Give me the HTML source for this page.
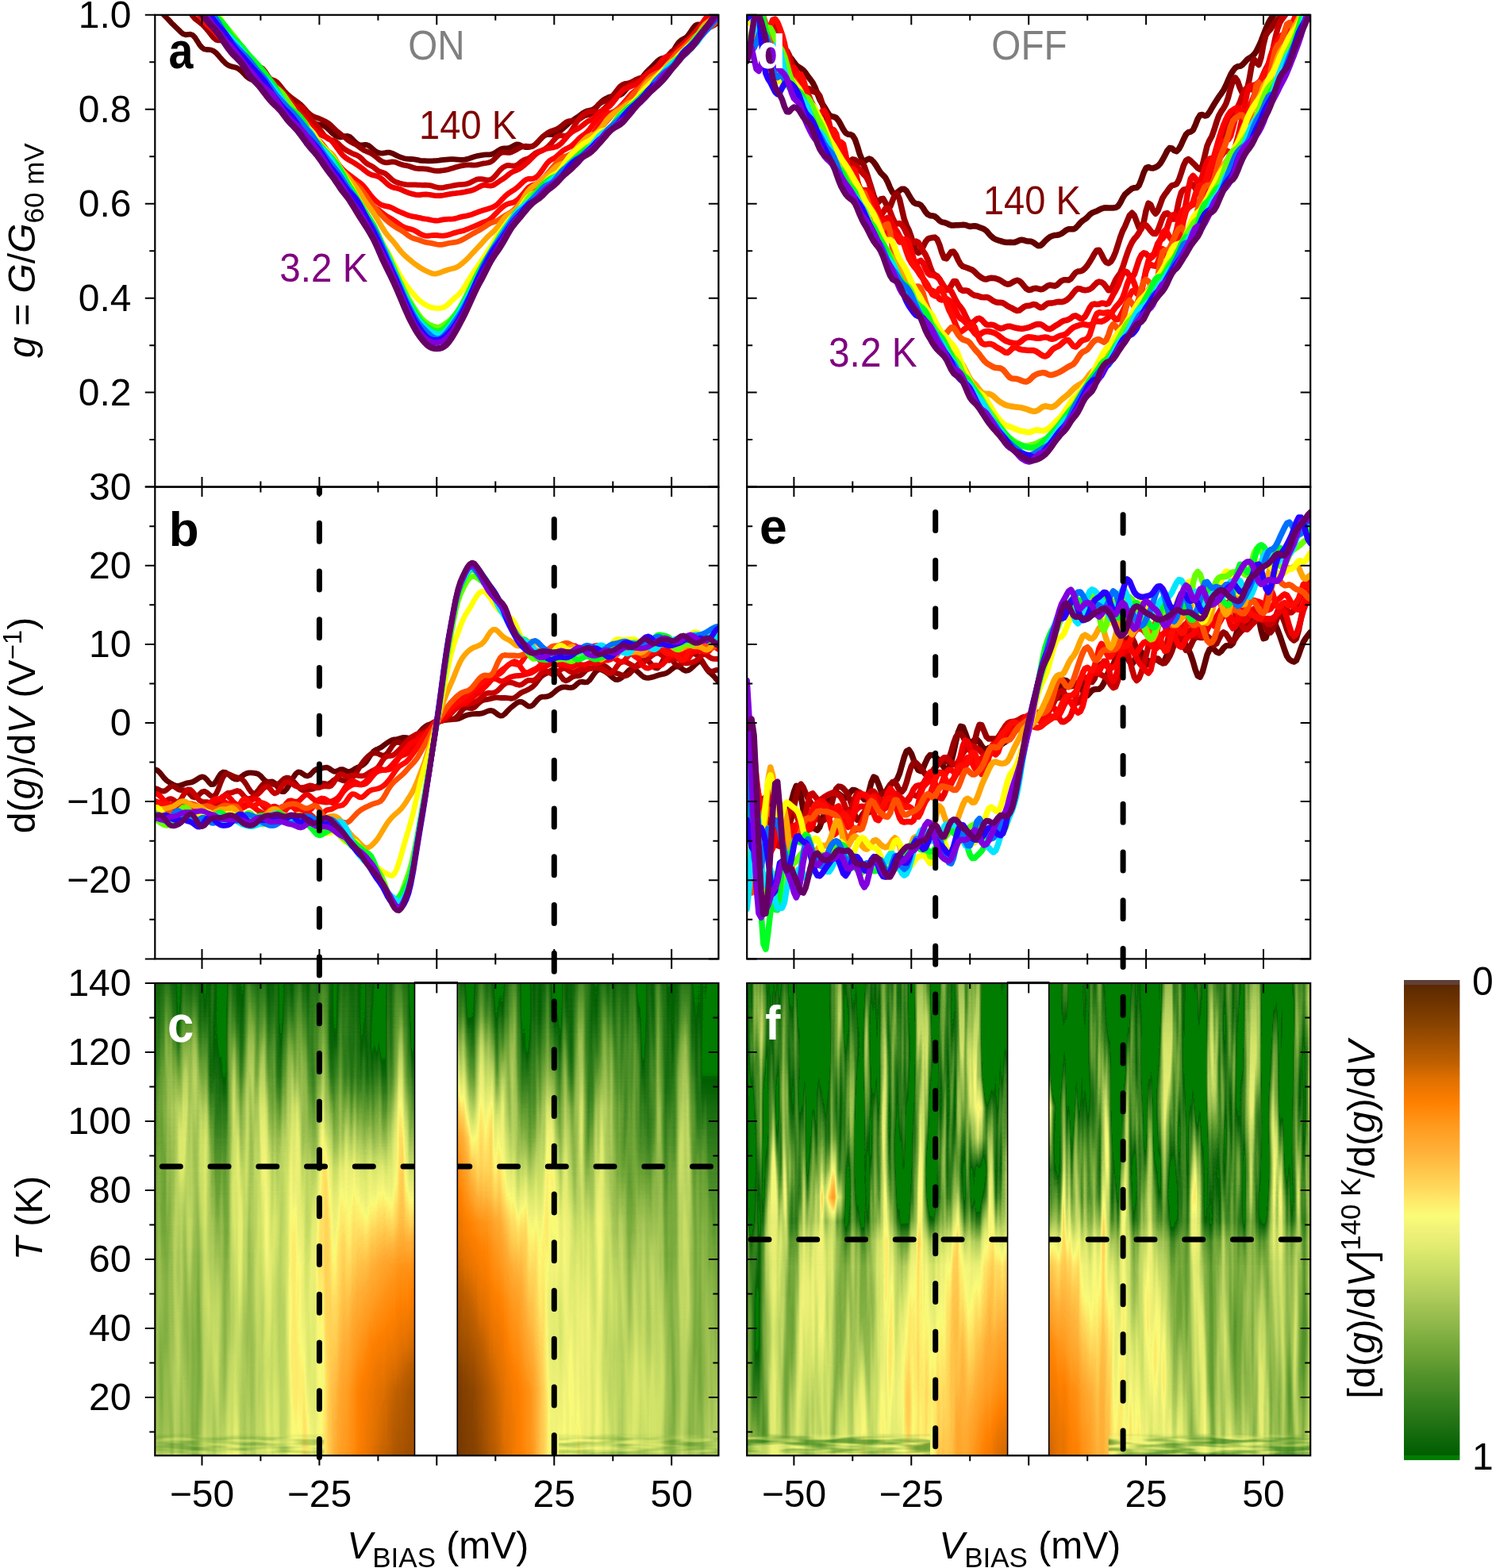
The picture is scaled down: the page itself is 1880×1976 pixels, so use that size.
<!DOCTYPE html><html><head><meta charset="utf-8"><title>Figure</title><style>
html,body{margin:0;padding:0;background:#fff;}
svg{display:block;}
text{font-family:"Liberation Sans", Arial, Helvetica, sans-serif;}
</style></head><body>
<svg xmlns="http://www.w3.org/2000/svg" width="1880" height="1976" viewBox="0 0 1880 1976">
<rect width="1880" height="1976" fill="#fff"/>
<defs><linearGradient id="hm0g0" x1="0" y1="0" x2="0" y2="1"><stop offset=".010" stop-color="#d52915"/><stop offset=".074" stop-color="#cd361b"/><stop offset=".139" stop-color="#c34221"/><stop offset=".203" stop-color="#b94321"/><stop offset=".268" stop-color="#b03f20"/><stop offset=".332" stop-color="#a9391c"/><stop offset=".397" stop-color="#a63018"/><stop offset=".454" stop-color="#a42914"/><stop offset=".504" stop-color="#a42613"/><stop offset=".547" stop-color="#a42412"/><stop offset=".597" stop-color="#a42211"/><stop offset=".669" stop-color="#a42111"/><stop offset=".755" stop-color="#a42010"/><stop offset=".855" stop-color="#a41f10"/><stop offset=".948" stop-color="#a41f10"/><stop offset=".990" stop-color="#a42915"/></linearGradient><linearGradient id="hm0g1" x1="0" y1="0" x2="0" y2="1"><stop offset=".010" stop-color="#d52915"/><stop offset=".074" stop-color="#cd361b"/><stop offset=".139" stop-color="#c34221"/><stop offset=".203" stop-color="#b94321"/><stop offset=".268" stop-color="#af3f20"/><stop offset=".332" stop-color="#a9391c"/><stop offset=".397" stop-color="#a53018"/><stop offset=".454" stop-color="#a42914"/><stop offset=".504" stop-color="#a32613"/><stop offset=".547" stop-color="#a32412"/><stop offset=".597" stop-color="#a32211"/><stop offset=".669" stop-color="#a32111"/><stop offset=".755" stop-color="#a32010"/><stop offset=".855" stop-color="#a31f10"/><stop offset=".948" stop-color="#a31f10"/><stop offset=".990" stop-color="#a32915"/></linearGradient><linearGradient id="hm0g2" x1="0" y1="0" x2="0" y2="1"><stop offset=".010" stop-color="#d52915"/><stop offset=".074" stop-color="#cd361b"/><stop offset=".139" stop-color="#c34221"/><stop offset=".203" stop-color="#b94321"/><stop offset=".268" stop-color="#af3f20"/><stop offset=".332" stop-color="#a8391c"/><stop offset=".397" stop-color="#a43018"/><stop offset=".454" stop-color="#a32914"/><stop offset=".504" stop-color="#a22613"/><stop offset=".547" stop-color="#a22412"/><stop offset=".597" stop-color="#a22211"/><stop offset=".669" stop-color="#a22111"/><stop offset=".755" stop-color="#a22010"/><stop offset=".855" stop-color="#a21f10"/><stop offset=".948" stop-color="#a21f10"/><stop offset=".990" stop-color="#a22915"/></linearGradient><linearGradient id="hm0g3" x1="0" y1="0" x2="0" y2="1"><stop offset=".010" stop-color="#d52915"/><stop offset=".074" stop-color="#cd361b"/><stop offset=".139" stop-color="#c34221"/><stop offset=".203" stop-color="#b94321"/><stop offset=".268" stop-color="#af3f20"/><stop offset=".332" stop-color="#a8391c"/><stop offset=".397" stop-color="#a43018"/><stop offset=".454" stop-color="#a22914"/><stop offset=".504" stop-color="#a22613"/><stop offset=".547" stop-color="#a22412"/><stop offset=".597" stop-color="#a22211"/><stop offset=".669" stop-color="#a22111"/><stop offset=".755" stop-color="#a22010"/><stop offset=".855" stop-color="#a11f10"/><stop offset=".948" stop-color="#a11f10"/><stop offset=".990" stop-color="#a12915"/></linearGradient><linearGradient id="hm0g4" x1="0" y1="0" x2="0" y2="1"><stop offset=".010" stop-color="#d52915"/><stop offset=".074" stop-color="#cd361b"/><stop offset=".139" stop-color="#c34221"/><stop offset=".203" stop-color="#b94321"/><stop offset=".268" stop-color="#af3f20"/><stop offset=".332" stop-color="#a7391c"/><stop offset=".397" stop-color="#a33018"/><stop offset=".454" stop-color="#a22914"/><stop offset=".504" stop-color="#a12613"/><stop offset=".547" stop-color="#a12412"/><stop offset=".597" stop-color="#a12211"/><stop offset=".669" stop-color="#a12111"/><stop offset=".755" stop-color="#a12010"/><stop offset=".855" stop-color="#a01f10"/><stop offset=".948" stop-color="#a01f10"/><stop offset=".990" stop-color="#a02915"/></linearGradient><linearGradient id="hm0g5" x1="0" y1="0" x2="0" y2="1"><stop offset=".010" stop-color="#d52915"/><stop offset=".074" stop-color="#cd361b"/><stop offset=".139" stop-color="#c34221"/><stop offset=".203" stop-color="#b94321"/><stop offset=".268" stop-color="#af3f20"/><stop offset=".332" stop-color="#a7391c"/><stop offset=".397" stop-color="#a23018"/><stop offset=".454" stop-color="#a12914"/><stop offset=".504" stop-color="#a02613"/><stop offset=".547" stop-color="#a02412"/><stop offset=".597" stop-color="#a02211"/><stop offset=".669" stop-color="#a02111"/><stop offset=".755" stop-color="#a02010"/><stop offset=".855" stop-color="#a01f10"/><stop offset=".948" stop-color="#a01f10"/><stop offset=".990" stop-color="#a02915"/></linearGradient><linearGradient id="hm0g6" x1="0" y1="0" x2="0" y2="1"><stop offset=".010" stop-color="#d52915"/><stop offset=".074" stop-color="#cd361b"/><stop offset=".139" stop-color="#c34221"/><stop offset=".203" stop-color="#b94321"/><stop offset=".268" stop-color="#ae3f20"/><stop offset=".332" stop-color="#a6391c"/><stop offset=".397" stop-color="#a23018"/><stop offset=".454" stop-color="#a02914"/><stop offset=".504" stop-color="#a02613"/><stop offset=".547" stop-color="#a02412"/><stop offset=".597" stop-color="#a02211"/><stop offset=".669" stop-color="#a02111"/><stop offset=".755" stop-color="#9f2010"/><stop offset=".855" stop-color="#9f1f10"/><stop offset=".948" stop-color="#9f1f10"/><stop offset=".990" stop-color="#9f2915"/></linearGradient><linearGradient id="hm0g7" x1="0" y1="0" x2="0" y2="1"><stop offset=".010" stop-color="#d52915"/><stop offset=".074" stop-color="#cd361b"/><stop offset=".139" stop-color="#c34221"/><stop offset=".203" stop-color="#b94321"/><stop offset=".268" stop-color="#ae3f20"/><stop offset=".332" stop-color="#a6391c"/><stop offset=".397" stop-color="#a13018"/><stop offset=".454" stop-color="#a02914"/><stop offset=".504" stop-color="#9f2613"/><stop offset=".547" stop-color="#9f2412"/><stop offset=".597" stop-color="#9f2211"/><stop offset=".669" stop-color="#9f2111"/><stop offset=".755" stop-color="#9f2010"/><stop offset=".855" stop-color="#9e1f10"/><stop offset=".948" stop-color="#9e1f10"/><stop offset=".990" stop-color="#9e2915"/></linearGradient><linearGradient id="hm0g8" x1="0" y1="0" x2="0" y2="1"><stop offset=".010" stop-color="#d52915"/><stop offset=".074" stop-color="#cd361b"/><stop offset=".139" stop-color="#c34221"/><stop offset=".203" stop-color="#b94321"/><stop offset=".268" stop-color="#ae3f20"/><stop offset=".332" stop-color="#a5391c"/><stop offset=".397" stop-color="#a03018"/><stop offset=".454" stop-color="#9f2914"/><stop offset=".504" stop-color="#9e2613"/><stop offset=".547" stop-color="#9e2412"/><stop offset=".597" stop-color="#9e2211"/><stop offset=".669" stop-color="#9e2111"/><stop offset=".755" stop-color="#9e2010"/><stop offset=".855" stop-color="#9d1f10"/><stop offset=".948" stop-color="#9d1f10"/><stop offset=".990" stop-color="#9d2915"/></linearGradient><linearGradient id="hm0g9" x1="0" y1="0" x2="0" y2="1"><stop offset=".010" stop-color="#d52915"/><stop offset=".074" stop-color="#cd361b"/><stop offset=".139" stop-color="#c34221"/><stop offset=".203" stop-color="#b94321"/><stop offset=".268" stop-color="#ae3f20"/><stop offset=".332" stop-color="#a5391c"/><stop offset=".397" stop-color="#9f3018"/><stop offset=".454" stop-color="#9e2914"/><stop offset=".504" stop-color="#9e2613"/><stop offset=".547" stop-color="#9e2412"/><stop offset=".597" stop-color="#9e2211"/><stop offset=".669" stop-color="#9e2111"/><stop offset=".755" stop-color="#9d2010"/><stop offset=".855" stop-color="#9c1f10"/><stop offset=".948" stop-color="#9c1f10"/><stop offset=".990" stop-color="#9c2915"/></linearGradient><linearGradient id="hm0g10" x1="0" y1="0" x2="0" y2="1"><stop offset=".010" stop-color="#d52915"/><stop offset=".074" stop-color="#cd361b"/><stop offset=".139" stop-color="#c34221"/><stop offset=".203" stop-color="#b94321"/><stop offset=".268" stop-color="#ad3f20"/><stop offset=".332" stop-color="#a5391c"/><stop offset=".397" stop-color="#9f3018"/><stop offset=".454" stop-color="#9e2914"/><stop offset=".504" stop-color="#9d2613"/><stop offset=".547" stop-color="#9d2412"/><stop offset=".597" stop-color="#9d2211"/><stop offset=".669" stop-color="#9d2111"/><stop offset=".755" stop-color="#9d2010"/><stop offset=".855" stop-color="#9b1f10"/><stop offset=".948" stop-color="#9b1f10"/><stop offset=".990" stop-color="#9b2915"/></linearGradient><linearGradient id="hm0g11" x1="0" y1="0" x2="0" y2="1"><stop offset=".010" stop-color="#d52915"/><stop offset=".074" stop-color="#cd361b"/><stop offset=".139" stop-color="#c34221"/><stop offset=".203" stop-color="#b94321"/><stop offset=".268" stop-color="#ad3f20"/><stop offset=".332" stop-color="#a4391c"/><stop offset=".397" stop-color="#9e3018"/><stop offset=".454" stop-color="#9c2914"/><stop offset=".504" stop-color="#9c2613"/><stop offset=".547" stop-color="#9c2412"/><stop offset=".597" stop-color="#9b2211"/><stop offset=".669" stop-color="#9b2111"/><stop offset=".755" stop-color="#9b2010"/><stop offset=".855" stop-color="#9a1f10"/><stop offset=".948" stop-color="#9a1f10"/><stop offset=".990" stop-color="#9a2915"/></linearGradient><linearGradient id="hm0g12" x1="0" y1="0" x2="0" y2="1"><stop offset=".010" stop-color="#d52915"/><stop offset=".074" stop-color="#cd361b"/><stop offset=".139" stop-color="#c34221"/><stop offset=".203" stop-color="#b94321"/><stop offset=".268" stop-color="#ad3f20"/><stop offset=".332" stop-color="#a3391c"/><stop offset=".397" stop-color="#9d3018"/><stop offset=".454" stop-color="#9b2914"/><stop offset=".504" stop-color="#9a2613"/><stop offset=".547" stop-color="#9a2412"/><stop offset=".597" stop-color="#992211"/><stop offset=".669" stop-color="#992111"/><stop offset=".755" stop-color="#992010"/><stop offset=".855" stop-color="#971f10"/><stop offset=".948" stop-color="#971f10"/><stop offset=".990" stop-color="#972915"/></linearGradient><linearGradient id="hm0g13" x1="0" y1="0" x2="0" y2="1"><stop offset=".010" stop-color="#d52915"/><stop offset=".074" stop-color="#cd361b"/><stop offset=".139" stop-color="#c34221"/><stop offset=".203" stop-color="#b94321"/><stop offset=".268" stop-color="#ad3f20"/><stop offset=".332" stop-color="#a2391c"/><stop offset=".397" stop-color="#9c3018"/><stop offset=".454" stop-color="#992914"/><stop offset=".504" stop-color="#982613"/><stop offset=".547" stop-color="#982412"/><stop offset=".597" stop-color="#972211"/><stop offset=".669" stop-color="#972111"/><stop offset=".755" stop-color="#972010"/><stop offset=".855" stop-color="#951f10"/><stop offset=".948" stop-color="#951f10"/><stop offset=".990" stop-color="#952915"/></linearGradient><linearGradient id="hm0g14" x1="0" y1="0" x2="0" y2="1"><stop offset=".010" stop-color="#d52915"/><stop offset=".074" stop-color="#cd361b"/><stop offset=".139" stop-color="#c34221"/><stop offset=".203" stop-color="#b94321"/><stop offset=".268" stop-color="#ac3f20"/><stop offset=".332" stop-color="#a2391c"/><stop offset=".397" stop-color="#9b3018"/><stop offset=".454" stop-color="#982914"/><stop offset=".504" stop-color="#962613"/><stop offset=".547" stop-color="#962412"/><stop offset=".597" stop-color="#952211"/><stop offset=".669" stop-color="#952111"/><stop offset=".755" stop-color="#942010"/><stop offset=".855" stop-color="#931f10"/><stop offset=".948" stop-color="#931f10"/><stop offset=".990" stop-color="#932915"/></linearGradient><linearGradient id="hm0g15" x1="0" y1="0" x2="0" y2="1"><stop offset=".010" stop-color="#d52915"/><stop offset=".074" stop-color="#cd361b"/><stop offset=".139" stop-color="#c34221"/><stop offset=".203" stop-color="#b94321"/><stop offset=".268" stop-color="#ac3f20"/><stop offset=".332" stop-color="#a1391c"/><stop offset=".397" stop-color="#993018"/><stop offset=".454" stop-color="#972914"/><stop offset=".504" stop-color="#952613"/><stop offset=".547" stop-color="#942412"/><stop offset=".597" stop-color="#932211"/><stop offset=".669" stop-color="#932111"/><stop offset=".755" stop-color="#922010"/><stop offset=".855" stop-color="#911f0f"/><stop offset=".948" stop-color="#911e0f"/><stop offset=".990" stop-color="#912814"/></linearGradient><linearGradient id="hm0g16" x1="0" y1="0" x2="0" y2="1"><stop offset=".010" stop-color="#d52915"/><stop offset=".074" stop-color="#cd361b"/><stop offset=".139" stop-color="#c34221"/><stop offset=".203" stop-color="#b94321"/><stop offset=".268" stop-color="#ac3f20"/><stop offset=".332" stop-color="#a0391c"/><stop offset=".397" stop-color="#983018"/><stop offset=".454" stop-color="#952914"/><stop offset=".504" stop-color="#932613"/><stop offset=".547" stop-color="#922412"/><stop offset=".597" stop-color="#912211"/><stop offset=".669" stop-color="#902110"/><stop offset=".755" stop-color="#901f10"/><stop offset=".855" stop-color="#8f1d0f"/><stop offset=".948" stop-color="#8f1d0f"/><stop offset=".990" stop-color="#8f2713"/></linearGradient><linearGradient id="hm0g17" x1="0" y1="0" x2="0" y2="1"><stop offset=".010" stop-color="#d52915"/><stop offset=".074" stop-color="#cd361b"/><stop offset=".139" stop-color="#c34221"/><stop offset=".203" stop-color="#b94321"/><stop offset=".268" stop-color="#ab3f20"/><stop offset=".332" stop-color="#9f391c"/><stop offset=".397" stop-color="#973018"/><stop offset=".454" stop-color="#942914"/><stop offset=".504" stop-color="#912613"/><stop offset=".547" stop-color="#902311"/><stop offset=".597" stop-color="#8e2010"/><stop offset=".669" stop-color="#8e1f10"/><stop offset=".755" stop-color="#8e1e0f"/><stop offset=".855" stop-color="#8c1c0e"/><stop offset=".948" stop-color="#8c1c0e"/><stop offset=".990" stop-color="#8c2512"/></linearGradient><linearGradient id="hm0g18" x1="0" y1="0" x2="0" y2="1"><stop offset=".010" stop-color="#d52915"/><stop offset=".074" stop-color="#cd361b"/><stop offset=".139" stop-color="#c34221"/><stop offset=".203" stop-color="#b94321"/><stop offset=".268" stop-color="#ab3f20"/><stop offset=".332" stop-color="#9e391c"/><stop offset=".397" stop-color="#963018"/><stop offset=".454" stop-color="#922914"/><stop offset=".504" stop-color="#8f2412"/><stop offset=".547" stop-color="#8d2111"/><stop offset=".597" stop-color="#8c1e0f"/><stop offset=".669" stop-color="#8b1e0f"/><stop offset=".755" stop-color="#8b1c0e"/><stop offset=".855" stop-color="#8a1b0d"/><stop offset=".948" stop-color="#8a1b0d"/><stop offset=".990" stop-color="#8a2312"/></linearGradient><linearGradient id="hm0g19" x1="0" y1="0" x2="0" y2="1"><stop offset=".010" stop-color="#d52915"/><stop offset=".074" stop-color="#cd361b"/><stop offset=".139" stop-color="#c34221"/><stop offset=".203" stop-color="#b94321"/><stop offset=".268" stop-color="#aa3f20"/><stop offset=".332" stop-color="#9d391c"/><stop offset=".397" stop-color="#943018"/><stop offset=".454" stop-color="#902714"/><stop offset=".504" stop-color="#8c2311"/><stop offset=".547" stop-color="#8b2010"/><stop offset=".597" stop-color="#891d0e"/><stop offset=".669" stop-color="#891c0e"/><stop offset=".755" stop-color="#881b0d"/><stop offset=".855" stop-color="#881a0d"/><stop offset=".948" stop-color="#88190d"/><stop offset=".990" stop-color="#882211"/></linearGradient><linearGradient id="hm0g20" x1="0" y1="0" x2="0" y2="1"><stop offset=".010" stop-color="#d52915"/><stop offset=".074" stop-color="#cd361b"/><stop offset=".139" stop-color="#c34221"/><stop offset=".203" stop-color="#b84321"/><stop offset=".268" stop-color="#aa3f20"/><stop offset=".332" stop-color="#9d391c"/><stop offset=".397" stop-color="#933018"/><stop offset=".454" stop-color="#8e2613"/><stop offset=".504" stop-color="#8b2111"/><stop offset=".547" stop-color="#891e0f"/><stop offset=".597" stop-color="#871b0e"/><stop offset=".669" stop-color="#861b0d"/><stop offset=".755" stop-color="#861a0d"/><stop offset=".855" stop-color="#86190c"/><stop offset=".948" stop-color="#86180c"/><stop offset=".990" stop-color="#862010"/></linearGradient><linearGradient id="hm0g21" x1="0" y1="0" x2="0" y2="1"><stop offset=".010" stop-color="#d52915"/><stop offset=".074" stop-color="#cd361b"/><stop offset=".139" stop-color="#c34221"/><stop offset=".203" stop-color="#b84321"/><stop offset=".268" stop-color="#a93f20"/><stop offset=".332" stop-color="#9c391c"/><stop offset=".397" stop-color="#923018"/><stop offset=".454" stop-color="#8d2513"/><stop offset=".504" stop-color="#892010"/><stop offset=".547" stop-color="#871d0f"/><stop offset=".597" stop-color="#851a0d"/><stop offset=".669" stop-color="#851a0d"/><stop offset=".755" stop-color="#85190c"/><stop offset=".855" stop-color="#85180c"/><stop offset=".948" stop-color="#85180c"/><stop offset=".990" stop-color="#851f10"/></linearGradient><linearGradient id="hm0g22" x1="0" y1="0" x2="0" y2="1"><stop offset=".010" stop-color="#d52915"/><stop offset=".074" stop-color="#cd361b"/><stop offset=".139" stop-color="#c34221"/><stop offset=".203" stop-color="#b84321"/><stop offset=".268" stop-color="#a93f20"/><stop offset=".332" stop-color="#9b391c"/><stop offset=".397" stop-color="#902e17"/><stop offset=".454" stop-color="#8c2412"/><stop offset=".504" stop-color="#882010"/><stop offset=".547" stop-color="#861c0e"/><stop offset=".597" stop-color="#84190d"/><stop offset=".669" stop-color="#84190c"/><stop offset=".755" stop-color="#84180c"/><stop offset=".855" stop-color="#84170c"/><stop offset=".948" stop-color="#83170b"/><stop offset=".990" stop-color="#831e0f"/></linearGradient><linearGradient id="hm0g23" x1="0" y1="0" x2="0" y2="1"><stop offset=".010" stop-color="#d52915"/><stop offset=".074" stop-color="#cd361b"/><stop offset=".139" stop-color="#c34221"/><stop offset=".203" stop-color="#b84321"/><stop offset=".268" stop-color="#a93f20"/><stop offset=".332" stop-color="#9b391c"/><stop offset=".397" stop-color="#8f2d17"/><stop offset=".454" stop-color="#8a2312"/><stop offset=".504" stop-color="#871f0f"/><stop offset=".547" stop-color="#851c0e"/><stop offset=".597" stop-color="#82190c"/><stop offset=".669" stop-color="#82180c"/><stop offset=".755" stop-color="#83180c"/><stop offset=".855" stop-color="#83170b"/><stop offset=".948" stop-color="#82160b"/><stop offset=".990" stop-color="#811d0e"/></linearGradient><linearGradient id="hm0g24" x1="0" y1="0" x2="0" y2="1"><stop offset=".010" stop-color="#d52915"/><stop offset=".074" stop-color="#cd361b"/><stop offset=".139" stop-color="#c34221"/><stop offset=".203" stop-color="#b84321"/><stop offset=".268" stop-color="#a83f20"/><stop offset=".332" stop-color="#9a391c"/><stop offset=".397" stop-color="#8e2c16"/><stop offset=".454" stop-color="#892211"/><stop offset=".504" stop-color="#861e0f"/><stop offset=".547" stop-color="#831b0d"/><stop offset=".597" stop-color="#81180c"/><stop offset=".669" stop-color="#81170c"/><stop offset=".755" stop-color="#82170c"/><stop offset=".855" stop-color="#82160b"/><stop offset=".948" stop-color="#80150a"/><stop offset=".990" stop-color="#7f1b0e"/></linearGradient><linearGradient id="hm0g25" x1="0" y1="0" x2="0" y2="1"><stop offset=".010" stop-color="#d52915"/><stop offset=".074" stop-color="#cd361b"/><stop offset=".139" stop-color="#c34221"/><stop offset=".203" stop-color="#b84321"/><stop offset=".268" stop-color="#a83f20"/><stop offset=".332" stop-color="#99391c"/><stop offset=".397" stop-color="#8d2b16"/><stop offset=".454" stop-color="#882111"/><stop offset=".504" stop-color="#841d0e"/><stop offset=".547" stop-color="#821a0d"/><stop offset=".597" stop-color="#7f170b"/><stop offset=".669" stop-color="#80170b"/><stop offset=".755" stop-color="#81170b"/><stop offset=".855" stop-color="#81160b"/><stop offset=".948" stop-color="#7e140a"/><stop offset=".990" stop-color="#7e1a0d"/></linearGradient><linearGradient id="hm0g26" x1="0" y1="0" x2="0" y2="1"><stop offset=".010" stop-color="#d52915"/><stop offset=".074" stop-color="#cd361b"/><stop offset=".139" stop-color="#c34221"/><stop offset=".203" stop-color="#b84321"/><stop offset=".268" stop-color="#a83f20"/><stop offset=".332" stop-color="#98391c"/><stop offset=".397" stop-color="#8c2a15"/><stop offset=".454" stop-color="#872010"/><stop offset=".504" stop-color="#831c0e"/><stop offset=".547" stop-color="#81190c"/><stop offset=".597" stop-color="#7e160b"/><stop offset=".669" stop-color="#7f160b"/><stop offset=".755" stop-color="#80160b"/><stop offset=".855" stop-color="#80150b"/><stop offset=".948" stop-color="#7c1309"/><stop offset=".990" stop-color="#7c180c"/></linearGradient><linearGradient id="hm0g27" x1="0" y1="0" x2="0" y2="1"><stop offset=".010" stop-color="#d52915"/><stop offset=".074" stop-color="#cd361b"/><stop offset=".139" stop-color="#c34221"/><stop offset=".203" stop-color="#b84321"/><stop offset=".268" stop-color="#a73f20"/><stop offset=".332" stop-color="#97391c"/><stop offset=".397" stop-color="#8a2915"/><stop offset=".454" stop-color="#852010"/><stop offset=".504" stop-color="#821b0e"/><stop offset=".547" stop-color="#7f180c"/><stop offset=".597" stop-color="#7c150a"/><stop offset=".669" stop-color="#7d150b"/><stop offset=".755" stop-color="#7f150b"/><stop offset=".855" stop-color="#7e140a"/><stop offset=".948" stop-color="#7a1209"/><stop offset=".990" stop-color="#79170b"/></linearGradient><linearGradient id="hm0g28" x1="0" y1="0" x2="0" y2="1"><stop offset=".010" stop-color="#d52915"/><stop offset=".074" stop-color="#cd361b"/><stop offset=".139" stop-color="#c34221"/><stop offset=".203" stop-color="#b84321"/><stop offset=".268" stop-color="#a73f20"/><stop offset=".332" stop-color="#96391c"/><stop offset=".397" stop-color="#892814"/><stop offset=".454" stop-color="#841f0f"/><stop offset=".504" stop-color="#801a0d"/><stop offset=".547" stop-color="#7e170b"/><stop offset=".597" stop-color="#7b140a"/><stop offset=".669" stop-color="#7b130a"/><stop offset=".755" stop-color="#7b1309"/><stop offset=".855" stop-color="#791108"/><stop offset=".948" stop-color="#750f07"/><stop offset=".990" stop-color="#741309"/></linearGradient><linearGradient id="hm0g29" x1="0" y1="0" x2="0" y2="1"><stop offset=".010" stop-color="#d52915"/><stop offset=".074" stop-color="#cd361b"/><stop offset=".139" stop-color="#c34221"/><stop offset=".203" stop-color="#b84321"/><stop offset=".268" stop-color="#a63f20"/><stop offset=".332" stop-color="#95391c"/><stop offset=".397" stop-color="#882714"/><stop offset=".454" stop-color="#831e0f"/><stop offset=".504" stop-color="#7f190d"/><stop offset=".547" stop-color="#7c160b"/><stop offset=".597" stop-color="#791309"/><stop offset=".669" stop-color="#781209"/><stop offset=".755" stop-color="#761008"/><stop offset=".855" stop-color="#730e07"/><stop offset=".948" stop-color="#6f0c06"/><stop offset=".990" stop-color="#6f0f07"/></linearGradient><linearGradient id="hm0g30" x1="0" y1="0" x2="0" y2="1"><stop offset=".010" stop-color="#d52915"/><stop offset=".074" stop-color="#cd361b"/><stop offset=".139" stop-color="#c34221"/><stop offset=".203" stop-color="#b74321"/><stop offset=".268" stop-color="#a53f20"/><stop offset=".332" stop-color="#94391c"/><stop offset=".397" stop-color="#872613"/><stop offset=".454" stop-color="#821d0e"/><stop offset=".504" stop-color="#7e180c"/><stop offset=".547" stop-color="#7b150b"/><stop offset=".597" stop-color="#781209"/><stop offset=".669" stop-color="#751008"/><stop offset=".755" stop-color="#720e07"/><stop offset=".855" stop-color="#6d0a05"/><stop offset=".948" stop-color="#6a0804"/><stop offset=".990" stop-color="#690b05"/></linearGradient><linearGradient id="hm0g31" x1="0" y1="0" x2="0" y2="1"><stop offset=".010" stop-color="#d52915"/><stop offset=".074" stop-color="#cd361b"/><stop offset=".139" stop-color="#c34221"/><stop offset=".203" stop-color="#b74321"/><stop offset=".268" stop-color="#a53f20"/><stop offset=".332" stop-color="#94391c"/><stop offset=".397" stop-color="#862513"/><stop offset=".454" stop-color="#811c0e"/><stop offset=".504" stop-color="#7d180c"/><stop offset=".547" stop-color="#7a140a"/><stop offset=".597" stop-color="#761108"/><stop offset=".669" stop-color="#720e07"/><stop offset=".755" stop-color="#6e0b06"/><stop offset=".855" stop-color="#670704"/><stop offset=".948" stop-color="#650503"/><stop offset=".990" stop-color="#640703"/></linearGradient><linearGradient id="hm0g32" x1="0" y1="0" x2="0" y2="1"><stop offset=".010" stop-color="#d52915"/><stop offset=".074" stop-color="#cd361b"/><stop offset=".139" stop-color="#c34221"/><stop offset=".203" stop-color="#b74321"/><stop offset=".268" stop-color="#a43f20"/><stop offset=".332" stop-color="#93391c"/><stop offset=".397" stop-color="#852412"/><stop offset=".454" stop-color="#801b0e"/><stop offset=".504" stop-color="#7c170b"/><stop offset=".547" stop-color="#78130a"/><stop offset=".597" stop-color="#741008"/><stop offset=".669" stop-color="#700d06"/><stop offset=".755" stop-color="#6a0904"/><stop offset=".855" stop-color="#630402"/><stop offset=".948" stop-color="#600301"/><stop offset=".990" stop-color="#5f0302"/></linearGradient><linearGradient id="hm0g33" x1="0" y1="0" x2="0" y2="1"><stop offset=".010" stop-color="#d52915"/><stop offset=".074" stop-color="#cd361b"/><stop offset=".139" stop-color="#c34221"/><stop offset=".203" stop-color="#b64321"/><stop offset=".268" stop-color="#a43f20"/><stop offset=".332" stop-color="#92391c"/><stop offset=".397" stop-color="#842412"/><stop offset=".454" stop-color="#7f1b0d"/><stop offset=".504" stop-color="#7b160b"/><stop offset=".547" stop-color="#771209"/><stop offset=".597" stop-color="#730f07"/><stop offset=".669" stop-color="#6d0b05"/><stop offset=".755" stop-color="#660703"/><stop offset=".855" stop-color="#5f0201"/><stop offset=".948" stop-color="#5d0201"/><stop offset=".990" stop-color="#5d0302"/></linearGradient><linearGradient id="hm0g34" x1="0" y1="0" x2="0" y2="1"><stop offset=".010" stop-color="#d52915"/><stop offset=".074" stop-color="#cd361b"/><stop offset=".139" stop-color="#c34221"/><stop offset=".203" stop-color="#b64321"/><stop offset=".268" stop-color="#a33f20"/><stop offset=".332" stop-color="#92391c"/><stop offset=".397" stop-color="#842412"/><stop offset=".454" stop-color="#7f1a0d"/><stop offset=".504" stop-color="#7a150b"/><stop offset=".547" stop-color="#761209"/><stop offset=".597" stop-color="#710e07"/><stop offset=".669" stop-color="#6a0905"/><stop offset=".755" stop-color="#630502"/><stop offset=".855" stop-color="#5c0201"/><stop offset=".948" stop-color="#5a0201"/><stop offset=".990" stop-color="#5a0302"/></linearGradient><linearGradient id="hm0g35" x1="0" y1="0" x2="0" y2="1"><stop offset=".010" stop-color="#d52915"/><stop offset=".074" stop-color="#cd361b"/><stop offset=".139" stop-color="#c24221"/><stop offset=".203" stop-color="#b64321"/><stop offset=".268" stop-color="#a33f20"/><stop offset=".332" stop-color="#92391c"/><stop offset=".397" stop-color="#842312"/><stop offset=".454" stop-color="#7e1a0d"/><stop offset=".504" stop-color="#79150a"/><stop offset=".547" stop-color="#741108"/><stop offset=".597" stop-color="#6f0c06"/><stop offset=".669" stop-color="#670804"/><stop offset=".755" stop-color="#5f0301"/><stop offset=".855" stop-color="#580201"/><stop offset=".948" stop-color="#580201"/><stop offset=".990" stop-color="#570302"/></linearGradient><linearGradient id="hm0g36" x1="0" y1="0" x2="0" y2="1"><stop offset=".010" stop-color="#d52915"/><stop offset=".074" stop-color="#cd361b"/><stop offset=".139" stop-color="#c24221"/><stop offset=".203" stop-color="#b54321"/><stop offset=".268" stop-color="#a33f20"/><stop offset=".332" stop-color="#91381c"/><stop offset=".397" stop-color="#832311"/><stop offset=".454" stop-color="#7d190d"/><stop offset=".504" stop-color="#78140a"/><stop offset=".547" stop-color="#731008"/><stop offset=".597" stop-color="#6d0b06"/><stop offset=".669" stop-color="#650603"/><stop offset=".755" stop-color="#5c0301"/><stop offset=".855" stop-color="#550201"/><stop offset=".948" stop-color="#550201"/><stop offset=".990" stop-color="#550302"/></linearGradient><linearGradient id="hm0g37" x1="0" y1="0" x2="0" y2="1"><stop offset=".010" stop-color="#d52915"/><stop offset=".074" stop-color="#cd361b"/><stop offset=".139" stop-color="#c24221"/><stop offset=".203" stop-color="#b54321"/><stop offset=".268" stop-color="#a23f20"/><stop offset=".332" stop-color="#91381c"/><stop offset=".397" stop-color="#832311"/><stop offset=".454" stop-color="#7d190d"/><stop offset=".504" stop-color="#77140a"/><stop offset=".547" stop-color="#720f07"/><stop offset=".597" stop-color="#6b0a05"/><stop offset=".669" stop-color="#620502"/><stop offset=".755" stop-color="#5a0301"/><stop offset=".855" stop-color="#530201"/><stop offset=".948" stop-color="#520201"/><stop offset=".990" stop-color="#520302"/></linearGradient><linearGradient id="hm0g38" x1="0" y1="0" x2="0" y2="1"><stop offset=".010" stop-color="#d52915"/><stop offset=".074" stop-color="#cd361b"/><stop offset=".139" stop-color="#c24221"/><stop offset=".203" stop-color="#b54321"/><stop offset=".268" stop-color="#a23f20"/><stop offset=".332" stop-color="#91381c"/><stop offset=".397" stop-color="#832211"/><stop offset=".454" stop-color="#7c190c"/><stop offset=".504" stop-color="#76130a"/><stop offset=".547" stop-color="#700e07"/><stop offset=".597" stop-color="#690904"/><stop offset=".669" stop-color="#610302"/><stop offset=".755" stop-color="#580301"/><stop offset=".855" stop-color="#510201"/><stop offset=".948" stop-color="#500201"/><stop offset=".990" stop-color="#500302"/></linearGradient><linearGradient id="hm0g39" x1="0" y1="0" x2="0" y2="1"><stop offset=".010" stop-color="#d52915"/><stop offset=".074" stop-color="#cd361b"/><stop offset=".139" stop-color="#c24221"/><stop offset=".203" stop-color="#b44321"/><stop offset=".268" stop-color="#a13f20"/><stop offset=".332" stop-color="#90371c"/><stop offset=".397" stop-color="#822211"/><stop offset=".454" stop-color="#7c190c"/><stop offset=".504" stop-color="#761309"/><stop offset=".547" stop-color="#6f0d07"/><stop offset=".597" stop-color="#670804"/><stop offset=".669" stop-color="#5f0301"/><stop offset=".755" stop-color="#560301"/><stop offset=".855" stop-color="#500201"/><stop offset=".948" stop-color="#4e0201"/><stop offset=".990" stop-color="#4e0302"/></linearGradient><linearGradient id="hm0g40" x1="0" y1="0" x2="0" y2="1"><stop offset=".010" stop-color="#d52915"/><stop offset=".074" stop-color="#cd361b"/><stop offset=".139" stop-color="#c24221"/><stop offset=".203" stop-color="#b44321"/><stop offset=".268" stop-color="#a13f20"/><stop offset=".332" stop-color="#90371b"/><stop offset=".397" stop-color="#822211"/><stop offset=".454" stop-color="#7c180c"/><stop offset=".504" stop-color="#751209"/><stop offset=".547" stop-color="#6e0c06"/><stop offset=".597" stop-color="#660703"/><stop offset=".669" stop-color="#5d0301"/><stop offset=".755" stop-color="#540301"/><stop offset=".855" stop-color="#4e0201"/><stop offset=".948" stop-color="#4c0201"/><stop offset=".990" stop-color="#4b0302"/></linearGradient><linearGradient id="hm0g41" x1="0" y1="0" x2="0" y2="1"><stop offset=".010" stop-color="#d52915"/><stop offset=".074" stop-color="#cd361b"/><stop offset=".139" stop-color="#c24221"/><stop offset=".203" stop-color="#b44321"/><stop offset=".268" stop-color="#a13f20"/><stop offset=".332" stop-color="#8f361b"/><stop offset=".397" stop-color="#812111"/><stop offset=".454" stop-color="#7b180c"/><stop offset=".504" stop-color="#741209"/><stop offset=".547" stop-color="#6d0c06"/><stop offset=".597" stop-color="#640503"/><stop offset=".669" stop-color="#5b0301"/><stop offset=".755" stop-color="#520301"/><stop offset=".855" stop-color="#4c0201"/><stop offset=".948" stop-color="#4a0201"/><stop offset=".990" stop-color="#490302"/></linearGradient><linearGradient id="hm0g42" x1="0" y1="0" x2="0" y2="1"><stop offset=".010" stop-color="#d52915"/><stop offset=".074" stop-color="#cd361b"/><stop offset=".139" stop-color="#c14221"/><stop offset=".203" stop-color="#b34321"/><stop offset=".268" stop-color="#a03f20"/><stop offset=".332" stop-color="#8f361b"/><stop offset=".397" stop-color="#812111"/><stop offset=".454" stop-color="#7b170c"/><stop offset=".504" stop-color="#731108"/><stop offset=".547" stop-color="#6b0b05"/><stop offset=".597" stop-color="#620402"/><stop offset=".669" stop-color="#5a0301"/><stop offset=".755" stop-color="#510301"/><stop offset=".855" stop-color="#4b0201"/><stop offset=".948" stop-color="#480201"/><stop offset=".990" stop-color="#470302"/></linearGradient><linearGradient id="hm0g43" x1="0" y1="0" x2="0" y2="1"><stop offset=".010" stop-color="#d52915"/><stop offset=".074" stop-color="#cd361b"/><stop offset=".139" stop-color="#c14221"/><stop offset=".203" stop-color="#b24321"/><stop offset=".268" stop-color="#9f3f20"/><stop offset=".332" stop-color="#8f361b"/><stop offset=".397" stop-color="#812111"/><stop offset=".454" stop-color="#7a170b"/><stop offset=".504" stop-color="#721008"/><stop offset=".547" stop-color="#6a0a05"/><stop offset=".597" stop-color="#600301"/><stop offset=".669" stop-color="#580301"/><stop offset=".755" stop-color="#510301"/><stop offset=".855" stop-color="#490201"/><stop offset=".948" stop-color="#460201"/><stop offset=".990" stop-color="#450302"/></linearGradient><linearGradient id="hm0g44" x1="0" y1="0" x2="0" y2="1"><stop offset=".010" stop-color="#d52915"/><stop offset=".074" stop-color="#cd361b"/><stop offset=".139" stop-color="#c14221"/><stop offset=".203" stop-color="#b14321"/><stop offset=".268" stop-color="#9f3f20"/><stop offset=".332" stop-color="#8e351b"/><stop offset=".397" stop-color="#812111"/><stop offset=".454" stop-color="#79160b"/><stop offset=".504" stop-color="#710f08"/><stop offset=".547" stop-color="#680904"/><stop offset=".597" stop-color="#5e0301"/><stop offset=".669" stop-color="#570301"/><stop offset=".755" stop-color="#500301"/><stop offset=".855" stop-color="#480201"/><stop offset=".948" stop-color="#440201"/><stop offset=".990" stop-color="#430302"/></linearGradient><linearGradient id="hm0g45" x1="0" y1="0" x2="0" y2="1"><stop offset=".010" stop-color="#d52915"/><stop offset=".074" stop-color="#cd361b"/><stop offset=".139" stop-color="#c04221"/><stop offset=".203" stop-color="#b04321"/><stop offset=".268" stop-color="#9e3f20"/><stop offset=".332" stop-color="#8e351b"/><stop offset=".397" stop-color="#812111"/><stop offset=".454" stop-color="#79160b"/><stop offset=".504" stop-color="#700e07"/><stop offset=".547" stop-color="#670804"/><stop offset=".597" stop-color="#5c0301"/><stop offset=".669" stop-color="#560301"/><stop offset=".755" stop-color="#4f0301"/><stop offset=".855" stop-color="#460201"/><stop offset=".948" stop-color="#420201"/><stop offset=".990" stop-color="#410302"/></linearGradient><linearGradient id="hm0g46" x1="0" y1="0" x2="0" y2="1"><stop offset=".010" stop-color="#d52915"/><stop offset=".074" stop-color="#cd361b"/><stop offset=".139" stop-color="#c04221"/><stop offset=".203" stop-color="#b04321"/><stop offset=".268" stop-color="#9d3f20"/><stop offset=".332" stop-color="#8d341a"/><stop offset=".397" stop-color="#812110"/><stop offset=".454" stop-color="#78150b"/><stop offset=".504" stop-color="#6f0e07"/><stop offset=".547" stop-color="#660704"/><stop offset=".597" stop-color="#5b0301"/><stop offset=".669" stop-color="#540301"/><stop offset=".755" stop-color="#4d0301"/><stop offset=".855" stop-color="#440201"/><stop offset=".948" stop-color="#400201"/><stop offset=".990" stop-color="#3f0302"/></linearGradient><linearGradient id="hm0g47" x1="0" y1="0" x2="0" y2="1"><stop offset=".010" stop-color="#d52915"/><stop offset=".074" stop-color="#cd361b"/><stop offset=".139" stop-color="#bf4221"/><stop offset=".203" stop-color="#af4321"/><stop offset=".268" stop-color="#9d3f20"/><stop offset=".332" stop-color="#8d341a"/><stop offset=".397" stop-color="#802010"/><stop offset=".454" stop-color="#77150a"/><stop offset=".504" stop-color="#6e0d06"/><stop offset=".547" stop-color="#650603"/><stop offset=".597" stop-color="#5a0301"/><stop offset=".669" stop-color="#530301"/><stop offset=".755" stop-color="#4b0301"/><stop offset=".855" stop-color="#420201"/><stop offset=".948" stop-color="#3f0201"/><stop offset=".990" stop-color="#3e0302"/></linearGradient><linearGradient id="hm0g48" x1="0" y1="0" x2="0" y2="1"><stop offset=".010" stop-color="#d52915"/><stop offset=".074" stop-color="#cd361b"/><stop offset=".139" stop-color="#bf4221"/><stop offset=".203" stop-color="#af4321"/><stop offset=".268" stop-color="#9c3f20"/><stop offset=".332" stop-color="#8c331a"/><stop offset=".397" stop-color="#802010"/><stop offset=".454" stop-color="#76140a"/><stop offset=".504" stop-color="#6d0c06"/><stop offset=".547" stop-color="#640603"/><stop offset=".597" stop-color="#590301"/><stop offset=".669" stop-color="#520301"/><stop offset=".755" stop-color="#4a0301"/><stop offset=".855" stop-color="#400201"/><stop offset=".948" stop-color="#3d0201"/><stop offset=".990" stop-color="#3c0302"/></linearGradient><linearGradient id="hm0g49" x1="0" y1="0" x2="0" y2="1"><stop offset=".010" stop-color="#d52915"/><stop offset=".074" stop-color="#cd361b"/><stop offset=".139" stop-color="#be4221"/><stop offset=".203" stop-color="#ae4321"/><stop offset=".268" stop-color="#9c3f20"/><stop offset=".332" stop-color="#8c3319"/><stop offset=".397" stop-color="#802010"/><stop offset=".454" stop-color="#76140a"/><stop offset=".504" stop-color="#6c0c06"/><stop offset=".547" stop-color="#630503"/><stop offset=".597" stop-color="#580301"/><stop offset=".669" stop-color="#510301"/><stop offset=".755" stop-color="#480301"/><stop offset=".855" stop-color="#3e0201"/><stop offset=".948" stop-color="#3c0201"/><stop offset=".990" stop-color="#3b0302"/></linearGradient><linearGradient id="hm0g50" x1="0" y1="0" x2="0" y2="1"><stop offset=".010" stop-color="#d52915"/><stop offset=".074" stop-color="#cd361b"/><stop offset=".139" stop-color="#be4221"/><stop offset=".203" stop-color="#ad4321"/><stop offset=".268" stop-color="#9b3f20"/><stop offset=".332" stop-color="#8b3219"/><stop offset=".397" stop-color="#802010"/><stop offset=".454" stop-color="#76140a"/><stop offset=".504" stop-color="#6c0c06"/><stop offset=".547" stop-color="#630503"/><stop offset=".597" stop-color="#580301"/><stop offset=".669" stop-color="#500301"/><stop offset=".755" stop-color="#470301"/><stop offset=".855" stop-color="#3d0201"/><stop offset=".948" stop-color="#3b0201"/><stop offset=".990" stop-color="#3b0302"/></linearGradient><linearGradient id="hm0g51" x1="0" y1="0" x2="0" y2="1"><stop offset=".010" stop-color="#d52915"/><stop offset=".074" stop-color="#cd361b"/><stop offset=".139" stop-color="#bd4221"/><stop offset=".203" stop-color="#ad4321"/><stop offset=".268" stop-color="#9a3f20"/><stop offset=".332" stop-color="#8b3219"/><stop offset=".397" stop-color="#802010"/><stop offset=".454" stop-color="#76140a"/><stop offset=".504" stop-color="#6c0c06"/><stop offset=".547" stop-color="#620502"/><stop offset=".597" stop-color="#570301"/><stop offset=".669" stop-color="#4f0301"/><stop offset=".755" stop-color="#460301"/><stop offset=".855" stop-color="#3c0201"/><stop offset=".948" stop-color="#3b0201"/><stop offset=".990" stop-color="#3a0302"/></linearGradient><linearGradient id="hm0g52" x1="0" y1="0" x2="0" y2="1"><stop offset=".010" stop-color="#d52915"/><stop offset=".074" stop-color="#cd361b"/><stop offset=".139" stop-color="#bd4221"/><stop offset=".203" stop-color="#ad4321"/><stop offset=".268" stop-color="#9a3f20"/><stop offset=".332" stop-color="#8b3219"/><stop offset=".397" stop-color="#802010"/><stop offset=".454" stop-color="#76140a"/><stop offset=".504" stop-color="#6c0c06"/><stop offset=".547" stop-color="#620502"/><stop offset=".597" stop-color="#570301"/><stop offset=".669" stop-color="#4f0301"/><stop offset=".755" stop-color="#460301"/><stop offset=".855" stop-color="#3c0201"/><stop offset=".948" stop-color="#3b0201"/><stop offset=".990" stop-color="#3a0302"/></linearGradient><linearGradient id="hm0g53" x1="0" y1="0" x2="0" y2="1"><stop offset=".010" stop-color="#d52915"/><stop offset=".074" stop-color="#cd361b"/><stop offset=".139" stop-color="#bd4221"/><stop offset=".203" stop-color="#ad4321"/><stop offset=".268" stop-color="#9a3f20"/><stop offset=".332" stop-color="#8b3219"/><stop offset=".397" stop-color="#802010"/><stop offset=".454" stop-color="#76140a"/><stop offset=".504" stop-color="#6c0c06"/><stop offset=".547" stop-color="#620502"/><stop offset=".597" stop-color="#570301"/><stop offset=".669" stop-color="#4f0301"/><stop offset=".755" stop-color="#460301"/><stop offset=".855" stop-color="#3c0201"/><stop offset=".948" stop-color="#3b0201"/><stop offset=".990" stop-color="#3a0302"/></linearGradient><linearGradient id="hm0g54" x1="0" y1="0" x2="0" y2="1"><stop offset=".010" stop-color="#d52915"/><stop offset=".074" stop-color="#cd361b"/><stop offset=".139" stop-color="#bd4221"/><stop offset=".203" stop-color="#ad4321"/><stop offset=".268" stop-color="#9a3f20"/><stop offset=".332" stop-color="#8b3219"/><stop offset=".397" stop-color="#802010"/><stop offset=".454" stop-color="#76140a"/><stop offset=".504" stop-color="#6c0c06"/><stop offset=".547" stop-color="#620502"/><stop offset=".597" stop-color="#570301"/><stop offset=".669" stop-color="#4f0301"/><stop offset=".755" stop-color="#460301"/><stop offset=".855" stop-color="#3c0201"/><stop offset=".948" stop-color="#3b0201"/><stop offset=".990" stop-color="#3a0302"/></linearGradient><linearGradient id="hm0g55" x1="0" y1="0" x2="0" y2="1"><stop offset=".010" stop-color="#d52915"/><stop offset=".074" stop-color="#cd361b"/><stop offset=".139" stop-color="#bd4221"/><stop offset=".203" stop-color="#ad4321"/><stop offset=".268" stop-color="#9a3f20"/><stop offset=".332" stop-color="#8b3219"/><stop offset=".397" stop-color="#802010"/><stop offset=".454" stop-color="#76140a"/><stop offset=".504" stop-color="#6c0c06"/><stop offset=".547" stop-color="#620502"/><stop offset=".597" stop-color="#570301"/><stop offset=".669" stop-color="#4f0301"/><stop offset=".755" stop-color="#460301"/><stop offset=".855" stop-color="#3c0201"/><stop offset=".948" stop-color="#3b0201"/><stop offset=".990" stop-color="#3a0302"/></linearGradient><linearGradient id="hm0g56" x1="0" y1="0" x2="0" y2="1"><stop offset=".010" stop-color="#d52915"/><stop offset=".074" stop-color="#cd361b"/><stop offset=".139" stop-color="#bd4221"/><stop offset=".203" stop-color="#ad4321"/><stop offset=".268" stop-color="#9a3f20"/><stop offset=".332" stop-color="#8b3219"/><stop offset=".397" stop-color="#802010"/><stop offset=".454" stop-color="#76140a"/><stop offset=".504" stop-color="#6c0c06"/><stop offset=".547" stop-color="#620502"/><stop offset=".597" stop-color="#570301"/><stop offset=".669" stop-color="#4f0301"/><stop offset=".755" stop-color="#460301"/><stop offset=".855" stop-color="#3c0201"/><stop offset=".948" stop-color="#3b0201"/><stop offset=".990" stop-color="#3a0302"/></linearGradient><linearGradient id="hm0g57" x1="0" y1="0" x2="0" y2="1"><stop offset=".010" stop-color="#d52915"/><stop offset=".074" stop-color="#c1361b"/><stop offset=".139" stop-color="#9e4221"/><stop offset=".203" stop-color="#86341a"/><stop offset=".268" stop-color="#721b0e"/><stop offset=".332" stop-color="#5e0502"/><stop offset=".397" stop-color="#550402"/><stop offset=".454" stop-color="#510302"/><stop offset=".504" stop-color="#4d0302"/><stop offset=".547" stop-color="#4a0301"/><stop offset=".597" stop-color="#450301"/><stop offset=".669" stop-color="#3e0301"/><stop offset=".755" stop-color="#370301"/><stop offset=".855" stop-color="#2f0201"/><stop offset=".948" stop-color="#2e0201"/><stop offset=".990" stop-color="#2e0302"/></linearGradient><linearGradient id="hm0g58" x1="0" y1="0" x2="0" y2="1"><stop offset=".010" stop-color="#d52915"/><stop offset=".074" stop-color="#c1361b"/><stop offset=".139" stop-color="#9e4221"/><stop offset=".203" stop-color="#86341a"/><stop offset=".268" stop-color="#721b0e"/><stop offset=".332" stop-color="#5e0502"/><stop offset=".397" stop-color="#550402"/><stop offset=".454" stop-color="#510302"/><stop offset=".504" stop-color="#4d0302"/><stop offset=".547" stop-color="#4a0301"/><stop offset=".597" stop-color="#450301"/><stop offset=".669" stop-color="#3e0301"/><stop offset=".755" stop-color="#370301"/><stop offset=".855" stop-color="#2f0201"/><stop offset=".948" stop-color="#2e0201"/><stop offset=".990" stop-color="#2e0302"/></linearGradient><linearGradient id="hm0g59" x1="0" y1="0" x2="0" y2="1"><stop offset=".010" stop-color="#d52915"/><stop offset=".074" stop-color="#c1361b"/><stop offset=".139" stop-color="#9e4221"/><stop offset=".203" stop-color="#86341a"/><stop offset=".268" stop-color="#721b0e"/><stop offset=".332" stop-color="#5e0502"/><stop offset=".397" stop-color="#550402"/><stop offset=".454" stop-color="#510302"/><stop offset=".504" stop-color="#4d0302"/><stop offset=".547" stop-color="#4a0301"/><stop offset=".597" stop-color="#450301"/><stop offset=".669" stop-color="#3e0301"/><stop offset=".755" stop-color="#370301"/><stop offset=".855" stop-color="#2f0201"/><stop offset=".948" stop-color="#2e0201"/><stop offset=".990" stop-color="#2e0302"/></linearGradient><linearGradient id="hm0g60" x1="0" y1="0" x2="0" y2="1"><stop offset=".010" stop-color="#d52915"/><stop offset=".074" stop-color="#c1361b"/><stop offset=".139" stop-color="#9e4221"/><stop offset=".203" stop-color="#86341a"/><stop offset=".268" stop-color="#721b0e"/><stop offset=".332" stop-color="#5e0502"/><stop offset=".397" stop-color="#550402"/><stop offset=".454" stop-color="#510302"/><stop offset=".504" stop-color="#4d0302"/><stop offset=".547" stop-color="#4a0301"/><stop offset=".597" stop-color="#450301"/><stop offset=".669" stop-color="#3e0301"/><stop offset=".755" stop-color="#370301"/><stop offset=".855" stop-color="#2f0201"/><stop offset=".948" stop-color="#2e0201"/><stop offset=".990" stop-color="#2e0302"/></linearGradient><linearGradient id="hm0g61" x1="0" y1="0" x2="0" y2="1"><stop offset=".010" stop-color="#d52915"/><stop offset=".074" stop-color="#c1361b"/><stop offset=".139" stop-color="#9e4221"/><stop offset=".203" stop-color="#86341a"/><stop offset=".268" stop-color="#721b0e"/><stop offset=".332" stop-color="#5e0502"/><stop offset=".397" stop-color="#550402"/><stop offset=".454" stop-color="#510302"/><stop offset=".504" stop-color="#4d0302"/><stop offset=".547" stop-color="#4a0301"/><stop offset=".597" stop-color="#450301"/><stop offset=".669" stop-color="#3e0301"/><stop offset=".755" stop-color="#370301"/><stop offset=".855" stop-color="#2f0201"/><stop offset=".948" stop-color="#2e0201"/><stop offset=".990" stop-color="#2e0302"/></linearGradient><linearGradient id="hm0g62" x1="0" y1="0" x2="0" y2="1"><stop offset=".010" stop-color="#d52915"/><stop offset=".074" stop-color="#c2361b"/><stop offset=".139" stop-color="#a04221"/><stop offset=".203" stop-color="#89381c"/><stop offset=".268" stop-color="#761f10"/><stop offset=".332" stop-color="#620704"/><stop offset=".397" stop-color="#580402"/><stop offset=".454" stop-color="#530302"/><stop offset=".504" stop-color="#4f0302"/><stop offset=".547" stop-color="#4b0301"/><stop offset=".597" stop-color="#460301"/><stop offset=".669" stop-color="#3f0301"/><stop offset=".755" stop-color="#380301"/><stop offset=".855" stop-color="#300201"/><stop offset=".948" stop-color="#2f0201"/><stop offset=".990" stop-color="#2f0302"/></linearGradient><linearGradient id="hm0g63" x1="0" y1="0" x2="0" y2="1"><stop offset=".010" stop-color="#d52915"/><stop offset=".074" stop-color="#c4361b"/><stop offset=".139" stop-color="#a44221"/><stop offset=".203" stop-color="#8e3e1f"/><stop offset=".268" stop-color="#7b2512"/><stop offset=".332" stop-color="#680e07"/><stop offset=".397" stop-color="#5d0402"/><stop offset=".454" stop-color="#570302"/><stop offset=".504" stop-color="#510302"/><stop offset=".547" stop-color="#4c0301"/><stop offset=".597" stop-color="#480301"/><stop offset=".669" stop-color="#410301"/><stop offset=".755" stop-color="#3a0301"/><stop offset=".855" stop-color="#320201"/><stop offset=".948" stop-color="#310201"/><stop offset=".990" stop-color="#300302"/></linearGradient><linearGradient id="hm0g64" x1="0" y1="0" x2="0" y2="1"><stop offset=".010" stop-color="#d52915"/><stop offset=".074" stop-color="#c5361b"/><stop offset=".139" stop-color="#a84221"/><stop offset=".203" stop-color="#924321"/><stop offset=".268" stop-color="#802a15"/><stop offset=".332" stop-color="#6e130a"/><stop offset=".397" stop-color="#620603"/><stop offset=".454" stop-color="#5a0302"/><stop offset=".504" stop-color="#530302"/><stop offset=".547" stop-color="#4e0301"/><stop offset=".597" stop-color="#4a0301"/><stop offset=".669" stop-color="#430301"/><stop offset=".755" stop-color="#3c0301"/><stop offset=".855" stop-color="#340201"/><stop offset=".948" stop-color="#320201"/><stop offset=".990" stop-color="#320302"/></linearGradient><linearGradient id="hm0g65" x1="0" y1="0" x2="0" y2="1"><stop offset=".010" stop-color="#d52915"/><stop offset=".074" stop-color="#c6361b"/><stop offset=".139" stop-color="#ab4221"/><stop offset=".203" stop-color="#954321"/><stop offset=".268" stop-color="#832f17"/><stop offset=".332" stop-color="#73190c"/><stop offset=".397" stop-color="#670a05"/><stop offset=".454" stop-color="#5e0302"/><stop offset=".504" stop-color="#550302"/><stop offset=".547" stop-color="#500301"/><stop offset=".597" stop-color="#4c0301"/><stop offset=".669" stop-color="#450301"/><stop offset=".755" stop-color="#3e0301"/><stop offset=".855" stop-color="#360201"/><stop offset=".948" stop-color="#340201"/><stop offset=".990" stop-color="#340302"/></linearGradient><linearGradient id="hm0g66" x1="0" y1="0" x2="0" y2="1"><stop offset=".010" stop-color="#d52915"/><stop offset=".074" stop-color="#c7361b"/><stop offset=".139" stop-color="#ad4221"/><stop offset=".203" stop-color="#984321"/><stop offset=".268" stop-color="#873319"/><stop offset=".332" stop-color="#781e0f"/><stop offset=".397" stop-color="#6c0f07"/><stop offset=".454" stop-color="#620502"/><stop offset=".504" stop-color="#570302"/><stop offset=".547" stop-color="#510301"/><stop offset=".597" stop-color="#4d0301"/><stop offset=".669" stop-color="#470301"/><stop offset=".755" stop-color="#400301"/><stop offset=".855" stop-color="#380201"/><stop offset=".948" stop-color="#360201"/><stop offset=".990" stop-color="#360302"/></linearGradient><linearGradient id="hm0g67" x1="0" y1="0" x2="0" y2="1"><stop offset=".010" stop-color="#d52915"/><stop offset=".074" stop-color="#c8361b"/><stop offset=".139" stop-color="#b04221"/><stop offset=".203" stop-color="#9b4321"/><stop offset=".268" stop-color="#8b371c"/><stop offset=".332" stop-color="#7d2312"/><stop offset=".397" stop-color="#711309"/><stop offset=".454" stop-color="#650704"/><stop offset=".504" stop-color="#590302"/><stop offset=".547" stop-color="#530301"/><stop offset=".597" stop-color="#4f0301"/><stop offset=".669" stop-color="#490301"/><stop offset=".755" stop-color="#420301"/><stop offset=".855" stop-color="#3a0201"/><stop offset=".948" stop-color="#390201"/><stop offset=".990" stop-color="#380302"/></linearGradient><linearGradient id="hm0g68" x1="0" y1="0" x2="0" y2="1"><stop offset=".010" stop-color="#d52915"/><stop offset=".074" stop-color="#c8361b"/><stop offset=".139" stop-color="#b24221"/><stop offset=".203" stop-color="#9e4321"/><stop offset=".268" stop-color="#8d3a1d"/><stop offset=".332" stop-color="#802713"/><stop offset=".397" stop-color="#74160b"/><stop offset=".454" stop-color="#680a05"/><stop offset=".504" stop-color="#5b0302"/><stop offset=".547" stop-color="#550301"/><stop offset=".597" stop-color="#510301"/><stop offset=".669" stop-color="#4b0301"/><stop offset=".755" stop-color="#440301"/><stop offset=".855" stop-color="#3d0201"/><stop offset=".948" stop-color="#3b0201"/><stop offset=".990" stop-color="#3a0302"/></linearGradient><linearGradient id="hm0g69" x1="0" y1="0" x2="0" y2="1"><stop offset=".010" stop-color="#d52915"/><stop offset=".074" stop-color="#c9361b"/><stop offset=".139" stop-color="#b44221"/><stop offset=".203" stop-color="#a04321"/><stop offset=".268" stop-color="#903d1f"/><stop offset=".332" stop-color="#832915"/><stop offset=".397" stop-color="#77180c"/><stop offset=".454" stop-color="#6b0c06"/><stop offset=".504" stop-color="#5d0302"/><stop offset=".547" stop-color="#570301"/><stop offset=".597" stop-color="#530301"/><stop offset=".669" stop-color="#4d0301"/><stop offset=".755" stop-color="#470301"/><stop offset=".855" stop-color="#400201"/><stop offset=".948" stop-color="#3e0201"/><stop offset=".990" stop-color="#3d0302"/></linearGradient><linearGradient id="hm0g70" x1="0" y1="0" x2="0" y2="1"><stop offset=".010" stop-color="#d52915"/><stop offset=".074" stop-color="#c9361b"/><stop offset=".139" stop-color="#b64221"/><stop offset=".203" stop-color="#a34321"/><stop offset=".268" stop-color="#933f20"/><stop offset=".332" stop-color="#852c16"/><stop offset=".397" stop-color="#7a1b0d"/><stop offset=".454" stop-color="#6e0e07"/><stop offset=".504" stop-color="#5f0302"/><stop offset=".547" stop-color="#590301"/><stop offset=".597" stop-color="#550301"/><stop offset=".669" stop-color="#4f0301"/><stop offset=".755" stop-color="#490301"/><stop offset=".855" stop-color="#430201"/><stop offset=".948" stop-color="#410201"/><stop offset=".990" stop-color="#400302"/></linearGradient><linearGradient id="hm0g71" x1="0" y1="0" x2="0" y2="1"><stop offset=".010" stop-color="#d52915"/><stop offset=".074" stop-color="#ca361b"/><stop offset=".139" stop-color="#b74221"/><stop offset=".203" stop-color="#a54321"/><stop offset=".268" stop-color="#953f20"/><stop offset=".332" stop-color="#882e17"/><stop offset=".397" stop-color="#7c1d0e"/><stop offset=".454" stop-color="#711008"/><stop offset=".504" stop-color="#620502"/><stop offset=".547" stop-color="#5b0301"/><stop offset=".597" stop-color="#570301"/><stop offset=".669" stop-color="#510301"/><stop offset=".755" stop-color="#4b0301"/><stop offset=".855" stop-color="#450201"/><stop offset=".948" stop-color="#430201"/><stop offset=".990" stop-color="#420302"/></linearGradient><linearGradient id="hm0g72" x1="0" y1="0" x2="0" y2="1"><stop offset=".010" stop-color="#d52915"/><stop offset=".074" stop-color="#ca361b"/><stop offset=".139" stop-color="#b84221"/><stop offset=".203" stop-color="#a64321"/><stop offset=".268" stop-color="#963f20"/><stop offset=".332" stop-color="#893018"/><stop offset=".397" stop-color="#7e1f0f"/><stop offset=".454" stop-color="#731209"/><stop offset=".504" stop-color="#660804"/><stop offset=".547" stop-color="#5f0301"/><stop offset=".597" stop-color="#5a0301"/><stop offset=".669" stop-color="#530301"/><stop offset=".755" stop-color="#4d0301"/><stop offset=".855" stop-color="#480201"/><stop offset=".948" stop-color="#460201"/><stop offset=".990" stop-color="#450302"/></linearGradient><linearGradient id="hm0g73" x1="0" y1="0" x2="0" y2="1"><stop offset=".010" stop-color="#d52915"/><stop offset=".074" stop-color="#ca361b"/><stop offset=".139" stop-color="#b94221"/><stop offset=".203" stop-color="#a84321"/><stop offset=".268" stop-color="#983f20"/><stop offset=".332" stop-color="#8b3219"/><stop offset=".397" stop-color="#802010"/><stop offset=".454" stop-color="#76140a"/><stop offset=".504" stop-color="#6a0a05"/><stop offset=".547" stop-color="#630503"/><stop offset=".597" stop-color="#5d0301"/><stop offset=".669" stop-color="#550301"/><stop offset=".755" stop-color="#4f0301"/><stop offset=".855" stop-color="#4a0201"/><stop offset=".948" stop-color="#480201"/><stop offset=".990" stop-color="#480302"/></linearGradient><linearGradient id="hm0g74" x1="0" y1="0" x2="0" y2="1"><stop offset=".010" stop-color="#d52915"/><stop offset=".074" stop-color="#cb361b"/><stop offset=".139" stop-color="#ba4221"/><stop offset=".203" stop-color="#a94321"/><stop offset=".268" stop-color="#9a3f20"/><stop offset=".332" stop-color="#8c331a"/><stop offset=".397" stop-color="#822211"/><stop offset=".454" stop-color="#79160b"/><stop offset=".504" stop-color="#6e0d07"/><stop offset=".547" stop-color="#670804"/><stop offset=".597" stop-color="#600302"/><stop offset=".669" stop-color="#570301"/><stop offset=".755" stop-color="#510301"/><stop offset=".855" stop-color="#4c0201"/><stop offset=".948" stop-color="#4b0201"/><stop offset=".990" stop-color="#4a0302"/></linearGradient><linearGradient id="hm0g75" x1="0" y1="0" x2="0" y2="1"><stop offset=".010" stop-color="#d52915"/><stop offset=".074" stop-color="#cb361b"/><stop offset=".139" stop-color="#bb4221"/><stop offset=".203" stop-color="#aa4321"/><stop offset=".268" stop-color="#9b3f20"/><stop offset=".332" stop-color="#8e351a"/><stop offset=".397" stop-color="#842412"/><stop offset=".454" stop-color="#7b180c"/><stop offset=".504" stop-color="#721008"/><stop offset=".547" stop-color="#6b0a05"/><stop offset=".597" stop-color="#630503"/><stop offset=".669" stop-color="#590301"/><stop offset=".755" stop-color="#530301"/><stop offset=".855" stop-color="#4e0201"/><stop offset=".948" stop-color="#4d0201"/><stop offset=".990" stop-color="#4d0302"/></linearGradient><linearGradient id="hm0g76" x1="0" y1="0" x2="0" y2="1"><stop offset=".010" stop-color="#d52915"/><stop offset=".074" stop-color="#cb361b"/><stop offset=".139" stop-color="#bc4221"/><stop offset=".203" stop-color="#ac4321"/><stop offset=".268" stop-color="#9d3f20"/><stop offset=".332" stop-color="#8f371b"/><stop offset=".397" stop-color="#862513"/><stop offset=".454" stop-color="#7e1a0d"/><stop offset=".504" stop-color="#741209"/><stop offset=".547" stop-color="#6e0c06"/><stop offset=".597" stop-color="#660704"/><stop offset=".669" stop-color="#5c0301"/><stop offset=".755" stop-color="#560301"/><stop offset=".855" stop-color="#500201"/><stop offset=".948" stop-color="#500201"/><stop offset=".990" stop-color="#500302"/></linearGradient><linearGradient id="hm0g77" x1="0" y1="0" x2="0" y2="1"><stop offset=".010" stop-color="#d52915"/><stop offset=".074" stop-color="#cc361b"/><stop offset=".139" stop-color="#bd4221"/><stop offset=".203" stop-color="#ad4321"/><stop offset=".268" stop-color="#9e3f20"/><stop offset=".332" stop-color="#92391c"/><stop offset=".397" stop-color="#882713"/><stop offset=".454" stop-color="#7f1b0d"/><stop offset=".504" stop-color="#76130a"/><stop offset=".547" stop-color="#700e07"/><stop offset=".597" stop-color="#690905"/><stop offset=".669" stop-color="#600302"/><stop offset=".755" stop-color="#590301"/><stop offset=".855" stop-color="#530201"/><stop offset=".948" stop-color="#520201"/><stop offset=".990" stop-color="#520302"/></linearGradient><linearGradient id="hm0g78" x1="0" y1="0" x2="0" y2="1"><stop offset=".010" stop-color="#d52915"/><stop offset=".074" stop-color="#cc361b"/><stop offset=".139" stop-color="#bd4221"/><stop offset=".203" stop-color="#ae4321"/><stop offset=".268" stop-color="#9f3f20"/><stop offset=".332" stop-color="#94391c"/><stop offset=".397" stop-color="#8a2914"/><stop offset=".454" stop-color="#811c0e"/><stop offset=".504" stop-color="#78140a"/><stop offset=".547" stop-color="#720f08"/><stop offset=".597" stop-color="#6d0b06"/><stop offset=".669" stop-color="#650603"/><stop offset=".755" stop-color="#5d0301"/><stop offset=".855" stop-color="#550201"/><stop offset=".948" stop-color="#550201"/><stop offset=".990" stop-color="#550302"/></linearGradient><linearGradient id="hm0g79" x1="0" y1="0" x2="0" y2="1"><stop offset=".010" stop-color="#d52915"/><stop offset=".074" stop-color="#cc361b"/><stop offset=".139" stop-color="#be4221"/><stop offset=".203" stop-color="#af4321"/><stop offset=".268" stop-color="#a13f20"/><stop offset=".332" stop-color="#96391c"/><stop offset=".397" stop-color="#8c2a15"/><stop offset=".454" stop-color="#821d0f"/><stop offset=".504" stop-color="#7a160b"/><stop offset=".547" stop-color="#751109"/><stop offset=".597" stop-color="#700d07"/><stop offset=".669" stop-color="#690804"/><stop offset=".755" stop-color="#610302"/><stop offset=".855" stop-color="#580201"/><stop offset=".948" stop-color="#580201"/><stop offset=".990" stop-color="#580302"/></linearGradient><linearGradient id="hm0g80" x1="0" y1="0" x2="0" y2="1"><stop offset=".010" stop-color="#d52915"/><stop offset=".074" stop-color="#cd361b"/><stop offset=".139" stop-color="#bf4221"/><stop offset=".203" stop-color="#b04321"/><stop offset=".268" stop-color="#a23f20"/><stop offset=".332" stop-color="#98391c"/><stop offset=".397" stop-color="#8e2c16"/><stop offset=".454" stop-color="#841f0f"/><stop offset=".504" stop-color="#7c170b"/><stop offset=".547" stop-color="#771309"/><stop offset=".597" stop-color="#730f08"/><stop offset=".669" stop-color="#6d0b06"/><stop offset=".755" stop-color="#640603"/><stop offset=".855" stop-color="#5a0201"/><stop offset=".948" stop-color="#5a0201"/><stop offset=".990" stop-color="#5a0302"/></linearGradient><linearGradient id="hm0g81" x1="0" y1="0" x2="0" y2="1"><stop offset=".010" stop-color="#d52915"/><stop offset=".074" stop-color="#cd361b"/><stop offset=".139" stop-color="#bf4221"/><stop offset=".203" stop-color="#b14321"/><stop offset=".268" stop-color="#a33f20"/><stop offset=".332" stop-color="#99391c"/><stop offset=".397" stop-color="#8f2d17"/><stop offset=".454" stop-color="#862010"/><stop offset=".504" stop-color="#7e180c"/><stop offset=".547" stop-color="#79140a"/><stop offset=".597" stop-color="#761108"/><stop offset=".669" stop-color="#710e07"/><stop offset=".755" stop-color="#690804"/><stop offset=".855" stop-color="#600301"/><stop offset=".948" stop-color="#600301"/><stop offset=".990" stop-color="#600402"/></linearGradient><linearGradient id="hm0g82" x1="0" y1="0" x2="0" y2="1"><stop offset=".010" stop-color="#d52915"/><stop offset=".074" stop-color="#cd361b"/><stop offset=".139" stop-color="#bf4221"/><stop offset=".203" stop-color="#b14321"/><stop offset=".268" stop-color="#a43f20"/><stop offset=".332" stop-color="#9b391c"/><stop offset=".397" stop-color="#912f17"/><stop offset=".454" stop-color="#872110"/><stop offset=".504" stop-color="#7f190d"/><stop offset=".547" stop-color="#7b150b"/><stop offset=".597" stop-color="#791309"/><stop offset=".669" stop-color="#751008"/><stop offset=".755" stop-color="#6f0c06"/><stop offset=".855" stop-color="#670703"/><stop offset=".948" stop-color="#670703"/><stop offset=".990" stop-color="#670904"/></linearGradient><linearGradient id="hm0g83" x1="0" y1="0" x2="0" y2="1"><stop offset=".010" stop-color="#d52915"/><stop offset=".074" stop-color="#cd361b"/><stop offset=".139" stop-color="#c04221"/><stop offset=".203" stop-color="#b24321"/><stop offset=".268" stop-color="#a53f20"/><stop offset=".332" stop-color="#9c391c"/><stop offset=".397" stop-color="#923018"/><stop offset=".454" stop-color="#892211"/><stop offset=".504" stop-color="#811a0d"/><stop offset=".547" stop-color="#7d170b"/><stop offset=".597" stop-color="#7c140a"/><stop offset=".669" stop-color="#791309"/><stop offset=".755" stop-color="#740f07"/><stop offset=".855" stop-color="#6e0b05"/><stop offset=".948" stop-color="#6d0a05"/><stop offset=".990" stop-color="#6d0d07"/></linearGradient><linearGradient id="hm0g84" x1="0" y1="0" x2="0" y2="1"><stop offset=".010" stop-color="#d52915"/><stop offset=".074" stop-color="#cd361b"/><stop offset=".139" stop-color="#c04221"/><stop offset=".203" stop-color="#b34321"/><stop offset=".268" stop-color="#a63f20"/><stop offset=".332" stop-color="#9d391c"/><stop offset=".397" stop-color="#943018"/><stop offset=".454" stop-color="#8a2312"/><stop offset=".504" stop-color="#821b0e"/><stop offset=".547" stop-color="#7f180c"/><stop offset=".597" stop-color="#7f160b"/><stop offset=".669" stop-color="#7d150a"/><stop offset=".755" stop-color="#7a1209"/><stop offset=".855" stop-color="#750f07"/><stop offset=".948" stop-color="#740e07"/><stop offset=".990" stop-color="#741209"/></linearGradient><linearGradient id="hm0g85" x1="0" y1="0" x2="0" y2="1"><stop offset=".010" stop-color="#d52915"/><stop offset=".074" stop-color="#cd361b"/><stop offset=".139" stop-color="#c04221"/><stop offset=".203" stop-color="#b34321"/><stop offset=".268" stop-color="#a73f20"/><stop offset=".332" stop-color="#9f391c"/><stop offset=".397" stop-color="#953018"/><stop offset=".454" stop-color="#8c2412"/><stop offset=".504" stop-color="#841c0e"/><stop offset=".547" stop-color="#81190d"/><stop offset=".597" stop-color="#81180c"/><stop offset=".669" stop-color="#81170c"/><stop offset=".755" stop-color="#7f150b"/><stop offset=".855" stop-color="#7c1309"/><stop offset=".948" stop-color="#7b1209"/><stop offset=".990" stop-color="#7a170c"/></linearGradient><linearGradient id="hm0g86" x1="0" y1="0" x2="0" y2="1"><stop offset=".010" stop-color="#d52915"/><stop offset=".074" stop-color="#cd361b"/><stop offset=".139" stop-color="#c14221"/><stop offset=".203" stop-color="#b44321"/><stop offset=".268" stop-color="#a83f20"/><stop offset=".332" stop-color="#9f391c"/><stop offset=".397" stop-color="#963018"/><stop offset=".454" stop-color="#8d2513"/><stop offset=".504" stop-color="#851d0f"/><stop offset=".547" stop-color="#831a0d"/><stop offset=".597" stop-color="#83190c"/><stop offset=".669" stop-color="#83180c"/><stop offset=".755" stop-color="#80160b"/><stop offset=".855" stop-color="#7d140a"/><stop offset=".948" stop-color="#7c1309"/><stop offset=".990" stop-color="#7c190c"/></linearGradient><linearGradient id="hm0g87" x1="0" y1="0" x2="0" y2="1"><stop offset=".010" stop-color="#d52915"/><stop offset=".074" stop-color="#cd361b"/><stop offset=".139" stop-color="#c14221"/><stop offset=".203" stop-color="#b44321"/><stop offset=".268" stop-color="#a83f20"/><stop offset=".332" stop-color="#a0391c"/><stop offset=".397" stop-color="#973018"/><stop offset=".454" stop-color="#8e2613"/><stop offset=".504" stop-color="#861e0f"/><stop offset=".547" stop-color="#841b0d"/><stop offset=".597" stop-color="#841a0d"/><stop offset=".669" stop-color="#84190c"/><stop offset=".755" stop-color="#82170b"/><stop offset=".855" stop-color="#7f140a"/><stop offset=".948" stop-color="#7e140a"/><stop offset=".990" stop-color="#7e1a0d"/></linearGradient><linearGradient id="hm0g88" x1="0" y1="0" x2="0" y2="1"><stop offset=".010" stop-color="#d52915"/><stop offset=".074" stop-color="#cd361b"/><stop offset=".139" stop-color="#c14221"/><stop offset=".203" stop-color="#b54321"/><stop offset=".268" stop-color="#a93f20"/><stop offset=".332" stop-color="#a1391c"/><stop offset=".397" stop-color="#983018"/><stop offset=".454" stop-color="#8f2713"/><stop offset=".504" stop-color="#871f0f"/><stop offset=".547" stop-color="#851c0e"/><stop offset=".597" stop-color="#851a0d"/><stop offset=".669" stop-color="#851a0d"/><stop offset=".755" stop-color="#83180c"/><stop offset=".855" stop-color="#80150b"/><stop offset=".948" stop-color="#80150a"/><stop offset=".990" stop-color="#801b0e"/></linearGradient><linearGradient id="hm0g89" x1="0" y1="0" x2="0" y2="1"><stop offset=".010" stop-color="#d52915"/><stop offset=".074" stop-color="#cd361b"/><stop offset=".139" stop-color="#c14221"/><stop offset=".203" stop-color="#b54321"/><stop offset=".268" stop-color="#aa3f20"/><stop offset=".332" stop-color="#a1391c"/><stop offset=".397" stop-color="#993018"/><stop offset=".454" stop-color="#912814"/><stop offset=".504" stop-color="#892010"/><stop offset=".547" stop-color="#861d0e"/><stop offset=".597" stop-color="#861b0e"/><stop offset=".669" stop-color="#861a0d"/><stop offset=".755" stop-color="#84190c"/><stop offset=".855" stop-color="#82160b"/><stop offset=".948" stop-color="#82160b"/><stop offset=".990" stop-color="#811d0e"/></linearGradient><linearGradient id="hm0g90" x1="0" y1="0" x2="0" y2="1"><stop offset=".010" stop-color="#d52915"/><stop offset=".074" stop-color="#cd361b"/><stop offset=".139" stop-color="#c24221"/><stop offset=".203" stop-color="#b64321"/><stop offset=".268" stop-color="#aa3f20"/><stop offset=".332" stop-color="#a2391c"/><stop offset=".397" stop-color="#9a3018"/><stop offset=".454" stop-color="#922914"/><stop offset=".504" stop-color="#8a2110"/><stop offset=".547" stop-color="#871d0f"/><stop offset=".597" stop-color="#871c0e"/><stop offset=".669" stop-color="#871b0e"/><stop offset=".755" stop-color="#86190d"/><stop offset=".855" stop-color="#84170c"/><stop offset=".948" stop-color="#83170b"/><stop offset=".990" stop-color="#831e0f"/></linearGradient><linearGradient id="hm0g91" x1="0" y1="0" x2="0" y2="1"><stop offset=".010" stop-color="#d52915"/><stop offset=".074" stop-color="#cd361b"/><stop offset=".139" stop-color="#c24221"/><stop offset=".203" stop-color="#b64321"/><stop offset=".268" stop-color="#ab3f20"/><stop offset=".332" stop-color="#a2391c"/><stop offset=".397" stop-color="#9b3018"/><stop offset=".454" stop-color="#932914"/><stop offset=".504" stop-color="#8b2211"/><stop offset=".547" stop-color="#891e0f"/><stop offset=".597" stop-color="#891d0e"/><stop offset=".669" stop-color="#891c0e"/><stop offset=".755" stop-color="#871a0d"/><stop offset=".855" stop-color="#85180c"/><stop offset=".948" stop-color="#85180c"/><stop offset=".990" stop-color="#852010"/></linearGradient><linearGradient id="hm0g92" x1="0" y1="0" x2="0" y2="1"><stop offset=".010" stop-color="#d52915"/><stop offset=".074" stop-color="#cd361b"/><stop offset=".139" stop-color="#c24221"/><stop offset=".203" stop-color="#b74321"/><stop offset=".268" stop-color="#ab3f20"/><stop offset=".332" stop-color="#a3391c"/><stop offset=".397" stop-color="#9c3018"/><stop offset=".454" stop-color="#942914"/><stop offset=".504" stop-color="#8c2311"/><stop offset=".547" stop-color="#8a1f10"/><stop offset=".597" stop-color="#8a1e0f"/><stop offset=".669" stop-color="#8a1d0e"/><stop offset=".755" stop-color="#891b0d"/><stop offset=".855" stop-color="#87190c"/><stop offset=".948" stop-color="#86190c"/><stop offset=".990" stop-color="#862010"/></linearGradient><linearGradient id="hm0g93" x1="0" y1="0" x2="0" y2="1"><stop offset=".010" stop-color="#d52915"/><stop offset=".074" stop-color="#cd361b"/><stop offset=".139" stop-color="#c24221"/><stop offset=".203" stop-color="#b74321"/><stop offset=".268" stop-color="#ac3f20"/><stop offset=".332" stop-color="#a4391c"/><stop offset=".397" stop-color="#9c3018"/><stop offset=".454" stop-color="#952914"/><stop offset=".504" stop-color="#8e2412"/><stop offset=".547" stop-color="#8c2010"/><stop offset=".597" stop-color="#8c1e0f"/><stop offset=".669" stop-color="#8b1d0f"/><stop offset=".755" stop-color="#8a1c0e"/><stop offset=".855" stop-color="#881a0d"/><stop offset=".948" stop-color="#88190d"/><stop offset=".990" stop-color="#882111"/></linearGradient><linearGradient id="hm0g94" x1="0" y1="0" x2="0" y2="1"><stop offset=".010" stop-color="#d52915"/><stop offset=".074" stop-color="#cd361b"/><stop offset=".139" stop-color="#c34221"/><stop offset=".203" stop-color="#b74321"/><stop offset=".268" stop-color="#ac3f20"/><stop offset=".332" stop-color="#a4391c"/><stop offset=".397" stop-color="#9d3018"/><stop offset=".454" stop-color="#962914"/><stop offset=".504" stop-color="#8f2512"/><stop offset=".547" stop-color="#8d2111"/><stop offset=".597" stop-color="#8d1f10"/><stop offset=".669" stop-color="#8d1e0f"/><stop offset=".755" stop-color="#8b1d0e"/><stop offset=".855" stop-color="#8a1b0d"/><stop offset=".948" stop-color="#891a0d"/><stop offset=".990" stop-color="#892211"/></linearGradient><linearGradient id="hm0g95" x1="0" y1="0" x2="0" y2="1"><stop offset=".010" stop-color="#d52915"/><stop offset=".074" stop-color="#cd361b"/><stop offset=".139" stop-color="#c34221"/><stop offset=".203" stop-color="#b84321"/><stop offset=".268" stop-color="#ad3f20"/><stop offset=".332" stop-color="#a5391c"/><stop offset=".397" stop-color="#9e3018"/><stop offset=".454" stop-color="#982914"/><stop offset=".504" stop-color="#912613"/><stop offset=".547" stop-color="#8f2311"/><stop offset=".597" stop-color="#8f2010"/><stop offset=".669" stop-color="#8e1f10"/><stop offset=".755" stop-color="#8d1e0f"/><stop offset=".855" stop-color="#8c1c0e"/><stop offset=".948" stop-color="#8b1b0e"/><stop offset=".990" stop-color="#8b2412"/></linearGradient><linearGradient id="hm0g96" x1="0" y1="0" x2="0" y2="1"><stop offset=".010" stop-color="#d52915"/><stop offset=".074" stop-color="#cd361b"/><stop offset=".139" stop-color="#c34221"/><stop offset=".203" stop-color="#b84321"/><stop offset=".268" stop-color="#ae3f20"/><stop offset=".332" stop-color="#a6391c"/><stop offset=".397" stop-color="#a03018"/><stop offset=".454" stop-color="#992914"/><stop offset=".504" stop-color="#942613"/><stop offset=".547" stop-color="#922412"/><stop offset=".597" stop-color="#912211"/><stop offset=".669" stop-color="#902110"/><stop offset=".755" stop-color="#901f10"/><stop offset=".855" stop-color="#8e1d0f"/><stop offset=".948" stop-color="#8d1d0e"/><stop offset=".990" stop-color="#8d2513"/></linearGradient><linearGradient id="hm0g97" x1="0" y1="0" x2="0" y2="1"><stop offset=".010" stop-color="#d52915"/><stop offset=".074" stop-color="#cd361b"/><stop offset=".139" stop-color="#c34221"/><stop offset=".203" stop-color="#b84321"/><stop offset=".268" stop-color="#ae3f20"/><stop offset=".332" stop-color="#a7391c"/><stop offset=".397" stop-color="#a03018"/><stop offset=".454" stop-color="#9b2914"/><stop offset=".504" stop-color="#962613"/><stop offset=".547" stop-color="#942412"/><stop offset=".597" stop-color="#932211"/><stop offset=".669" stop-color="#922111"/><stop offset=".755" stop-color="#922010"/><stop offset=".855" stop-color="#911f0f"/><stop offset=".948" stop-color="#901e0f"/><stop offset=".990" stop-color="#8f2714"/></linearGradient><linearGradient id="hm0g98" x1="0" y1="0" x2="0" y2="1"><stop offset=".010" stop-color="#d52915"/><stop offset=".074" stop-color="#cd361b"/><stop offset=".139" stop-color="#c34221"/><stop offset=".203" stop-color="#b94321"/><stop offset=".268" stop-color="#af3f20"/><stop offset=".332" stop-color="#a7391c"/><stop offset=".397" stop-color="#a13018"/><stop offset=".454" stop-color="#9c2914"/><stop offset=".504" stop-color="#972613"/><stop offset=".547" stop-color="#962412"/><stop offset=".597" stop-color="#952211"/><stop offset=".669" stop-color="#942111"/><stop offset=".755" stop-color="#942010"/><stop offset=".855" stop-color="#931f10"/><stop offset=".948" stop-color="#921f10"/><stop offset=".990" stop-color="#922915"/></linearGradient><linearGradient id="hm0g99" x1="0" y1="0" x2="0" y2="1"><stop offset=".010" stop-color="#d52915"/><stop offset=".074" stop-color="#cd361b"/><stop offset=".139" stop-color="#c34221"/><stop offset=".203" stop-color="#b94321"/><stop offset=".268" stop-color="#af3f20"/><stop offset=".332" stop-color="#a8391c"/><stop offset=".397" stop-color="#a23018"/><stop offset=".454" stop-color="#9d2914"/><stop offset=".504" stop-color="#992613"/><stop offset=".547" stop-color="#982412"/><stop offset=".597" stop-color="#972211"/><stop offset=".669" stop-color="#962111"/><stop offset=".755" stop-color="#962010"/><stop offset=".855" stop-color="#951f10"/><stop offset=".948" stop-color="#951f10"/><stop offset=".990" stop-color="#942915"/></linearGradient><linearGradient id="hm0g100" x1="0" y1="0" x2="0" y2="1"><stop offset=".010" stop-color="#d52915"/><stop offset=".074" stop-color="#cd361b"/><stop offset=".139" stop-color="#c34221"/><stop offset=".203" stop-color="#b94321"/><stop offset=".268" stop-color="#b03f20"/><stop offset=".332" stop-color="#a8391c"/><stop offset=".397" stop-color="#a33018"/><stop offset=".454" stop-color="#9e2914"/><stop offset=".504" stop-color="#9b2613"/><stop offset=".547" stop-color="#9a2412"/><stop offset=".597" stop-color="#992211"/><stop offset=".669" stop-color="#982111"/><stop offset=".755" stop-color="#982010"/><stop offset=".855" stop-color="#971f10"/><stop offset=".948" stop-color="#971f10"/><stop offset=".990" stop-color="#972915"/></linearGradient><linearGradient id="hm0g101" x1="0" y1="0" x2="0" y2="1"><stop offset=".010" stop-color="#d52915"/><stop offset=".074" stop-color="#cd361b"/><stop offset=".139" stop-color="#c34221"/><stop offset=".203" stop-color="#b94321"/><stop offset=".268" stop-color="#b03f20"/><stop offset=".332" stop-color="#a9391c"/><stop offset=".397" stop-color="#a43018"/><stop offset=".454" stop-color="#a02914"/><stop offset=".504" stop-color="#9d2613"/><stop offset=".547" stop-color="#9c2412"/><stop offset=".597" stop-color="#9b2211"/><stop offset=".669" stop-color="#9a2111"/><stop offset=".755" stop-color="#9a2010"/><stop offset=".855" stop-color="#9a1f10"/><stop offset=".948" stop-color="#991f10"/><stop offset=".990" stop-color="#992915"/></linearGradient><linearGradient id="hm0g102" x1="0" y1="0" x2="0" y2="1"><stop offset=".010" stop-color="#d52915"/><stop offset=".074" stop-color="#cd361b"/><stop offset=".139" stop-color="#c34221"/><stop offset=".203" stop-color="#b94321"/><stop offset=".268" stop-color="#b13f20"/><stop offset=".332" stop-color="#a9391c"/><stop offset=".397" stop-color="#a53018"/><stop offset=".454" stop-color="#a12914"/><stop offset=".504" stop-color="#9e2613"/><stop offset=".547" stop-color="#9d2412"/><stop offset=".597" stop-color="#9d2211"/><stop offset=".669" stop-color="#9c2111"/><stop offset=".755" stop-color="#9c2010"/><stop offset=".855" stop-color="#9c1f10"/><stop offset=".948" stop-color="#9c1f10"/><stop offset=".990" stop-color="#9c2915"/></linearGradient><linearGradient id="hm0g103" x1="0" y1="0" x2="0" y2="1"><stop offset=".010" stop-color="#d52915"/><stop offset=".074" stop-color="#cd361b"/><stop offset=".139" stop-color="#c34221"/><stop offset=".203" stop-color="#b94321"/><stop offset=".268" stop-color="#b13f20"/><stop offset=".332" stop-color="#aa391c"/><stop offset=".397" stop-color="#a53018"/><stop offset=".454" stop-color="#a22914"/><stop offset=".504" stop-color="#a02613"/><stop offset=".547" stop-color="#9f2412"/><stop offset=".597" stop-color="#9e2211"/><stop offset=".669" stop-color="#9e2111"/><stop offset=".755" stop-color="#9e2010"/><stop offset=".855" stop-color="#9e1f10"/><stop offset=".948" stop-color="#9e1f10"/><stop offset=".990" stop-color="#9e2915"/></linearGradient><linearGradient id="hm0g104" x1="0" y1="0" x2="0" y2="1"><stop offset=".010" stop-color="#d52915"/><stop offset=".074" stop-color="#cd361b"/><stop offset=".139" stop-color="#c34221"/><stop offset=".203" stop-color="#b94321"/><stop offset=".268" stop-color="#b13f20"/><stop offset=".332" stop-color="#aa391c"/><stop offset=".397" stop-color="#a63018"/><stop offset=".454" stop-color="#a32914"/><stop offset=".504" stop-color="#a12613"/><stop offset=".547" stop-color="#a02412"/><stop offset=".597" stop-color="#a02211"/><stop offset=".669" stop-color="#9f2111"/><stop offset=".755" stop-color="#9f2010"/><stop offset=".855" stop-color="#9f1f10"/><stop offset=".948" stop-color="#9f1f10"/><stop offset=".990" stop-color="#9f2915"/></linearGradient><linearGradient id="hm0g105" x1="0" y1="0" x2="0" y2="1"><stop offset=".010" stop-color="#d52915"/><stop offset=".074" stop-color="#cd361b"/><stop offset=".139" stop-color="#c34221"/><stop offset=".203" stop-color="#b94321"/><stop offset=".268" stop-color="#b13f20"/><stop offset=".332" stop-color="#ab391c"/><stop offset=".397" stop-color="#a63018"/><stop offset=".454" stop-color="#a32914"/><stop offset=".504" stop-color="#a22613"/><stop offset=".547" stop-color="#a12412"/><stop offset=".597" stop-color="#a12211"/><stop offset=".669" stop-color="#a02111"/><stop offset=".755" stop-color="#a02010"/><stop offset=".855" stop-color="#a11f10"/><stop offset=".948" stop-color="#a11f10"/><stop offset=".990" stop-color="#a12915"/></linearGradient><linearGradient id="hm0g106" x1="0" y1="0" x2="0" y2="1"><stop offset=".010" stop-color="#d52915"/><stop offset=".074" stop-color="#cd361b"/><stop offset=".139" stop-color="#c34221"/><stop offset=".203" stop-color="#b94321"/><stop offset=".268" stop-color="#b13f20"/><stop offset=".332" stop-color="#ab391c"/><stop offset=".397" stop-color="#a73018"/><stop offset=".454" stop-color="#a42914"/><stop offset=".504" stop-color="#a32613"/><stop offset=".547" stop-color="#a22412"/><stop offset=".597" stop-color="#a22211"/><stop offset=".669" stop-color="#a22111"/><stop offset=".755" stop-color="#a22010"/><stop offset=".855" stop-color="#a21f10"/><stop offset=".948" stop-color="#a21f10"/><stop offset=".990" stop-color="#a22915"/></linearGradient><linearGradient id="hm0g107" x1="0" y1="0" x2="0" y2="1"><stop offset=".010" stop-color="#d52915"/><stop offset=".074" stop-color="#cd361b"/><stop offset=".139" stop-color="#c34221"/><stop offset=".203" stop-color="#b94321"/><stop offset=".268" stop-color="#b23f20"/><stop offset=".332" stop-color="#ab391c"/><stop offset=".397" stop-color="#a73018"/><stop offset=".454" stop-color="#a52914"/><stop offset=".504" stop-color="#a42613"/><stop offset=".547" stop-color="#a32412"/><stop offset=".597" stop-color="#a32211"/><stop offset=".669" stop-color="#a32111"/><stop offset=".755" stop-color="#a32010"/><stop offset=".855" stop-color="#a41f10"/><stop offset=".948" stop-color="#a41f10"/><stop offset=".990" stop-color="#a42915"/></linearGradient><linearGradient id="hm0g108" x1="0" y1="0" x2="0" y2="1"><stop offset=".010" stop-color="#d52915"/><stop offset=".074" stop-color="#cd361b"/><stop offset=".139" stop-color="#c34221"/><stop offset=".203" stop-color="#b94321"/><stop offset=".268" stop-color="#b23f20"/><stop offset=".332" stop-color="#ac391c"/><stop offset=".397" stop-color="#a83018"/><stop offset=".454" stop-color="#a62914"/><stop offset=".504" stop-color="#a52613"/><stop offset=".547" stop-color="#a42412"/><stop offset=".597" stop-color="#a42211"/><stop offset=".669" stop-color="#a42111"/><stop offset=".755" stop-color="#a52010"/><stop offset=".855" stop-color="#a51f10"/><stop offset=".948" stop-color="#a51f10"/><stop offset=".990" stop-color="#a52915"/></linearGradient><linearGradient id="hm0g109" x1="0" y1="0" x2="0" y2="1"><stop offset=".010" stop-color="#d52915"/><stop offset=".074" stop-color="#cd361b"/><stop offset=".139" stop-color="#c34221"/><stop offset=".203" stop-color="#b94321"/><stop offset=".268" stop-color="#b23f20"/><stop offset=".332" stop-color="#ac391c"/><stop offset=".397" stop-color="#a83018"/><stop offset=".454" stop-color="#a62914"/><stop offset=".504" stop-color="#a62613"/><stop offset=".547" stop-color="#a52412"/><stop offset=".597" stop-color="#a62211"/><stop offset=".669" stop-color="#a62111"/><stop offset=".755" stop-color="#a62010"/><stop offset=".855" stop-color="#a71f10"/><stop offset=".948" stop-color="#a71f10"/><stop offset=".990" stop-color="#a72915"/></linearGradient><linearGradient id="hm0g110" x1="0" y1="0" x2="0" y2="1"><stop offset=".010" stop-color="#d52915"/><stop offset=".074" stop-color="#cd361b"/><stop offset=".139" stop-color="#c34221"/><stop offset=".203" stop-color="#b94321"/><stop offset=".268" stop-color="#b23f20"/><stop offset=".332" stop-color="#ac391c"/><stop offset=".397" stop-color="#a93018"/><stop offset=".454" stop-color="#a72914"/><stop offset=".504" stop-color="#a72613"/><stop offset=".547" stop-color="#a72412"/><stop offset=".597" stop-color="#a72211"/><stop offset=".669" stop-color="#a72111"/><stop offset=".755" stop-color="#a82010"/><stop offset=".855" stop-color="#a91f10"/><stop offset=".948" stop-color="#a91f10"/><stop offset=".990" stop-color="#a92915"/></linearGradient><linearGradient id="hm0g111" x1="0" y1="0" x2="0" y2="1"><stop offset=".010" stop-color="#d52915"/><stop offset=".074" stop-color="#cd361b"/><stop offset=".139" stop-color="#c34221"/><stop offset=".203" stop-color="#b94321"/><stop offset=".268" stop-color="#b23f20"/><stop offset=".332" stop-color="#ad391c"/><stop offset=".397" stop-color="#a93018"/><stop offset=".454" stop-color="#a82914"/><stop offset=".504" stop-color="#a82613"/><stop offset=".547" stop-color="#a82412"/><stop offset=".597" stop-color="#a82211"/><stop offset=".669" stop-color="#a92111"/><stop offset=".755" stop-color="#a92010"/><stop offset=".855" stop-color="#aa1f10"/><stop offset=".948" stop-color="#aa1f10"/><stop offset=".990" stop-color="#aa2915"/></linearGradient><linearGradient id="hm0g112" x1="0" y1="0" x2="0" y2="1"><stop offset=".010" stop-color="#d52915"/><stop offset=".074" stop-color="#cd361b"/><stop offset=".139" stop-color="#c34221"/><stop offset=".203" stop-color="#b94321"/><stop offset=".268" stop-color="#b33f20"/><stop offset=".332" stop-color="#ad391c"/><stop offset=".397" stop-color="#aa3018"/><stop offset=".454" stop-color="#a92914"/><stop offset=".504" stop-color="#a92613"/><stop offset=".547" stop-color="#a92412"/><stop offset=".597" stop-color="#a92211"/><stop offset=".669" stop-color="#aa2111"/><stop offset=".755" stop-color="#ab2010"/><stop offset=".855" stop-color="#ac1f10"/><stop offset=".948" stop-color="#ac1f10"/><stop offset=".990" stop-color="#ac2915"/></linearGradient><linearGradient id="hm0g113" x1="0" y1="0" x2="0" y2="1"><stop offset=".010" stop-color="#d52915"/><stop offset=".074" stop-color="#cd361b"/><stop offset=".139" stop-color="#c34221"/><stop offset=".203" stop-color="#b94321"/><stop offset=".268" stop-color="#b33f20"/><stop offset=".332" stop-color="#ad391c"/><stop offset=".397" stop-color="#aa3018"/><stop offset=".454" stop-color="#a92914"/><stop offset=".504" stop-color="#a92613"/><stop offset=".547" stop-color="#aa2412"/><stop offset=".597" stop-color="#aa2211"/><stop offset=".669" stop-color="#ab2111"/><stop offset=".755" stop-color="#ac2010"/><stop offset=".855" stop-color="#ad1f10"/><stop offset=".948" stop-color="#ad1f10"/><stop offset=".990" stop-color="#ad2915"/></linearGradient><linearGradient id="hm0g114" x1="0" y1="0" x2="0" y2="1"><stop offset=".010" stop-color="#d52915"/><stop offset=".074" stop-color="#cd361b"/><stop offset=".139" stop-color="#c34221"/><stop offset=".203" stop-color="#b94321"/><stop offset=".268" stop-color="#b33f20"/><stop offset=".332" stop-color="#ad391c"/><stop offset=".397" stop-color="#aa3018"/><stop offset=".454" stop-color="#a92914"/><stop offset=".504" stop-color="#a92613"/><stop offset=".547" stop-color="#aa2412"/><stop offset=".597" stop-color="#aa2211"/><stop offset=".669" stop-color="#ab2111"/><stop offset=".755" stop-color="#ac2010"/><stop offset=".855" stop-color="#ad1f10"/><stop offset=".948" stop-color="#ad1f10"/><stop offset=".990" stop-color="#ad2915"/></linearGradient></defs>
<filter id="hm0f" filterUnits="userSpaceOnUse" x="185.3" y="1233" width="730.1" height="607.3" color-interpolation-filters="sRGB"><feGaussianBlur in="SourceGraphic" stdDeviation="3 0" result="b"/><feTurbulence type="fractalNoise" baseFrequency="0.055 0.0025" numOctaves="3" seed="3" result="t"/><feComponentTransfer in="t" result="tc"><feFuncR type="linear" slope="2" intercept="-0.5"/></feComponentTransfer><feColorMatrix in="tc" type="matrix" values="0 0 0 0 1 1 0 0 0 0 0 0 0 0 1 0 0 0 0 1" result="t2"/><feComposite in="b" in2="t2" operator="arithmetic" k1="1" k2="0" k3="0" k4="0" result="p"/><feColorMatrix in="p" type="matrix" values="1 1 -1 0 0 1 1 -1 0 0 1 1 -1 0 0 0 0 0 0 1" result="s"/><feComponentTransfer in="s"><feFuncR type="table" tableValues="0.373 0.373 0.373 0.373 0.373 0.373 0.373 0.373 0.373 0.373 0.373 0.373 0.373 0.373 0.373 0.373 0.373 0.373 0.373 0.373 0.373 0.374 0.396 0.417 0.439 0.46 0.482 0.503 0.525 0.547 0.574 0.601 0.628 0.654 0.681 0.708 0.734 0.764 0.802 0.839 0.876 0.901 0.925 0.949 0.973 0.997 1 1 1 1 1 1 1 1 1 1 1 1 1 1 1 1 1 1 1 1 0.998 0.992 0.987 0.981 0.968 0.955 0.941 0.927 0.911 0.894 0.876 0.856 0.836 0.816 0.797 0.779 0.76 0.742 0.723 0.704 0.685 0.664 0.643 0.623 0.602 0.583 0.563 0.542 0.518 0.495 0.472 0.453 0.434 0.416 0.394 0.37 0.345 0.321 0.305 0.288 0.27 0.245 0.222 0.204 0.187 0.169 0.15 0.132 0.113 0.094 0.073 0.052 0.033 0.017 0 0 0 0 0 0 0 0 0 0 0 0 0 0 0 0 0 0 0 0 0"/><feFuncG type="table" tableValues="0.251 0.251 0.251 0.251 0.251 0.251 0.251 0.251 0.251 0.251 0.251 0.251 0.251 0.251 0.251 0.251 0.251 0.251 0.251 0.251 0.251 0.169 0.182 0.194 0.207 0.219 0.232 0.245 0.257 0.27 0.284 0.298 0.311 0.325 0.339 0.353 0.367 0.382 0.401 0.419 0.438 0.451 0.463 0.476 0.488 0.5 0.52 0.541 0.562 0.583 0.604 0.622 0.637 0.653 0.668 0.684 0.703 0.724 0.745 0.766 0.787 0.807 0.827 0.847 0.866 0.892 0.917 0.94 0.963 0.987 0.976 0.963 0.949 0.939 0.934 0.928 0.92 0.909 0.898 0.887 0.875 0.863 0.852 0.839 0.827 0.814 0.801 0.787 0.773 0.759 0.746 0.734 0.722 0.709 0.695 0.681 0.667 0.656 0.644 0.632 0.619 0.603 0.588 0.572 0.561 0.55 0.539 0.526 0.514 0.5 0.487 0.474 0.462 0.45 0.438 0.426 0.413 0.4 0.389 0.379 0.369 0.49 0.49 0.49 0.49 0.49 0.49 0.49 0.49 0.49 0.49 0.49 0.49 0.49 0.49 0.49 0.49 0.49 0.49 0.49 0.49"/><feFuncB type="table" tableValues="0.22 0.22 0.22 0.22 0.22 0.22 0.22 0.22 0.22 0.22 0.22 0.22 0.22 0.22 0.22 0.22 0.22 0.22 0.22 0.22 0.22 0 0 0 0 0 0 0 0 0 0 0 0 0 0 0 0 0 0 0 0 0 0 0 0 0 0.021 0.045 0.069 0.093 0.117 0.138 0.156 0.175 0.193 0.212 0.23 0.248 0.266 0.284 0.302 0.32 0.339 0.358 0.376 0.395 0.413 0.432 0.451 0.469 0.471 0.471 0.471 0.466 0.455 0.444 0.435 0.426 0.417 0.408 0.401 0.394 0.387 0.38 0.373 0.366 0.358 0.346 0.335 0.323 0.312 0.301 0.29 0.278 0.264 0.25 0.236 0.226 0.217 0.208 0.198 0.186 0.175 0.165 0.159 0.154 0.147 0.134 0.123 0.114 0.105 0.096 0.087 0.078 0.068 0.059 0.048 0.038 0.027 0.013 0 0 0 0 0 0 0 0 0 0 0 0 0 0 0 0 0 0 0 0 0"/></feComponentTransfer></filter>
<clipPath id="hm0c"><rect x="195.3" y="1239" width="710.1" height="595.3"/></clipPath>
<g clip-path="url(#hm0c)"><g filter="url(#hm0f)"><rect x="187.3" y="1233" width="9.6" height="607.3" fill="url(#hm0g0)"/><rect x="196.3" y="1233" width="9.6" height="607.3" fill="url(#hm0g1)"/><rect x="205.3" y="1233" width="9.6" height="607.3" fill="url(#hm0g2)"/><rect x="214.3" y="1233" width="9.6" height="607.3" fill="url(#hm0g3)"/><rect x="223.3" y="1233" width="9.6" height="607.3" fill="url(#hm0g4)"/><rect x="232.3" y="1233" width="9.6" height="607.3" fill="url(#hm0g5)"/><rect x="241.3" y="1233" width="9.6" height="607.3" fill="url(#hm0g6)"/><rect x="250.3" y="1233" width="9.6" height="607.3" fill="url(#hm0g7)"/><rect x="259.3" y="1233" width="9.6" height="607.3" fill="url(#hm0g8)"/><rect x="268.3" y="1233" width="9.6" height="607.3" fill="url(#hm0g9)"/><rect x="277.3" y="1233" width="9.6" height="607.3" fill="url(#hm0g10)"/><rect x="286.3" y="1233" width="9.6" height="607.3" fill="url(#hm0g11)"/><rect x="295.3" y="1233" width="9.6" height="607.3" fill="url(#hm0g12)"/><rect x="304.3" y="1233" width="9.6" height="607.3" fill="url(#hm0g13)"/><rect x="313.3" y="1233" width="9.6" height="607.3" fill="url(#hm0g14)"/><rect x="322.3" y="1233" width="9.6" height="607.3" fill="url(#hm0g15)"/><rect x="331.3" y="1233" width="9.6" height="607.3" fill="url(#hm0g16)"/><rect x="340.3" y="1233" width="9.6" height="607.3" fill="url(#hm0g17)"/><rect x="349.3" y="1233" width="9.6" height="607.3" fill="url(#hm0g18)"/><rect x="358.3" y="1233" width="9.6" height="607.3" fill="url(#hm0g19)"/><rect x="367.3" y="1233" width="5.6" height="607.3" fill="url(#hm0g20)"/><rect x="372.3" y="1233" width="5.6" height="607.3" fill="url(#hm0g21)"/><rect x="377.3" y="1233" width="5.6" height="607.3" fill="url(#hm0g22)"/><rect x="382.3" y="1233" width="5.6" height="607.3" fill="url(#hm0g23)"/><rect x="387.3" y="1233" width="5.6" height="607.3" fill="url(#hm0g24)"/><rect x="392.3" y="1233" width="5.6" height="607.3" fill="url(#hm0g25)"/><rect x="397.3" y="1233" width="5.6" height="607.3" fill="url(#hm0g26)"/><rect x="402.3" y="1233" width="5.6" height="607.3" fill="url(#hm0g27)"/><rect x="407.3" y="1233" width="5.6" height="607.3" fill="url(#hm0g28)"/><rect x="412.3" y="1233" width="5.6" height="607.3" fill="url(#hm0g29)"/><rect x="417.3" y="1233" width="5.6" height="607.3" fill="url(#hm0g30)"/><rect x="422.3" y="1233" width="5.6" height="607.3" fill="url(#hm0g31)"/><rect x="427.3" y="1233" width="5.6" height="607.3" fill="url(#hm0g32)"/><rect x="432.3" y="1233" width="5.6" height="607.3" fill="url(#hm0g33)"/><rect x="437.3" y="1233" width="5.6" height="607.3" fill="url(#hm0g34)"/><rect x="442.3" y="1233" width="5.6" height="607.3" fill="url(#hm0g35)"/><rect x="447.3" y="1233" width="5.6" height="607.3" fill="url(#hm0g36)"/><rect x="452.3" y="1233" width="5.6" height="607.3" fill="url(#hm0g37)"/><rect x="457.3" y="1233" width="5.6" height="607.3" fill="url(#hm0g38)"/><rect x="462.3" y="1233" width="5.6" height="607.3" fill="url(#hm0g39)"/><rect x="467.3" y="1233" width="5.6" height="607.3" fill="url(#hm0g40)"/><rect x="472.3" y="1233" width="5.6" height="607.3" fill="url(#hm0g41)"/><rect x="477.3" y="1233" width="5.6" height="607.3" fill="url(#hm0g42)"/><rect x="482.3" y="1233" width="5.6" height="607.3" fill="url(#hm0g43)"/><rect x="487.3" y="1233" width="5.6" height="607.3" fill="url(#hm0g44)"/><rect x="492.3" y="1233" width="5.6" height="607.3" fill="url(#hm0g45)"/><rect x="497.3" y="1233" width="5.6" height="607.3" fill="url(#hm0g46)"/><rect x="502.3" y="1233" width="5.6" height="607.3" fill="url(#hm0g47)"/><rect x="507.3" y="1233" width="5.6" height="607.3" fill="url(#hm0g48)"/><rect x="512.3" y="1233" width="5.6" height="607.3" fill="url(#hm0g49)"/><rect x="517.3" y="1233" width="5.6" height="607.3" fill="url(#hm0g50)"/><rect x="522.3" y="1233" width="5.6" height="607.3" fill="url(#hm0g51)"/><rect x="527.3" y="1233" width="5.6" height="607.3" fill="url(#hm0g52)"/><rect x="532.3" y="1233" width="5.6" height="607.3" fill="url(#hm0g53)"/><rect x="537.3" y="1233" width="5.6" height="607.3" fill="url(#hm0g54)"/><rect x="542.3" y="1233" width="5.6" height="607.3" fill="url(#hm0g55)"/><rect x="547.3" y="1233" width="5.6" height="607.3" fill="url(#hm0g56)"/><rect x="552.3" y="1233" width="5.6" height="607.3" fill="url(#hm0g57)"/><rect x="557.3" y="1233" width="5.6" height="607.3" fill="url(#hm0g58)"/><rect x="562.3" y="1233" width="5.6" height="607.3" fill="url(#hm0g59)"/><rect x="567.3" y="1233" width="5.6" height="607.3" fill="url(#hm0g60)"/><rect x="572.3" y="1233" width="5.6" height="607.3" fill="url(#hm0g61)"/><rect x="577.3" y="1233" width="5.6" height="607.3" fill="url(#hm0g62)"/><rect x="582.3" y="1233" width="5.6" height="607.3" fill="url(#hm0g63)"/><rect x="587.3" y="1233" width="5.6" height="607.3" fill="url(#hm0g64)"/><rect x="592.3" y="1233" width="5.6" height="607.3" fill="url(#hm0g65)"/><rect x="597.3" y="1233" width="5.6" height="607.3" fill="url(#hm0g66)"/><rect x="602.3" y="1233" width="5.6" height="607.3" fill="url(#hm0g67)"/><rect x="607.3" y="1233" width="5.6" height="607.3" fill="url(#hm0g68)"/><rect x="612.3" y="1233" width="5.6" height="607.3" fill="url(#hm0g69)"/><rect x="617.3" y="1233" width="5.6" height="607.3" fill="url(#hm0g70)"/><rect x="622.3" y="1233" width="5.6" height="607.3" fill="url(#hm0g71)"/><rect x="627.3" y="1233" width="5.6" height="607.3" fill="url(#hm0g72)"/><rect x="632.3" y="1233" width="5.6" height="607.3" fill="url(#hm0g73)"/><rect x="637.3" y="1233" width="5.6" height="607.3" fill="url(#hm0g74)"/><rect x="642.3" y="1233" width="5.6" height="607.3" fill="url(#hm0g75)"/><rect x="647.3" y="1233" width="5.6" height="607.3" fill="url(#hm0g76)"/><rect x="652.3" y="1233" width="5.6" height="607.3" fill="url(#hm0g77)"/><rect x="657.3" y="1233" width="5.6" height="607.3" fill="url(#hm0g78)"/><rect x="662.3" y="1233" width="5.6" height="607.3" fill="url(#hm0g79)"/><rect x="667.3" y="1233" width="5.6" height="607.3" fill="url(#hm0g80)"/><rect x="672.3" y="1233" width="5.6" height="607.3" fill="url(#hm0g81)"/><rect x="677.3" y="1233" width="5.6" height="607.3" fill="url(#hm0g82)"/><rect x="682.3" y="1233" width="5.6" height="607.3" fill="url(#hm0g83)"/><rect x="687.3" y="1233" width="5.6" height="607.3" fill="url(#hm0g84)"/><rect x="692.3" y="1233" width="5.6" height="607.3" fill="url(#hm0g85)"/><rect x="697.3" y="1233" width="5.6" height="607.3" fill="url(#hm0g86)"/><rect x="702.3" y="1233" width="5.6" height="607.3" fill="url(#hm0g87)"/><rect x="707.3" y="1233" width="5.6" height="607.3" fill="url(#hm0g88)"/><rect x="712.3" y="1233" width="5.6" height="607.3" fill="url(#hm0g89)"/><rect x="717.3" y="1233" width="5.6" height="607.3" fill="url(#hm0g90)"/><rect x="722.3" y="1233" width="5.6" height="607.3" fill="url(#hm0g91)"/><rect x="727.3" y="1233" width="5.6" height="607.3" fill="url(#hm0g92)"/><rect x="732.3" y="1233" width="5.6" height="607.3" fill="url(#hm0g93)"/><rect x="737.3" y="1233" width="5.6" height="607.3" fill="url(#hm0g94)"/><rect x="742.3" y="1233" width="9.6" height="607.3" fill="url(#hm0g95)"/><rect x="751.3" y="1233" width="9.6" height="607.3" fill="url(#hm0g96)"/><rect x="760.3" y="1233" width="9.6" height="607.3" fill="url(#hm0g97)"/><rect x="769.3" y="1233" width="9.6" height="607.3" fill="url(#hm0g98)"/><rect x="778.3" y="1233" width="9.6" height="607.3" fill="url(#hm0g99)"/><rect x="787.3" y="1233" width="9.6" height="607.3" fill="url(#hm0g100)"/><rect x="796.3" y="1233" width="9.6" height="607.3" fill="url(#hm0g101)"/><rect x="805.3" y="1233" width="9.6" height="607.3" fill="url(#hm0g102)"/><rect x="814.3" y="1233" width="9.6" height="607.3" fill="url(#hm0g103)"/><rect x="823.3" y="1233" width="9.6" height="607.3" fill="url(#hm0g104)"/><rect x="832.3" y="1233" width="9.6" height="607.3" fill="url(#hm0g105)"/><rect x="841.3" y="1233" width="9.6" height="607.3" fill="url(#hm0g106)"/><rect x="850.3" y="1233" width="9.6" height="607.3" fill="url(#hm0g107)"/><rect x="859.3" y="1233" width="9.6" height="607.3" fill="url(#hm0g108)"/><rect x="868.3" y="1233" width="9.6" height="607.3" fill="url(#hm0g109)"/><rect x="877.3" y="1233" width="9.6" height="607.3" fill="url(#hm0g110)"/><rect x="886.3" y="1233" width="9.6" height="607.3" fill="url(#hm0g111)"/><rect x="895.3" y="1233" width="9.6" height="607.3" fill="url(#hm0g112)"/><rect x="904.3" y="1233" width="9.6" height="607.3" fill="url(#hm0g113)"/><rect x="913.3" y="1233" width="9.6" height="607.3" fill="url(#hm0g114)"/></g></g>
<defs><linearGradient id="hm1g0" x1="0" y1="0" x2="0" y2="1"><stop offset=".010" stop-color="#d76734"/><stop offset=".074" stop-color="#d57a3d"/><stop offset=".139" stop-color="#d48744"/><stop offset=".203" stop-color="#d18a45"/><stop offset=".268" stop-color="#ce8a45"/><stop offset=".332" stop-color="#ca8a45"/><stop offset=".397" stop-color="#c78a45"/><stop offset=".454" stop-color="#c48141"/><stop offset=".504" stop-color="#bd6231"/><stop offset=".547" stop-color="#ae4121"/><stop offset=".597" stop-color="#aa3018"/><stop offset=".669" stop-color="#ab3018"/><stop offset=".755" stop-color="#ab3018"/><stop offset=".855" stop-color="#a83018"/><stop offset=".948" stop-color="#a43018"/><stop offset=".990" stop-color="#a2371b"/></linearGradient><linearGradient id="hm1g1" x1="0" y1="0" x2="0" y2="1"><stop offset=".010" stop-color="#d76734"/><stop offset=".074" stop-color="#d57a3d"/><stop offset=".139" stop-color="#d48744"/><stop offset=".203" stop-color="#d18a45"/><stop offset=".268" stop-color="#cf8a45"/><stop offset=".332" stop-color="#ce8a45"/><stop offset=".397" stop-color="#ce8a45"/><stop offset=".454" stop-color="#d08141"/><stop offset=".504" stop-color="#cf6231"/><stop offset=".547" stop-color="#c64121"/><stop offset=".597" stop-color="#c93018"/><stop offset=".669" stop-color="#d23018"/><stop offset=".755" stop-color="#d53018"/><stop offset=".855" stop-color="#cb3018"/><stop offset=".948" stop-color="#b93018"/><stop offset=".990" stop-color="#b2371b"/></linearGradient><linearGradient id="hm1g2" x1="0" y1="0" x2="0" y2="1"><stop offset=".010" stop-color="#d76734"/><stop offset=".074" stop-color="#d57a3d"/><stop offset=".139" stop-color="#d48744"/><stop offset=".203" stop-color="#d18a45"/><stop offset=".268" stop-color="#cf8a45"/><stop offset=".332" stop-color="#cd8a45"/><stop offset=".397" stop-color="#cc8a45"/><stop offset=".454" stop-color="#ce8141"/><stop offset=".504" stop-color="#ca6231"/><stop offset=".547" stop-color="#c04121"/><stop offset=".597" stop-color="#c13018"/><stop offset=".669" stop-color="#c83018"/><stop offset=".755" stop-color="#ca3018"/><stop offset=".855" stop-color="#c23018"/><stop offset=".948" stop-color="#b33018"/><stop offset=".990" stop-color="#ad371b"/></linearGradient><linearGradient id="hm1g3" x1="0" y1="0" x2="0" y2="1"><stop offset=".010" stop-color="#d76734"/><stop offset=".074" stop-color="#d57a3d"/><stop offset=".139" stop-color="#d48744"/><stop offset=".203" stop-color="#d18a45"/><stop offset=".268" stop-color="#ce8a45"/><stop offset=".332" stop-color="#ca8a45"/><stop offset=".397" stop-color="#c68a45"/><stop offset=".454" stop-color="#c38141"/><stop offset=".504" stop-color="#ba6231"/><stop offset=".547" stop-color="#aa4121"/><stop offset=".597" stop-color="#a43018"/><stop offset=".669" stop-color="#a43018"/><stop offset=".755" stop-color="#a33018"/><stop offset=".855" stop-color="#a13018"/><stop offset=".948" stop-color="#9f3018"/><stop offset=".990" stop-color="#9e371b"/></linearGradient><linearGradient id="hm1g4" x1="0" y1="0" x2="0" y2="1"><stop offset=".010" stop-color="#d76734"/><stop offset=".074" stop-color="#d57a3d"/><stop offset=".139" stop-color="#d48744"/><stop offset=".203" stop-color="#d18a45"/><stop offset=".268" stop-color="#cd8a45"/><stop offset=".332" stop-color="#c98a45"/><stop offset=".397" stop-color="#c58a45"/><stop offset=".454" stop-color="#c18141"/><stop offset=".504" stop-color="#b76231"/><stop offset=".547" stop-color="#a54121"/><stop offset=".597" stop-color="#9f3018"/><stop offset=".669" stop-color="#9d3018"/><stop offset=".755" stop-color="#9b3018"/><stop offset=".855" stop-color="#9b3018"/><stop offset=".948" stop-color="#9b3018"/><stop offset=".990" stop-color="#9b371b"/></linearGradient><linearGradient id="hm1g5" x1="0" y1="0" x2="0" y2="1"><stop offset=".010" stop-color="#d76734"/><stop offset=".074" stop-color="#d57a3d"/><stop offset=".139" stop-color="#d48744"/><stop offset=".203" stop-color="#d18a45"/><stop offset=".268" stop-color="#cd8a45"/><stop offset=".332" stop-color="#c98a45"/><stop offset=".397" stop-color="#c58a45"/><stop offset=".454" stop-color="#c18141"/><stop offset=".504" stop-color="#b66231"/><stop offset=".547" stop-color="#a54121"/><stop offset=".597" stop-color="#9e3018"/><stop offset=".669" stop-color="#9c3018"/><stop offset=".755" stop-color="#9b3018"/><stop offset=".855" stop-color="#9a3018"/><stop offset=".948" stop-color="#9a3018"/><stop offset=".990" stop-color="#9a371b"/></linearGradient><linearGradient id="hm1g6" x1="0" y1="0" x2="0" y2="1"><stop offset=".010" stop-color="#d76734"/><stop offset=".074" stop-color="#d57a3d"/><stop offset=".139" stop-color="#d48744"/><stop offset=".203" stop-color="#d18a45"/><stop offset=".268" stop-color="#cd8a45"/><stop offset=".332" stop-color="#c98a45"/><stop offset=".397" stop-color="#c58a45"/><stop offset=".454" stop-color="#c18141"/><stop offset=".504" stop-color="#b66231"/><stop offset=".547" stop-color="#a44121"/><stop offset=".597" stop-color="#9e3018"/><stop offset=".669" stop-color="#9c3018"/><stop offset=".755" stop-color="#9a3018"/><stop offset=".855" stop-color="#9a3018"/><stop offset=".948" stop-color="#9a3018"/><stop offset=".990" stop-color="#9a371b"/></linearGradient><linearGradient id="hm1g7" x1="0" y1="0" x2="0" y2="1"><stop offset=".010" stop-color="#d76734"/><stop offset=".074" stop-color="#d57a3d"/><stop offset=".139" stop-color="#d48744"/><stop offset=".203" stop-color="#d18a45"/><stop offset=".268" stop-color="#cd8a45"/><stop offset=".332" stop-color="#c98a45"/><stop offset=".397" stop-color="#c58a45"/><stop offset=".454" stop-color="#c18141"/><stop offset=".504" stop-color="#b66231"/><stop offset=".547" stop-color="#a44121"/><stop offset=".597" stop-color="#9e3018"/><stop offset=".669" stop-color="#9c3018"/><stop offset=".755" stop-color="#9a3018"/><stop offset=".855" stop-color="#993018"/><stop offset=".948" stop-color="#993018"/><stop offset=".990" stop-color="#99371b"/></linearGradient><linearGradient id="hm1g8" x1="0" y1="0" x2="0" y2="1"><stop offset=".010" stop-color="#d76734"/><stop offset=".074" stop-color="#d57a3d"/><stop offset=".139" stop-color="#d48744"/><stop offset=".203" stop-color="#d18a45"/><stop offset=".268" stop-color="#cd8a45"/><stop offset=".332" stop-color="#c98a45"/><stop offset=".397" stop-color="#c58a45"/><stop offset=".454" stop-color="#c18141"/><stop offset=".504" stop-color="#b66231"/><stop offset=".547" stop-color="#a44121"/><stop offset=".597" stop-color="#9d3018"/><stop offset=".669" stop-color="#9b3018"/><stop offset=".755" stop-color="#9a3018"/><stop offset=".855" stop-color="#993018"/><stop offset=".948" stop-color="#993018"/><stop offset=".990" stop-color="#99371b"/></linearGradient><linearGradient id="hm1g9" x1="0" y1="0" x2="0" y2="1"><stop offset=".010" stop-color="#d76734"/><stop offset=".074" stop-color="#d57a3d"/><stop offset=".139" stop-color="#d48744"/><stop offset=".203" stop-color="#d18a45"/><stop offset=".268" stop-color="#cd8a45"/><stop offset=".332" stop-color="#c98a45"/><stop offset=".397" stop-color="#c58a45"/><stop offset=".454" stop-color="#c08141"/><stop offset=".504" stop-color="#b66231"/><stop offset=".547" stop-color="#a34121"/><stop offset=".597" stop-color="#9d3018"/><stop offset=".669" stop-color="#9b3018"/><stop offset=".755" stop-color="#993018"/><stop offset=".855" stop-color="#983018"/><stop offset=".948" stop-color="#983018"/><stop offset=".990" stop-color="#98371b"/></linearGradient><linearGradient id="hm1g10" x1="0" y1="0" x2="0" y2="1"><stop offset=".010" stop-color="#d76734"/><stop offset=".074" stop-color="#d57a3d"/><stop offset=".139" stop-color="#d48744"/><stop offset=".203" stop-color="#d18a45"/><stop offset=".268" stop-color="#cd8a45"/><stop offset=".332" stop-color="#c98a45"/><stop offset=".397" stop-color="#c48a45"/><stop offset=".454" stop-color="#bc8141"/><stop offset=".504" stop-color="#b66231"/><stop offset=".547" stop-color="#a34121"/><stop offset=".597" stop-color="#9c3018"/><stop offset=".669" stop-color="#9b3018"/><stop offset=".755" stop-color="#993018"/><stop offset=".855" stop-color="#983018"/><stop offset=".948" stop-color="#973018"/><stop offset=".990" stop-color="#97371b"/></linearGradient><linearGradient id="hm1g11" x1="0" y1="0" x2="0" y2="1"><stop offset=".010" stop-color="#d76734"/><stop offset=".074" stop-color="#d57a3d"/><stop offset=".139" stop-color="#d48744"/><stop offset=".203" stop-color="#d18a45"/><stop offset=".268" stop-color="#cd8a45"/><stop offset=".332" stop-color="#c98a45"/><stop offset=".397" stop-color="#bd8a45"/><stop offset=".454" stop-color="#a48141"/><stop offset=".504" stop-color="#b56231"/><stop offset=".547" stop-color="#a24121"/><stop offset=".597" stop-color="#9c3018"/><stop offset=".669" stop-color="#9a3018"/><stop offset=".755" stop-color="#983018"/><stop offset=".855" stop-color="#973018"/><stop offset=".948" stop-color="#963018"/><stop offset=".990" stop-color="#96371b"/></linearGradient><linearGradient id="hm1g12" x1="0" y1="0" x2="0" y2="1"><stop offset=".010" stop-color="#d76734"/><stop offset=".074" stop-color="#d57a3d"/><stop offset=".139" stop-color="#d48744"/><stop offset=".203" stop-color="#d18a45"/><stop offset=".268" stop-color="#cd8a45"/><stop offset=".332" stop-color="#c98a45"/><stop offset=".397" stop-color="#b28a45"/><stop offset=".454" stop-color="#7b4c26"/><stop offset=".504" stop-color="#b36231"/><stop offset=".547" stop-color="#a24121"/><stop offset=".597" stop-color="#9b3018"/><stop offset=".669" stop-color="#993018"/><stop offset=".755" stop-color="#973018"/><stop offset=".855" stop-color="#953018"/><stop offset=".948" stop-color="#953018"/><stop offset=".990" stop-color="#94371b"/></linearGradient><linearGradient id="hm1g13" x1="0" y1="0" x2="0" y2="1"><stop offset=".010" stop-color="#d76734"/><stop offset=".074" stop-color="#d57a3d"/><stop offset=".139" stop-color="#d48744"/><stop offset=".203" stop-color="#d18a45"/><stop offset=".268" stop-color="#cd8a45"/><stop offset=".332" stop-color="#c98a45"/><stop offset=".397" stop-color="#b28a45"/><stop offset=".454" stop-color="#7c4e27"/><stop offset=".504" stop-color="#b36231"/><stop offset=".547" stop-color="#a14121"/><stop offset=".597" stop-color="#9a3018"/><stop offset=".669" stop-color="#983018"/><stop offset=".755" stop-color="#963018"/><stop offset=".855" stop-color="#933018"/><stop offset=".948" stop-color="#933018"/><stop offset=".990" stop-color="#92371b"/></linearGradient><linearGradient id="hm1g14" x1="0" y1="0" x2="0" y2="1"><stop offset=".010" stop-color="#d76734"/><stop offset=".074" stop-color="#d57a3d"/><stop offset=".139" stop-color="#d48744"/><stop offset=".203" stop-color="#d18a45"/><stop offset=".268" stop-color="#cd8a45"/><stop offset=".332" stop-color="#c98a45"/><stop offset=".397" stop-color="#be8a45"/><stop offset=".454" stop-color="#a58141"/><stop offset=".504" stop-color="#b56231"/><stop offset=".547" stop-color="#a14121"/><stop offset=".597" stop-color="#993018"/><stop offset=".669" stop-color="#973018"/><stop offset=".755" stop-color="#943018"/><stop offset=".855" stop-color="#923018"/><stop offset=".948" stop-color="#913018"/><stop offset=".990" stop-color="#91361b"/></linearGradient><linearGradient id="hm1g15" x1="0" y1="0" x2="0" y2="1"><stop offset=".010" stop-color="#d76734"/><stop offset=".074" stop-color="#d57a3d"/><stop offset=".139" stop-color="#d48744"/><stop offset=".203" stop-color="#d18a45"/><stop offset=".268" stop-color="#cd8a45"/><stop offset=".332" stop-color="#c98a45"/><stop offset=".397" stop-color="#c48a45"/><stop offset=".454" stop-color="#bc8141"/><stop offset=".504" stop-color="#b66231"/><stop offset=".547" stop-color="#a04121"/><stop offset=".597" stop-color="#983018"/><stop offset=".669" stop-color="#963018"/><stop offset=".755" stop-color="#933018"/><stop offset=".855" stop-color="#902f17"/><stop offset=".948" stop-color="#902e17"/><stop offset=".990" stop-color="#8f341a"/></linearGradient><linearGradient id="hm1g16" x1="0" y1="0" x2="0" y2="1"><stop offset=".010" stop-color="#d76734"/><stop offset=".074" stop-color="#d57a3d"/><stop offset=".139" stop-color="#d48744"/><stop offset=".203" stop-color="#d18a45"/><stop offset=".268" stop-color="#cd8a45"/><stop offset=".332" stop-color="#c98a45"/><stop offset=".397" stop-color="#c58a45"/><stop offset=".454" stop-color="#c08141"/><stop offset=".504" stop-color="#b66231"/><stop offset=".547" stop-color="#9f4121"/><stop offset=".597" stop-color="#983018"/><stop offset=".669" stop-color="#953018"/><stop offset=".755" stop-color="#923018"/><stop offset=".855" stop-color="#8f2e17"/><stop offset=".948" stop-color="#8e2d16"/><stop offset=".990" stop-color="#8d3219"/></linearGradient><linearGradient id="hm1g17" x1="0" y1="0" x2="0" y2="1"><stop offset=".010" stop-color="#d76734"/><stop offset=".074" stop-color="#d57a3d"/><stop offset=".139" stop-color="#d48744"/><stop offset=".203" stop-color="#d18a45"/><stop offset=".268" stop-color="#cd8a45"/><stop offset=".332" stop-color="#c98a45"/><stop offset=".397" stop-color="#c58a45"/><stop offset=".454" stop-color="#c18141"/><stop offset=".504" stop-color="#b66231"/><stop offset=".547" stop-color="#9f4121"/><stop offset=".597" stop-color="#973018"/><stop offset=".669" stop-color="#943018"/><stop offset=".755" stop-color="#912f18"/><stop offset=".855" stop-color="#8d2c16"/><stop offset=".948" stop-color="#8c2b16"/><stop offset=".990" stop-color="#8b3018"/></linearGradient><linearGradient id="hm1g18" x1="0" y1="0" x2="0" y2="1"><stop offset=".010" stop-color="#d76734"/><stop offset=".074" stop-color="#d57a3d"/><stop offset=".139" stop-color="#d48744"/><stop offset=".203" stop-color="#d18a45"/><stop offset=".268" stop-color="#cd8a45"/><stop offset=".332" stop-color="#c98a45"/><stop offset=".397" stop-color="#c58a45"/><stop offset=".454" stop-color="#c08141"/><stop offset=".504" stop-color="#b56231"/><stop offset=".547" stop-color="#9d4121"/><stop offset=".597" stop-color="#953018"/><stop offset=".669" stop-color="#923018"/><stop offset=".755" stop-color="#8f2e17"/><stop offset=".855" stop-color="#8a2a15"/><stop offset=".948" stop-color="#8a2915"/><stop offset=".990" stop-color="#882d17"/></linearGradient><linearGradient id="hm1g19" x1="0" y1="0" x2="0" y2="1"><stop offset=".010" stop-color="#d76734"/><stop offset=".074" stop-color="#d57a3d"/><stop offset=".139" stop-color="#d48744"/><stop offset=".203" stop-color="#d18a45"/><stop offset=".268" stop-color="#cd8a45"/><stop offset=".332" stop-color="#c98a45"/><stop offset=".397" stop-color="#c58a45"/><stop offset=".454" stop-color="#c08141"/><stop offset=".504" stop-color="#b36231"/><stop offset=".547" stop-color="#9c4121"/><stop offset=".597" stop-color="#933018"/><stop offset=".669" stop-color="#902f17"/><stop offset=".755" stop-color="#8c2b16"/><stop offset=".855" stop-color="#882714"/><stop offset=".948" stop-color="#872713"/><stop offset=".990" stop-color="#852a15"/></linearGradient><linearGradient id="hm1g20" x1="0" y1="0" x2="0" y2="1"><stop offset=".010" stop-color="#d76734"/><stop offset=".074" stop-color="#d57a3d"/><stop offset=".139" stop-color="#d48744"/><stop offset=".203" stop-color="#d18a45"/><stop offset=".268" stop-color="#cd8a45"/><stop offset=".332" stop-color="#c98a45"/><stop offset=".397" stop-color="#c58a45"/><stop offset=".454" stop-color="#c08141"/><stop offset=".504" stop-color="#b26231"/><stop offset=".547" stop-color="#9a4121"/><stop offset=".597" stop-color="#923018"/><stop offset=".669" stop-color="#8f2e17"/><stop offset=".755" stop-color="#8b2a15"/><stop offset=".855" stop-color="#862613"/><stop offset=".948" stop-color="#852512"/><stop offset=".990" stop-color="#832814"/></linearGradient><linearGradient id="hm1g21" x1="0" y1="0" x2="0" y2="1"><stop offset=".010" stop-color="#d76734"/><stop offset=".074" stop-color="#d57a3d"/><stop offset=".139" stop-color="#d48744"/><stop offset=".203" stop-color="#d18a45"/><stop offset=".268" stop-color="#cd8a45"/><stop offset=".332" stop-color="#c98a45"/><stop offset=".397" stop-color="#c58a45"/><stop offset=".454" stop-color="#c08141"/><stop offset=".504" stop-color="#b26231"/><stop offset=".547" stop-color="#994121"/><stop offset=".597" stop-color="#913018"/><stop offset=".669" stop-color="#8e2d16"/><stop offset=".755" stop-color="#892914"/><stop offset=".855" stop-color="#842412"/><stop offset=".948" stop-color="#832312"/><stop offset=".990" stop-color="#822713"/></linearGradient><linearGradient id="hm1g22" x1="0" y1="0" x2="0" y2="1"><stop offset=".010" stop-color="#d76734"/><stop offset=".074" stop-color="#d57a3d"/><stop offset=".139" stop-color="#d48744"/><stop offset=".203" stop-color="#d18a45"/><stop offset=".268" stop-color="#cd8a45"/><stop offset=".332" stop-color="#c98a45"/><stop offset=".397" stop-color="#c58a45"/><stop offset=".454" stop-color="#c08141"/><stop offset=".504" stop-color="#b16231"/><stop offset=".547" stop-color="#994121"/><stop offset=".597" stop-color="#902f17"/><stop offset=".669" stop-color="#8c2c16"/><stop offset=".755" stop-color="#882814"/><stop offset=".855" stop-color="#832312"/><stop offset=".948" stop-color="#822211"/><stop offset=".990" stop-color="#802513"/></linearGradient><linearGradient id="hm1g23" x1="0" y1="0" x2="0" y2="1"><stop offset=".010" stop-color="#d76734"/><stop offset=".074" stop-color="#d57a3d"/><stop offset=".139" stop-color="#d48744"/><stop offset=".203" stop-color="#d18a45"/><stop offset=".268" stop-color="#cd8a45"/><stop offset=".332" stop-color="#c98a45"/><stop offset=".397" stop-color="#c58a45"/><stop offset=".454" stop-color="#bf8141"/><stop offset=".504" stop-color="#b06231"/><stop offset=".547" stop-color="#984121"/><stop offset=".597" stop-color="#8f2e17"/><stop offset=".669" stop-color="#8b2a15"/><stop offset=".755" stop-color="#872713"/><stop offset=".855" stop-color="#822211"/><stop offset=".948" stop-color="#812111"/><stop offset=".990" stop-color="#7f2412"/></linearGradient><linearGradient id="hm1g24" x1="0" y1="0" x2="0" y2="1"><stop offset=".010" stop-color="#d76734"/><stop offset=".074" stop-color="#d57a3d"/><stop offset=".139" stop-color="#d48744"/><stop offset=".203" stop-color="#d18a45"/><stop offset=".268" stop-color="#cd8a45"/><stop offset=".332" stop-color="#c98a45"/><stop offset=".397" stop-color="#c58a45"/><stop offset=".454" stop-color="#bf8141"/><stop offset=".504" stop-color="#b06231"/><stop offset=".547" stop-color="#974121"/><stop offset=".597" stop-color="#8e2d16"/><stop offset=".669" stop-color="#8a2915"/><stop offset=".755" stop-color="#862513"/><stop offset=".855" stop-color="#802110"/><stop offset=".948" stop-color="#7f2010"/><stop offset=".990" stop-color="#7e2312"/></linearGradient><linearGradient id="hm1g25" x1="0" y1="0" x2="0" y2="1"><stop offset=".010" stop-color="#d76734"/><stop offset=".074" stop-color="#d57a3d"/><stop offset=".139" stop-color="#d48744"/><stop offset=".203" stop-color="#d18a45"/><stop offset=".268" stop-color="#cd8a45"/><stop offset=".332" stop-color="#c98a45"/><stop offset=".397" stop-color="#c58a45"/><stop offset=".454" stop-color="#bf8141"/><stop offset=".504" stop-color="#af6231"/><stop offset=".547" stop-color="#964121"/><stop offset=".597" stop-color="#8c2b16"/><stop offset=".669" stop-color="#892814"/><stop offset=".755" stop-color="#842412"/><stop offset=".855" stop-color="#7f2010"/><stop offset=".948" stop-color="#7e1f10"/><stop offset=".990" stop-color="#7d2211"/></linearGradient><linearGradient id="hm1g26" x1="0" y1="0" x2="0" y2="1"><stop offset=".010" stop-color="#d76734"/><stop offset=".074" stop-color="#d57a3d"/><stop offset=".139" stop-color="#d48744"/><stop offset=".203" stop-color="#d18a45"/><stop offset=".268" stop-color="#cd8a45"/><stop offset=".332" stop-color="#c98a45"/><stop offset=".397" stop-color="#c58a45"/><stop offset=".454" stop-color="#bf8141"/><stop offset=".504" stop-color="#ae6231"/><stop offset=".547" stop-color="#954121"/><stop offset=".597" stop-color="#8b2a15"/><stop offset=".669" stop-color="#872714"/><stop offset=".755" stop-color="#832312"/><stop offset=".855" stop-color="#7e1f0f"/><stop offset=".948" stop-color="#7d1e0f"/><stop offset=".990" stop-color="#7b2110"/></linearGradient><linearGradient id="hm1g27" x1="0" y1="0" x2="0" y2="1"><stop offset=".010" stop-color="#d76734"/><stop offset=".074" stop-color="#d57a3d"/><stop offset=".139" stop-color="#d48744"/><stop offset=".203" stop-color="#d18a45"/><stop offset=".268" stop-color="#cd8a45"/><stop offset=".332" stop-color="#c98a45"/><stop offset=".397" stop-color="#c58a45"/><stop offset=".454" stop-color="#bf8141"/><stop offset=".504" stop-color="#ae6231"/><stop offset=".547" stop-color="#944121"/><stop offset=".597" stop-color="#8a2915"/><stop offset=".669" stop-color="#862613"/><stop offset=".755" stop-color="#822211"/><stop offset=".855" stop-color="#7d1e0f"/><stop offset=".948" stop-color="#7c1d0e"/><stop offset=".990" stop-color="#7a1f10"/></linearGradient><linearGradient id="hm1g28" x1="0" y1="0" x2="0" y2="1"><stop offset=".010" stop-color="#d76734"/><stop offset=".074" stop-color="#d57a3d"/><stop offset=".139" stop-color="#d48744"/><stop offset=".203" stop-color="#d18a45"/><stop offset=".268" stop-color="#cd8a45"/><stop offset=".332" stop-color="#c98a45"/><stop offset=".397" stop-color="#c58a45"/><stop offset=".454" stop-color="#bf8141"/><stop offset=".504" stop-color="#ad6231"/><stop offset=".547" stop-color="#934121"/><stop offset=".597" stop-color="#892814"/><stop offset=".669" stop-color="#852513"/><stop offset=".755" stop-color="#812111"/><stop offset=".855" stop-color="#7b1c0e"/><stop offset=".948" stop-color="#7a1c0e"/><stop offset=".990" stop-color="#791e0f"/></linearGradient><linearGradient id="hm1g29" x1="0" y1="0" x2="0" y2="1"><stop offset=".010" stop-color="#d76734"/><stop offset=".074" stop-color="#d57a3d"/><stop offset=".139" stop-color="#d48744"/><stop offset=".203" stop-color="#d18a45"/><stop offset=".268" stop-color="#cd8a45"/><stop offset=".332" stop-color="#c98a45"/><stop offset=".397" stop-color="#c58a45"/><stop offset=".454" stop-color="#be8141"/><stop offset=".504" stop-color="#ac6231"/><stop offset=".547" stop-color="#924121"/><stop offset=".597" stop-color="#882714"/><stop offset=".669" stop-color="#842412"/><stop offset=".755" stop-color="#7f2010"/><stop offset=".855" stop-color="#7a1b0e"/><stop offset=".948" stop-color="#791a0d"/><stop offset=".990" stop-color="#771c0e"/></linearGradient><linearGradient id="hm1g30" x1="0" y1="0" x2="0" y2="1"><stop offset=".010" stop-color="#d76734"/><stop offset=".074" stop-color="#d57a3d"/><stop offset=".139" stop-color="#d48744"/><stop offset=".203" stop-color="#d18a45"/><stop offset=".268" stop-color="#cd8a45"/><stop offset=".332" stop-color="#c98a45"/><stop offset=".397" stop-color="#c58a45"/><stop offset=".454" stop-color="#be8141"/><stop offset=".504" stop-color="#ab6231"/><stop offset=".547" stop-color="#914120"/><stop offset=".597" stop-color="#862613"/><stop offset=".669" stop-color="#832312"/><stop offset=".755" stop-color="#7e1f0f"/><stop offset=".855" stop-color="#781a0d"/><stop offset=".948" stop-color="#77190c"/><stop offset=".990" stop-color="#761b0d"/></linearGradient><linearGradient id="hm1g31" x1="0" y1="0" x2="0" y2="1"><stop offset=".010" stop-color="#d76734"/><stop offset=".074" stop-color="#d57a3d"/><stop offset=".139" stop-color="#d48744"/><stop offset=".203" stop-color="#d18a45"/><stop offset=".268" stop-color="#cd8a45"/><stop offset=".332" stop-color="#c98a45"/><stop offset=".397" stop-color="#c58a45"/><stop offset=".454" stop-color="#be8141"/><stop offset=".504" stop-color="#ab6231"/><stop offset=".547" stop-color="#904020"/><stop offset=".597" stop-color="#852513"/><stop offset=".669" stop-color="#822211"/><stop offset=".755" stop-color="#7d1e0f"/><stop offset=".855" stop-color="#77180c"/><stop offset=".948" stop-color="#76170c"/><stop offset=".990" stop-color="#74190d"/></linearGradient><linearGradient id="hm1g32" x1="0" y1="0" x2="0" y2="1"><stop offset=".010" stop-color="#d76734"/><stop offset=".074" stop-color="#d57a3d"/><stop offset=".139" stop-color="#d48744"/><stop offset=".203" stop-color="#d18a45"/><stop offset=".268" stop-color="#cd8a45"/><stop offset=".332" stop-color="#c98a45"/><stop offset=".397" stop-color="#c58a45"/><stop offset=".454" stop-color="#be8141"/><stop offset=".504" stop-color="#aa6231"/><stop offset=".547" stop-color="#8f3f1f"/><stop offset=".597" stop-color="#842412"/><stop offset=".669" stop-color="#802110"/><stop offset=".755" stop-color="#7c1d0e"/><stop offset=".855" stop-color="#75170c"/><stop offset=".948" stop-color="#74160b"/><stop offset=".990" stop-color="#72170c"/></linearGradient><linearGradient id="hm1g33" x1="0" y1="0" x2="0" y2="1"><stop offset=".010" stop-color="#d76734"/><stop offset=".074" stop-color="#d57a3d"/><stop offset=".139" stop-color="#d48744"/><stop offset=".203" stop-color="#d18a45"/><stop offset=".268" stop-color="#cd8a45"/><stop offset=".332" stop-color="#c98a45"/><stop offset=".397" stop-color="#c58a45"/><stop offset=".454" stop-color="#bd8141"/><stop offset=".504" stop-color="#a86231"/><stop offset=".547" stop-color="#8f3e1f"/><stop offset=".597" stop-color="#832312"/><stop offset=".669" stop-color="#7f2010"/><stop offset=".755" stop-color="#7a1b0e"/><stop offset=".855" stop-color="#74160b"/><stop offset=".948" stop-color="#72140a"/><stop offset=".990" stop-color="#70150b"/></linearGradient><linearGradient id="hm1g34" x1="0" y1="0" x2="0" y2="1"><stop offset=".010" stop-color="#d76734"/><stop offset=".074" stop-color="#d57a3d"/><stop offset=".139" stop-color="#d48744"/><stop offset=".203" stop-color="#d18a45"/><stop offset=".268" stop-color="#cd8a45"/><stop offset=".332" stop-color="#c98a45"/><stop offset=".397" stop-color="#c58a45"/><stop offset=".454" stop-color="#bc8141"/><stop offset=".504" stop-color="#a76231"/><stop offset=".547" stop-color="#8e3d1e"/><stop offset=".597" stop-color="#822311"/><stop offset=".669" stop-color="#7e1f0f"/><stop offset=".755" stop-color="#791a0d"/><stop offset=".855" stop-color="#72140a"/><stop offset=".948" stop-color="#6f1209"/><stop offset=".990" stop-color="#6e1309"/></linearGradient><linearGradient id="hm1g35" x1="0" y1="0" x2="0" y2="1"><stop offset=".010" stop-color="#d76734"/><stop offset=".074" stop-color="#d57a3d"/><stop offset=".139" stop-color="#d48744"/><stop offset=".203" stop-color="#d18a45"/><stop offset=".268" stop-color="#cd8a45"/><stop offset=".332" stop-color="#c98a45"/><stop offset=".397" stop-color="#c58a45"/><stop offset=".454" stop-color="#bc8141"/><stop offset=".504" stop-color="#a66231"/><stop offset=".547" stop-color="#8d3c1e"/><stop offset=".597" stop-color="#822211"/><stop offset=".669" stop-color="#7d1e0f"/><stop offset=".755" stop-color="#77190c"/><stop offset=".855" stop-color="#71130a"/><stop offset=".948" stop-color="#6d1008"/><stop offset=".990" stop-color="#6b1108"/></linearGradient><linearGradient id="hm1g36" x1="0" y1="0" x2="0" y2="1"><stop offset=".010" stop-color="#d76734"/><stop offset=".074" stop-color="#d57a3d"/><stop offset=".139" stop-color="#d48744"/><stop offset=".203" stop-color="#d18a45"/><stop offset=".268" stop-color="#cd8a45"/><stop offset=".332" stop-color="#c98a45"/><stop offset=".397" stop-color="#c48a45"/><stop offset=".454" stop-color="#bb8141"/><stop offset=".504" stop-color="#a46231"/><stop offset=".547" stop-color="#8c3b1e"/><stop offset=".597" stop-color="#812111"/><stop offset=".669" stop-color="#7b1d0e"/><stop offset=".755" stop-color="#75170c"/><stop offset=".855" stop-color="#6f1209"/><stop offset=".948" stop-color="#6b0e07"/><stop offset=".990" stop-color="#690e07"/></linearGradient><linearGradient id="hm1g37" x1="0" y1="0" x2="0" y2="1"><stop offset=".010" stop-color="#d76734"/><stop offset=".074" stop-color="#d57a3d"/><stop offset=".139" stop-color="#d48744"/><stop offset=".203" stop-color="#d18a45"/><stop offset=".268" stop-color="#cd8a45"/><stop offset=".332" stop-color="#c98a45"/><stop offset=".397" stop-color="#c48a45"/><stop offset=".454" stop-color="#ba8141"/><stop offset=".504" stop-color="#a36231"/><stop offset=".547" stop-color="#8b3a1d"/><stop offset=".597" stop-color="#802010"/><stop offset=".669" stop-color="#7a1b0e"/><stop offset=".755" stop-color="#74160b"/><stop offset=".855" stop-color="#6d1008"/><stop offset=".948" stop-color="#680c06"/><stop offset=".990" stop-color="#670c06"/></linearGradient><linearGradient id="hm1g38" x1="0" y1="0" x2="0" y2="1"><stop offset=".010" stop-color="#d76734"/><stop offset=".074" stop-color="#d57a3d"/><stop offset=".139" stop-color="#d48744"/><stop offset=".203" stop-color="#d18a45"/><stop offset=".268" stop-color="#cd8a45"/><stop offset=".332" stop-color="#c98a45"/><stop offset=".397" stop-color="#c48a45"/><stop offset=".454" stop-color="#ba8141"/><stop offset=".504" stop-color="#a16231"/><stop offset=".547" stop-color="#8a391c"/><stop offset=".597" stop-color="#7f1f10"/><stop offset=".669" stop-color="#791a0d"/><stop offset=".755" stop-color="#72140a"/><stop offset=".855" stop-color="#6c0f07"/><stop offset=".948" stop-color="#660a05"/><stop offset=".990" stop-color="#650a05"/></linearGradient><linearGradient id="hm1g39" x1="0" y1="0" x2="0" y2="1"><stop offset=".010" stop-color="#d76734"/><stop offset=".074" stop-color="#d57a3d"/><stop offset=".139" stop-color="#d48744"/><stop offset=".203" stop-color="#d18a45"/><stop offset=".268" stop-color="#cd8a45"/><stop offset=".332" stop-color="#c98a45"/><stop offset=".397" stop-color="#c48a45"/><stop offset=".454" stop-color="#b98141"/><stop offset=".504" stop-color="#a06231"/><stop offset=".547" stop-color="#89371c"/><stop offset=".597" stop-color="#7d1e0f"/><stop offset=".669" stop-color="#77190d"/><stop offset=".755" stop-color="#71130a"/><stop offset=".855" stop-color="#6a0d06"/><stop offset=".948" stop-color="#640804"/><stop offset=".990" stop-color="#620704"/></linearGradient><linearGradient id="hm1g40" x1="0" y1="0" x2="0" y2="1"><stop offset=".010" stop-color="#d76734"/><stop offset=".074" stop-color="#d57a3d"/><stop offset=".139" stop-color="#d48744"/><stop offset=".203" stop-color="#d08a45"/><stop offset=".268" stop-color="#cc8a45"/><stop offset=".332" stop-color="#c88a45"/><stop offset=".397" stop-color="#c48a45"/><stop offset=".454" stop-color="#b88141"/><stop offset=".504" stop-color="#9e6231"/><stop offset=".547" stop-color="#88361b"/><stop offset=".597" stop-color="#7c1d0f"/><stop offset=".669" stop-color="#76180c"/><stop offset=".755" stop-color="#6f1209"/><stop offset=".855" stop-color="#680b06"/><stop offset=".948" stop-color="#610603"/><stop offset=".990" stop-color="#600502"/></linearGradient><linearGradient id="hm1g41" x1="0" y1="0" x2="0" y2="1"><stop offset=".010" stop-color="#d76734"/><stop offset=".074" stop-color="#d57a3d"/><stop offset=".139" stop-color="#d48744"/><stop offset=".203" stop-color="#cf8a45"/><stop offset=".268" stop-color="#c48a45"/><stop offset=".332" stop-color="#c28a45"/><stop offset=".397" stop-color="#c28a45"/><stop offset=".454" stop-color="#b88141"/><stop offset=".504" stop-color="#9d6231"/><stop offset=".547" stop-color="#87341a"/><stop offset=".597" stop-color="#7b1c0e"/><stop offset=".669" stop-color="#75170b"/><stop offset=".755" stop-color="#6d1008"/><stop offset=".855" stop-color="#660a05"/><stop offset=".948" stop-color="#5f0402"/><stop offset=".990" stop-color="#5e0402"/></linearGradient><linearGradient id="hm1g42" x1="0" y1="0" x2="0" y2="1"><stop offset=".010" stop-color="#d76734"/><stop offset=".074" stop-color="#d57a3d"/><stop offset=".139" stop-color="#d38744"/><stop offset=".203" stop-color="#c98a45"/><stop offset=".268" stop-color="#ae8a45"/><stop offset=".332" stop-color="#af8a45"/><stop offset=".397" stop-color="#bf8a45"/><stop offset=".454" stop-color="#b78141"/><stop offset=".504" stop-color="#9b6231"/><stop offset=".547" stop-color="#86331a"/><stop offset=".597" stop-color="#7a1b0e"/><stop offset=".669" stop-color="#73150b"/><stop offset=".755" stop-color="#6c0f07"/><stop offset=".855" stop-color="#640804"/><stop offset=".948" stop-color="#5d0402"/><stop offset=".990" stop-color="#5b0402"/></linearGradient><linearGradient id="hm1g43" x1="0" y1="0" x2="0" y2="1"><stop offset=".010" stop-color="#d76734"/><stop offset=".074" stop-color="#d57a3d"/><stop offset=".139" stop-color="#d38744"/><stop offset=".203" stop-color="#c18a45"/><stop offset=".268" stop-color="#89753b"/><stop offset=".332" stop-color="#918744"/><stop offset=".397" stop-color="#ba8a45"/><stop offset=".454" stop-color="#b58141"/><stop offset=".504" stop-color="#9a6231"/><stop offset=".547" stop-color="#853219"/><stop offset=".597" stop-color="#791a0d"/><stop offset=".669" stop-color="#71140a"/><stop offset=".755" stop-color="#690d06"/><stop offset=".855" stop-color="#620603"/><stop offset=".948" stop-color="#5a0402"/><stop offset=".990" stop-color="#590402"/></linearGradient><linearGradient id="hm1g44" x1="0" y1="0" x2="0" y2="1"><stop offset=".010" stop-color="#d76734"/><stop offset=".074" stop-color="#d57a3d"/><stop offset=".139" stop-color="#d38744"/><stop offset=".203" stop-color="#bc8a45"/><stop offset=".268" stop-color="#754221"/><stop offset=".332" stop-color="#805c2e"/><stop offset=".397" stop-color="#b78a45"/><stop offset=".454" stop-color="#b48141"/><stop offset=".504" stop-color="#986231"/><stop offset=".547" stop-color="#843118"/><stop offset=".597" stop-color="#78190d"/><stop offset=".669" stop-color="#701209"/><stop offset=".755" stop-color="#670b05"/><stop offset=".855" stop-color="#600402"/><stop offset=".948" stop-color="#580402"/><stop offset=".990" stop-color="#560402"/></linearGradient><linearGradient id="hm1g45" x1="0" y1="0" x2="0" y2="1"><stop offset=".010" stop-color="#d76734"/><stop offset=".074" stop-color="#d57a3d"/><stop offset=".139" stop-color="#d38744"/><stop offset=".203" stop-color="#c18a45"/><stop offset=".268" stop-color="#877038"/><stop offset=".332" stop-color="#8f8342"/><stop offset=".397" stop-color="#b98a45"/><stop offset=".454" stop-color="#b38141"/><stop offset=".504" stop-color="#976231"/><stop offset=".547" stop-color="#832f18"/><stop offset=".597" stop-color="#76180c"/><stop offset=".669" stop-color="#6e1108"/><stop offset=".755" stop-color="#650905"/><stop offset=".855" stop-color="#5e0402"/><stop offset=".948" stop-color="#550402"/><stop offset=".990" stop-color="#530402"/></linearGradient><linearGradient id="hm1g46" x1="0" y1="0" x2="0" y2="1"><stop offset=".010" stop-color="#d76734"/><stop offset=".074" stop-color="#d57a3d"/><stop offset=".139" stop-color="#d38744"/><stop offset=".203" stop-color="#c98a45"/><stop offset=".268" stop-color="#ac8a45"/><stop offset=".332" stop-color="#ad8a45"/><stop offset=".397" stop-color="#bd8a45"/><stop offset=".454" stop-color="#b28141"/><stop offset=".504" stop-color="#966231"/><stop offset=".547" stop-color="#822e17"/><stop offset=".597" stop-color="#75170b"/><stop offset=".669" stop-color="#6d0f08"/><stop offset=".755" stop-color="#640804"/><stop offset=".855" stop-color="#5c0402"/><stop offset=".948" stop-color="#520402"/><stop offset=".990" stop-color="#500402"/></linearGradient><linearGradient id="hm1g47" x1="0" y1="0" x2="0" y2="1"><stop offset=".010" stop-color="#d76734"/><stop offset=".074" stop-color="#d57a3d"/><stop offset=".139" stop-color="#d48744"/><stop offset=".203" stop-color="#ce8a45"/><stop offset=".268" stop-color="#c48a45"/><stop offset=".332" stop-color="#c18a45"/><stop offset=".397" stop-color="#c08a45"/><stop offset=".454" stop-color="#b08141"/><stop offset=".504" stop-color="#956231"/><stop offset=".547" stop-color="#802d16"/><stop offset=".597" stop-color="#73150b"/><stop offset=".669" stop-color="#6b0e07"/><stop offset=".755" stop-color="#620603"/><stop offset=".855" stop-color="#5a0402"/><stop offset=".948" stop-color="#500402"/><stop offset=".990" stop-color="#4d0402"/></linearGradient><linearGradient id="hm1g48" x1="0" y1="0" x2="0" y2="1"><stop offset=".010" stop-color="#d76734"/><stop offset=".074" stop-color="#d57a3d"/><stop offset=".139" stop-color="#d48744"/><stop offset=".203" stop-color="#d08a45"/><stop offset=".268" stop-color="#cc8a45"/><stop offset=".332" stop-color="#c88a45"/><stop offset=".397" stop-color="#c08a45"/><stop offset=".454" stop-color="#af8141"/><stop offset=".504" stop-color="#946231"/><stop offset=".547" stop-color="#7f2b16"/><stop offset=".597" stop-color="#72140a"/><stop offset=".669" stop-color="#6a0d06"/><stop offset=".755" stop-color="#600502"/><stop offset=".855" stop-color="#580402"/><stop offset=".948" stop-color="#4d0402"/><stop offset=".990" stop-color="#4a0402"/></linearGradient><linearGradient id="hm1g49" x1="0" y1="0" x2="0" y2="1"><stop offset=".010" stop-color="#d76734"/><stop offset=".074" stop-color="#d57a3d"/><stop offset=".139" stop-color="#d48744"/><stop offset=".203" stop-color="#d18a45"/><stop offset=".268" stop-color="#cd8a45"/><stop offset=".332" stop-color="#c98a45"/><stop offset=".397" stop-color="#c08a45"/><stop offset=".454" stop-color="#ae8141"/><stop offset=".504" stop-color="#936231"/><stop offset=".547" stop-color="#7e2a15"/><stop offset=".597" stop-color="#71130a"/><stop offset=".669" stop-color="#680c06"/><stop offset=".755" stop-color="#5f0402"/><stop offset=".855" stop-color="#560402"/><stop offset=".948" stop-color="#4b0402"/><stop offset=".990" stop-color="#480402"/></linearGradient><linearGradient id="hm1g50" x1="0" y1="0" x2="0" y2="1"><stop offset=".010" stop-color="#d76734"/><stop offset=".074" stop-color="#d57a3d"/><stop offset=".139" stop-color="#d48744"/><stop offset=".203" stop-color="#d18a45"/><stop offset=".268" stop-color="#cd8a45"/><stop offset=".332" stop-color="#c98a45"/><stop offset=".397" stop-color="#bf8a45"/><stop offset=".454" stop-color="#ac8141"/><stop offset=".504" stop-color="#926231"/><stop offset=".547" stop-color="#7e2915"/><stop offset=".597" stop-color="#701209"/><stop offset=".669" stop-color="#670a05"/><stop offset=".755" stop-color="#5d0402"/><stop offset=".855" stop-color="#540402"/><stop offset=".948" stop-color="#480402"/><stop offset=".990" stop-color="#450402"/></linearGradient><linearGradient id="hm1g51" x1="0" y1="0" x2="0" y2="1"><stop offset=".010" stop-color="#d76734"/><stop offset=".074" stop-color="#d57a3d"/><stop offset=".139" stop-color="#d48744"/><stop offset=".203" stop-color="#d18a45"/><stop offset=".268" stop-color="#cd8a45"/><stop offset=".332" stop-color="#c98a45"/><stop offset=".397" stop-color="#bf8a45"/><stop offset=".454" stop-color="#ab8141"/><stop offset=".504" stop-color="#926231"/><stop offset=".547" stop-color="#7d2914"/><stop offset=".597" stop-color="#6f1209"/><stop offset=".669" stop-color="#660a05"/><stop offset=".755" stop-color="#5c0402"/><stop offset=".855" stop-color="#530402"/><stop offset=".948" stop-color="#470402"/><stop offset=".990" stop-color="#430402"/></linearGradient><linearGradient id="hm1g52" x1="0" y1="0" x2="0" y2="1"><stop offset=".010" stop-color="#d76734"/><stop offset=".074" stop-color="#d57a3d"/><stop offset=".139" stop-color="#d48744"/><stop offset=".203" stop-color="#d18a45"/><stop offset=".268" stop-color="#cd8a45"/><stop offset=".332" stop-color="#c98a45"/><stop offset=".397" stop-color="#bf8a45"/><stop offset=".454" stop-color="#ab8141"/><stop offset=".504" stop-color="#926231"/><stop offset=".547" stop-color="#7d2914"/><stop offset=".597" stop-color="#6f1209"/><stop offset=".669" stop-color="#660a05"/><stop offset=".755" stop-color="#5c0402"/><stop offset=".855" stop-color="#530402"/><stop offset=".948" stop-color="#470402"/><stop offset=".990" stop-color="#430402"/></linearGradient><linearGradient id="hm1g53" x1="0" y1="0" x2="0" y2="1"><stop offset=".010" stop-color="#d76734"/><stop offset=".074" stop-color="#d57a3d"/><stop offset=".139" stop-color="#d48744"/><stop offset=".203" stop-color="#d18a45"/><stop offset=".268" stop-color="#cd8a45"/><stop offset=".332" stop-color="#c98a45"/><stop offset=".397" stop-color="#bf8a45"/><stop offset=".454" stop-color="#ab8141"/><stop offset=".504" stop-color="#926231"/><stop offset=".547" stop-color="#7d2914"/><stop offset=".597" stop-color="#6f1209"/><stop offset=".669" stop-color="#660a05"/><stop offset=".755" stop-color="#5c0402"/><stop offset=".855" stop-color="#530402"/><stop offset=".948" stop-color="#470402"/><stop offset=".990" stop-color="#430402"/></linearGradient><linearGradient id="hm1g54" x1="0" y1="0" x2="0" y2="1"><stop offset=".010" stop-color="#d76734"/><stop offset=".074" stop-color="#d57a3d"/><stop offset=".139" stop-color="#d48744"/><stop offset=".203" stop-color="#d18a45"/><stop offset=".268" stop-color="#cd8a45"/><stop offset=".332" stop-color="#c98a45"/><stop offset=".397" stop-color="#bf8a45"/><stop offset=".454" stop-color="#ab8141"/><stop offset=".504" stop-color="#926231"/><stop offset=".547" stop-color="#7d2914"/><stop offset=".597" stop-color="#6f1209"/><stop offset=".669" stop-color="#660a05"/><stop offset=".755" stop-color="#5c0402"/><stop offset=".855" stop-color="#530402"/><stop offset=".948" stop-color="#470402"/><stop offset=".990" stop-color="#430402"/></linearGradient><linearGradient id="hm1g55" x1="0" y1="0" x2="0" y2="1"><stop offset=".010" stop-color="#d76734"/><stop offset=".074" stop-color="#d57a3d"/><stop offset=".139" stop-color="#d48744"/><stop offset=".203" stop-color="#d18a45"/><stop offset=".268" stop-color="#cd8a45"/><stop offset=".332" stop-color="#c98a45"/><stop offset=".397" stop-color="#bf8a45"/><stop offset=".454" stop-color="#ab8141"/><stop offset=".504" stop-color="#926231"/><stop offset=".547" stop-color="#7d2914"/><stop offset=".597" stop-color="#6f1209"/><stop offset=".669" stop-color="#660a05"/><stop offset=".755" stop-color="#5c0402"/><stop offset=".855" stop-color="#530402"/><stop offset=".948" stop-color="#470402"/><stop offset=".990" stop-color="#430402"/></linearGradient><linearGradient id="hm1g56" x1="0" y1="0" x2="0" y2="1"><stop offset=".010" stop-color="#d76734"/><stop offset=".074" stop-color="#d57a3d"/><stop offset=".139" stop-color="#d48744"/><stop offset=".203" stop-color="#d18a45"/><stop offset=".268" stop-color="#cd8a45"/><stop offset=".332" stop-color="#c98a45"/><stop offset=".397" stop-color="#bf8a45"/><stop offset=".454" stop-color="#ab8141"/><stop offset=".504" stop-color="#926231"/><stop offset=".547" stop-color="#7d2914"/><stop offset=".597" stop-color="#6f1209"/><stop offset=".669" stop-color="#660a05"/><stop offset=".755" stop-color="#5c0402"/><stop offset=".855" stop-color="#530402"/><stop offset=".948" stop-color="#470402"/><stop offset=".990" stop-color="#430402"/></linearGradient><linearGradient id="hm1g57" x1="0" y1="0" x2="0" y2="1"><stop offset=".010" stop-color="#d76734"/><stop offset=".074" stop-color="#d57a3d"/><stop offset=".139" stop-color="#d28744"/><stop offset=".203" stop-color="#cf8a45"/><stop offset=".268" stop-color="#cb8a45"/><stop offset=".332" stop-color="#c58a45"/><stop offset=".397" stop-color="#b78a45"/><stop offset=".454" stop-color="#a28141"/><stop offset=".504" stop-color="#8e5b2e"/><stop offset=".547" stop-color="#792412"/><stop offset=".597" stop-color="#6b0e07"/><stop offset=".669" stop-color="#5f0402"/><stop offset=".755" stop-color="#530402"/><stop offset=".855" stop-color="#4c0402"/><stop offset=".948" stop-color="#450402"/><stop offset=".990" stop-color="#430402"/></linearGradient><linearGradient id="hm1g58" x1="0" y1="0" x2="0" y2="1"><stop offset=".010" stop-color="#d76734"/><stop offset=".074" stop-color="#d57a3d"/><stop offset=".139" stop-color="#d28744"/><stop offset=".203" stop-color="#cf8a45"/><stop offset=".268" stop-color="#ca8a45"/><stop offset=".332" stop-color="#c58a45"/><stop offset=".397" stop-color="#b78a45"/><stop offset=".454" stop-color="#a28141"/><stop offset=".504" stop-color="#8e5b2e"/><stop offset=".547" stop-color="#792412"/><stop offset=".597" stop-color="#6b0e07"/><stop offset=".669" stop-color="#5f0402"/><stop offset=".755" stop-color="#530402"/><stop offset=".855" stop-color="#4c0402"/><stop offset=".948" stop-color="#450402"/><stop offset=".990" stop-color="#430402"/></linearGradient><linearGradient id="hm1g59" x1="0" y1="0" x2="0" y2="1"><stop offset=".010" stop-color="#d76734"/><stop offset=".074" stop-color="#d57a3d"/><stop offset=".139" stop-color="#d28744"/><stop offset=".203" stop-color="#cf8a45"/><stop offset=".268" stop-color="#c88a45"/><stop offset=".332" stop-color="#c38a45"/><stop offset=".397" stop-color="#b78a45"/><stop offset=".454" stop-color="#a28141"/><stop offset=".504" stop-color="#8e5b2e"/><stop offset=".547" stop-color="#792412"/><stop offset=".597" stop-color="#6b0e07"/><stop offset=".669" stop-color="#5f0402"/><stop offset=".755" stop-color="#530402"/><stop offset=".855" stop-color="#4c0402"/><stop offset=".948" stop-color="#450402"/><stop offset=".990" stop-color="#430402"/></linearGradient><linearGradient id="hm1g60" x1="0" y1="0" x2="0" y2="1"><stop offset=".010" stop-color="#d76734"/><stop offset=".074" stop-color="#d57a3d"/><stop offset=".139" stop-color="#d28744"/><stop offset=".203" stop-color="#ce8a45"/><stop offset=".268" stop-color="#b68a45"/><stop offset=".332" stop-color="#b98a45"/><stop offset=".397" stop-color="#b78a45"/><stop offset=".454" stop-color="#a28141"/><stop offset=".504" stop-color="#8e5b2e"/><stop offset=".547" stop-color="#792412"/><stop offset=".597" stop-color="#6b0e07"/><stop offset=".669" stop-color="#5f0402"/><stop offset=".755" stop-color="#530402"/><stop offset=".855" stop-color="#4c0402"/><stop offset=".948" stop-color="#450402"/><stop offset=".990" stop-color="#430402"/></linearGradient><linearGradient id="hm1g61" x1="0" y1="0" x2="0" y2="1"><stop offset=".010" stop-color="#d76734"/><stop offset=".074" stop-color="#d57a3d"/><stop offset=".139" stop-color="#d28744"/><stop offset=".203" stop-color="#cb8a45"/><stop offset=".268" stop-color="#8b783c"/><stop offset=".332" stop-color="#9f8a45"/><stop offset=".397" stop-color="#b68a45"/><stop offset=".454" stop-color="#a28141"/><stop offset=".504" stop-color="#8e5b2e"/><stop offset=".547" stop-color="#792412"/><stop offset=".597" stop-color="#6b0e07"/><stop offset=".669" stop-color="#5f0402"/><stop offset=".755" stop-color="#530402"/><stop offset=".855" stop-color="#4c0402"/><stop offset=".948" stop-color="#450402"/><stop offset=".990" stop-color="#430402"/></linearGradient><linearGradient id="hm1g62" x1="0" y1="0" x2="0" y2="1"><stop offset=".010" stop-color="#d76734"/><stop offset=".074" stop-color="#d57a3d"/><stop offset=".139" stop-color="#d28744"/><stop offset=".203" stop-color="#c98a45"/><stop offset=".268" stop-color="#794b25"/><stop offset=".332" stop-color="#958a45"/><stop offset=".397" stop-color="#b78a45"/><stop offset=".454" stop-color="#a48141"/><stop offset=".504" stop-color="#8f5d2f"/><stop offset=".547" stop-color="#7b2613"/><stop offset=".597" stop-color="#6c0f08"/><stop offset=".669" stop-color="#610502"/><stop offset=".755" stop-color="#550402"/><stop offset=".855" stop-color="#4d0402"/><stop offset=".948" stop-color="#470402"/><stop offset=".990" stop-color="#450402"/></linearGradient><linearGradient id="hm1g63" x1="0" y1="0" x2="0" y2="1"><stop offset=".010" stop-color="#d76734"/><stop offset=".074" stop-color="#d57a3d"/><stop offset=".139" stop-color="#d28744"/><stop offset=".203" stop-color="#cc8a45"/><stop offset=".268" stop-color="#9f8a45"/><stop offset=".332" stop-color="#ab8a45"/><stop offset=".397" stop-color="#b88a45"/><stop offset=".454" stop-color="#a68141"/><stop offset=".504" stop-color="#916030"/><stop offset=".547" stop-color="#7c2814"/><stop offset=".597" stop-color="#6e1108"/><stop offset=".669" stop-color="#630703"/><stop offset=".755" stop-color="#570402"/><stop offset=".855" stop-color="#4f0402"/><stop offset=".948" stop-color="#490402"/><stop offset=".990" stop-color="#480402"/></linearGradient><linearGradient id="hm1g64" x1="0" y1="0" x2="0" y2="1"><stop offset=".010" stop-color="#d76734"/><stop offset=".074" stop-color="#d57a3d"/><stop offset=".139" stop-color="#d28744"/><stop offset=".203" stop-color="#ce8a45"/><stop offset=".268" stop-color="#c18a45"/><stop offset=".332" stop-color="#bf8a45"/><stop offset=".397" stop-color="#b98a45"/><stop offset=".454" stop-color="#a88141"/><stop offset=".504" stop-color="#926231"/><stop offset=".547" stop-color="#7e2a15"/><stop offset=".597" stop-color="#6f1209"/><stop offset=".669" stop-color="#650904"/><stop offset=".755" stop-color="#5a0402"/><stop offset=".855" stop-color="#500402"/><stop offset=".948" stop-color="#4b0402"/><stop offset=".990" stop-color="#4a0402"/></linearGradient><linearGradient id="hm1g65" x1="0" y1="0" x2="0" y2="1"><stop offset=".010" stop-color="#d76734"/><stop offset=".074" stop-color="#d57a3d"/><stop offset=".139" stop-color="#d28744"/><stop offset=".203" stop-color="#cf8a45"/><stop offset=".268" stop-color="#ca8a45"/><stop offset=".332" stop-color="#c48a45"/><stop offset=".397" stop-color="#ba8a45"/><stop offset=".454" stop-color="#aa8141"/><stop offset=".504" stop-color="#946231"/><stop offset=".547" stop-color="#7f2b16"/><stop offset=".597" stop-color="#71140a"/><stop offset=".669" stop-color="#670b05"/><stop offset=".755" stop-color="#5d0402"/><stop offset=".855" stop-color="#520402"/><stop offset=".948" stop-color="#4d0402"/><stop offset=".990" stop-color="#4c0402"/></linearGradient><linearGradient id="hm1g66" x1="0" y1="0" x2="0" y2="1"><stop offset=".010" stop-color="#d76734"/><stop offset=".074" stop-color="#d57a3d"/><stop offset=".139" stop-color="#d28744"/><stop offset=".203" stop-color="#cf8a45"/><stop offset=".268" stop-color="#cb8a45"/><stop offset=".332" stop-color="#c58a45"/><stop offset=".397" stop-color="#bb8a45"/><stop offset=".454" stop-color="#ac8141"/><stop offset=".504" stop-color="#956231"/><stop offset=".547" stop-color="#812d17"/><stop offset=".597" stop-color="#73150b"/><stop offset=".669" stop-color="#6a0d07"/><stop offset=".755" stop-color="#5f0402"/><stop offset=".855" stop-color="#540402"/><stop offset=".948" stop-color="#4f0402"/><stop offset=".990" stop-color="#4e0402"/></linearGradient><linearGradient id="hm1g67" x1="0" y1="0" x2="0" y2="1"><stop offset=".010" stop-color="#d76734"/><stop offset=".074" stop-color="#d57a3d"/><stop offset=".139" stop-color="#d28744"/><stop offset=".203" stop-color="#cf8a45"/><stop offset=".268" stop-color="#cb8a45"/><stop offset=".332" stop-color="#c58a45"/><stop offset=".397" stop-color="#bc8a45"/><stop offset=".454" stop-color="#ae8141"/><stop offset=".504" stop-color="#976231"/><stop offset=".547" stop-color="#822f18"/><stop offset=".597" stop-color="#75170b"/><stop offset=".669" stop-color="#6c0f08"/><stop offset=".755" stop-color="#620603"/><stop offset=".855" stop-color="#550402"/><stop offset=".948" stop-color="#510402"/><stop offset=".990" stop-color="#500402"/></linearGradient><linearGradient id="hm1g68" x1="0" y1="0" x2="0" y2="1"><stop offset=".010" stop-color="#d76734"/><stop offset=".074" stop-color="#d57a3d"/><stop offset=".139" stop-color="#d28744"/><stop offset=".203" stop-color="#cf8a45"/><stop offset=".268" stop-color="#cb8a45"/><stop offset=".332" stop-color="#c58a45"/><stop offset=".397" stop-color="#bc8a45"/><stop offset=".454" stop-color="#af8141"/><stop offset=".504" stop-color="#996231"/><stop offset=".547" stop-color="#843119"/><stop offset=".597" stop-color="#77190c"/><stop offset=".669" stop-color="#6f1209"/><stop offset=".755" stop-color="#650904"/><stop offset=".855" stop-color="#580402"/><stop offset=".948" stop-color="#540402"/><stop offset=".990" stop-color="#520402"/></linearGradient><linearGradient id="hm1g69" x1="0" y1="0" x2="0" y2="1"><stop offset=".010" stop-color="#d76734"/><stop offset=".074" stop-color="#d57a3d"/><stop offset=".139" stop-color="#d28744"/><stop offset=".203" stop-color="#cf8a45"/><stop offset=".268" stop-color="#cb8a45"/><stop offset=".332" stop-color="#c58a45"/><stop offset=".397" stop-color="#bd8a45"/><stop offset=".454" stop-color="#b08141"/><stop offset=".504" stop-color="#9a6231"/><stop offset=".547" stop-color="#86331a"/><stop offset=".597" stop-color="#7a1b0e"/><stop offset=".669" stop-color="#72140a"/><stop offset=".755" stop-color="#680c06"/><stop offset=".855" stop-color="#5b0402"/><stop offset=".948" stop-color="#570402"/><stop offset=".990" stop-color="#550402"/></linearGradient><linearGradient id="hm1g70" x1="0" y1="0" x2="0" y2="1"><stop offset=".010" stop-color="#d76734"/><stop offset=".074" stop-color="#d57a3d"/><stop offset=".139" stop-color="#d28744"/><stop offset=".203" stop-color="#cf8a45"/><stop offset=".268" stop-color="#cb8a45"/><stop offset=".332" stop-color="#c58a45"/><stop offset=".397" stop-color="#bd8a45"/><stop offset=".454" stop-color="#b18141"/><stop offset=".504" stop-color="#9c6231"/><stop offset=".547" stop-color="#87351b"/><stop offset=".597" stop-color="#7c1d0f"/><stop offset=".669" stop-color="#75170b"/><stop offset=".755" stop-color="#6b0e07"/><stop offset=".855" stop-color="#5f0402"/><stop offset=".948" stop-color="#590402"/><stop offset=".990" stop-color="#580402"/></linearGradient><linearGradient id="hm1g71" x1="0" y1="0" x2="0" y2="1"><stop offset=".010" stop-color="#d76734"/><stop offset=".074" stop-color="#d57a3d"/><stop offset=".139" stop-color="#d28744"/><stop offset=".203" stop-color="#cf8a45"/><stop offset=".268" stop-color="#cb8a45"/><stop offset=".332" stop-color="#c58a45"/><stop offset=".397" stop-color="#bd8a45"/><stop offset=".454" stop-color="#b28141"/><stop offset=".504" stop-color="#9d6231"/><stop offset=".547" stop-color="#89371c"/><stop offset=".597" stop-color="#7f1f10"/><stop offset=".669" stop-color="#77190d"/><stop offset=".755" stop-color="#6e1108"/><stop offset=".855" stop-color="#620603"/><stop offset=".948" stop-color="#5c0402"/><stop offset=".990" stop-color="#5a0402"/></linearGradient><linearGradient id="hm1g72" x1="0" y1="0" x2="0" y2="1"><stop offset=".010" stop-color="#d76734"/><stop offset=".074" stop-color="#d57a3d"/><stop offset=".139" stop-color="#d28744"/><stop offset=".203" stop-color="#cf8a45"/><stop offset=".268" stop-color="#cb8a45"/><stop offset=".332" stop-color="#c58a45"/><stop offset=".397" stop-color="#be8a45"/><stop offset=".454" stop-color="#b38141"/><stop offset=".504" stop-color="#9f6231"/><stop offset=".547" stop-color="#8b391d"/><stop offset=".597" stop-color="#812111"/><stop offset=".669" stop-color="#791b0d"/><stop offset=".755" stop-color="#701309"/><stop offset=".855" stop-color="#650904"/><stop offset=".948" stop-color="#5f0402"/><stop offset=".990" stop-color="#5e0402"/></linearGradient><linearGradient id="hm1g73" x1="0" y1="0" x2="0" y2="1"><stop offset=".010" stop-color="#d76734"/><stop offset=".074" stop-color="#d57a3d"/><stop offset=".139" stop-color="#d28744"/><stop offset=".203" stop-color="#cf8a45"/><stop offset=".268" stop-color="#cb8a45"/><stop offset=".332" stop-color="#c58a45"/><stop offset=".397" stop-color="#be8a45"/><stop offset=".454" stop-color="#b48141"/><stop offset=".504" stop-color="#a06231"/><stop offset=".547" stop-color="#8c3b1e"/><stop offset=".597" stop-color="#832311"/><stop offset=".669" stop-color="#7b1c0e"/><stop offset=".755" stop-color="#73150a"/><stop offset=".855" stop-color="#680c06"/><stop offset=".948" stop-color="#630703"/><stop offset=".990" stop-color="#610603"/></linearGradient><linearGradient id="hm1g74" x1="0" y1="0" x2="0" y2="1"><stop offset=".010" stop-color="#d76734"/><stop offset=".074" stop-color="#d57a3d"/><stop offset=".139" stop-color="#d28744"/><stop offset=".203" stop-color="#cf8a45"/><stop offset=".268" stop-color="#cb8a45"/><stop offset=".332" stop-color="#c58a45"/><stop offset=".397" stop-color="#be8a45"/><stop offset=".454" stop-color="#b48141"/><stop offset=".504" stop-color="#a26231"/><stop offset=".547" stop-color="#8e3d1e"/><stop offset=".597" stop-color="#842512"/><stop offset=".669" stop-color="#7d1e0f"/><stop offset=".755" stop-color="#75170b"/><stop offset=".855" stop-color="#6c0f07"/><stop offset=".948" stop-color="#660a05"/><stop offset=".990" stop-color="#650a05"/></linearGradient><linearGradient id="hm1g75" x1="0" y1="0" x2="0" y2="1"><stop offset=".010" stop-color="#d76734"/><stop offset=".074" stop-color="#d57a3d"/><stop offset=".139" stop-color="#d28744"/><stop offset=".203" stop-color="#cf8a45"/><stop offset=".268" stop-color="#cb8a45"/><stop offset=".332" stop-color="#c58a45"/><stop offset=".397" stop-color="#be8a45"/><stop offset=".454" stop-color="#b58141"/><stop offset=".504" stop-color="#a36231"/><stop offset=".547" stop-color="#903f1f"/><stop offset=".597" stop-color="#862613"/><stop offset=".669" stop-color="#7f2010"/><stop offset=".755" stop-color="#77190c"/><stop offset=".855" stop-color="#6f1209"/><stop offset=".948" stop-color="#6a0d07"/><stop offset=".990" stop-color="#680d07"/></linearGradient><linearGradient id="hm1g76" x1="0" y1="0" x2="0" y2="1"><stop offset=".010" stop-color="#d76734"/><stop offset=".074" stop-color="#d57a3d"/><stop offset=".139" stop-color="#d28744"/><stop offset=".203" stop-color="#cf8a45"/><stop offset=".268" stop-color="#cb8a45"/><stop offset=".332" stop-color="#c58a45"/><stop offset=".397" stop-color="#be8a45"/><stop offset=".454" stop-color="#b58141"/><stop offset=".504" stop-color="#a56231"/><stop offset=".547" stop-color="#914120"/><stop offset=".597" stop-color="#882814"/><stop offset=".669" stop-color="#812211"/><stop offset=".755" stop-color="#791b0d"/><stop offset=".855" stop-color="#72140a"/><stop offset=".948" stop-color="#6d1008"/><stop offset=".990" stop-color="#6c1108"/></linearGradient><linearGradient id="hm1g77" x1="0" y1="0" x2="0" y2="1"><stop offset=".010" stop-color="#d76734"/><stop offset=".074" stop-color="#d57a3d"/><stop offset=".139" stop-color="#d28744"/><stop offset=".203" stop-color="#cf8a45"/><stop offset=".268" stop-color="#cb8a45"/><stop offset=".332" stop-color="#c58a45"/><stop offset=".397" stop-color="#be8a45"/><stop offset=".454" stop-color="#b68141"/><stop offset=".504" stop-color="#a66231"/><stop offset=".547" stop-color="#934121"/><stop offset=".597" stop-color="#8a2a15"/><stop offset=".669" stop-color="#832312"/><stop offset=".755" stop-color="#7b1c0e"/><stop offset=".855" stop-color="#75170b"/><stop offset=".948" stop-color="#701309"/><stop offset=".990" stop-color="#6f140a"/></linearGradient><linearGradient id="hm1g78" x1="0" y1="0" x2="0" y2="1"><stop offset=".010" stop-color="#d76734"/><stop offset=".074" stop-color="#d57a3d"/><stop offset=".139" stop-color="#d28744"/><stop offset=".203" stop-color="#cf8a45"/><stop offset=".268" stop-color="#cb8a45"/><stop offset=".332" stop-color="#c58a45"/><stop offset=".397" stop-color="#be8a45"/><stop offset=".454" stop-color="#b68141"/><stop offset=".504" stop-color="#a86231"/><stop offset=".547" stop-color="#944121"/><stop offset=".597" stop-color="#8c2b16"/><stop offset=".669" stop-color="#852512"/><stop offset=".755" stop-color="#7d1e0f"/><stop offset=".855" stop-color="#78190d"/><stop offset=".948" stop-color="#73150b"/><stop offset=".990" stop-color="#73180c"/></linearGradient><linearGradient id="hm1g79" x1="0" y1="0" x2="0" y2="1"><stop offset=".010" stop-color="#d76734"/><stop offset=".074" stop-color="#d57a3d"/><stop offset=".139" stop-color="#d28744"/><stop offset=".203" stop-color="#cf8a45"/><stop offset=".268" stop-color="#cb8a45"/><stop offset=".332" stop-color="#c58a45"/><stop offset=".397" stop-color="#be8a45"/><stop offset=".454" stop-color="#b78141"/><stop offset=".504" stop-color="#a96231"/><stop offset=".547" stop-color="#964121"/><stop offset=".597" stop-color="#8e2d17"/><stop offset=".669" stop-color="#872713"/><stop offset=".755" stop-color="#802010"/><stop offset=".855" stop-color="#7b1c0e"/><stop offset=".948" stop-color="#77180c"/><stop offset=".990" stop-color="#761b0e"/></linearGradient><linearGradient id="hm1g80" x1="0" y1="0" x2="0" y2="1"><stop offset=".010" stop-color="#d76734"/><stop offset=".074" stop-color="#d57a3d"/><stop offset=".139" stop-color="#d28744"/><stop offset=".203" stop-color="#cf8a45"/><stop offset=".268" stop-color="#cb8a45"/><stop offset=".332" stop-color="#c58a45"/><stop offset=".397" stop-color="#be8a45"/><stop offset=".454" stop-color="#b78141"/><stop offset=".504" stop-color="#ab6231"/><stop offset=".547" stop-color="#984121"/><stop offset=".597" stop-color="#902f17"/><stop offset=".669" stop-color="#892814"/><stop offset=".755" stop-color="#822211"/><stop offset=".855" stop-color="#7e1f0f"/><stop offset=".948" stop-color="#7a1b0e"/><stop offset=".990" stop-color="#7a1f0f"/></linearGradient><linearGradient id="hm1g81" x1="0" y1="0" x2="0" y2="1"><stop offset=".010" stop-color="#d76734"/><stop offset=".074" stop-color="#d57a3d"/><stop offset=".139" stop-color="#d28744"/><stop offset=".203" stop-color="#cf8a45"/><stop offset=".268" stop-color="#cb8a45"/><stop offset=".332" stop-color="#c58a45"/><stop offset=".397" stop-color="#be8a45"/><stop offset=".454" stop-color="#b78141"/><stop offset=".504" stop-color="#ac6231"/><stop offset=".547" stop-color="#994121"/><stop offset=".597" stop-color="#913018"/><stop offset=".669" stop-color="#8a2a15"/><stop offset=".755" stop-color="#842412"/><stop offset=".855" stop-color="#802010"/><stop offset=".948" stop-color="#7b1d0e"/><stop offset=".990" stop-color="#7b2010"/></linearGradient><linearGradient id="hm1g82" x1="0" y1="0" x2="0" y2="1"><stop offset=".010" stop-color="#d76734"/><stop offset=".074" stop-color="#d57a3d"/><stop offset=".139" stop-color="#d28744"/><stop offset=".203" stop-color="#cf8a45"/><stop offset=".268" stop-color="#cb8a45"/><stop offset=".332" stop-color="#c58a45"/><stop offset=".397" stop-color="#be8a45"/><stop offset=".454" stop-color="#b78141"/><stop offset=".504" stop-color="#ad6231"/><stop offset=".547" stop-color="#9a4121"/><stop offset=".597" stop-color="#933018"/><stop offset=".669" stop-color="#8c2b16"/><stop offset=".755" stop-color="#862513"/><stop offset=".855" stop-color="#812211"/><stop offset=".948" stop-color="#7d1e0f"/><stop offset=".990" stop-color="#7d2211"/></linearGradient><linearGradient id="hm1g83" x1="0" y1="0" x2="0" y2="1"><stop offset=".010" stop-color="#d76734"/><stop offset=".074" stop-color="#d57a3d"/><stop offset=".139" stop-color="#d28744"/><stop offset=".203" stop-color="#cf8a45"/><stop offset=".268" stop-color="#cb8a45"/><stop offset=".332" stop-color="#c58a45"/><stop offset=".397" stop-color="#be8a45"/><stop offset=".454" stop-color="#b88141"/><stop offset=".504" stop-color="#ae6231"/><stop offset=".547" stop-color="#9b4121"/><stop offset=".597" stop-color="#943018"/><stop offset=".669" stop-color="#8e2d16"/><stop offset=".755" stop-color="#872714"/><stop offset=".855" stop-color="#832312"/><stop offset=".948" stop-color="#7e1f10"/><stop offset=".990" stop-color="#7e2412"/></linearGradient><linearGradient id="hm1g84" x1="0" y1="0" x2="0" y2="1"><stop offset=".010" stop-color="#d76734"/><stop offset=".074" stop-color="#d57a3d"/><stop offset=".139" stop-color="#d28744"/><stop offset=".203" stop-color="#cf8a45"/><stop offset=".268" stop-color="#cb8a45"/><stop offset=".332" stop-color="#c58a45"/><stop offset=".397" stop-color="#be8a45"/><stop offset=".454" stop-color="#b88141"/><stop offset=".504" stop-color="#ae6231"/><stop offset=".547" stop-color="#9c4121"/><stop offset=".597" stop-color="#953018"/><stop offset=".669" stop-color="#8f2e17"/><stop offset=".755" stop-color="#892914"/><stop offset=".855" stop-color="#842412"/><stop offset=".948" stop-color="#802110"/><stop offset=".990" stop-color="#802513"/></linearGradient><linearGradient id="hm1g85" x1="0" y1="0" x2="0" y2="1"><stop offset=".010" stop-color="#d76734"/><stop offset=".074" stop-color="#d57a3d"/><stop offset=".139" stop-color="#d28744"/><stop offset=".203" stop-color="#cf8a45"/><stop offset=".268" stop-color="#cb8a45"/><stop offset=".332" stop-color="#c58a45"/><stop offset=".397" stop-color="#be8a45"/><stop offset=".454" stop-color="#b88141"/><stop offset=".504" stop-color="#af6231"/><stop offset=".547" stop-color="#9d4121"/><stop offset=".597" stop-color="#963018"/><stop offset=".669" stop-color="#912f18"/><stop offset=".755" stop-color="#8b2a15"/><stop offset=".855" stop-color="#862613"/><stop offset=".948" stop-color="#822211"/><stop offset=".990" stop-color="#822713"/></linearGradient><linearGradient id="hm1g86" x1="0" y1="0" x2="0" y2="1"><stop offset=".010" stop-color="#d76734"/><stop offset=".074" stop-color="#d57a3d"/><stop offset=".139" stop-color="#d28744"/><stop offset=".203" stop-color="#cf8a45"/><stop offset=".268" stop-color="#cb8a45"/><stop offset=".332" stop-color="#c58a45"/><stop offset=".397" stop-color="#be8a45"/><stop offset=".454" stop-color="#b88141"/><stop offset=".504" stop-color="#b06231"/><stop offset=".547" stop-color="#9e4121"/><stop offset=".597" stop-color="#973018"/><stop offset=".669" stop-color="#923018"/><stop offset=".755" stop-color="#8d2c16"/><stop offset=".855" stop-color="#882814"/><stop offset=".948" stop-color="#832312"/><stop offset=".990" stop-color="#832814"/></linearGradient><linearGradient id="hm1g87" x1="0" y1="0" x2="0" y2="1"><stop offset=".010" stop-color="#d76734"/><stop offset=".074" stop-color="#d57a3d"/><stop offset=".139" stop-color="#d28744"/><stop offset=".203" stop-color="#cf8a45"/><stop offset=".268" stop-color="#cb8a45"/><stop offset=".332" stop-color="#c58a45"/><stop offset=".397" stop-color="#be8a45"/><stop offset=".454" stop-color="#b88141"/><stop offset=".504" stop-color="#b06231"/><stop offset=".547" stop-color="#9f4121"/><stop offset=".597" stop-color="#983018"/><stop offset=".669" stop-color="#933018"/><stop offset=".755" stop-color="#8e2d17"/><stop offset=".855" stop-color="#8a2a15"/><stop offset=".948" stop-color="#852512"/><stop offset=".990" stop-color="#852a15"/></linearGradient><linearGradient id="hm1g88" x1="0" y1="0" x2="0" y2="1"><stop offset=".010" stop-color="#d76734"/><stop offset=".074" stop-color="#d57a3d"/><stop offset=".139" stop-color="#d28744"/><stop offset=".203" stop-color="#cf8a45"/><stop offset=".268" stop-color="#cb8a45"/><stop offset=".332" stop-color="#c58a45"/><stop offset=".397" stop-color="#be8a45"/><stop offset=".454" stop-color="#b88141"/><stop offset=".504" stop-color="#b16231"/><stop offset=".547" stop-color="#9f4121"/><stop offset=".597" stop-color="#993018"/><stop offset=".669" stop-color="#953018"/><stop offset=".755" stop-color="#902f17"/><stop offset=".855" stop-color="#8c2b16"/><stop offset=".948" stop-color="#862613"/><stop offset=".990" stop-color="#862b16"/></linearGradient><linearGradient id="hm1g89" x1="0" y1="0" x2="0" y2="1"><stop offset=".010" stop-color="#d76734"/><stop offset=".074" stop-color="#d57a3d"/><stop offset=".139" stop-color="#d28744"/><stop offset=".203" stop-color="#cf8a45"/><stop offset=".268" stop-color="#cb8a45"/><stop offset=".332" stop-color="#c58a45"/><stop offset=".397" stop-color="#be8a45"/><stop offset=".454" stop-color="#b98141"/><stop offset=".504" stop-color="#b26231"/><stop offset=".547" stop-color="#a04121"/><stop offset=".597" stop-color="#9a3018"/><stop offset=".669" stop-color="#963018"/><stop offset=".755" stop-color="#923018"/><stop offset=".855" stop-color="#8e2d17"/><stop offset=".948" stop-color="#882714"/><stop offset=".990" stop-color="#882d16"/></linearGradient><linearGradient id="hm1g90" x1="0" y1="0" x2="0" y2="1"><stop offset=".010" stop-color="#d76734"/><stop offset=".074" stop-color="#d57a3d"/><stop offset=".139" stop-color="#d28744"/><stop offset=".203" stop-color="#cf8a45"/><stop offset=".268" stop-color="#cb8a45"/><stop offset=".332" stop-color="#c58a45"/><stop offset=".397" stop-color="#be8a45"/><stop offset=".454" stop-color="#b98141"/><stop offset=".504" stop-color="#b26231"/><stop offset=".547" stop-color="#a14121"/><stop offset=".597" stop-color="#9b3018"/><stop offset=".669" stop-color="#973018"/><stop offset=".755" stop-color="#933018"/><stop offset=".855" stop-color="#902f18"/><stop offset=".948" stop-color="#892914"/><stop offset=".990" stop-color="#892e17"/></linearGradient><linearGradient id="hm1g91" x1="0" y1="0" x2="0" y2="1"><stop offset=".010" stop-color="#d76734"/><stop offset=".074" stop-color="#d57a3d"/><stop offset=".139" stop-color="#d28744"/><stop offset=".203" stop-color="#cf8a45"/><stop offset=".268" stop-color="#cb8a45"/><stop offset=".332" stop-color="#c58a45"/><stop offset=".397" stop-color="#be8a45"/><stop offset=".454" stop-color="#b98141"/><stop offset=".504" stop-color="#b36231"/><stop offset=".547" stop-color="#a14121"/><stop offset=".597" stop-color="#9c3018"/><stop offset=".669" stop-color="#983018"/><stop offset=".755" stop-color="#953018"/><stop offset=".855" stop-color="#923018"/><stop offset=".948" stop-color="#8b2a15"/><stop offset=".990" stop-color="#8b3018"/></linearGradient><linearGradient id="hm1g92" x1="0" y1="0" x2="0" y2="1"><stop offset=".010" stop-color="#d76734"/><stop offset=".074" stop-color="#d57a3d"/><stop offset=".139" stop-color="#d28744"/><stop offset=".203" stop-color="#cf8a45"/><stop offset=".268" stop-color="#cb8a45"/><stop offset=".332" stop-color="#c58a45"/><stop offset=".397" stop-color="#be8a45"/><stop offset=".454" stop-color="#b98141"/><stop offset=".504" stop-color="#b36231"/><stop offset=".547" stop-color="#a24121"/><stop offset=".597" stop-color="#9d3018"/><stop offset=".669" stop-color="#993018"/><stop offset=".755" stop-color="#963018"/><stop offset=".855" stop-color="#943018"/><stop offset=".948" stop-color="#8c2b16"/><stop offset=".990" stop-color="#8c3119"/></linearGradient><linearGradient id="hm1g93" x1="0" y1="0" x2="0" y2="1"><stop offset=".010" stop-color="#d76734"/><stop offset=".074" stop-color="#d57a3d"/><stop offset=".139" stop-color="#d28744"/><stop offset=".203" stop-color="#cf8a45"/><stop offset=".268" stop-color="#cb8a45"/><stop offset=".332" stop-color="#c58a45"/><stop offset=".397" stop-color="#be8a45"/><stop offset=".454" stop-color="#b98141"/><stop offset=".504" stop-color="#b46231"/><stop offset=".547" stop-color="#a24121"/><stop offset=".597" stop-color="#9d3018"/><stop offset=".669" stop-color="#9a3018"/><stop offset=".755" stop-color="#983018"/><stop offset=".855" stop-color="#953018"/><stop offset=".948" stop-color="#8d2c16"/><stop offset=".990" stop-color="#8d3219"/></linearGradient><linearGradient id="hm1g94" x1="0" y1="0" x2="0" y2="1"><stop offset=".010" stop-color="#d76734"/><stop offset=".074" stop-color="#d57a3d"/><stop offset=".139" stop-color="#d28744"/><stop offset=".203" stop-color="#cf8a45"/><stop offset=".268" stop-color="#cb8a45"/><stop offset=".332" stop-color="#c58a45"/><stop offset=".397" stop-color="#be8a45"/><stop offset=".454" stop-color="#b98141"/><stop offset=".504" stop-color="#b56231"/><stop offset=".547" stop-color="#a24121"/><stop offset=".597" stop-color="#9e3018"/><stop offset=".669" stop-color="#9b3018"/><stop offset=".755" stop-color="#993018"/><stop offset=".855" stop-color="#973018"/><stop offset=".948" stop-color="#8e2d17"/><stop offset=".990" stop-color="#8e341a"/></linearGradient><linearGradient id="hm1g95" x1="0" y1="0" x2="0" y2="1"><stop offset=".010" stop-color="#d76734"/><stop offset=".074" stop-color="#d57a3d"/><stop offset=".139" stop-color="#d28744"/><stop offset=".203" stop-color="#cf8a45"/><stop offset=".268" stop-color="#cb8a45"/><stop offset=".332" stop-color="#c58a45"/><stop offset=".397" stop-color="#be8a45"/><stop offset=".454" stop-color="#ba8141"/><stop offset=".504" stop-color="#b56231"/><stop offset=".547" stop-color="#a34121"/><stop offset=".597" stop-color="#9f3018"/><stop offset=".669" stop-color="#9d3018"/><stop offset=".755" stop-color="#9b3018"/><stop offset=".855" stop-color="#993018"/><stop offset=".948" stop-color="#902f17"/><stop offset=".990" stop-color="#90351b"/></linearGradient><linearGradient id="hm1g96" x1="0" y1="0" x2="0" y2="1"><stop offset=".010" stop-color="#d76734"/><stop offset=".074" stop-color="#d57a3d"/><stop offset=".139" stop-color="#d28744"/><stop offset=".203" stop-color="#cf8a45"/><stop offset=".268" stop-color="#cb8a45"/><stop offset=".332" stop-color="#c58a45"/><stop offset=".397" stop-color="#be8a45"/><stop offset=".454" stop-color="#ba8141"/><stop offset=".504" stop-color="#b66231"/><stop offset=".547" stop-color="#a34121"/><stop offset=".597" stop-color="#a03018"/><stop offset=".669" stop-color="#9e3018"/><stop offset=".755" stop-color="#9d3018"/><stop offset=".855" stop-color="#9b3018"/><stop offset=".948" stop-color="#923018"/><stop offset=".990" stop-color="#92371b"/></linearGradient><linearGradient id="hm1g97" x1="0" y1="0" x2="0" y2="1"><stop offset=".010" stop-color="#d76734"/><stop offset=".074" stop-color="#d57a3d"/><stop offset=".139" stop-color="#d28744"/><stop offset=".203" stop-color="#cf8a45"/><stop offset=".268" stop-color="#cb8a45"/><stop offset=".332" stop-color="#c58a45"/><stop offset=".397" stop-color="#be8a45"/><stop offset=".454" stop-color="#ba8141"/><stop offset=".504" stop-color="#b66231"/><stop offset=".547" stop-color="#a44121"/><stop offset=".597" stop-color="#a13018"/><stop offset=".669" stop-color="#9f3018"/><stop offset=".755" stop-color="#9d3018"/><stop offset=".855" stop-color="#9c3018"/><stop offset=".948" stop-color="#933018"/><stop offset=".990" stop-color="#93371b"/></linearGradient><linearGradient id="hm1g98" x1="0" y1="0" x2="0" y2="1"><stop offset=".010" stop-color="#d76734"/><stop offset=".074" stop-color="#d57a3d"/><stop offset=".139" stop-color="#d28744"/><stop offset=".203" stop-color="#cf8a45"/><stop offset=".268" stop-color="#cb8a45"/><stop offset=".332" stop-color="#c58a45"/><stop offset=".397" stop-color="#be8a45"/><stop offset=".454" stop-color="#ba8141"/><stop offset=".504" stop-color="#b66231"/><stop offset=".547" stop-color="#a54121"/><stop offset=".597" stop-color="#a13018"/><stop offset=".669" stop-color="#a03018"/><stop offset=".755" stop-color="#9e3018"/><stop offset=".855" stop-color="#9d3018"/><stop offset=".948" stop-color="#953018"/><stop offset=".990" stop-color="#95371b"/></linearGradient><linearGradient id="hm1g99" x1="0" y1="0" x2="0" y2="1"><stop offset=".010" stop-color="#d76734"/><stop offset=".074" stop-color="#d57a3d"/><stop offset=".139" stop-color="#d28744"/><stop offset=".203" stop-color="#cf8a45"/><stop offset=".268" stop-color="#cb8a45"/><stop offset=".332" stop-color="#c58a45"/><stop offset=".397" stop-color="#be8a45"/><stop offset=".454" stop-color="#ba8141"/><stop offset=".504" stop-color="#b66231"/><stop offset=".547" stop-color="#a54121"/><stop offset=".597" stop-color="#a23018"/><stop offset=".669" stop-color="#a03018"/><stop offset=".755" stop-color="#9f3018"/><stop offset=".855" stop-color="#9e3018"/><stop offset=".948" stop-color="#963018"/><stop offset=".990" stop-color="#96371b"/></linearGradient><linearGradient id="hm1g100" x1="0" y1="0" x2="0" y2="1"><stop offset=".010" stop-color="#d76734"/><stop offset=".074" stop-color="#d57a3d"/><stop offset=".139" stop-color="#d28744"/><stop offset=".203" stop-color="#cf8a45"/><stop offset=".268" stop-color="#cb8a45"/><stop offset=".332" stop-color="#c58a45"/><stop offset=".397" stop-color="#be8a45"/><stop offset=".454" stop-color="#ba8141"/><stop offset=".504" stop-color="#b76231"/><stop offset=".547" stop-color="#a64121"/><stop offset=".597" stop-color="#a23018"/><stop offset=".669" stop-color="#a13018"/><stop offset=".755" stop-color="#a03018"/><stop offset=".855" stop-color="#9f3018"/><stop offset=".948" stop-color="#983018"/><stop offset=".990" stop-color="#98371b"/></linearGradient><linearGradient id="hm1g101" x1="0" y1="0" x2="0" y2="1"><stop offset=".010" stop-color="#d76734"/><stop offset=".074" stop-color="#d57a3d"/><stop offset=".139" stop-color="#d28744"/><stop offset=".203" stop-color="#cf8a45"/><stop offset=".268" stop-color="#cb8a45"/><stop offset=".332" stop-color="#c58a45"/><stop offset=".397" stop-color="#be8a45"/><stop offset=".454" stop-color="#ba8141"/><stop offset=".504" stop-color="#b76231"/><stop offset=".547" stop-color="#a64121"/><stop offset=".597" stop-color="#a33018"/><stop offset=".669" stop-color="#a23018"/><stop offset=".755" stop-color="#a13018"/><stop offset=".855" stop-color="#9f3018"/><stop offset=".948" stop-color="#993018"/><stop offset=".990" stop-color="#99371b"/></linearGradient><linearGradient id="hm1g102" x1="0" y1="0" x2="0" y2="1"><stop offset=".010" stop-color="#d76734"/><stop offset=".074" stop-color="#d57a3d"/><stop offset=".139" stop-color="#d28744"/><stop offset=".203" stop-color="#cf8a45"/><stop offset=".268" stop-color="#cb8a45"/><stop offset=".332" stop-color="#c58a45"/><stop offset=".397" stop-color="#be8a45"/><stop offset=".454" stop-color="#ba8141"/><stop offset=".504" stop-color="#b76231"/><stop offset=".547" stop-color="#a74121"/><stop offset=".597" stop-color="#a43018"/><stop offset=".669" stop-color="#a33018"/><stop offset=".755" stop-color="#a23018"/><stop offset=".855" stop-color="#a03018"/><stop offset=".948" stop-color="#9a3018"/><stop offset=".990" stop-color="#9a371b"/></linearGradient><linearGradient id="hm1g103" x1="0" y1="0" x2="0" y2="1"><stop offset=".010" stop-color="#d76734"/><stop offset=".074" stop-color="#d57a3d"/><stop offset=".139" stop-color="#d28744"/><stop offset=".203" stop-color="#cf8a45"/><stop offset=".268" stop-color="#cb8a45"/><stop offset=".332" stop-color="#c58a45"/><stop offset=".397" stop-color="#be8a45"/><stop offset=".454" stop-color="#ba8141"/><stop offset=".504" stop-color="#b76231"/><stop offset=".547" stop-color="#a74121"/><stop offset=".597" stop-color="#a43018"/><stop offset=".669" stop-color="#a33018"/><stop offset=".755" stop-color="#a23018"/><stop offset=".855" stop-color="#a13018"/><stop offset=".948" stop-color="#9b3018"/><stop offset=".990" stop-color="#9b371b"/></linearGradient><linearGradient id="hm1g104" x1="0" y1="0" x2="0" y2="1"><stop offset=".010" stop-color="#d76734"/><stop offset=".074" stop-color="#d57a3d"/><stop offset=".139" stop-color="#d28744"/><stop offset=".203" stop-color="#cf8a45"/><stop offset=".268" stop-color="#cb8a45"/><stop offset=".332" stop-color="#c58a45"/><stop offset=".397" stop-color="#be8a45"/><stop offset=".454" stop-color="#ba8141"/><stop offset=".504" stop-color="#b76231"/><stop offset=".547" stop-color="#a74121"/><stop offset=".597" stop-color="#a43018"/><stop offset=".669" stop-color="#a33018"/><stop offset=".755" stop-color="#a23018"/><stop offset=".855" stop-color="#a13018"/><stop offset=".948" stop-color="#9c3018"/><stop offset=".990" stop-color="#9c371b"/></linearGradient><linearGradient id="hm1g105" x1="0" y1="0" x2="0" y2="1"><stop offset=".010" stop-color="#d76734"/><stop offset=".074" stop-color="#d57a3d"/><stop offset=".139" stop-color="#d28744"/><stop offset=".203" stop-color="#cf8a45"/><stop offset=".268" stop-color="#cb8a45"/><stop offset=".332" stop-color="#c58a45"/><stop offset=".397" stop-color="#be8a45"/><stop offset=".454" stop-color="#ba8141"/><stop offset=".504" stop-color="#b76231"/><stop offset=".547" stop-color="#a74121"/><stop offset=".597" stop-color="#a43018"/><stop offset=".669" stop-color="#a33018"/><stop offset=".755" stop-color="#a23018"/><stop offset=".855" stop-color="#a13018"/><stop offset=".948" stop-color="#9d3018"/><stop offset=".990" stop-color="#9d371b"/></linearGradient><linearGradient id="hm1g106" x1="0" y1="0" x2="0" y2="1"><stop offset=".010" stop-color="#d76734"/><stop offset=".074" stop-color="#d57a3d"/><stop offset=".139" stop-color="#d28744"/><stop offset=".203" stop-color="#cf8a45"/><stop offset=".268" stop-color="#cb8a45"/><stop offset=".332" stop-color="#c58a45"/><stop offset=".397" stop-color="#be8a45"/><stop offset=".454" stop-color="#ba8141"/><stop offset=".504" stop-color="#b76231"/><stop offset=".547" stop-color="#a74121"/><stop offset=".597" stop-color="#a43018"/><stop offset=".669" stop-color="#a33018"/><stop offset=".755" stop-color="#a33018"/><stop offset=".855" stop-color="#a23018"/><stop offset=".948" stop-color="#9e3018"/><stop offset=".990" stop-color="#9e371b"/></linearGradient><linearGradient id="hm1g107" x1="0" y1="0" x2="0" y2="1"><stop offset=".010" stop-color="#d76734"/><stop offset=".074" stop-color="#d57a3d"/><stop offset=".139" stop-color="#d28744"/><stop offset=".203" stop-color="#cf8a45"/><stop offset=".268" stop-color="#cb8a45"/><stop offset=".332" stop-color="#c58a45"/><stop offset=".397" stop-color="#be8a45"/><stop offset=".454" stop-color="#ba8141"/><stop offset=".504" stop-color="#b76231"/><stop offset=".547" stop-color="#a74121"/><stop offset=".597" stop-color="#a43018"/><stop offset=".669" stop-color="#a33018"/><stop offset=".755" stop-color="#a33018"/><stop offset=".855" stop-color="#a23018"/><stop offset=".948" stop-color="#9f3018"/><stop offset=".990" stop-color="#9f371b"/></linearGradient><linearGradient id="hm1g108" x1="0" y1="0" x2="0" y2="1"><stop offset=".010" stop-color="#d76734"/><stop offset=".074" stop-color="#d57a3d"/><stop offset=".139" stop-color="#d28744"/><stop offset=".203" stop-color="#cf8a45"/><stop offset=".268" stop-color="#cb8a45"/><stop offset=".332" stop-color="#c58a45"/><stop offset=".397" stop-color="#be8a45"/><stop offset=".454" stop-color="#ba8141"/><stop offset=".504" stop-color="#b76231"/><stop offset=".547" stop-color="#a74121"/><stop offset=".597" stop-color="#a43018"/><stop offset=".669" stop-color="#a33018"/><stop offset=".755" stop-color="#a33018"/><stop offset=".855" stop-color="#a23018"/><stop offset=".948" stop-color="#a03018"/><stop offset=".990" stop-color="#a0371b"/></linearGradient><linearGradient id="hm1g109" x1="0" y1="0" x2="0" y2="1"><stop offset=".010" stop-color="#d76734"/><stop offset=".074" stop-color="#d57a3d"/><stop offset=".139" stop-color="#d28744"/><stop offset=".203" stop-color="#cf8a45"/><stop offset=".268" stop-color="#cb8a45"/><stop offset=".332" stop-color="#c58a45"/><stop offset=".397" stop-color="#be8a45"/><stop offset=".454" stop-color="#ba8141"/><stop offset=".504" stop-color="#b76231"/><stop offset=".547" stop-color="#a74121"/><stop offset=".597" stop-color="#a43018"/><stop offset=".669" stop-color="#a43018"/><stop offset=".755" stop-color="#a33018"/><stop offset=".855" stop-color="#a33018"/><stop offset=".948" stop-color="#a13018"/><stop offset=".990" stop-color="#a1371b"/></linearGradient><linearGradient id="hm1g110" x1="0" y1="0" x2="0" y2="1"><stop offset=".010" stop-color="#d76734"/><stop offset=".074" stop-color="#d57a3d"/><stop offset=".139" stop-color="#d28744"/><stop offset=".203" stop-color="#cf8a45"/><stop offset=".268" stop-color="#cb8a45"/><stop offset=".332" stop-color="#c58a45"/><stop offset=".397" stop-color="#be8a45"/><stop offset=".454" stop-color="#ba8141"/><stop offset=".504" stop-color="#b76231"/><stop offset=".547" stop-color="#a74121"/><stop offset=".597" stop-color="#a43018"/><stop offset=".669" stop-color="#a43018"/><stop offset=".755" stop-color="#a33018"/><stop offset=".855" stop-color="#a33018"/><stop offset=".948" stop-color="#a13018"/><stop offset=".990" stop-color="#a1371b"/></linearGradient><linearGradient id="hm1g111" x1="0" y1="0" x2="0" y2="1"><stop offset=".010" stop-color="#d76734"/><stop offset=".074" stop-color="#d57a3d"/><stop offset=".139" stop-color="#d28744"/><stop offset=".203" stop-color="#cf8a45"/><stop offset=".268" stop-color="#cb8a45"/><stop offset=".332" stop-color="#c58a45"/><stop offset=".397" stop-color="#be8a45"/><stop offset=".454" stop-color="#ba8141"/><stop offset=".504" stop-color="#b76231"/><stop offset=".547" stop-color="#a74121"/><stop offset=".597" stop-color="#a43018"/><stop offset=".669" stop-color="#a43018"/><stop offset=".755" stop-color="#a43018"/><stop offset=".855" stop-color="#a33018"/><stop offset=".948" stop-color="#a23018"/><stop offset=".990" stop-color="#a2371b"/></linearGradient><linearGradient id="hm1g112" x1="0" y1="0" x2="0" y2="1"><stop offset=".010" stop-color="#d76734"/><stop offset=".074" stop-color="#d57a3d"/><stop offset=".139" stop-color="#d28744"/><stop offset=".203" stop-color="#cf8a45"/><stop offset=".268" stop-color="#cb8a45"/><stop offset=".332" stop-color="#c58a45"/><stop offset=".397" stop-color="#be8a45"/><stop offset=".454" stop-color="#ba8141"/><stop offset=".504" stop-color="#b76231"/><stop offset=".547" stop-color="#a74121"/><stop offset=".597" stop-color="#a43018"/><stop offset=".669" stop-color="#a43018"/><stop offset=".755" stop-color="#a43018"/><stop offset=".855" stop-color="#a43018"/><stop offset=".948" stop-color="#a33018"/><stop offset=".990" stop-color="#a3371b"/></linearGradient><linearGradient id="hm1g113" x1="0" y1="0" x2="0" y2="1"><stop offset=".010" stop-color="#d76734"/><stop offset=".074" stop-color="#d57a3d"/><stop offset=".139" stop-color="#d28744"/><stop offset=".203" stop-color="#cf8a45"/><stop offset=".268" stop-color="#cb8a45"/><stop offset=".332" stop-color="#c58a45"/><stop offset=".397" stop-color="#be8a45"/><stop offset=".454" stop-color="#ba8141"/><stop offset=".504" stop-color="#b76231"/><stop offset=".547" stop-color="#a74121"/><stop offset=".597" stop-color="#a43018"/><stop offset=".669" stop-color="#a43018"/><stop offset=".755" stop-color="#a43018"/><stop offset=".855" stop-color="#a43018"/><stop offset=".948" stop-color="#a43018"/><stop offset=".990" stop-color="#a4371b"/></linearGradient></defs>
<filter id="hm1f" filterUnits="userSpaceOnUse" x="931.2" y="1233" width="730" height="607.3" color-interpolation-filters="sRGB"><feGaussianBlur in="SourceGraphic" stdDeviation="3 0" result="b"/><feTurbulence type="fractalNoise" baseFrequency="0.065 0.0028" numOctaves="3" seed="5" result="t"/><feComponentTransfer in="t" result="tc"><feFuncR type="linear" slope="2" intercept="-0.5"/></feComponentTransfer><feColorMatrix in="tc" type="matrix" values="0 0 0 0 1 1 0 0 0 0 0 0 0 0 1 0 0 0 0 1" result="t2"/><feComposite in="b" in2="t2" operator="arithmetic" k1="1" k2="0" k3="0" k4="0" result="p"/><feColorMatrix in="p" type="matrix" values="1 1 -1 0 0 1 1 -1 0 0 1 1 -1 0 0 0 0 0 0 1" result="s"/><feComponentTransfer in="s"><feFuncR type="table" tableValues="0.373 0.373 0.373 0.373 0.373 0.373 0.373 0.373 0.373 0.373 0.373 0.373 0.373 0.373 0.373 0.373 0.373 0.373 0.373 0.373 0.373 0.374 0.396 0.417 0.439 0.46 0.482 0.503 0.525 0.547 0.574 0.601 0.628 0.654 0.681 0.708 0.734 0.764 0.802 0.839 0.876 0.901 0.925 0.949 0.973 0.997 1 1 1 1 1 1 1 1 1 1 1 1 1 1 1 1 1 1 1 1 0.998 0.992 0.987 0.981 0.968 0.955 0.941 0.927 0.911 0.894 0.876 0.856 0.836 0.816 0.797 0.779 0.76 0.742 0.723 0.704 0.685 0.664 0.643 0.623 0.602 0.583 0.563 0.542 0.518 0.495 0.472 0.453 0.434 0.416 0.394 0.37 0.345 0.321 0.305 0.288 0.27 0.245 0.222 0.204 0.187 0.169 0.15 0.132 0.113 0.094 0.073 0.052 0.033 0.017 0 0 0 0 0 0 0 0 0 0 0 0 0 0 0 0 0 0 0 0 0"/><feFuncG type="table" tableValues="0.251 0.251 0.251 0.251 0.251 0.251 0.251 0.251 0.251 0.251 0.251 0.251 0.251 0.251 0.251 0.251 0.251 0.251 0.251 0.251 0.251 0.169 0.182 0.194 0.207 0.219 0.232 0.245 0.257 0.27 0.284 0.298 0.311 0.325 0.339 0.353 0.367 0.382 0.401 0.419 0.438 0.451 0.463 0.476 0.488 0.5 0.52 0.541 0.562 0.583 0.604 0.622 0.637 0.653 0.668 0.684 0.703 0.724 0.745 0.766 0.787 0.807 0.827 0.847 0.866 0.892 0.917 0.94 0.963 0.987 0.976 0.963 0.949 0.939 0.934 0.928 0.92 0.909 0.898 0.887 0.875 0.863 0.852 0.839 0.827 0.814 0.801 0.787 0.773 0.759 0.746 0.734 0.722 0.709 0.695 0.681 0.667 0.656 0.644 0.632 0.619 0.603 0.588 0.572 0.561 0.55 0.539 0.526 0.514 0.5 0.487 0.474 0.462 0.45 0.438 0.426 0.413 0.4 0.389 0.379 0.369 0.49 0.49 0.49 0.49 0.49 0.49 0.49 0.49 0.49 0.49 0.49 0.49 0.49 0.49 0.49 0.49 0.49 0.49 0.49 0.49"/><feFuncB type="table" tableValues="0.22 0.22 0.22 0.22 0.22 0.22 0.22 0.22 0.22 0.22 0.22 0.22 0.22 0.22 0.22 0.22 0.22 0.22 0.22 0.22 0.22 0 0 0 0 0 0 0 0 0 0 0 0 0 0 0 0 0 0 0 0 0 0 0 0 0 0.021 0.045 0.069 0.093 0.117 0.138 0.156 0.175 0.193 0.212 0.23 0.248 0.266 0.284 0.302 0.32 0.339 0.358 0.376 0.395 0.413 0.432 0.451 0.469 0.471 0.471 0.471 0.466 0.455 0.444 0.435 0.426 0.417 0.408 0.401 0.394 0.387 0.38 0.373 0.366 0.358 0.346 0.335 0.323 0.312 0.301 0.29 0.278 0.264 0.25 0.236 0.226 0.217 0.208 0.198 0.186 0.175 0.165 0.159 0.154 0.147 0.134 0.123 0.114 0.105 0.096 0.087 0.078 0.068 0.059 0.048 0.038 0.027 0.013 0 0 0 0 0 0 0 0 0 0 0 0 0 0 0 0 0 0 0 0 0"/></feComponentTransfer></filter>
<clipPath id="hm1c"><rect x="941.2" y="1239" width="710" height="595.3"/></clipPath>
<g clip-path="url(#hm1c)"><g filter="url(#hm1f)"><rect x="933.2" y="1233" width="9.6" height="607.3" fill="url(#hm1g0)"/><rect x="942.2" y="1233" width="9.6" height="607.3" fill="url(#hm1g1)"/><rect x="951.2" y="1233" width="9.6" height="607.3" fill="url(#hm1g2)"/><rect x="960.2" y="1233" width="9.6" height="607.3" fill="url(#hm1g3)"/><rect x="969.2" y="1233" width="9.6" height="607.3" fill="url(#hm1g4)"/><rect x="978.2" y="1233" width="9.6" height="607.3" fill="url(#hm1g5)"/><rect x="987.2" y="1233" width="9.6" height="607.3" fill="url(#hm1g6)"/><rect x="996.2" y="1233" width="9.6" height="607.3" fill="url(#hm1g7)"/><rect x="1005.2" y="1233" width="9.6" height="607.3" fill="url(#hm1g8)"/><rect x="1014.2" y="1233" width="9.6" height="607.3" fill="url(#hm1g9)"/><rect x="1023.2" y="1233" width="9.6" height="607.3" fill="url(#hm1g10)"/><rect x="1032.2" y="1233" width="9.6" height="607.3" fill="url(#hm1g11)"/><rect x="1041.2" y="1233" width="9.6" height="607.3" fill="url(#hm1g12)"/><rect x="1050.2" y="1233" width="9.6" height="607.3" fill="url(#hm1g13)"/><rect x="1059.2" y="1233" width="9.6" height="607.3" fill="url(#hm1g14)"/><rect x="1068.2" y="1233" width="9.6" height="607.3" fill="url(#hm1g15)"/><rect x="1077.2" y="1233" width="9.6" height="607.3" fill="url(#hm1g16)"/><rect x="1086.2" y="1233" width="9.6" height="607.3" fill="url(#hm1g17)"/><rect x="1095.2" y="1233" width="9.6" height="607.3" fill="url(#hm1g18)"/><rect x="1104.2" y="1233" width="9.6" height="607.3" fill="url(#hm1g19)"/><rect x="1113.2" y="1233" width="5.6" height="607.3" fill="url(#hm1g20)"/><rect x="1118.2" y="1233" width="5.6" height="607.3" fill="url(#hm1g21)"/><rect x="1123.2" y="1233" width="5.6" height="607.3" fill="url(#hm1g22)"/><rect x="1128.2" y="1233" width="5.6" height="607.3" fill="url(#hm1g23)"/><rect x="1133.2" y="1233" width="5.6" height="607.3" fill="url(#hm1g24)"/><rect x="1138.2" y="1233" width="5.6" height="607.3" fill="url(#hm1g25)"/><rect x="1143.2" y="1233" width="5.6" height="607.3" fill="url(#hm1g26)"/><rect x="1148.2" y="1233" width="5.6" height="607.3" fill="url(#hm1g27)"/><rect x="1153.2" y="1233" width="5.6" height="607.3" fill="url(#hm1g28)"/><rect x="1158.2" y="1233" width="5.6" height="607.3" fill="url(#hm1g29)"/><rect x="1163.2" y="1233" width="5.6" height="607.3" fill="url(#hm1g30)"/><rect x="1168.2" y="1233" width="5.6" height="607.3" fill="url(#hm1g31)"/><rect x="1173.2" y="1233" width="5.6" height="607.3" fill="url(#hm1g32)"/><rect x="1178.2" y="1233" width="5.6" height="607.3" fill="url(#hm1g33)"/><rect x="1183.2" y="1233" width="5.6" height="607.3" fill="url(#hm1g34)"/><rect x="1188.2" y="1233" width="5.6" height="607.3" fill="url(#hm1g35)"/><rect x="1193.2" y="1233" width="5.6" height="607.3" fill="url(#hm1g36)"/><rect x="1198.2" y="1233" width="5.6" height="607.3" fill="url(#hm1g37)"/><rect x="1203.2" y="1233" width="5.6" height="607.3" fill="url(#hm1g38)"/><rect x="1208.2" y="1233" width="5.6" height="607.3" fill="url(#hm1g39)"/><rect x="1213.2" y="1233" width="5.6" height="607.3" fill="url(#hm1g40)"/><rect x="1218.2" y="1233" width="5.6" height="607.3" fill="url(#hm1g41)"/><rect x="1223.2" y="1233" width="5.6" height="607.3" fill="url(#hm1g42)"/><rect x="1228.2" y="1233" width="5.6" height="607.3" fill="url(#hm1g43)"/><rect x="1233.2" y="1233" width="5.6" height="607.3" fill="url(#hm1g44)"/><rect x="1238.2" y="1233" width="5.6" height="607.3" fill="url(#hm1g45)"/><rect x="1243.2" y="1233" width="5.6" height="607.3" fill="url(#hm1g46)"/><rect x="1248.2" y="1233" width="5.6" height="607.3" fill="url(#hm1g47)"/><rect x="1253.2" y="1233" width="5.6" height="607.3" fill="url(#hm1g48)"/><rect x="1258.2" y="1233" width="5.6" height="607.3" fill="url(#hm1g49)"/><rect x="1263.2" y="1233" width="5.6" height="607.3" fill="url(#hm1g50)"/><rect x="1268.2" y="1233" width="5.6" height="607.3" fill="url(#hm1g51)"/><rect x="1273.2" y="1233" width="5.6" height="607.3" fill="url(#hm1g52)"/><rect x="1278.2" y="1233" width="5.6" height="607.3" fill="url(#hm1g53)"/><rect x="1283.2" y="1233" width="5.6" height="607.3" fill="url(#hm1g54)"/><rect x="1288.2" y="1233" width="5.6" height="607.3" fill="url(#hm1g55)"/><rect x="1293.2" y="1233" width="5.6" height="607.3" fill="url(#hm1g56)"/><rect x="1298.2" y="1233" width="5.6" height="607.3" fill="url(#hm1g57)"/><rect x="1303.2" y="1233" width="5.6" height="607.3" fill="url(#hm1g58)"/><rect x="1308.2" y="1233" width="5.6" height="607.3" fill="url(#hm1g59)"/><rect x="1313.2" y="1233" width="5.6" height="607.3" fill="url(#hm1g60)"/><rect x="1318.2" y="1233" width="5.6" height="607.3" fill="url(#hm1g61)"/><rect x="1323.2" y="1233" width="5.6" height="607.3" fill="url(#hm1g62)"/><rect x="1328.2" y="1233" width="5.6" height="607.3" fill="url(#hm1g63)"/><rect x="1333.2" y="1233" width="5.6" height="607.3" fill="url(#hm1g64)"/><rect x="1338.2" y="1233" width="5.6" height="607.3" fill="url(#hm1g65)"/><rect x="1343.2" y="1233" width="5.6" height="607.3" fill="url(#hm1g66)"/><rect x="1348.2" y="1233" width="5.6" height="607.3" fill="url(#hm1g67)"/><rect x="1353.2" y="1233" width="5.6" height="607.3" fill="url(#hm1g68)"/><rect x="1358.2" y="1233" width="5.6" height="607.3" fill="url(#hm1g69)"/><rect x="1363.2" y="1233" width="5.6" height="607.3" fill="url(#hm1g70)"/><rect x="1368.2" y="1233" width="5.6" height="607.3" fill="url(#hm1g71)"/><rect x="1373.2" y="1233" width="5.6" height="607.3" fill="url(#hm1g72)"/><rect x="1378.2" y="1233" width="5.6" height="607.3" fill="url(#hm1g73)"/><rect x="1383.2" y="1233" width="5.6" height="607.3" fill="url(#hm1g74)"/><rect x="1388.2" y="1233" width="5.6" height="607.3" fill="url(#hm1g75)"/><rect x="1393.2" y="1233" width="5.6" height="607.3" fill="url(#hm1g76)"/><rect x="1398.2" y="1233" width="5.6" height="607.3" fill="url(#hm1g77)"/><rect x="1403.2" y="1233" width="5.6" height="607.3" fill="url(#hm1g78)"/><rect x="1408.2" y="1233" width="5.6" height="607.3" fill="url(#hm1g79)"/><rect x="1413.2" y="1233" width="5.6" height="607.3" fill="url(#hm1g80)"/><rect x="1418.2" y="1233" width="5.6" height="607.3" fill="url(#hm1g81)"/><rect x="1423.2" y="1233" width="5.6" height="607.3" fill="url(#hm1g82)"/><rect x="1428.2" y="1233" width="5.6" height="607.3" fill="url(#hm1g83)"/><rect x="1433.2" y="1233" width="5.6" height="607.3" fill="url(#hm1g84)"/><rect x="1438.2" y="1233" width="5.6" height="607.3" fill="url(#hm1g85)"/><rect x="1443.2" y="1233" width="5.6" height="607.3" fill="url(#hm1g86)"/><rect x="1448.2" y="1233" width="5.6" height="607.3" fill="url(#hm1g87)"/><rect x="1453.2" y="1233" width="5.6" height="607.3" fill="url(#hm1g88)"/><rect x="1458.2" y="1233" width="5.6" height="607.3" fill="url(#hm1g89)"/><rect x="1463.2" y="1233" width="5.6" height="607.3" fill="url(#hm1g90)"/><rect x="1468.2" y="1233" width="5.6" height="607.3" fill="url(#hm1g91)"/><rect x="1473.2" y="1233" width="5.6" height="607.3" fill="url(#hm1g92)"/><rect x="1478.2" y="1233" width="5.6" height="607.3" fill="url(#hm1g93)"/><rect x="1483.2" y="1233" width="5.6" height="607.3" fill="url(#hm1g94)"/><rect x="1488.2" y="1233" width="9.6" height="607.3" fill="url(#hm1g95)"/><rect x="1497.2" y="1233" width="9.6" height="607.3" fill="url(#hm1g96)"/><rect x="1506.2" y="1233" width="9.6" height="607.3" fill="url(#hm1g97)"/><rect x="1515.2" y="1233" width="9.6" height="607.3" fill="url(#hm1g98)"/><rect x="1524.2" y="1233" width="9.6" height="607.3" fill="url(#hm1g99)"/><rect x="1533.2" y="1233" width="9.6" height="607.3" fill="url(#hm1g100)"/><rect x="1542.2" y="1233" width="9.6" height="607.3" fill="url(#hm1g101)"/><rect x="1551.2" y="1233" width="9.6" height="607.3" fill="url(#hm1g102)"/><rect x="1560.2" y="1233" width="9.6" height="607.3" fill="url(#hm1g103)"/><rect x="1569.2" y="1233" width="9.6" height="607.3" fill="url(#hm1g104)"/><rect x="1578.2" y="1233" width="9.6" height="607.3" fill="url(#hm1g105)"/><rect x="1587.2" y="1233" width="9.6" height="607.3" fill="url(#hm1g106)"/><rect x="1596.2" y="1233" width="9.6" height="607.3" fill="url(#hm1g107)"/><rect x="1605.2" y="1233" width="9.6" height="607.3" fill="url(#hm1g108)"/><rect x="1614.2" y="1233" width="9.6" height="607.3" fill="url(#hm1g109)"/><rect x="1623.2" y="1233" width="9.6" height="607.3" fill="url(#hm1g110)"/><rect x="1632.2" y="1233" width="9.6" height="607.3" fill="url(#hm1g111)"/><rect x="1641.2" y="1233" width="9.6" height="607.3" fill="url(#hm1g112)"/><rect x="1650.2" y="1233" width="9.6" height="607.3" fill="url(#hm1g113)"/></g></g>
<linearGradient id="bbm" x1="0" y1="0" x2="0" y2="1"><stop offset="0" stop-color="#fff" stop-opacity="0"/><stop offset=".3" stop-color="#fff" stop-opacity="1"/><stop offset="1" stop-color="#fff" stop-opacity="1"/></linearGradient>
<filter id="bbf0" filterUnits="userSpaceOnUse" x="189.4" y="1806" width="721.9" height="28.3" color-interpolation-filters="sRGB"><feTurbulence type="fractalNoise" baseFrequency="0.02 0.14" numOctaves="2" seed="11"/><feComponentTransfer><feFuncR type="linear" slope="3.2" intercept="-1.1"/></feComponentTransfer><feColorMatrix type="matrix" values="0.714 0 0 0 0.227 0.439 0 0 0 0.518 0.345 0 0 0 0.125 0 0 0 0 0.35"/><feComposite in2="SourceAlpha" operator="in"/></filter>
<mask id="bbk0" maskUnits="userSpaceOnUse" x="0" y="1806" width="1880" height="28.3"><rect x="0" y="1806" width="1880" height="28.3" fill="url(#bbm)"/></mask>
<g mask="url(#bbk0)">
<rect x="195.3" y="1806" width="213" height="28.3" filter="url(#bbf0)"/>
<rect x="704.2" y="1806" width="201.2" height="28.3" filter="url(#bbf0)"/>
</g>
<filter id="bbf1" filterUnits="userSpaceOnUse" x="935.3" y="1806" width="721.8" height="28.3" color-interpolation-filters="sRGB"><feTurbulence type="fractalNoise" baseFrequency="0.02 0.14" numOctaves="2" seed="13"/><feComponentTransfer><feFuncR type="linear" slope="3.2" intercept="-1.1"/></feComponentTransfer><feColorMatrix type="matrix" values="0.714 0 0 0 0.227 0.439 0 0 0 0.518 0.345 0 0 0 0.125 0 0 0 0 0.7"/><feComposite in2="SourceAlpha" operator="in"/></filter>
<mask id="bbk1" maskUnits="userSpaceOnUse" x="0" y="1806" width="1880" height="28.3"><rect x="0" y="1806" width="1880" height="28.3" fill="url(#bbm)"/></mask>
<g mask="url(#bbk1)">
<rect x="941.2" y="1806" width="230.8" height="28.3" filter="url(#bbf1)"/>
<rect x="1396.8" y="1806" width="254.4" height="28.3" filter="url(#bbf1)"/>
</g>
<clipPath id="cpA"><rect x="195.3" y="18.8" width="710.1" height="594.8"/></clipPath>
<clipPath id="cpB"><rect x="195.3" y="613.6" width="710.1" height="594.8"/></clipPath>
<clipPath id="cpD"><rect x="941.2" y="18.8" width="710" height="594.8"/></clipPath>
<clipPath id="cpE"><rect x="941.2" y="613.6" width="710" height="594.8"/></clipPath>
<g clip-path="url(#cpA)" fill="none" stroke-linejoin="round" stroke-linecap="round">
<path d="M195.3 9l3 2.4 2.9 2.6 3 2.6 2.9 2.8 3 3.1 3 3.2 2.9 3.2 3 2.9 2.9 2.8 3 2.8 2.9 3 3 2.4 3 1 2.9-.3 3-.4 2.9 1 3 3.1 3 4.6 2.9 4.7 3 3.5 2.9 2 3 .5 3 .1 2.9 .4 3 1.3 2.9 2.4 3 3.1 2.9 3.5 3 3.4 3 3 2.9 2.2 3 1.4 2.9 .8 3 .7 3 1 2.9 1.8 3 2.5 2.9 3.1 3 3.1 2.9 2.4 3 1.5 3 .6 2.9 .3 3 .8 2.9 2.2 3 3.4 3 3.8 2.9 3.1 3 1.5 2.9 .4 3 .3 3 1.2 2.9 2.1 3 2.4 2.9 2.3 3 2.2 2.9 2.2 3 2.5 3 2.6 2.9 2.6 3 2.4 2.9 2.3 3 2.2 3 2.3 2.9 2.2 3 2.4 2.9 2.5 3 2.2 3 1.4 2.9 .6 3 .3 2.9 1.1 3 2 2.9 2.8 3 3 3 2.7 2.9 2.1 3 1.3 2.9 .5 3-.5 3-.9 2.9-.2 3 1.1 2.9 2.6 3 3.2 3 2.7 2.9 1.6 3 .3 2.9-.4 3-.1 2.9 1.1 3 2.3 3 2.7 2.9 2.3 3 1.5 2.9 .8 3 .1 3-.5 2.9-.6 3 .1 2.9 1 3 1.4 3 1.5 2.9 1.4 3 1.1 2.9 .9 3 .7 2.9 .2 3 .1 3 .1 2.9 .5 3 .6 2.9 .6 3 .3 3 .1 2.9 .1 3 0 2.9 0 3-.2 2.9-.2 3-.3 3-.4 2.9-.3 3-.3 2.9-.3 3-.1 3-.1 2.9 .2 3 .3 2.9 .3 3 0 3-.3 2.9-.7 3-.9 2.9-1 3-1 2.9-.8 3-.6 3-.5 2.9-.4 3-.3 2.9-.1 3-.2 3-.8 2.9-1.6 3-2.1 2.9-1.8 3-1.1 3-.3 2.9 0 3-.6 2.9-1.4 3-1.7 2.9-1.2 3 .2 3 1.3 2.9 1.4 3 .8 2.9-.1 3-.6 3-1.1 2.9-1.8 3-2.8 2.9-3.5 3-3.2 3-2.1 2.9-1 3 0 2.9 .1 3-.3 2.9-1.2 3-2 3-2.3 2.9-2.5 3-2.6 2.9-2.7 3-2.5 3-2.1 2.9-2 3-2 2.9-2.2 3-2.2 3-1.8 2.9-1.3 3-.7 2.9-.6 3-1.4 2.9-2.5 3-3.3 3-3.1 2.9-2.3 3-1.7 2.9-1.5 3-1.1 3-.7 2.9-.1 3-.1 2.9-.8 3-1.9 2.9-3 3-3.5 3-3.1 2.9-2 3-.9 2.9-.7 3-1.9 3-3.3 2.9-4 3-3.8 2.9-3.1 3-2.9 3-2.9 2.9-3.1 3-3 2.9-2.3 3-1.2 2.9-.2 3-.2 3-1.5 2.9-3.6 3-5 2.9-5.2 3-4.2 3-2.7 2.9-1.7 3-1.5 2.9-2.8 3-4.3 3-4.7 2.9-3.5 3-1.5 2.9 0 3 .5 2.9 0 3-.9 3-1.9 2.9-2.5 3-2.7 2.9-2.3 3-1.9" stroke="#640000" stroke-width="6.8"/>
<path d="M195.3 -21.1l3 3.1 2.9 3.4 3 3 2.9 2 3 1.1 3 .6 2.9 1.2 3 2.1 2.9 2.5 3 2.6 2.9 2.3 3 2.4 3 2.8 2.9 3.5 3 4.3 2.9 4.2 3 3.5 3 2.4 2.9 2.2 3 2.4 2.9 3 3 3.3 3 3.6 2.9 3.8 3 3.5 2.9 2.4 3 .8 2.9-.1 3 .1 3 1 2.9 1.8 3 1.9 2.9 2.1 3 2.2 3 2.8 2.9 3.8 3 4.9 2.9 5.3 3 4.8 2.9 3.3 3 2.1 3 1.7 2.9 2.1 3 2.3 2.9 2.2 3 1.7 3 1.2 2.9 1 3 .8 2.9 .7 3 1.1 3 2.1 2.9 3.2 3 3.8 2.9 3.8 3 3.1 2.9 2.7 3 2.4 3 2.3 2.9 2.1 3 2.1 2.9 2.4 3 3 3 3.4 2.9 3.3 3 2.7 2.9 2 3 1.3 3 1.1 2.9 1 3 1.3 2.9 1.4 3 1.6 2.9 1.9 3 2.5 3 2.9 2.9 2.9 3 2.5 2.9 2.4 3 2.4 3 2.4 2.9 2.4 3 2.1 2.9 1.7 3 1.4 3 1.7 2.9 2.2 3 2.3 2.9 1.9 3 1.3 2.9 1.1 3 1.3 3 2 2.9 2.4 3 2.5 2.9 2.2 3 1.7 3 .9 2.9 .1 3-.5 2.9-.5 3 .2 3 1 2.9 1.2 3 1.1 2.9 .7 3 .5 2.9 .7 3 .9 3 1.1 2.9 .8 3 .4 2.9 .2 3 0 3 .1 2.9 .4 3 .6 2.9 .7 3 .6 2.9 .2 3 0 3-.3 2.9-.4 3-.5 2.9-.6 3-.9 3-.9 2.9-.9 3-.8 2.9-.8 3-.6 3-.5 2.9-.3 3 0 2.9 .2 3 .1 2.9-.2 3-.7 3-.7 2.9-.6 3-.4 2.9-.5 3-1 3-2 2.9-3 3-3.2 2.9-2.6 3-1.2 3 0 2.9 .4 3 0 2.9-.9 3-1.5 2.9-1.6 3-1.6 3-1.5 2.9-1 3-.2 2.9 .4 3 .3 3-.7 2.9-2.1 3-3 2.9-3.2 3-3 3-2.6 2.9-2.2 3-1.8 2.9-1.2 3-1 2.9-1 3-1.7 3-2.2 2.9-2.6 3-2.3 2.9-1.3 3-.5 3 .1 2.9-.1 3-.9 2.9-1.8 3-2.2 3-1.7 2.9-.7 3-.5 2.9-1.7 3-3.4 2.9-4.3 3-3.6 3-2.3 2.9-1.2 3-1 2.9-1.5 3-2.2 3-3.1 2.9-3.7 3-3.9 2.9-3.5 3-2.4 2.9-1.2 3-.5 3-.6 2.9-1.2 3-1.6 2.9-1.6 3-1.2 3-.8 2.9-1.1 3-1.9 2.9-2.8 3-3 3-2.4 2.9-1.2 3-.6 2.9-1.1 3-2.6 2.9-4.2 3-4.7 3-4.2 2.9-3.2 3-2.2 2.9-2 3-1.9 3-1.9 2.9-2.2 3-2.5 2.9-2.6 3-2.7 3-2.8 2.9-3 3-3.2 2.9-2.6 3-1.3 2.9-.1 3 .2 3 0 2.9-.8 3-1.6 2.9-2 3-2.2" stroke="#960000" stroke-width="6.8"/>
<path d="M195.3 -35.3l3 3 2.9 2.8 3 2.5 2.9 2.2 3 2.6 3 3.4 2.9 3.7 3 3.2 2.9 2.1 3 1.3 2.9 1.2 3 1.8 3 2.6 2.9 2.7 3 2.7 2.9 2.9 3 3.3 3 3.9 2.9 3.9 3 3.6 2.9 3.2 3 2.7 3 2.5 2.9 2.4 3 2.7 2.9 2.9 3 3.3 2.9 3.5 3 3.3 3 3 2.9 2.6 3 2.6 2.9 2.9 3 3.2 3 3.1 2.9 2.6 3 2.4 2.9 2.8 3 3.5 2.9 3.7 3 3.1 3 1.8 2.9 .4 3-.1 2.9 .6 3 2.1 3 3.6 2.9 4.5 3 4.5 2.9 3.8 3 2.8 3 2.2 2.9 2.5 3 3.4 2.9 4.3 3 4.6 2.9 4.2 3 3.4 3 2.1 2.9 .9 3 .2 2.9 .6 3 2.1 3 3.7 2.9 4.5 3 4.3 2.9 3.4 3 3 3 3.1 2.9 3.7 3 4 2.9 4 3 3.1 2.9 1.9 3 .9 3 .8 2.9 1.5 3 2.3 2.9 2.9 3 2.7 3 2.1 2.9 1.7 3 1.6 2.9 1.5 3 1.2 3 1.2 2.9 1.7 3 2.5 2.9 3.1 3 2.7 2.9 1.8 3 1.4 3 1.8 2.9 2.3 3 2.3 2.9 1.3 3 .9 3 1.2 2.9 2.3 3 2.8 2.9 2.7 3 2 3 1.3 2.9 1 3 .7 2.9 .7 3 .5 2.9 .2 3 0 3 0 2.9 0 3 .2 2.9 .1 3 .1 3-.1 2.9 .1 3 .3 2.9 .7 3 .9 2.9 .8 3 .6 3 .1 2.9-.4 3-.7 2.9-.6 3-.5 3-.6 2.9-.5 3-.5 2.9-.3 3-.2 3-.3 2.9-.6 3-1 2.9-1.5 3-1.5 2.9-1.3 3-.5 3 0 2.9 .5 3 .6 2.9 .2 3-.7 3-1.9 2.9-3.1 3-3.7 2.9-3.4 3-2.8 3-1.8 2.9-1.1 3 0 2.9 .5 3 .2 2.9-.9 3-2.1 3-2.5 2.9-1.9 3-1.1 2.9-1.1 3-1.8 3-2.5 2.9-2.3 3-1.5 2.9-1 3-1 3-1.6 2.9-2.2 3-2.8 2.9-3.2 3-3.6 2.9-3.2 3-1.9 3-.3 2.9 .5 3 0 2.9-1.6 3-3.4 3-4.6 2.9-5 3-4.6 2.9-3.7 3-2.8 3-2.2 2.9-1.6 3-1.2 2.9-.4 3 .4 2.9 .8 3 .1 3-1.2 2.9-2.5 3-2.9 2.9-2.6 3-2.3 3-2.5 2.9-2.9 3-3.3 2.9-3.2 3-3 2.9-2.7 3-2.4 3-2.1 2.9-2 3-1.7 2.9-1 3-.6 3-.5 2.9-1 3-1.7 2.9-2.4 3-3.2 3-3.7 2.9-3.6 3-3 2.9-2.2 3-1.6 2.9-1.5 3-2.1 3-2.8 2.9-3.6 3-3.6 2.9-3.1 3-2.3 3-1.8 2.9-1.6 3-1.7 2.9-2 3-2.5 3-3.3 2.9-3.8 3-3.9 2.9-3.4 3-2.5 2.9-1.4 3-.7 3-.7 2.9-1.2 3-2 2.9-2.3 3-2.3" stroke="#c80000" stroke-width="6.8"/>
<path d="M195.3 -37.9l3 1.9 2.9 1.3 3 1.8 2.9 2.8 3 3.5 3 3.6 2.9 2.9 3 1.9 2.9 1.4 3 1.4 2.9 2 3 2.5 3 2.7 2.9 2.8 3 2.8 2.9 3.1 3 3.4 3 3.9 2.9 4.3 3 4.6 2.9 4.7 3 4.3 3 3.8 2.9 2.9 3 2.1 2.9 2 3 2.3 2.9 2.6 3 2.8 3 2.8 2.9 2.8 3 2.9 2.9 3.1 3 3.5 3 4 2.9 4.3 3 3.9 2.9 3.3 3 2.5 2.9 2 3 1.5 3 1.2 2.9 1.1 3 1.4 2.9 2.2 3 3.2 3 3.6 2.9 3.4 3 3.1 2.9 3.1 3 3.6 3 3.9 2.9 3.6 3 2.8 2.9 2.3 3 2.5 2.9 3.2 3 3.9 3 4.1 2.9 3.8 3 3.4 2.9 3.2 3 3.3 3 3.5 2.9 3.6 3 3.7 2.9 3.5 3 3.1 3 2.8 2.9 2.1 3 1.6 2.9 1.1 3 1.1 2.9 1.7 3 2.5 3 3.3 2.9 3.9 3 4.1 2.9 3.9 3 3.5 3 2.7 2.9 2.1 3 1.7 2.9 1.7 3 1.8 3 1.9 2.9 1.9 3 2.2 2.9 2.3 3 2.4 2.9 2.1 3 1.5 3 .9 2.9 .6 3 .9 2.9 1.7 3 2.4 3 2.8 2.9 2.7 3 2.3 2.9 1.5 3 .8 3 .6 2.9 .8 3 1.2 2.9 1.4 3 1.3 2.9 1.1 3 .9 3 .8 2.9 .6 3 .3 2.9-.1 3-.3 3-.2 2.9 0 3 .4 2.9 .5 3 .5 2.9 .3 3 0 3-.2 2.9-.5 3-.6 2.9-.6 3-.5 3-.4 2.9-.3 3-.4 2.9-.4 3-.5 3-.5 2.9-.6 3-.6 2.9-.7 3-1.1 2.9-1.5 3-1.7 3-1.5 2.9-.8 3 0 2.9 .5 3 .3 3-.6 2.9-1.7 3-2.1 2.9-2 3-1.9 3-2 2.9-2.4 3-2.4 2.9-2 3-1.4 2.9-1.1 3-1.4 3-1.9 2.9-2.3 3-2.6 2.9-2.6 3-3 3-3.1 2.9-2.8 3-2.3 2.9-1.7 3-1.4 3-1.3 2.9-.9 3-.6 2.9-.4 3-.6 2.9-.9 3-1.7 3-2.4 2.9-3.1 3-3.5 2.9-3.4 3-2.8 3-2.2 2.9-1.7 3-1.5 2.9-1.8 3-2.3 3-2.5 2.9-2.2 3-1.6 2.9-1.5 3-2 2.9-2.8 3-2.9 3-2.3 2.9-1.7 3-1.5 2.9-2 3-2.7 3-3.4 2.9-3.8 3-4.2 2.9-3.9 3-3.1 2.9-2.1 3-1.3 3-1.2 2.9-1.1 3-1.1 2.9-1.4 3-2.1 3-2.9 2.9-3.3 3-3 2.9-2.5 3-2 3-1.8 2.9-2.2 3-2.9 2.9-3.6 3-3.8 2.9-3.2 3-1.8 3-.7 2.9-.5 3-1.5 2.9-2.8 3-3.6 3-3.6 2.9-3 3-2.7 2.9-2.6 3-2.8 3-3 2.9-3.3 3-3.5 2.9-3.7 3-4.1 2.9-4.3 3-4.4 3-3.8 2.9-2.5 3-1.3 2.9-.7 3-1.3" stroke="#f00000" stroke-width="6.8"/>
<path d="M195.3 -48.3l3 3.8 2.9 4.4 3 4.6 2.9 4.6 3 4.1 3 3.6 2.9 3.2 3 3.4 2.9 3.6 3 3.5 2.9 2.5 3 1.5 3 1.1 2.9 1.6 3 2.5 2.9 2.9 3 3 3 2.9 2.9 3.3 3 4.1 2.9 5 3 4.9 3 3.8 2.9 2.4 3 1.8 2.9 2.3 3 3 2.9 3.7 3 4.1 3 4.4 2.9 4.4 3 4.4 2.9 3.9 3 3.5 3 3.3 2.9 3.5 3 4.1 2.9 4.4 3 4.4 2.9 3.8 3 3.2 3 2.4 2.9 1.4 3 1.4 2.9 2.3 3 3.6 3 4.5 2.9 4.5 3 4 2.9 3.5 3 2.6 3 1.9 2.9 1.6 3 2.1 2.9 2.9 3 3.6 2.9 4.1 3 4.4 3 5.3 2.9 5.7 3 5.5 2.9 3.9 3 2.1 3 .9 2.9 .7 3 1.3 2.9 2.3 3 2.9 3 3.3 2.9 3.2 3 3.3 2.9 3.6 3 3.9 2.9 3.5 3 2.5 3 1.9 2.9 2.4 3 3.3 2.9 3.8 3 3.4 3 2.7 2.9 2.2 3 2.3 2.9 2.3 3 2.3 3 2.2 2.9 2 3 2.4 2.9 3 3 3.6 2.9 4 3 4 3 3.5 2.9 3 3 2.4 2.9 1.9 3 1.3 3 .8 2.9 .5 3 .8 2.9 1.2 3 1.6 3 1.6 2.9 1.3 3 1.2 2.9 1.3 3 1.3 2.9 1.1 3 .8 3 .6 2.9 .5 3 .7 2.9 .6 3 .6 3 .5 2.9 .4 3 .7 2.9 .6 3 .5 2.9 .1 3-.3 3-.7 2.9-.5 3-.3 2.9-.1 3 0 3-.3 2.9-.6 3-.8 2.9-.9 3-.7 3-.5 2.9-.6 3-.7 2.9-.9 3-1.2 2.9-1.1 3-1.1 3-1 2.9-1 3-.9 2.9-.9 3-.9 3-1.2 2.9-1.6 3-2.4 2.9-3 3-3.3 3-3 2.9-2.7 3-2.1 2.9-1.9 3-1.8 2.9-2.2 3-2.6 3-2.9 2.9-2.8 3-2.2 2.9-1 3-.1 3-.2 2.9-1.1 3-2.4 2.9-3.5 3-4 3-4.4 2.9-4.1 3-2.9 2.9-1.8 3-1.5 2.9-2.1 3-2.8 3-2.8 2.9-2.3 3-1.7 2.9-1.4 3-1.7 3-2.3 2.9-2.8 3-3.2 2.9-2.8 3-2.4 3-2 2.9-2.5 3-3.4 2.9-4 3-4.1 2.9-3.6 3-3.2 3-2.7 2.9-2 3-.9 2.9-.2 3-.2 3-.8 2.9-1.7 3-2.3 2.9-2.8 3-2.9 2.9-3.3 3-3.5 3-3.7 2.9-3.2 3-2.6 2.9-1.9 3-2 3-2.3 2.9-2.6 3-2.5 2.9-2.6 3-2.9 3-2.9 2.9-2.7 3-2.3 2.9-1.9 3-1.8 2.9-2.1 3-2.4 3-2.5 2.9-2.3 3-2.3 2.9-2.7 3-3.3 3-3.6 2.9-3.1 3-2.4 2.9-2 3-2.3 3-3.2 2.9-3.7 3-3.5 2.9-3.2 3-3 2.9-3.3 3-3.7 3-3.3 2.9-2.4 3-1.3 2.9-1 3-1.8" stroke="#ff0000" stroke-width="6.8"/>
<path d="M195.3 -48.4l3 3.7 2.9 4 3 4.4 2.9 4.4 3 4 3 3.6 2.9 3.3 3 3.2 2.9 3.5 3 3.8 2.9 3.8 3 3.3 3 2.9 2.9 2.8 3 3 2.9 3.3 3 3.3 3 3.6 2.9 3.9 3 4.2 2.9 4 3 3.4 3 2.7 2.9 2.4 3 2.9 2.9 3.3 3 3.4 2.9 2.9 3 2.5 3 2.2 2.9 2.6 3 3.1 2.9 3.9 3 4.3 3 4.3 2.9 3.5 3 2.3 2.9 1.5 3 1.5 2.9 2.2 3 3.6 3 4.9 2.9 5.7 3 5.7 2.9 5 3 4.1 3 3.1 2.9 2.5 3 1.9 2.9 1.6 3 1.5 3 2.1 2.9 3.3 3 4.7 2.9 5.7 3 5.8 2.9 4.9 3 3.6 3 2.5 2.9 2.5 3 3 2.9 3.6 3 3.7 3 3.3 2.9 2.9 3 2.8 2.9 3.1 3 3.7 3 3.9 2.9 3.8 3 3.7 2.9 3.5 3 3.5 2.9 3.5 3 3.6 3 3.6 2.9 3.7 3 3.4 2.9 3 3 2.5 3 2.4 2.9 2.5 3 2.7 2.9 2.9 3 2.7 3 2.7 2.9 2.7 3 3.1 2.9 3.7 3 3.9 2.9 3.3 3 2.3 3 1.4 2.9 1.1 3 1.6 2.9 2.3 3 2.5 3 2.3 2.9 1.9 3 1.7 2.9 1.8 3 1.9 3 2.1 2.9 2.1 3 2 2.9 1.7 3 1.1 2.9 .7 3 .8 3 .9 2.9 1.5 3 1.7 2.9 1.8 3 1.4 3 .9 2.9 .2 3-.3 2.9-.4 3-.2 2.9 .1 3 .3 3 .3 2.9 0 3-.4 2.9-.8 3-1 3-1 2.9-.8 3-.8 2.9-.7 3-.7 3-1 2.9-1.1 3-1.3 2.9-1.2 3-1.2 2.9-1.2 3-1.4 3-1.4 2.9-1.1 3-1 2.9-1.4 3-2.1 3-2.8 2.9-3 3-3.1 2.9-2.9 3-2.8 3-2.2 2.9-1.5 3-.9 2.9-.6 3-1.1 2.9-1.9 3-2.6 3-3.2 2.9-3.5 3-3.6 2.9-3.2 3-2.2 3-1.1 2.9-.9 3-1.4 2.9-2.3 3-2.6 3-2.3 2.9-1.9 3-1.7 2.9-1.7 3-2.1 2.9-2.6 3-3.4 3-4 2.9-4 3-3 2.9-2 3-1.4 3-1.8 2.9-2.9 3-3.7 2.9-3.9 3-3.2 3-2.4 2.9-2 3-2.1 2.9-2.9 3-4 2.9-4.5 3-4.6 3-4.4 2.9-4 3-3.3 2.9-2.3 3-1.4 3-1 2.9-1.2 3-1.9 2.9-2.7 3-3.4 2.9-3.5 3-2.9 3-1.8 2.9-1.1 3-1 2.9-1.6 3-2.4 3-2.8 2.9-2.8 3-2.7 2.9-2.9 3-3.2 3-3.1 2.9-2.5 3-2.1 2.9-2.3 3-3.1 2.9-4 3-4.6 3-4.9 2.9-4.3 3-3.4 2.9-2.4 3-2.3 3-2.7 2.9-3.2 3-3 2.9-2.3 3-1.8 3-1.7 2.9-2 3-2.7 2.9-3.2 3-3.7 2.9-4.2 3-4.4 3-4.2 2.9-3.6 3-3.1 2.9-2.8 3-2.7" stroke="#ff0a00" stroke-width="6.8"/>
<path d="M195.3 -54.1l3 3 2.9 2.6 3 2 2.9 1.9 3 2.7 3 3.9 2.9 4.9 3 5.1 2.9 4.8 3 4.4 2.9 4 3 3.9 3 3.5 2.9 2.9 3 2.4 2.9 2 3 2.2 3 2.8 2.9 3.1 3 3 2.9 2.7 3 2.5 3 2.7 2.9 3.2 3 3.9 2.9 4.2 3 4.3 2.9 3.8 3 3.5 3 3.1 2.9 3 3 3.2 2.9 3.4 3 3.7 3 3.6 2.9 3.3 3 3.4 2.9 4.2 3 5.1 2.9 5.4 3 4.9 3 3.3 2.9 1.9 3 1.2 2.9 1.8 3 2.9 3 3.8 2.9 4 3 3.8 2.9 3.4 3 2.9 3 2.8 2.9 3 3 3.2 2.9 3.4 3 3.6 2.9 3.9 3 4.2 3 4.2 2.9 3.6 3 3 2.9 2.8 3 3 3 3.4 2.9 3.6 3 3.3 2.9 2.8 3 2.4 3 2.2 2.9 2.3 3 2.8 2.9 3.4 3 4.2 2.9 4.5 3 4.4 3 4.3 2.9 4.6 3 4.9 2.9 5.1 3 4.5 3 3.3 2.9 2.2 3 1.6 2.9 1.5 3 1.8 3 2.3 2.9 2.7 3 3.2 2.9 3.9 3 4.2 2.9 4.4 3 4.1 3 3.8 2.9 3.6 3 3.3 2.9 3.3 3 3.2 3 3 2.9 2.7 3 2.4 2.9 2.2 3 2.1 3 1.9 2.9 1.7 3 1.7 2.9 1.9 3 2.3 2.9 2.3 3 1.9 3 1.3 2.9 .9 3 .8 2.9 1 3 1.2 3 .9 2.9 .6 3 .5 2.9 .5 3 .6 2.9 .7 3 .4 3 0 2.9-.5 3-.7 2.9-.7 3-.5 3-.4 2.9-.4 3-.7 2.9-1.1 3-1.5 3-1.6 2.9-1.7 3-1.8 2.9-1.7 3-1.6 2.9-1.7 3-1.6 3-1.7 2.9-1.9 3-2 2.9-1.9 3-1.6 3-1.1 2.9-1 3-1.3 2.9-1.8 3-2.1 3-2 2.9-1.6 3-1.6 2.9-1.9 3-2.5 2.9-3.4 3-3.5 3-3.2 2.9-2.3 3-1.8 2.9-2.1 3-3 3-4 2.9-4.5 3-4 2.9-3.4 3-2.9 3-3.2 2.9-3.4 3-3.6 2.9-3.7 3-3.6 2.9-3.5 3-3.3 3-2.6 2.9-1.6 3-.9 2.9-.9 3-1.5 3-2.5 2.9-3.3 3-3.7 2.9-3.2 3-2.5 3-1.8 2.9-1.5 3-1.5 2.9-1.9 3-2.3 2.9-2.9 3-3.1 3-3.3 2.9-3.3 3-3.4 2.9-3.5 3-3.6 3-3.5 2.9-3.1 3-2.5 2.9-2 3-2 2.9-2.4 3-3 3-3.5 2.9-3.7 3-3.6 2.9-2.9 3-2.6 3-2.8 2.9-3.2 3-3.6 2.9-3.4 3-2.6 3-1.9 2.9-1.5 3-1.2 2.9-1 3-1.2 2.9-2.2 3-3.4 3-4.3 2.9-4.4 3-4.2 2.9-3.6 3-3 3-2.4 2.9-2.3 3-2.7 2.9-3.2 3-3.3 3-3 2.9-2.3 3-1.9 2.9-1.9 3-2 2.9-1.8 3-1.3 3-1.3 2.9-2 3-2.8 2.9-3.2 3-3.1" stroke="#ff5000" stroke-width="6.8"/>
<path d="M195.3 -62.7l3 3.8 2.9 4.4 3 4.7 2.9 4.6 3 4.4 3 4.4 2.9 4.1 3 3.9 2.9 3.5 3 3 2.9 2.8 3 2.8 3 2.9 2.9 2.8 3 2.4 2.9 1.7 3 1.6 3 2.5 2.9 3.8 3 4.7 2.9 4.8 3 4.4 3 4.3 2.9 4.3 3 4.5 2.9 4.3 3 3.9 2.9 2.9 3 2.2 3 2 2.9 2.4 3 3 2.9 3.2 3 2.9 3 3.1 2.9 3.3 3 3.8 2.9 3.8 3 3.7 2.9 3.6 3 3.5 3 3.5 2.9 3.4 3 3 2.9 2.9 3 2.8 3 2.9 2.9 2.7 3 2.4 2.9 2.4 3 2.9 3 3.9 2.9 4.7 3 5.3 2.9 4.9 3 4 2.9 2.7 3 2.1 3 2.3 2.9 2.7 3 3.1 2.9 3.2 3 3.1 3 3.5 2.9 4.3 3 5.3 2.9 5.9 3 6 3 5.3 2.9 4 3 2.6 2.9 1.5 3 .9 2.9 1 3 1.8 3 3.3 2.9 4.6 3 5.5 2.9 5.2 3 4.2 3 3.3 2.9 3.1 3 3.6 2.9 4 3 3.9 3 3.9 2.9 4.2 3 4.8 2.9 4.8 3 4.4 2.9 4.1 3 4.1 3 4.3 2.9 4.6 3 4.8 2.9 5 3 5 3 4.7 2.9 3.9 3 3.4 2.9 3.2 3 3.5 3 3.9 2.9 4 3 3.5 2.9 3.1 3 2.7 2.9 2.6 3 2.5 3 2.4 2.9 2.2 3 2.1 2.9 2 3 1.8 3 1.6 2.9 1.4 3 1.3 2.9 1.1 3 .5 2.9-.3 3-.8 3-1.1 2.9-1.1 3-1.1 2.9-1 3-.7 3-.7 2.9-.9 3-1.4 2.9-2.1 3-2.4 3-2.6 2.9-2.8 3-3.1 2.9-3.2 3-3.2 2.9-3.1 3-3.1 3-3.3 2.9-3.4 3-3.3 2.9-2.9 3-2.7 3-2.7 2.9-2.9 3-3.4 2.9-3.9 3-4.2 3-3.7 2.9-2.7 3-1.9 2.9-1.7 3-2 2.9-2.8 3-3.8 3-4.6 2.9-5.2 3-4.9 2.9-4.1 3-3.2 3-2.3 2.9-1.8 3-1.8 2.9-2.3 3-2.6 3-2.7 2.9-2.6 3-2.8 2.9-3 3-3 2.9-2.6 3-1.7 3-1.2 2.9-1.2 3-1.8 2.9-2.7 3-3.6 3-4.1 2.9-4.3 3-3.9 2.9-3.5 3-3.2 3-2.9 2.9-2.6 3-1.8 2.9-1.1 3-.7 2.9-1.4 3-2.7 3-3.8 2.9-4.4 3-4.3 2.9-3.6 3-2.9 3-2.4 2.9-2.1 3-1.8 2.9-1.7 3-2 2.9-2.4 3-2.4 3-1.7 2.9-1.1 3-1.5 2.9-2.9 3-4.3 3-5.1 2.9-4.9 3-4.1 2.9-3.1 3-2.2 3-2 2.9-2 3-2.2 2.9-2.4 3-2.9 2.9-3.4 3-3.5 3-2.9 2.9-2.1 3-1.5 2.9-1.3 3-1.6 3-2.1 2.9-2.5 3-3 2.9-3.3 3-3.6 3-3.7 2.9-4.3 3-5.1 2.9-5.4 3-4.9 2.9-3.7 3-2.6 3-2 2.9-1.9 3-2 2.9-2.3 3-2.6" stroke="#ffa500" stroke-width="6.8"/>
<path d="M195.3 -72.9l3 3.6 2.9 3.3 3 2.8 2.9 2.6 3 2.7 3 3.2 2.9 3.6 3 3.7 2.9 3.7 3 3.5 2.9 3.4 3 3.5 3 3.9 2.9 4.5 3 4.8 2.9 4.4 3 3.9 3 3.7 2.9 3.5 3 3 2.9 2.4 3 2.4 3 2.9 2.9 3.6 3 3.7 2.9 3.4 3 3.3 2.9 3.8 3 5 3 5.9 2.9 6.1 3 5 2.9 3.4 3 2.6 3 2.7 2.9 3.4 3 3.7 2.9 3.7 3 3.4 2.9 3.1 3 3 3 2.7 2.9 2.7 3 3.1 2.9 3.8 3 4.4 3 4.7 2.9 4.6 3 4 2.9 3.4 3 3 3 2.7 2.9 2.5 3 2.5 2.9 3 3 3.4 2.9 3.7 3 4 3 4.3 2.9 5 3 5.2 2.9 4.8 3 3.8 3 2.7 2.9 1.9 3 2.2 2.9 3 3 4.1 3 4.7 2.9 4.4 3 3.8 2.9 3.1 3 3 2.9 3.4 3 3.7 3 3.9 2.9 4 3 4.1 2.9 4.6 3 4.9 3 4.9 2.9 4.8 3 4.6 2.9 4.9 3 5.5 3 5.5 2.9 5.2 3 5 2.9 5 3 5.5 2.9 5.7 3 5.7 3 5.3 2.9 5.2 3 5.2 2.9 5.3 3 5.4 3 5.3 2.9 5.3 3 5.4 2.9 5.7 3 5.8 3 5.7 2.9 5.6 3 5.2 2.9 4.7 3 4.2 2.9 3.9 3 3.7 3 3.5 2.9 3.4 3 3.1 2.9 2.7 3 2.2 3 2 2.9 1.6 3 1.4 2.9 .9 3 .5 2.9 .1 3 0 3-.2 2.9-.8 3-1.7 2.9-2.6 3-3 3-2.9 2.9-2.6 3-2.5 2.9-3 3-3.8 3-4.5 2.9-4.9 3-4.9 2.9-4.7 3-4.5 2.9-4.3 3-4.3 3-4.4 2.9-4.4 3-4.4 2.9-4.6 3-4.8 3-5 2.9-4.8 3-4.5 2.9-4.1 3-4 3-4.1 2.9-4.1 3-3.7 2.9-3 3-2.5 2.9-2.9 3-3.7 3-4.4 2.9-4.6 3-4.1 2.9-3.3 3-2.3 3-1.5 2.9-1.2 3-1.7 2.9-2.6 3-3.6 3-4.2 2.9-3.9 3-3.1 2.9-2.2 3-1.6 2.9-1.7 3-2.6 3-3.6 2.9-4.3 3-4.5 2.9-4.2 3-3.6 3-3.1 2.9-2.7 3-2.6 2.9-2.6 3-2.4 3-1.9 2.9-1.5 3-1.5 2.9-2.1 3-2.7 2.9-2.9 3-2.5 3-1.7 2.9-.9 3-.7 2.9-1.3 3-2.5 3-3.7 2.9-4.2 3-4 2.9-3.3 3-2.9 2.9-2.8 3-2.8 3-2.8 2.9-2.8 3-2.9 2.9-3.1 3-3.5 3-3.6 2.9-3.5 3-3.3 2.9-3 3-2.8 3-2.8 2.9-3 3-3.3 2.9-3.2 3-2.7 2.9-2.3 3-2.3 3-2.7 2.9-3.1 3-3.3 2.9-3.2 3-3.1 3-3.1 2.9-3 3-2.9 2.9-2.9 3-3 3-3 2.9-2.9 3-2.6 2.9-2.5 3-2.4 2.9-2.8 3-3.3 3-3.9 2.9-4.3 3-4.4 2.9-4.1 3-3.6" stroke="#ffff00" stroke-width="6.8"/>
<path d="M195.3 -71.7l3 2.7 2.9 2.2 3 2.3 2.9 2.6 3 3 3 3 2.9 3.3 3 3.4 2.9 3.3 3 3.2 2.9 3.3 3 4.1 3 4.9 2.9 5.7 3 6 2.9 5.9 3 5.6 3 4.6 2.9 3.5 3 2.4 2.9 2 3 1.9 3 2.3 2.9 2.8 3 3.3 2.9 3.6 3 3.6 2.9 3.3 3 3.2 3 3.2 2.9 3.4 3 3.6 2.9 3.7 3 3.6 3 3.9 2.9 4.4 3 5 2.9 5 3 4.1 2.9 2.7 3 2 3 2.2 2.9 3 3 3.9 2.9 4.3 3 4.5 3 4.7 2.9 4.4 3 3.9 2.9 2.8 3 2 3 1.7 2.9 2.2 3 2.9 2.9 3.7 3 4.4 2.9 4.6 3 4.7 3 4.5 2.9 4.6 3 4.6 2.9 4.6 3 4.3 3 4 2.9 3.7 3 3.7 2.9 3.7 3 3.2 3 3.1 2.9 3.3 3 4 2.9 4.7 3 4.7 2.9 4 3 3.2 3 3.1 2.9 3.4 3 4 2.9 4.5 3 4.9 3 4.7 2.9 4.1 3 3.8 2.9 4.1 3 4.9 3 5.8 2.9 6 3 5.5 2.9 4.7 3 4.2 2.9 4.3 3 4.8 3 5.4 2.9 6 3 6.3 2.9 6.3 3 5.7 3 5.2 2.9 5.2 3 6 2.9 6.8 3 7.1 3 7.1 2.9 6.6 3 6.3 2.9 6.2 3 5.9 2.9 5.5 3 5.2 3 4.9 2.9 4.6 3 4.3 2.9 4 3 3.5 3 2.7 2.9 2.1 3 1.7 2.9 1.3 3 1.2 2.9 .7 3-.2 3-1.1 2.9-1.8 3-2.1 2.9-2.3 3-2.5 3-3.1 2.9-3.6 3-4.3 2.9-4.8 3-5.4 3-5.7 2.9-6 3-5.9 2.9-5.8 3-5.5 2.9-5.5 3-5.3 3-5.1 2.9-5 3-4.9 2.9-5.2 3-5.3 3-5.3 2.9-5.1 3-4.7 2.9-4.3 3-4 3-4 2.9-3.8 3-3.8 2.9-3.9 3-3.9 2.9-3.6 3-3.5 3-3.7 2.9-4.3 3-4.6 2.9-4.3 3-3.1 3-1.8 2.9-1.3 3-1.8 2.9-2.5 3-2.8 3-2.4 2.9-1.8 3-1.2 2.9-1.6 3-2.5 2.9-3.5 3-4 3-3.6 2.9-2.7 3-2 2.9-1.7 3-2.2 3-2.9 2.9-3.3 3-3.6 2.9-3.4 3-3.1 3-2.6 2.9-2.1 3-1.5 2.9-1.3 3-1.3 2.9-1.6 3-1.9 3-2.3 2.9-2.8 3-3.5 2.9-4 3-3.9 3-3.6 2.9-3.1 3-3 2.9-3 3-3.3 2.9-3.5 3-3.3 3-3 2.9-2.6 3-2.5 2.9-2.6 3-2.9 3-3.3 2.9-3.5 3-3.1 2.9-2.4 3-2 3-2.4 2.9-3.2 3-3.6 2.9-3.4 3-3 2.9-3.3 3-4 3-4.2 2.9-3.9 3-3.2 2.9-2.5 3-2 3-1.9 2.9-2.5 3-3.5 2.9-4.3 3-4.5 3-4.2 2.9-3.8 3-3.6 2.9-3.4 3-3.1 2.9-2.7 3-2.1 3-1.7 2.9-1.7 3-2.2 2.9-2.9 3-3.2" stroke="#66ff00" stroke-width="6.8"/>
<path d="M195.3 -74.7l3 3.7 2.9 3.9 3 4 2.9 4.1 3 3.9 3 3.8 2.9 3.8 3 3.6 2.9 3.2 3 2.8 2.9 2.7 3 2.7 3 3 2.9 3.2 3 3.2 2.9 3.2 3 3.3 3 3.7 2.9 4.3 3 4.9 2.9 5.1 3 4.9 3 4.4 2.9 3.9 3 3.3 2.9 2.7 3 2.4 2.9 2.6 3 3.3 3 4.2 2.9 4.8 3 4.7 2.9 3.9 3 3.1 3 2.5 2.9 2.7 3 3.2 2.9 3.6 3 3.7 2.9 3.6 3 3.3 3 3.1 2.9 3.2 3 3.2 2.9 3.4 3 3.5 3 3.8 2.9 4 3 3.9 2.9 3.8 3 4.2 3 4.9 2.9 5.4 3 5.5 2.9 4.9 3 3.9 2.9 2.9 3 2.1 3 1.7 2.9 1.8 3 2.4 2.9 3.2 3 4.1 3 5.2 2.9 5.8 3 5.7 2.9 4.7 3 3.7 3 2.9 2.9 2.8 3 3 2.9 3.2 3 3.1 2.9 3.1 3 3.2 3 3.5 2.9 3.7 3 4.1 2.9 4.6 3 5.2 3 5.6 2.9 5.6 3 5.4 2.9 5 3 4.7 3 4.6 2.9 4.5 3 4.7 2.9 5 3 4.9 2.9 4.7 3 4.7 3 4.8 2.9 5.6 3 6.5 2.9 7 3 7.2 3 6.9 2.9 6.3 3 5.9 2.9 6.1 3 6.5 3 6.9 2.9 6.9 3 6.7 2.9 6.4 3 6 2.9 5.6 3 5 3 4.9 2.9 4.8 3 4.7 2.9 4.2 3 3.5 3 2.8 2.9 2.4 3 2 2.9 1.7 3 1.3 2.9 .6 3-.2 3-1 2.9-1.9 3-2.8 2.9-3.4 3-3.9 3-3.8 2.9-3.8 3-4 2.9-4.6 3-5.1 3-5.3 2.9-5.6 3-5.8 2.9-6.3 3-6.5 2.9-6.4 3-5.8 3-5.3 2.9-4.9 3-4.7 2.9-4.6 3-4.6 3-4.7 2.9-5 3-5.4 2.9-5.3 3-4.9 3-4.3 2.9-3.9 3-4.1 2.9-4.5 3-4.5 2.9-4 3-3 3-1.9 2.9-1.5 3-1.8 2.9-2.5 3-3.5 3-4.1 2.9-4.3 3-4.1 2.9-3.6 3-3 3-2.7 2.9-2.5 3-2.2 2.9-1.8 3-1.3 2.9-1.2 3-1.6 3-2.5 2.9-3.4 3-3.6 2.9-3.3 3-2.8 3-2.7 2.9-2.7 3-2.7 2.9-2.4 3-2.2 3-2.1 2.9-2.1 3-2.3 2.9-2.7 3-2.8 2.9-2.8 3-2.6 3-2.1 2.9-2 3-2 2.9-2.6 3-3.6 3-4.6 2.9-4.6 3-3.9 2.9-3.3 3-2.9 2.9-3 3-2.8 3-2.4 2.9-2 3-2.2 2.9-2.6 3-3 3-2.8 2.9-2.5 3-2.2 2.9-2.3 3-2.9 3-3.6 2.9-4.1 3-4.2 2.9-3.8 3-3.3 2.9-2.9 3-2.7 3-2.8 2.9-2.9 3-2.8 2.9-2.4 3-2.2 3-2 2.9-2.1 3-2.1 2.9-2.4 3-2.9 3-3.5 2.9-4 3-4.6 2.9-5 3-4.8 2.9-4.2 3-3.2 3-2.7 2.9-2.5 3-2.7 2.9-3 3-3.2" stroke="#00ff22" stroke-width="6.8"/>
<path d="M195.3 -72.5l3 3.9 2.9 4.3 3 4.2 2.9 3.8 3 3.2 3 2.6 2.9 2.6 3 3.2 2.9 4.1 3 4.8 2.9 5.2 3 4.8 3 4.1 2.9 3.1 3 2.8 2.9 3.1 3 3.9 3 4.2 2.9 4.1 3 3.7 2.9 3.6 3 3.6 3 3.5 2.9 3.5 3 3.9 2.9 4.3 3 4.7 2.9 4.4 3 3.7 3 2.9 2.9 2.6 3 2.8 2.9 3.2 3 3.3 3 3.3 2.9 3.5 3 3.6 2.9 3.9 3 4.3 2.9 4.8 3 5 3 4.7 2.9 3.9 3 2.7 2.9 1.9 3 1.6 3 2.3 2.9 3.1 3 3.6 2.9 3.8 3 3.6 3 3.6 2.9 3.7 3 4 2.9 4.5 3 4.9 2.9 5 3 4.8 3 4.3 2.9 3.8 3 3.3 2.9 2.7 3 2 3 1.6 2.9 1.7 3 2.6 2.9 4 3 5.1 3 5.2 2.9 4.4 3 3.2 2.9 2.5 3 2.8 2.9 3.6 3 4.4 3 4.8 2.9 4.9 3 4.6 2.9 4.7 3 5 3 5.1 2.9 5.1 3 4.6 2.9 4.2 3 4.2 3 4.4 2.9 4.8 3 5.1 2.9 5.3 3 5.3 2.9 5 3 4.8 3 4.8 2.9 5.2 3 5.4 2.9 5.6 3 5.7 3 6.2 2.9 6.5 3 6.9 2.9 6.9 3 6.9 3 6.9 2.9 6.7 3 6.7 2.9 6.5 3 6.3 2.9 6.1 3 6.1 3 5.5 2.9 4.8 3 4.1 2.9 3.5 3 3.2 3 3 2.9 2.7 3 2.3 2.9 1.8 3 1.2 2.9 .7 3 .2 3-.4 2.9-1.5 3-2.6 2.9-3.4 3-3.8 3-4.1 2.9-4.3 3-4.8 2.9-5.1 3-5.4 3-5.3 2.9-5.4 3-5.6 2.9-5.7 3-5.9 2.9-5.9 3-5.9 3-5.8 2.9-5.8 3-5.7 2.9-5.7 3-5.5 3-5.3 2.9-4.8 3-4.6 2.9-4.5 3-4.8 3-4.8 2.9-4.6 3-4.3 2.9-4.1 3-3.9 2.9-3.7 3-3.4 3-3.1 2.9-2.6 3-2.2 2.9-2.1 3-2.6 3-2.9 2.9-3 3-2.5 2.9-2.5 3-2.7 3-3.2 2.9-3.2 3-3 2.9-2.4 3-2.2 2.9-2.1 3-2.3 3-2.7 2.9-3.1 3-3.4 2.9-3 3-2.3 3-1.4 2.9-1 3-1.2 2.9-1.9 3-2.8 3-3.5 2.9-3.6 3-3.7 2.9-3.5 3-3.7 2.9-3.7 3-3.5 3-2.9 2.9-2.3 3-2 2.9-2.2 3-2.4 3-2.7 2.9-2.7 3-2.9 2.9-3.1 3-3 2.9-2.8 3-2.3 3-2.2 2.9-2.7 3-3.1 2.9-3.3 3-3.1 3-2.6 2.9-2.5 3-2.6 2.9-2.7 3-2.8 3-3.2 2.9-3.7 3-4.2 2.9-4.5 3-4.5 2.9-4 3-3.3 3-2.9 2.9-2.5 3-2.2 2.9-1.8 3-1.5 3-1.4 2.9-2.1 3-2.8 2.9-3.4 3-3.1 3-2.8 2.9-2.7 3-3.2 2.9-3.9 3-4.6 2.9-4.7 3-4.4 3-3.8 2.9-3.3 3-3.1 2.9-3.2 3-3.2" stroke="#00e5ff" stroke-width="6.8"/>
<path d="M195.3 -70.1l3 4.4 2.9 5 3 4.7 2.9 4 3 3 3 2.3 2.9 2.1 3 2.1 2.9 2.8 3 3.6 2.9 4.3 3 4.6 3 4.3 2.9 3.9 3 3.3 2.9 3 3 2.8 3 3 2.9 3.6 3 4.3 2.9 4.4 3 4 3 3.3 2.9 2.9 3 3.4 2.9 4.1 3 4.8 2.9 5 3 4.9 3 4.4 2.9 4 3 3.7 2.9 3.5 3 3.2 3 3.1 2.9 3 3 3 2.9 2.9 3 2.9 2.9 3.2 3 3.7 3 3.9 2.9 3.8 3 3.5 2.9 3.3 3 3.3 3 3.7 2.9 4.2 3 4.4 2.9 4.4 3 4 3 3.7 2.9 3.4 3 3.3 2.9 3.3 3 3.3 2.9 3.1 3 2.9 3 2.9 2.9 3.2 3 3.4 2.9 3.6 3 3.6 3 3.7 2.9 3.5 3 3.4 2.9 3.6 3 4.1 3 4.6 2.9 5.1 3 5.1 2.9 4.5 3 4 2.9 3.8 3 3.7 3 3.8 2.9 3.9 3 4 2.9 4.2 3 4.7 3 5 2.9 4.6 3 4.2 2.9 3.7 3 3.6 3 3.9 2.9 4.9 3 5.6 2.9 5.7 3 5.3 2.9 4.6 3 4.6 3 4.9 2.9 5.5 3 5.9 2.9 6.4 3 6.6 3 6.9 2.9 6.8 3 6.7 2.9 6.6 3 6.6 3 6.6 2.9 6.8 3 6.8 2.9 6.8 3 6.6 2.9 6.2 3 5.8 3 5.6 2.9 5.1 3 4.6 2.9 3.7 3 3.2 3 3 2.9 2.9 3 2.9 2.9 2.5 3 1.8 2.9 .9 3-.1 3-1.3 2.9-2.5 3-3.3 2.9-3.8 3-4 3-4 2.9-4.2 3-4.3 2.9-4.6 3-5.1 3-5.4 2.9-5.8 3-5.8 2.9-6.1 3-6.4 2.9-6.9 3-7 3-6.7 2.9-6.1 3-5.6 2.9-5.2 3-4.9 3-4.8 2.9-4.5 3-4.4 2.9-4.3 3-4.3 3-4.6 2.9-4.5 3-4.4 2.9-4.2 3-3.9 2.9-3.5 3-3 3-2.5 2.9-2.3 3-2.8 2.9-3.4 3-3.4 3-3 2.9-3 3-3.1 2.9-3.4 3-3.2 3-2.5 2.9-1.6 3-1.2 2.9-1.7 3-2.6 2.9-3.6 3-4 3-3.6 2.9-2.8 3-2.4 2.9-2.4 3-2.8 3-2.7 2.9-2.2 3-1.8 2.9-1.8 3-2.3 3-2.7 2.9-2.7 3-2.3 2.9-2 3-1.9 2.9-2.3 3-3.1 3-3.8 2.9-4.1 3-4.1 2.9-3.5 3-3 3-2.6 2.9-2.5 3-2.7 2.9-2.6 3-2.6 2.9-2.8 3-2.9 3-3 2.9-2.9 3-2.7 2.9-2.5 3-2.3 3-2.2 2.9-2.2 3-2.9 2.9-4 3-5 3-4.9 2.9-4.2 3-3.2 2.9-2.9 3-2.7 2.9-2.5 3-2.2 3-2 2.9-2.4 3-3.1 2.9-3.9 3-4.2 3-4.1 2.9-3.7 3-3 2.9-2.3 3-1.9 3-2.1 2.9-2.5 3-2.8 2.9-2.9 3-3 2.9-3.2 3-3.3 3-3.3 2.9-3.4 3-3.4 2.9-3.5 3-3.4" stroke="#0070ff" stroke-width="6.8"/>
<path d="M195.3 -62.5l3 3.5 2.9 3.2 3 3.1 2.9 2.9 3 3.1 3 3.3 2.9 3.7 3 3.9 2.9 3.8 3 3.7 2.9 3.6 3 3.6 3 3.4 2.9 3.4 3 3.7 2.9 3.9 3 4 3 3.9 2.9 3.5 3 3.3 2.9 3 3 3.1 3 3.2 2.9 3.6 3 3.8 2.9 3.9 3 3.7 2.9 3.2 3 3.3 3 3.6 2.9 4.2 3 4.5 2.9 4.6 3 4.1 3 3.6 2.9 3.3 3 3.1 2.9 3.3 3 3.4 2.9 3.4 3 3.5 3 3.3 2.9 3.3 3 3.2 2.9 3.2 3 3.5 3 4 2.9 4.6 3 4.7 2.9 4.5 3 4.1 3 3.9 2.9 3.9 3 3.7 2.9 3.3 3 2.9 2.9 2.9 3 3.1 3 3.7 2.9 4 3 4.3 2.9 4.3 3 3.9 3 3.5 2.9 3.1 3 3 2.9 3.2 3 3.4 3 3.5 2.9 3.8 3 4 2.9 4.5 3 4.6 2.9 4.7 3 4.2 3 3.6 2.9 3.5 3 3.7 2.9 4.3 3 4.7 3 4.4 2.9 3.9 3 3.2 2.9 2.9 3 3.4 3 3.8 2.9 4.6 3 5.2 2.9 5.8 3 5.8 2.9 5.8 3 5.5 3 5.6 2.9 5.8 3 6.2 2.9 6.3 3 6.3 3 6.5 2.9 6.5 3 6.4 2.9 6.5 3 6.5 3 6.6 2.9 6.8 3 7 2.9 6.8 3 6.7 2.9 6.3 3 6.1 3 5.7 2.9 5.3 3 4.9 2.9 4.5 3 4.2 3 3.5 2.9 2.7 3 1.9 2.9 1.1 3 .5 2.9 0 3-.5 3-1.1 2.9-1.9 3-2.6 2.9-3 3-3.4 3-3.7 2.9-4.2 3-4.7 2.9-5.1 3-5.4 3-5.9 2.9-6.3 3-6.8 2.9-7 3-6.9 2.9-6.4 3-5.9 3-5.6 2.9-5.4 3-5.5 2.9-5.6 3-5.4 3-4.9 2.9-4.3 3-3.9 2.9-4 3-4.1 3-4.5 2.9-4.5 3-4.4 2.9-4.2 3-3.6 2.9-3.2 3-3.2 3-3.5 2.9-3.9 3-3.6 2.9-3 3-2 3-1.7 2.9-2 3-2.6 2.9-3 3-3.1 3-2.9 2.9-2.7 3-2.5 2.9-2.2 3-1.9 2.9-2.1 3-2.6 3-3.3 2.9-3.9 3-4.1 2.9-3.8 3-3.5 3-2.9 2.9-2.3 3-1.8 2.9-1.6 3-2.1 3-2.5 2.9-2.9 3-3 2.9-3.1 3-3.2 2.9-3.2 3-2.9 3-2.3 2.9-1.9 3-2.1 2.9-2.5 3-2.8 3-2.7 2.9-2.8 3-3.1 2.9-3.6 3-3.9 2.9-3.9 3-3.6 3-3.1 2.9-2.8 3-2.7 2.9-2.6 3-2.8 3-2.9 2.9-3.2 3-3.5 2.9-3.6 3-3.2 3-2.4 2.9-1.7 3-1.2 2.9-1.3 3-1.9 2.9-2.8 3-3.6 3-3.9 2.9-4 3-4.2 2.9-4.4 3-4.6 3-4.3 2.9-3.8 3-3.1 2.9-2.8 3-2.8 3-3.2 2.9-3.6 3-3.7 2.9-3.6 3-3.4 2.9-3.1 3-3 3-3.2 2.9-3.2 3-3.4 2.9-3.4 3-3.4" stroke="#2800ff" stroke-width="6.8"/>
<path d="M195.3 -56.7l3 3.7 2.9 3.7 3 3.5 2.9 3 3 2.6 3 2.4 2.9 2.5 3 3.1 2.9 3.8 3 4.2 2.9 4.2 3 3.9 3 3.7 2.9 3.7 3 4 2.9 3.8 3 3.4 3 3 2.9 2.9 3 3.2 2.9 3.9 3 4.3 3 4.4 2.9 4.2 3 3.7 2.9 3.4 3 3.5 2.9 3.8 3 4 3 3.8 2.9 3.4 3 3.3 2.9 3.3 3 3.6 3 3.9 2.9 3.8 3 3.9 2.9 3.9 3 3.8 2.9 3.6 3 3.3 3 3.5 2.9 3.9 3 4 2.9 3.6 3 3 3 2.4 2.9 2.3 3 2.6 2.9 3.2 3 3.9 3 4.6 2.9 4.6 3 4.5 2.9 4.1 3 3.8 2.9 3.6 3 3.2 3 2.8 2.9 2.4 3 2.5 2.9 2.8 3 3.3 3 3.7 2.9 3.9 3 4 2.9 3.8 3 3.9 3 4 2.9 4.2 3 4.4 2.9 4.7 3 4.8 2.9 4.7 3 4.6 3 4.2 2.9 4 3 3.7 2.9 3.8 3 4.2 3 4.9 2.9 5.1 3 4.9 2.9 4.3 3 4 3 3.9 2.9 4.2 3 4.6 2.9 4.8 3 5.1 2.9 5.4 3 5.6 3 5.7 2.9 5.5 3 5.6 2.9 5.7 3 5.8 3 5.9 2.9 6 3 6.2 2.9 6.6 3 7 3 7 2.9 6.9 3 6.8 2.9 6.8 3 6.8 2.9 6.7 3 6.5 3 6 2.9 5.2 3 4.5 2.9 3.8 3 3.3 3 2.9 2.9 2.4 3 1.9 2.9 1.3 3 .7 2.9 0 3-.5 3-1 2.9-1.6 3-2.2 2.9-2.8 3-3.5 3-4.1 2.9-4.5 3-4.7 2.9-4.8 3-5 3-5.5 2.9-5.9 3-6.3 2.9-6.6 3-6.6 2.9-6.4 3-6.2 3-5.8 2.9-5.5 3-5.2 2.9-5 3-4.9 3-4.9 2.9-5 3-5 2.9-4.9 3-4.9 3-5 2.9-5.1 3-5 2.9-4.4 3-3.9 2.9-3.2 3-2.7 3-2.5 2.9-2.7 3-3.2 2.9-3.4 3-3.3 3-3.1 2.9-3 3-3 2.9-3.4 3-3.4 3-3.1 2.9-2.6 3-2.2 2.9-2.2 3-2.4 2.9-2.4 3-2.5 3-2.5 2.9-2.4 3-2.3 2.9-2.2 3-2.3 3-2.3 2.9-2.5 3-2.8 2.9-3.2 3-3.6 3-3.6 2.9-3 3-2.5 2.9-2.2 3-2.5 2.9-3.3 3-3.7 3-3.9 2.9-3.6 3-2.9 2.9-2 3-1.7 3-2 2.9-2.6 3-3 2.9-2.8 3-2.3 2.9-1.8 3-2 3-2.5 2.9-3.3 3-3.7 2.9-3.6 3-3.1 3-2.8 2.9-2.8 3-3 2.9-3.4 3-3.6 3-3.8 2.9-4 3-4.1 2.9-4 3-3.7 2.9-3 3-2.6 3-2.2 2.9-2.2 3-2.5 2.9-3.1 3-3.5 3-3.4 2.9-3 3-2.6 2.9-2.7 3-3 3-3.3 2.9-3.7 3-3.8 2.9-4.1 3-4.2 2.9-4.1 3-3.8 3-3.6 2.9-3.3 3-3.2 2.9-3.2 3-3.3" stroke="#8000dd" stroke-width="6.8"/>
<path d="M195.3 -50.9l3 3.2 2.9 3 3 3 2.9 3.1 3 2.9 3 2.8 2.9 2.7 3 2.9 2.9 3.5 3 4.3 2.9 4.9 3 4.9 3 4.4 2.9 3.7 3 3.3 2.9 3 3 3 3 3.2 2.9 3.6 3 3.6 2.9 3.6 3 3.6 3 3.5 2.9 3.3 3 3.2 2.9 3.4 3 3.8 2.9 4.4 3 4.6 3 4.5 2.9 4.2 3 3.9 2.9 3.5 3 3.1 3 2.9 2.9 3 3 3.7 2.9 4.3 3 4.8 2.9 4.6 3 4 3 3.2 2.9 2.9 3 3.1 2.9 3.6 3 3.9 3 4 2.9 3.8 3 3.6 2.9 3.2 3 2.9 3 2.7 2.9 3.1 3 3.5 2.9 3.9 3 4 2.9 3.6 3 3.2 3 3 2.9 3.1 3 3.4 2.9 3.8 3 4.1 3 4.2 2.9 4 3 3.6 2.9 3.4 3 3.3 3 3.6 2.9 3.9 3 4.2 2.9 4.4 3 4.2 2.9 3.9 3 3.9 3 3.9 2.9 4.3 3 4.5 2.9 4.4 3 4 3 3.8 2.9 3.7 3 4.2 2.9 4.6 3 4.9 3 5 2.9 4.8 3 4.6 2.9 4.5 3 4.6 2.9 4.7 3 5 3 5.4 2.9 6 3 6.6 2.9 6.8 3 6.8 3 6.3 2.9 5.9 3 5.9 2.9 6.1 3 6.3 3 6.7 2.9 6.9 3 7.1 2.9 7.1 3 6.8 2.9 6.5 3 6 3 5.6 2.9 5.3 3 4.7 2.9 4.3 3 3.8 3 3.4 2.9 2.9 3 2.1 2.9 1.3 3 .7 2.9 .2 3-.1 3-.7 2.9-1.4 3-2.4 2.9-3.3 3-4.1 3-4.6 2.9-5.1 3-5.3 2.9-5.6 3-5.6 3-5.8 2.9-6.3 3-6.5 2.9-6.6 3-6.5 2.9-6.1 3-5.7 3-5.5 2.9-5.6 3-5.9 2.9-5.8 3-5.6 3-4.9 2.9-4.4 3-4.1 2.9-4.4 3-4.8 3-5.2 2.9-5.3 3-5.1 2.9-4.5 3-3.9 2.9-3.5 3-3.5 3-3.6 2.9-3.7 3-3.6 2.9-3.4 3-3.2 3-2.8 2.9-2.2 3-2 2.9-2.1 3-2.7 3-3.2 2.9-2.9 3-2.4 2.9-2.1 3-2.4 2.9-2.8 3-3.2 3-3.2 2.9-2.9 3-2.6 2.9-2.5 3-2.6 3-3 2.9-3.3 3-3.4 2.9-3 3-2.5 3-1.9 2.9-1.6 3-1.9 2.9-2.3 3-2.8 2.9-3.2 3-3.5 3-3.3 2.9-3.3 3-3.4 2.9-3.5 3-3.1 3-2.4 2.9-1.8 3-1.5 2.9-1.8 3-2.4 2.9-3.2 3-3.6 3-3.7 2.9-3.7 3-3.7 2.9-3.5 3-3.2 3-3 2.9-2.8 3-2.8 2.9-3 3-2.9 3-2.7 2.9-2.6 3-2.6 2.9-2.8 3-3.1 2.9-3.4 3-3.7 3-3.8 2.9-3.6 3-3.4 2.9-3.4 3-3.6 3-3.8 2.9-3.6 3-3.2 2.9-2.6 3-2.5 3-2.9 2.9-3.7 3-4.3 2.9-4.7 3-4.4 2.9-3.9 3-3.7 3-3.7 2.9-4.2 3-4.3 2.9-4.2 3-3.8" stroke="#660066" stroke-width="8.0"/>
</g>
<g clip-path="url(#cpB)" fill="none" stroke-linejoin="round" stroke-linecap="round">
<path d="M195.3 969.7l3 1 2.9 2.7 3 3.7 2.9 3.7 3 2.9 3 2.1 2.9 1.8 3 1.6 2.9 1 3 .1 2.9-.6 3-1.2 3-1.2 2.9-.7 3-.4 2.9-.8 3-1.5 3-2 2.9-1.9 3-1.1 2.9 .6 3 2.7 3 3.8 2.9 2.7 3-.4 2.9-3.7 3-5.2 2.9-4.4 3-2 3 .4 2.9 1.9 3 2.4 2.9 2.5 3 1.7 3 .3 2.9-1.5 3-2.5 2.9-2.2 3-1.4 2.9-.7 3-.1 3 .3 2.9 .5 3 1 2.9 2.2 3 3.3 3 3 2.9 1.3 3-.3 2.9-.2 3 1.9 3 4 2.9 4.3 3 2.6 2.9-.2 3-2.9 2.9-4.7 3-5.4 3-5.3 2.9-4.2 3-2.1 2.9 .4 3 2 3 2.1 2.9 .6 3-1.4 2.9-2.9 3-3 3-1.7 2.9-.5 3-.3 2.9-.7 3-.4 2.9 .9 3 2.1 3 1.9 2.9 .3 3-1.3 2.9-1.3 3-.1 3 1.4 2.9 1.4 3 0 2.9-1.4 3-1.9 3-1.6 2.9-1.2 3-1.3 2.9-2 3-3.2 2.9-4.4 3-4.7 3-3.6 2.9-2.1 3-1.2 2.9-1.5 3-2 3-2.2 2.9-2.2 3-1.9 2.9-1.4 3-.7 3-.4 2.9-.7 3-.9 2.9-.6 3 .3 2.9 .8 3 .5 3-.6 2.9-2 3-3 2.9-3.6 3-3.3 3-2.6 2.9-1.8 3-1.2 2.9-1.2 3-1.1 2.9-.8 3-.6 3-.5 2.9-.8 3-.9 2.9-.6 3-.1 3 .1 2.9 .1 3-.4 2.9-1.1 3-1.4 3-1.5 2.9-1 3-.7 2.9-.4 3-.3 2.9-.1 3 0 3-.3 2.9-.9 3-1.3 2.9-1.2 3-.4 3 .7 2.9 2 3 2.4 2.9 1.6 3-.2 3-2.3 2.9-3.2 3-3.1 2.9-2.5 3-2.4 2.9-2.3 3-1.6 3-.1 2.9 1.4 3 2.3 2.9 1.9 3 .2 3-1.8 2.9-3.4 3-3.5 2.9-2.4 3-1 3-.1 2.9-.2 3-1 2.9-1.8 3-2.5 2.9-2.6 3-2.1 3-1.4 2.9-.6 3 0 2.9 .5 3 .4 3-.6 2.9-2 3-2.8 2.9-2 3-.2 3 .8 2.9-.2 3-2.3 2.9-4 3-4.3 2.9-3.5 3-1.7 3 0 2.9 1.3 3 1.7 2.9 2.1 3 2.6 3 2.7 2.9 2 3 .3 2.9-1.1 3-2.1 2.9-2.9 3-3.3 3-2.9 2.9-1.5 3 .4 2.9 1.9 3 2.7 3 2.8 2.9 2.4 3 1.2 2.9 .1 3-.5 3-.6 2.9-.9 3-1 2.9-1 3-.6 2.9-.6 3-1.1 3-2 2.9-2.5 3-2.3 2.9-1.3 3 .2 3 1.7 2.9 2.3 3 1.3 2.9-.4 3-1.8 3-2.7 2.9-2.9 3-2.7 2.9-1.6 3 1.4 2.9 4.2 3 4.6 3 3.5 2.9 2.4 3 2.8 2.9 3.6 3 3.4" stroke="#640000" stroke-width="6.8"/>
<path d="M195.3 993.4l3 .9 2.9 1.5 3 1.2 2.9 0 3-1.7 3-2.7 2.9-1.9 3 .3 2.9 2 3 2 2.9 .8 3-.1 3 .4 2.9 2.1 3 3.2 2.9 2.8 3 .8 3-1.5 2.9-2.8 3-2.6 2.9-.9 3 1.3 3 2.6 2.9 2.3 3 .2 2.9-3 3-6.4 2.9-8 3-7 3-3.6 2.9-.5 3 1.3 2.9 1.4 3 1.1 3 .9 2.9 .7 3 1.4 2.9 2.9 3 4.3 2.9 5 3 4.1 3 2 2.9-1 3-3.3 2.9-4.2 3-3.4 3-1.8 2.9-.4 3 .7 2.9 1.2 3 .9 3-.2 2.9-1.8 3-2.9 2.9-2.6 3-1.3 2.9 .3 3 1.8 3 2.6 2.9 3.1 3 3.5 2.9 2.9 3 1.7 3 0 2.9-.7 3-.4 2.9-.4 3-1.2 3-2.5 2.9-2.5 3-1.2 2.9 .3 3 .7 2.9-.3 3-1.8 3-2.6 2.9-1.8 3-.3 2.9 1.1 3 1.3 3 .4 2.9-.8 3-1.7 2.9-2.1 3-3 3-4.2 2.9-5 3-4.7 2.9-3.9 3-3.4 2.9-2.9 3-2.2 3-1.2 2.9-.1 3 .9 2.9 1.4 3 1 3-.5 2.9-2.6 3-4.3 2.9-4.6 3-3.6 3-1.4 2.9 .5 3 .9 2.9-.4 3-2 2.9-2.6 3-2.3 3-1.5 2.9-1.3 3-1.5 2.9-2.1 3-2.5 3-2.5 2.9-2.2 3-1.9 2.9-2.1 3-2 2.9-1.5 3-.7 3-.1 2.9 .1 3-.1 2.9-.2 3-.3 3-.6 2.9-1.5 3-2.7 2.9-3.9 3-3.8 3-2.4 2.9-.3 3 .7 2.9 .3 3-1.3 2.9-2.7 3-3 3-2.3 2.9-1.3 3-.5 2.9-.5 3-.7 3-.8 2.9-.5 3 0 2.9 .4 3 0 3-.1 2.9 .2 3 .4 2.9 .3 3-.8 2.9-2 3-2.5 3-2.1 2.9-1.4 3-1.2 2.9-1.4 3-1.8 3-2.1 2.9-3 3-4 2.9-3.9 3-2.9 3-1.7 2.9-1.4 3-1.9 2.9-1.8 3-.5 2.9 1.4 3 3.3 3 4.3 2.9 3.6 3 1.4 2.9-1 3-2.3 3-1.9 2.9-.8 3-.1 2.9-.5 3-1.9 3-3.1 2.9-2.8 3-1.3 2.9 0 3 0 2.9-1 3-1.8 3-1.2 2.9 .2 3 1.6 2.9 2.4 3 2.6 3 2 2.9 1.1 3 .7 2.9 1 3 1.2 2.9 .8 3-.6 3-2 2.9-3.1 3-3.5 2.9-3.3 3-2.8 3-2.2 2.9-1.7 3-.6 2.9 .9 3 2.7 3 3.5 2.9 2.6 3 .3 2.9-2.7 3-5.2 2.9-5.5 3-3 3 .9 2.9 3.8 3 4.4 2.9 3.2 3 1.1 3-1.2 2.9-3 3-3.9 2.9-3.5 3-2.5 3-1.2 2.9 .4 3 1.9 2.9 2.9 3 4 2.9 4.7 3 4.5 3 3.1 2.9 1.1 3-.8 2.9-1.1 3 0" stroke="#960000" stroke-width="6.8"/>
<path d="M195.3 1011.4l3-.2 2.9-.1 3-.2 2.9-.6 3-1.6 3-1.7 2.9-.3 3 1.6 2.9 2.1 3 .3 2.9-3 3-5.3 3-5 2.9-2.5 3 .3 2.9 2.5 3 3.7 3 4 2.9 3.2 3 1.7 2.9 .4 3 0 3 .6 2.9 1.5 3 2.1 2.9 1.6 3-.8 2.9-4 3-5.8 3-4.6 2.9-1.9 3-.2 2.9-.5 3-1.3 3-1 2.9 .9 3 2.8 2.9 3.6 3 2.6 2.9 .6 3-1.1 3-1.8 2.9-1.7 3-1.9 2.9-2.8 3-3.5 3-2.7 2.9-.2 3 2.7 2.9 3.8 3 2.2 3-1.2 2.9-3.8 3-4.4 2.9-3.3 3-1.6 2.9 0 3 1.4 3 2 2.9 1.7 3 1.2 2.9 .6 3 .1 3-.7 2.9-1.2 3-.8 2.9 .5 3 1.5 3 1 2.9-.3 3-1.2 2.9-.8 3 .2 2.9 .4 3-1 3-3.4 2.9-5 3-4.4 2.9-1.9 3 .6 3 1.7 2.9 .9 3-.4 2.9-1 3-.5 3 .3 2.9 .5 3 .3 2.9-.4 3-1.4 2.9-1.9 3-1.9 3-1.5 2.9-1.4 3-2.5 2.9-4.2 3-4.8 3-3.6 2.9-1.4 3-.2 2.9-.5 3-1.7 3-2.6 2.9-2.9 3-3.2 2.9-3.3 3-3.2 2.9-2.7 3-2.5 3-2.3 2.9-1.9 3-1.4 2.9-.6 3-.4 3-.7 2.9-1.4 3-2.1 2.9-2.7 3-2.8 2.9-2.4 3-1.8 3-1.1 2.9-1.2 3-1.9 2.9-2.7 3-3.2 3-3.2 2.9-2.8 3-2.4 2.9-1.9 3-1 3-.4 2.9-.2 3-.6 2.9-.9 3-1.1 2.9-1.3 3-2 3-2.8 2.9-2.9 3-2 2.9-.8 3 .1 3-.1 2.9-.9 3-2.1 2.9-2.9 3-3.1 3-2.5 2.9-1.5 3-.4 2.9 .5 3 1 2.9 1.2 3 .8 3-.4 2.9-1.8 3-2.3 2.9-1.4 3 0 3 .2 2.9-1.3 3-3 2.9-3.5 3-2.7 3-1.2 2.9 .3 3 1.5 2.9 1.7 3 .6 2.9-1.3 3-2.7 3-2.7 2.9-1.4 3 .8 2.9 2.1 3 1.9 3 .6 2.9-.9 3-1.4 2.9-1 3-.3 3 0 2.9-.1 3-.7 2.9-.9 3-.6 2.9 .2 3 .6 3 .6 2.9 1 3 2 2.9 2.2 3 .6 3-1.9 2.9-3.9 3-4.3 2.9-3.2 3-1.4 2.9 0 3 .9 3 1.6 2.9 1.8 3 1.4 2.9 .4 3-.9 3-1.9 2.9-2.3 3-2.3 2.9-2.3 3-2.6 3-2.4 2.9-1.7 3-.6 2.9 .8 3 2 2.9 2.8 3 2.6 3 1.1 2.9-.8 3-1.7 2.9-.5 3 1.3 3 2.4 2.9 2 3 .8 2.9-.1 3-.5 3-.7 2.9-1.1 3-2 2.9-3.1 3-2.9 2.9-1 3 1.2 3 2.2 2.9 1.9 3 .6 2.9 0 3 .2" stroke="#c80000" stroke-width="6.8"/>
<path d="M195.3 1015.7l3-1.2 2.9-1.7 3-.5 2.9 1.6 3 3.1 3 3.1 2.9 1.7 3 .3 2.9-.8 3-1.4 2.9-1.6 3-2 3-1.8 2.9-1.2 3-.3 2.9 .5 3 1.1 3 1.7 2.9 2 3 1.4 2.9-.5 3-2.2 3-2.6 2.9-2 3-1.3 2.9-1.2 3-1.7 2.9-2.4 3-2.5 3-1.2 2.9 1 3 2.8 2.9 3.4 3 3 3 2.1 2.9 1.2 3 .3 2.9-.8 3-1.8 2.9-2.5 3-2.3 3-1.6 2.9-.2 3 1.6 2.9 3.3 3 4 3 3.1 2.9 1 3-1.3 2.9-1.8 3-.5 3 1.3 2.9 1.8 3-.2 2.9-2.8 3-4.1 2.9-2.8 3-.5 3 .9 2.9 .7 3-.6 2.9-2.3 3-3.2 3-2.4 2.9-.5 3 1.8 2.9 2.7 3 2.3 3 1.3 2.9 .6 3 .3 2.9 .4 3 .2 2.9-.2 3-.8 3-1.2 2.9-1.5 3-2.4 2.9-3.5 3-4.5 3-4.7 2.9-4.2 3-2.9 2.9-1.1 3 .8 3 1.8 2.9 1.5 3-.1 2.9-1.5 3-2.6 2.9-3.4 3-4 3-4 2.9-3.1 3-1.2 2.9 .6 3 1.2 3 .5 2.9-1.1 3-2.5 2.9-3.1 3-3.4 3-3.2 2.9-2.8 3-2 2.9-1.2 3-1.1 2.9-2.1 3-3.6 3-4.9 2.9-5 3-4.2 2.9-2.8 3-1.8 3-1.6 2.9-2 3-2.5 2.9-2.9 3-3 2.9-2.5 3-2.2 3-2 2.9-1.9 3-2.1 2.9-2.5 3-2.8 3-3 2.9-2.7 3-2.1 2.9-1.3 3-1 3-.9 2.9-1.6 3-2.5 2.9-3 3-2.7 2.9-2 3-1.8 3-2.4 2.9-3.5 3-4 2.9-3.7 3-2.8 3-1.5 2.9 .1 3 1.3 2.9 1.6 3 .3 3-1.1 2.9-1.9 3-1.7 2.9-1.1 3-.7 2.9-.3 3-.2 3-.4 2.9-.7 3-.7 2.9-.6 3-.9 3-1.5 2.9-1.9 3-1.7 2.9-1.2 3-.6 3-.9 2.9-1.5 3-1.7 2.9-.9 3 .2 2.9 .9 3 .4 3-.1 2.9-.1 3 .5 2.9 1.3 3 1.1 3-.2 2.9-1.4 3-1.3 2.9-.2 3 .5 3 .1 2.9-1.1 3-1.4 2.9-.4 3 .5 2.9 .4 3-.5 3-1.3 2.9-1.6 3-1.4 2.9-1 3-.7 3-.2 2.9 1.1 3 1.9 2.9 1.7 3 .2 2.9-2 3-3.7 3-3.9 2.9-2.3 3 .6 2.9 3.3 3 4.7 3 4.6 2.9 3.8 3 2.4 2.9 .5 3-1.2 3-1.7 2.9-.8 3 .2 2.9 .1 3-1.2 2.9-2.9 3-3.5 3-2.9 2.9-1.4 3-.3 2.9 .1 3 0 3 .9 2.9 2 3 1.7 2.9-.8 3-4.4 3-6.5 2.9-5.9 3-3.5 2.9-1.7 3-.7 2.9-.4 3-.2 3 .7 2.9 2 3 3.1 2.9 3.4 3 2" stroke="#f00000" stroke-width="6.8"/>
<path d="M195.3 1000l3 .7 2.9 1.9 3 3.2 2.9 3.7 3 2.8 3 1.2 2.9 .4 3 .8 2.9 2.3 3 3.3 2.9 3.2 3 2.4 3 1.2 2.9 .3 3-.3 2.9-.1 3 .5 3 .6 2.9-.4 3-2.2 2.9-3.6 3-4.1 3-4.1 2.9-3.6 3-2.4 2.9-1.1 3 .1 2.9 1 3 1.6 3 1.9 2.9 1.5 3 1 2.9 .7 3 1.2 3 1.6 2.9 1.3 3 .1 2.9-1.2 3-1.8 2.9-.9 3 .5 3 1.9 2.9 2.4 3 2.1 2.9 1.7 3 1.6 3 1.3 2.9 .7 3-.2 2.9-1.1 3-1.8 3-2.4 2.9-2.5 3-2 2.9-.8 3 .2 2.9 .3 3-.2 3-.6 2.9 0 3 .6 2.9 1 3 1.1 3 1.3 2.9 1.1 3-.2 2.9-2.4 3-4 3-4.2 2.9-3 3-1.1 2.9 .4 3 1.4 2.9 1.8 3 1.7 3 .7 2.9-1.1 3-3.2 2.9-4.6 3-4.5 3-3.4 2.9-2.5 3-2 2.9-1.6 3-.8 3 .1 2.9 .5 3 .1 2.9-.5 3-1.4 2.9-2.8 3-3.7 3-3.8 2.9-3 3-1.7 2.9-1 3-.6 3-.3 2.9-.1 3-.7 2.9-2.1 3-3.8 3-4.7 2.9-4.7 3-4.1 2.9-3.7 3-3.4 2.9-3.2 3-2.9 3-1.9 2.9-1 3-.6 2.9-1.1 3-1.8 3-2.6 2.9-3.6 3-4.2 2.9-4.4 3-4 2.9-3.2 3-2.4 3-2 2.9-1.9 3-2.4 2.9-3 3-3.2 3-3.1 2.9-2.6 3-1.8 2.9-1 3-.5 3-.9 2.9-1.8 3-3 2.9-3.5 3-3.2 2.9-2.2 3-1.3 3-.9 2.9-1.2 3-2.1 2.9-3.1 3-3.6 3-3.5 2.9-3 3-2.7 2.9-2.5 3-2.3 3-2.1 2.9-2.2 3-2.3 2.9-2.2 3-1.3 2.9 .7 3 3.2 3 4.5 2.9 3.9 3 1.7 2.9-.3 3-1.4 3-1.5 2.9-1.4 3-1.9 2.9-2.6 3-2.8 3-2.3 2.9-.9 3 .7 2.9 1.4 3 1.1 2.9 .3 3 0 3 .5 2.9 1.3 3 1.2 2.9 .2 3-1 3-2.1 2.9-2.8 3-3.4 2.9-3.9 3-4 3-3.6 2.9-2.3 3-.2 2.9 2.1 3 3.7 2.9 4.1 3 3 3 1.7 2.9 .9 3 .7 2.9 0 3-1 3-2.1 2.9-2.7 3-2.8 2.9-2.7 3-1.8 2.9-.6 3 .5 3 1.2 2.9 1.1 3 .8 2.9 .3 3-.2 3 .1 2.9 .7 3 1 2.9 .4 3-.5 3-.9 2.9-1.1 3-2 2.9-2.6 3-2.1 2.9 .1 3 2.2 3 3.1 2.9 2.3 3 1.1 2.9 .3 3 .3 3-.1 2.9-.9 3-1.3 2.9-.6 3 .1 3 .1 2.9-.5 3-.9 2.9-.4 3 .4 2.9 .9 3 .4 3-1.4 2.9-3.5 3-4.8 2.9-4.3 3-2.3" stroke="#ff0000" stroke-width="6.8"/>
<path d="M195.3 1009.4l3 1.1 2.9 1.6 3 .8 2.9 .1 3 .2 3 .9 2.9 1.5 3 1.1 2.9 0 3-.9 2.9-.9 3-.1 3 .6 2.9 1.1 3 1.6 2.9 2.2 3 2.1 3 .7 2.9-1.1 3-2 2.9-1.8 3-.9 3 .3 2.9 1.7 3 2.8 2.9 2.6 3 .7 2.9-1.4 3-2.2 3-.8 2.9 1.5 3 2.4 2.9 1 3-1.7 3-4.5 2.9-5.8 3-5 2.9-2.3 3 1.3 2.9 3.6 3 3 3 .8 2.9-1.2 3-1.7 2.9-.7 3 .3 3 1.1 2.9 1.8 3 2.5 2.9 2.7 3 2.8 3 2.6 2.9 1.5 3-.4 2.9-2.8 3-4.1 2.9-3.1 3-.5 3 1.9 2.9 2.7 3 1.9 2.9 .8 3 .2 3 .1 2.9 .5 3 1.5 2.9 2.6 3 2.9 3 1.5 2.9-1.4 3-3.9 2.9-4 3-2.3 2.9-.8 3-.5 3-1.4 2.9-1.7 3-1.1 2.9-.3 3-.9 3-2.6 2.9-4.3 3-4.3 2.9-2.5 3 .2 3 1.8 2.9 1.9 3 .3 2.9-1.8 3-2.9 2.9-2.7 3-1.7 3-.8 2.9-.5 3-.7 2.9-1.1 3-1.8 3-2.4 2.9-3.2 3-3.7 2.9-4.1 3-4.4 3-4.1 2.9-3.2 3-2.1 2.9-1.6 3-2 2.9-3 3-3.8 3-4.1 2.9-4.1 3-4 2.9-4.4 3-4.6 3-4.5 2.9-4.3 3-4.2 2.9-4.1 3-4.2 2.9-3.8 3-3.1 3-2.4 2.9-2 3-2.2 2.9-2.5 3-2.7 3-2.6 2.9-2.4 3-2.5 2.9-2.3 3-2.2 3-2.1 2.9-2.4 3-2.6 2.9-2.7 3-2.6 2.9-2.6 3-2.3 3-1.9 2.9-1.9 3-2.3 2.9-2.5 3-2.4 3-1.3 2.9-.3 3-.2 2.9-1.2 3-2.7 3-3.7 2.9-3.3 3-2.3 2.9-.7 3 .5 2.9 .7 3-.4 3-2.4 2.9-4 3-4.6 2.9-3.8 3-2.1 3 .4 2.9 2.9 3 4.7 2.9 4.6 3 2.3 3-.7 2.9-3.1 3-4.7 2.9-4.7 3-3.7 2.9-2.3 3-1.3 3-.6 2.9 0 3 .7 2.9 .5 3-.4 3-.8 2.9 .2 3 1.8 2.9 2.6 3 1.6 3 0 2.9-1.3 3-1.8 2.9-1.5 3-1.1 2.9-.7 3-.3 3 .2 2.9 1.3 3 2.2 2.9 2.9 3 2.5 3 1.2 2.9-.2 3-.9 2.9-.9 3-.7 2.9-.7 3-.4 3 .8 2.9 2.5 3 3.3 2.9 2.3 3 0 3-1.9 2.9-1.9 3-1 2.9-.8 3-2.1 3-3 2.9-2.4 3-.4 2.9 1.5 3 2.5 2.9 2.6 3 1.7 3 .5 2.9-.2 3 .5 2.9 1.9 3 2.9 3 2.5 2.9 .3 3-3 2.9-5.8 3-6.8 3-5.1 2.9-1.5 3 2.1 2.9 3.3 3 1.6 2.9-1.4 3-3.1 3-2.9 2.9-1.5 3-.4 2.9-.2 3-.2" stroke="#ff0a00" stroke-width="6.8"/>
<path d="M195.3 1022.9l3 .1 2.9 .5 3 .9 2.9 .6 3-.1 3-.7 2.9-.2 3 1.3 2.9 2.5 3 1.7 2.9-.7 3-3.5 3-5 2.9-4.7 3-2.6 2.9-.2 3 1.2 3 1.5 2.9 1 3 .1 2.9-.6 3-.5 3 .5 2.9 1.3 3 1.4 2.9 .5 3-.8 2.9-1.7 3-1.4 3-.4 2.9 .4 3 .7 2.9 0 3-.2 3 1.1 2.9 3.6 3 5.7 2.9 5.4 3 3.1 2.9 .6 3-1 3-1.2 2.9-.9 3-.8 2.9-1.2 3-1.9 3-2.5 2.9-2.6 3-2.2 2.9-1.3 3-.3 3 0 2.9-.4 3-1.3 2.9-1.7 3-1.5 2.9-.9 3-.4 3-.2 2.9 .3 3 .9 2.9 1.5 3 1.7 3 1.1 2.9 .1 3-1.1 2.9-1.5 3-.9 3 1.1 2.9 3.5 3 5.1 2.9 5.1 3 3.7 2.9 2.3 3 .8 3-.4 2.9-1 3-.7 2.9 .3 3 1.1 3 .8 2.9-.4 3-2 2.9-3.1 3-3.3 3-3.2 2.9-2.6 3-2.2 2.9-1.6 3-1.5 2.9-1.3 3-1.4 3-1.3 2.9-.9 3-.7 2.9-1.5 3-3.2 3-4.8 2.9-5.3 3-4.8 2.9-3.9 3-3.1 3-2.6 2.9-2.4 3-2.5 2.9-2.9 3-3.2 2.9-3.4 3-3.1 3-3.1 2.9-3.6 3-4.2 2.9-5.2 3-5.5 3-5.4 2.9-5.2 3-5.3 2.9-5.5 3-5.4 2.9-5 3-4.8 3-4.6 2.9-4.6 3-4.3 2.9-4 3-3.6 3-3.2 2.9-3 3-2.7 2.9-2.3 3-1.6 3-.9 2.9-.9 3-1.6 2.9-2.6 3-3.5 2.9-3.8 3-3.6 3-2.8 2.9-1.6 3-.2 2.9 .4 3-.6 3-3.1 2.9-6 3-7 2.9-5.5 3-3 3-.7 2.9 .3 3 .2 2.9 0 3 0 2.9 .3 3 0 3-.6 2.9-1.3 3-1.6 2.9-1.4 3-.9 3-.4 2.9-.2 3 .1 2.9 .4 3 .6 3-.2 2.9-1.5 3-2.4 2.9-2.1 3-.9 2.9-.1 3-.3 3-1.1 2.9-1.4 3-.7 2.9 .4 3 1.3 3 2 2.9 2.6 3 3 2.9 2.6 3 .9 3-.8 2.9-1.7 3-1.3 2.9-.3 3 .2 2.9 .3 3 .4 3 .5 2.9 .6 3 .7 2.9 1.1 3 1.6 3 1.5 2.9 .4 3-1.9 2.9-3.9 3-4.9 2.9-4.3 3-2.8 3-.8 2.9 1.3 3 3 2.9 4 3 4.4 3 3.7 2.9 1.8 3-1.1 2.9-3.4 3-3.9 3-3 2.9-1.8 3-1.3 2.9-1 3-.3 2.9 .9 3 1.6 3 1.3 2.9 .3 3-.5 2.9-.5 3 .3 3 .8 2.9 .9 3 .3 2.9-.9 3-2.1 3-2.2 2.9-1.9 3-1.3 2.9-.5 3 1.1 2.9 2.7 3 3.5 3 2.5 2.9 .7 3-1.3 2.9-2.2 3-1.6" stroke="#ff5000" stroke-width="6.8"/>
<path d="M195.3 1023l3-.9 2.9-1.3 3-1.1 2.9-.6 3-.6 3-.7 2.9-.7 3-1.2 2.9-2 3-2.2 2.9-1.7 3-.5 3 .8 2.9 1.6 3 1.9 2.9 1.4 3 .6 3 .3 2.9 .5 3 1.2 2.9 2.1 3 2.4 3 1.9 2.9 .7 3-.6 2.9-1.5 3-1.7 2.9-1.1 3-.1 3 .1 2.9-.6 3-1.2 2.9-.3 3 1.9 3 3.7 2.9 3.7 3 2 2.9 .1 3-.9 2.9-.6 3 .5 3 1.3 2.9 1 3 0 2.9-.7 3-1 3-1.5 2.9-2.3 3-2.8 2.9-2.3 3-.6 3 1.3 2.9 2.4 3 2.1 2.9 1.4 3 1.2 2.9 1.7 3 2.2 3 2.1 2.9 .9 3-1 2.9-2.3 3-2.2 3-.8 2.9 1 3 2 2.9 1.7 3 1 3-.1 2.9-.8 3-1.1 2.9-1.1 3-1 2.9-.8 3-.6 3-.2 2.9 .5 3 1.7 2.9 3.1 3 4.2 3 4.5 2.9 4.1 3 3.7 2.9 3.2 3 2.8 3 2.7 2.9 2.9 3 3.1 2.9 2.7 3 1.2 2.9-.8 3-2 3-2.7 2.9-3.2 3-3.9 2.9-4.7 3-5 3-4.9 2.9-4.6 3-3.9 2.9-3.3 3-2.9 3-2.6 2.9-2.6 3-3.1 2.9-3.8 3-4.4 2.9-4.6 3-4.7 3-5.3 2.9-6.3 3-7.2 2.9-7.6 3-7.9 3-8.5 2.9-9.2 3-9.9 2.9-10.2 3-10 2.9-9.3 3-8.9 3-8.7 2.9-8.5 3-7.9 2.9-7.1 3-6.7 3-7 2.9-7.4 3-7.2 2.9-6.4 3-5.1 3-3.9 2.9-3.1 3-2.7 2.9-2 3-1.4 2.9-1.1 3-1.2 3-1.7 2.9-2.7 3-4 2.9-4.9 3-4.3 3-2.4 2.9 0 3 2.1 2.9 3.2 3 3 3 2.3 2.9 1.5 3 1.6 2.9 2.1 3 2.5 2.9 2 3 .5 3-1 2.9-1.6 3-1.4 2.9-1.1 3-.6 3 .1 2.9 1.1 3 1.8 2.9 1.9 3 2.2 3 2.7 2.9 3.6 3 4.1 2.9 3.7 3 2.2 2.9 0 3-1.6 3-2.6 2.9-3.1 3-3.6 2.9-3.5 3-2.4 3-.2 2.9 2 3 2.9 2.9 2.1 3 .2 3-1.2 2.9-1.5 3-.3 2.9 1.7 3 3.1 2.9 3.7 3 2.9 3 .9 2.9-1.6 3-3 2.9-2.6 3-1.3 3-.5 2.9-1 3-1.5 2.9-.6 3 .7 2.9 1.5 3 1.3 3 .2 2.9-.5 3-.6 2.9 0 3 .4 3 .2 2.9-1.1 3-2.5 2.9-3.2 3-2.7 3-1.4 2.9-.2 3 .4 2.9 .6 3 .4 2.9 .1 3-.1 3 .5 2.9 1.5 3 2 2.9 1.7 3 .5 3-.9 2.9-1.9 3-2.1 2.9-1.1 3 .3 3 1 2.9 .6 3 0 2.9 .4 3 1.3 2.9 1.8 3 .8 3-1.5 2.9-3.9 3-5.1 2.9-4.5 3-2.3" stroke="#ffa500" stroke-width="6.8"/>
<path d="M195.3 1017l3 .6 2.9 2.1 3 3.9 2.9 5.1 3 4.7 3 2.6 2.9 0 3-1.8 2.9-2.1 3-1.2 2.9 0 3 .2 3-.8 2.9-2.2 3-2.5 2.9-1.2 3 .6 3 1.2 2.9 .3 3-1.1 2.9-1.8 3-1.1 3 .7 2.9 2.3 3 2.5 2.9 1.2 3-.4 2.9-1.3 3-1.2 3-.7 2.9-.4 3-.1 2.9 .7 3 1.9 3 2.7 2.9 2.7 3 1.7 2.9 .4 3-1 2.9-1.7 3-1.5 3-.7 2.9 .2 3 .6 2.9 .2 3-.5 3-.5 2.9 .3 3 1.2 2.9 1.2 3 .5 3 .1 2.9 .1 3 .3 2.9 .2 3-.2 2.9-1 3-1.7 3-2.1 2.9-1.9 3-.9 2.9 .7 3 2.3 3 3.5 2.9 4 3 4 2.9 3.2 3 2 3 1 2.9 .6 3 .8 2.9 1.1 3 .5 2.9-.3 3-.9 3-.4 2.9 .7 3 2 2.9 3.1 3 3.5 3 2.8 2.9 1.1 3-.8 2.9-1.2 3 .1 3 2.3 2.9 4.7 3 6 2.9 5.7 3 4.3 2.9 2.8 3 2.1 3 1.9 2.9 2 3 2.3 2.9 2.4 3 2.1 3 1.7 2.9 1.5 3 1.4 2.9 .6 3-2.7 3-6.1 2.9-8.6 3-10.2 2.9-10.7 3-10.3 2.9-9.4 3-10.1 3-11.7 2.9-13 3-13.1 2.9-12.3 3-11.1 3-10 2.9-9.6 3-9.9 2.9-10.7 3-11.6 2.9-12.3 3-13.2 3-14.2 2.9-15 3-15.2 2.9-14.6 3-12.8 3-10.8 2.9-9 3-7.9 2.9-8 3-7.5 3-6.2 2.9-4.7 3-4.5 2.9-5.1 3-5.3 2.9-4.9 3-3.8 3-2.1 2.9 0 3 1.8 2.9 3.2 3 4.1 3 4.6 2.9 4.6 3 3.7 2.9 2.9 3 2.4 3 2.1 2.9 1.6 3 1.5 2.9 2.1 3 3.7 2.9 5.9 3 7.3 3 6.9 2.9 5.5 3 4 2.9 2.7 3 2.1 3 1.8 2.9 1.7 3 1.7 2.9 1.7 3 1.3 3 .5 2.9-.2 3-1.2 2.9-2.4 3-3.3 2.9-3.5 3-2.4 3-.4 2.9 1.4 3 2.3 2.9 1.8 3 .4 3-.7 2.9-1.1 3-.7 2.9 .2 3 1.4 3 2.1 2.9 1.6 3-.1 2.9-1.6 3-1.3 2.9 .3 3 1.5 3 1.2 2.9-.2 3-1.5 2.9-2.8 3-3.8 3-4.2 2.9-3.1 3-1 2.9 .4 3 .6 2.9 .1 3-.4 3-.4 2.9-.3 3 .2 2.9 1.2 3 2.1 3 2.5 2.9 1.7 3 .4 2.9-.8 3-1.4 3-1.1 2.9-.3 3 .4 2.9 .2 3-.2 2.9-.1 3 .3 3 .5 2.9 .3 3 .2 2.9 .7 3 .6 3 0 2.9-1.6 3-3 2.9-4 3-3.9 3-3 2.9-1.1 3 .9 2.9 2.1 3 2 2.9 .6 3-.9 3-1.2 2.9-.3 3 .8 2.9 1.3 3 .6" stroke="#ffff00" stroke-width="6.8"/>
<path d="M195.3 1032.6l3 1.5 2.9 2.2 3 2 2.9 1.3 3 .8 3-.2 2.9-1.8 3-3.5 2.9-4.9 3-5.6 2.9-4.7 3-2.6 3 0 2.9 2 3 3.2 2.9 4.2 3 4.6 3 3.5 2.9 1.1 3-1.6 2.9-2.5 3-1.7 3 .2 2.9 1.8 3 2.6 2.9 2.4 3 1.2 2.9 0 3-.4 3-.3 2.9-.5 3-1.4 2.9-2 3-1.6 3-.5 2.9-.1 3-1.1 2.9-2.4 3-2.7 2.9-1.2 3 1.3 3 3.3 2.9 3.8 3 3.5 2.9 2.3 3 .8 3-.8 2.9-1.4 3-.9 2.9-.4 3-.6 3-1.3 2.9-1.4 3-.5 2.9 .6 3 1.3 2.9 1 3 .4 3 .1 2.9 .1 3 .4 2.9 .6 3 .8 3 1.2 2.9 1.4 3 .9 2.9 .2 3-.4 3 .4 2.9 1.6 3 2.6 2.9 2.3 3 .9 2.9-1 3-1.8 3-.6 2.9 1.8 3 3.5 2.9 3.7 3 2.7 3 2.2 2.9 2.7 3 3.3 2.9 2.6 3 1 3-.5 2.9-.4 3 1.1 2.9 3.6 3 5.3 2.9 5.7 3 4.8 3 3.5 2.9 2.8 3 3.2 2.9 4.3 3 5.9 3 7.7 2.9 8 3 6.5 2.9 4.1 3 1.1 3-1.2 2.9-3.4 3-5.8 2.9-7.5 3-8.2 2.9-8.1 3-10.1 3-12.6 2.9-14.4 3-15.9 2.9-16.7 3-17.3 3-17.4 2.9-16.9 3-16.4 2.9-16.3 3-16.6 2.9-17 3-18.4 3-19.7 2.9-20.1 3-19.5 2.9-18 3-16.6 3-16.2 2.9-14.5 3-11.8 2.9-8.6 3-6.6 3-6 2.9-5 3-3.5 2.9-1.9 3-.1 2.9 1.4 3 2.1 3 2.1 2.9 1.7 3 1.3 2.9 1.9 3 2.8 3 3.7 2.9 4.5 3 5.2 2.9 5.8 3 6 3 6.3 2.9 6.3 3 6.2 2.9 5.4 3 4.3 2.9 3.8 3 4.2 3 5.1 2.9 5.5 3 5.9 2.9 5.6 3 4.4 3 2.3 2.9-.2 3-1.9 2.9-2.2 3-1.4 3-.2 2.9 .8 3 1.5 2.9 1.8 3 1.7 2.9 .9 3 .1 3-.4 2.9-.1 3 .7 2.9 1.2 3 1 3-.5 2.9-2.2 3-3 2.9-2.4 3-1 3 0 2.9-.2 3-.9 2.9-1 3-.2 2.9 1.1 3 1.9 3 1.1 2.9-.9 3-3 2.9-4 3-3.4 3-1.2 2.9 .8 3 1.8 2.9 1.3 3 .1 2.9-1.1 3-2 3-2.4 2.9-2.1 3-.9 2.9 .1 3 .6 3 .5 2.9 .7 3 1 2.9 1.2 3 1 3 .5 2.9 0 3-1 2.9-2.3 3-3.1 2.9-2.6 3-.7 3 2.1 2.9 4.2 3 4.2 2.9 2.5 3-.2 3-2.3 2.9-2.7 3-1.4 2.9 .2 3 .7 3-.2 2.9-1.2 3-1.7 2.9-1.9 3-1.6 2.9-.9 3 .9 3 2.2 2.9 1.8 3-.3 2.9-2.1 3-1.7" stroke="#66ff00" stroke-width="6.8"/>
<path d="M195.3 1026.7l3 .4 2.9 .7 3 1.7 2.9 3 3 3.6 3 2.9 2.9 1.5 3 .1 2.9-1.3 3-2.4 2.9-3 3-2.8 3-1.7 2.9-.1 3 1.5 2.9 2.9 3 3.1 3 2 2.9-.2 3-1.9 2.9-2.3 3-1.7 3-1.2 2.9-1.3 3-1.9 2.9-2.3 3-1.9 2.9-.4 3 1.5 3 2.4 2.9 2.2 3 .8 2.9-.9 3-1.4 3-.6 2.9 1.4 3 2.5 2.9 1.8 3 .3 2.9-1 3-1.4 3-1.3 2.9-.9 3-.8 2.9-.6 3 0 3 .6 2.9 .8 3 .2 2.9-1 3-2 3-1.8 2.9-.2 3 1.5 2.9 2.6 3 2.5 2.9 1.6 3 .5 3-.5 2.9-.7 3 .1 2.9 1.1 3 1.9 3 2.1 2.9 2.3 3 2.6 2.9 3.2 3 3.7 3 3 2.9 1.1 3-.8 2.9-1.8 3-1.7 2.9-1.5 3-1.4 3-.9 2.9 .3 3 1.4 2.9 2 3 2.2 3 2.2 2.9 2.1 3 2 2.9 2.2 3 2.4 3 2.8 2.9 3 3 2.8 2.9 2.4 3 1.4 2.9 1.5 3 2.9 3 5.4 2.9 7.6 3 8.5 2.9 7.8 3 6.6 3 6.2 2.9 5.6 3 4.4 2.9 2.7 3 .3 3-1.2 2.9-2.3 3-3.8 2.9-5.1 3-6 2.9-6.5 3-9.8 3-13.5 2.9-16 3-16.9 2.9-16.7 3-16.9 3-17.3 2.9-17.6 3-17.7 2.9-17.9 3-18.3 2.9-18.7 3-19.9 3-21.4 2.9-21.7 3-20.9 2.9-18.7 3-16.5 3-15.7 2.9-14.3 3-12.1 2.9-8.9 3-6.8 3-6.2 2.9-5.1 3-3.6 2.9-1.6 3 .8 2.9 3 3 4.5 3 5 2.9 4 3 2.4 2.9 1.9 3 2.5 3 3.7 2.9 5.1 3 5.8 2.9 6.3 3 6.4 3 6.6 2.9 6.1 3 5.7 2.9 5.2 3 5 2.9 4.4 3 2.7 3 .7 2.9-.2 3 1.2 2.9 3.5 3 5.4 3 5.9 2.9 4.9 3 3.2 2.9 1.4 3 .4 3 .2 2.9 0 3-.8 2.9-1.4 3-1.6 2.9-1.2 3-.8 3-1 2.9-1.1 3-.6 2.9 .6 3 1.9 3 2.5 2.9 2.2 3 1.1 2.9-.4 3-1.5 3-1.6 2.9-.6 3 .8 2.9 1.6 3 1.3 2.9 .1 3-1.1 3-1.3 2.9-1 3-.3 2.9-.1 3-.8 3-2.4 2.9-3.8 3-3.8 2.9-2.8 3-1.6 2.9-.4 3 .7 3 1.6 2.9 1.8 3 1 2.9-.3 3-1.2 3-1.2 2.9-.7 3-.5 2.9-1.1 3-2.3 3-3.4 2.9-3.5 3-2.3 2.9-.5 3 .5 2.9 .6 3 .9 3 1.7 2.9 2.7 3 2.8 2.9 1.9 3 .2 3-1 2.9-1.4 3-1.2 2.9-.9 3-.7 3-.3 2.9 .2 3 0 2.9-.7 3-1.8 2.9-2.6 3-2.3 3-.8 2.9 1.2 3 2.5 2.9 2.2 3 1" stroke="#00ff22" stroke-width="6.8"/>
<path d="M195.3 1025.7l3 .4 2.9 .9 3 1.9 2.9 2.4 3 1.7 3 .4 2.9-.8 3-.9 2.9-.8 3-.8 2.9-.9 3-.8 3-.2 2.9 .8 3 1.9 2.9 2 3 1.1 3-.3 2.9-.8 3-.1 2.9 .8 3 .9 3-.1 2.9-1.7 3-2.6 2.9-2.1 3 .2 2.9 2.8 3 3.8 3 2.8 2.9 .4 3-1.4 2.9-1.6 3-.5 3 .9 2.9 1.7 3 1.6 2.9 1.2 3 .8 2.9 .7 3 .3 3-.3 2.9-1 3-1.1 2.9-1 3-1 3-1.8 2.9-2.8 3-3.5 2.9-3 3-1.1 3 1.5 2.9 3.1 3 3.5 2.9 2.7 3 1.3 2.9 .1 3-.9 3-1.5 2.9-2 3-1.9 2.9-.8 3 1.1 3 2.4 2.9 2.5 3 1.8 2.9 1 3 .4 3-.2 2.9-.3 3 .2 2.9 .7 3 .7 2.9 .1 3-.6 3-1.2 2.9-1.7 3-1.5 2.9-.4 3 1.7 3 4 2.9 5.9 3 7.1 2.9 7.4 3 6.7 3 5.6 2.9 4.3 3 3.5 2.9 3.3 3 2.7 2.9 2.4 3 2.3 3 3 2.9 3.9 3 4.9 2.9 5.6 3 5.4 3 5 2.9 4 3 3.1 2.9 2.7 3 2.5 3 2 2.9 1.3 3-1.1 2.9-3.7 3-5.9 2.9-7.9 3-12.2 3-16.4 2.9-18.6 3-18.6 2.9-17.1 3-16.1 3-16.4 2.9-16.8 3-17.5 2.9-18.1 3-18.4 2.9-18.7 3-19.8 3-21.2 2.9-21.6 3-21 2.9-19.4 3-17.8 3-17.4 2.9-15.4 3-12.3 2.9-8.3 3-6 3-5.6 2.9-5 3-3.6 2.9-1.9 3 0 2.9 1.4 3 2.4 3 3.3 2.9 3.5 3 3.9 2.9 5 3 6.1 3 7.3 2.9 7.6 3 6.9 2.9 5.6 3 4.5 3 4.7 2.9 5.2 3 5.2 2.9 4.4 3 3.6 2.9 3.3 3 3.3 3 2.6 2.9 1.7 3 1.2 2.9 1.6 3 2.6 3 3.2 2.9 3.2 3 2.9 2.9 2.7 3 2.3 3 .9 2.9-1.1 3-2.7 2.9-2.3 3-.3 2.9 2 3 2.8 3 1.7 2.9-.2 3-1.4 2.9-1.7 3-1.6 3-.9 2.9-.1 3 .3 2.9-.2 3-1.1 3-1.4 2.9-1 3-.5 2.9-.5 3-1.1 2.9-1.6 3-1.5 3-.6 2.9 .9 3 2.2 2.9 3 3 2.6 3 1.4 2.9 .1 3-.7 2.9-.6 3 .3 2.9 1.1 3 .9 3-.9 2.9-3.2 3-4.6 2.9-3.7 3-1.9 3-.1 2.9 1 3 1.8 2.9 2.3 3 2.3 3 1.6 2.9-.1 3-2 2.9-3.4 3-3.4 2.9-2.1 3-.7 3 0 2.9-.1 3-.9 2.9-1.1 3-.2 3 1.1 2.9 1.3 3 .2 2.9-1.4 3-2.5 3-2.5 2.9-1.4 3-.1 2.9 .5 3 .3 2.9-.6 3-1.3 3-1.1 2.9 .2 3 1.8 2.9 2.6 3 1.5" stroke="#00e5ff" stroke-width="6.8"/>
<path d="M195.3 1027.7l3 .9 2.9 1.6 3 2.1 2.9 2 3 .6 3-1.6 2.9-3.8 3-4.4 2.9-2.9 3-.5 2.9 1.7 3 2.8 3 3.1 2.9 2.9 3 2.5 2.9 1.6 3 0 3-1.6 2.9-2.5 3-1.9 2.9 0 3 1.9 3 2.8 2.9 2.1 3 .3 2.9-1.4 3-2.1 2.9-1.9 3-1.5 3-1.2 2.9-.2 3 .9 2.9 2 3 1.9 3 .6 2.9-1.5 3-2.6 2.9-2.6 3-1.3 2.9 0 3 .9 3 1.4 2.9 1.9 3 2.2 2.9 2.1 3 1.8 3 1.4 2.9 1.2 3 1 2.9 .3 3-.6 3-1.5 2.9-1.8 3-1.5 2.9-.4 3 .8 2.9 1.3 3 .7 3-.7 2.9-2 3-2.7 2.9-2.3 3-1.3 3-.4 2.9 .3 3 .6 2.9 1.2 3 2.1 3 2.5 2.9 1.8 3 .3 2.9-1.2 3-2 2.9-1.5 3-.1 3 1.6 2.9 2.9 3 3.4 2.9 3.8 3 4.2 3 4.7 2.9 5 3 4.7 2.9 3.8 3 2.5 3 1.5 2.9 1.4 3 2.6 2.9 4.3 3 5.4 2.9 5.4 3 4.8 3 4.4 2.9 4 3 3.9 2.9 3.6 3 3.6 3 4.7 2.9 5.7 3 6.3 2.9 6 3 4.4 3 2.4 2.9 0 3-3.1 2.9-5.8 3-7.2 2.9-8 3-11.6 3-15.7 2.9-17.8 3-18.2 2.9-17.1 3-17 3-17.5 2.9-18 3-18.5 2.9-19 3-19.5 2.9-20.1 3-21.2 3-22.5 2.9-22.2 3-20.7 2.9-18 3-15.7 3-15.7 2.9-14.8 3-12.9 2.9-9.7 3-7.3 3-6.4 2.9-4.9 3-2.7 2.9-.2 3 2.4 2.9 3.9 3 4.3 3 4.3 2.9 4.1 3 4.1 2.9 4.1 3 3.5 3 2.7 2.9 2.8 3 3.6 2.9 4.4 3 5 3 5.9 2.9 6.4 3 6.8 2.9 6.6 3 6.3 2.9 5.9 3 5.4 3 4.3 2.9 2.6 3 .9 2.9-1.3 3-2.8 3-2.5 2.9-.6 3 1.7 2.9 3 3 3.2 3 2.6 2.9 2 3 1.5 2.9 1.2 3 .8 2.9 .3 3 .2 3 .3 2.9 .4 3 .2 2.9-.4 3-.6 3-.8 2.9-.9 3-1.6 2.9-2.2 3-2.4 3-1.8 2.9-.7 3 .4 2.9 1.2 3 1.7 2.9 1.8 3 1.2 3 .2 2.9-1.1 3-2 2.9-2.3 3-1.9 3-1.2 2.9-.5 3-.6 2.9-.9 3-.9 2.9-.4 3 .6 3 1 2.9 .9 3 .6 2.9 .6 3 .7 3 .2 2.9-.7 3-1.6 2.9-1.8 3-1.8 3-1.9 2.9-1.7 3-1 2.9 .3 3 1.6 2.9 2.3 3 2.2 3 1.5 2.9 .5 3-.7 2.9-1.6 3-2 3-1.3 2.9-.3 3 .4 2.9 .3 3-.6 3-1.2 2.9-1.5 3-1.2 2.9-.9 3-.9 2.9-1.2 3-1.6 3-1.9 2.9-1.9 3-1.6 2.9-1.1 3-.6" stroke="#0070ff" stroke-width="6.8"/>
<path d="M195.3 1031.4l3-.3 2.9-1.1 3-1.6 2.9-1.2 3 0 3 1.7 2.9 2.4 3 1.8 2.9 .5 3-.3 2.9-.3 3 .3 3 .7 2.9 .9 3 .9 2.9 1.5 3 2.4 3 2.1 2.9 .3 3-2.4 2.9-4.3 3-3.9 3-1.8 2.9 .5 3 2.2 2.9 3 3 2.7 2.9 1.8 3 .6 3-.1 2.9-.5 3-1.5 2.9-2.9 3-4 3-3.7 2.9-2 3 .6 2.9 2.7 3 3.4 2.9 2.5 3 .9 3-.6 2.9-1 3-.6 2.9 0 3 .2 3-.2 2.9-.7 3-.9 2.9-.4 3 .2 3 .8 2.9 1 3 .5 2.9-.4 3-1.7 2.9-2.2 3-1.5 3 .9 2.9 2.9 3 3 2.9 1.1 3-1.2 3-2 2.9-.7 3 1.4 2.9 2.6 3 2.1 3 .6 2.9-.4 3-.5 2.9-.1 3-.1 2.9 .3 3 .9 3 1.8 2.9 2.4 3 2.5 2.9 2.7 3 3.1 3 3.4 2.9 3.4 3 3.5 2.9 3.9 3 4 3 3.7 2.9 3 3 2.5 2.9 3.1 3 4 2.9 4.9 3 5 3 4.9 2.9 4.4 3 4.1 2.9 4.1 3 4.6 3 5.7 2.9 5.8 3 4.8 2.9 3.5 3 2.5 3 2.1 2.9 1.6 3-.6 2.9-3.5 3-6.1 2.9-7.9 3-11.9 3-15.8 2.9-17.9 3-18.5 2.9-17.7 3-17.8 3-18.7 2.9-19.4 3-19.9 2.9-20.2 3-20.2 2.9-20.2 3-21 3-22.1 2.9-22 3-20.8 2.9-18.5 3-16.6 3-16.3 2.9-14.8 3-12.1 2.9-8.6 3-6.5 3-6.3 2.9-5.3 3-3.8 2.9-1.8 3 .5 2.9 2.3 3 3.5 3 4.4 2.9 4.6 3 4.4 2.9 4.3 3 4 3 3.9 2.9 4.4 3 5.3 2.9 6.4 3 7.6 3 8.1 2.9 7.5 3 6.4 2.9 5.7 3 5.5 2.9 5.2 3 4.7 3 3.7 2.9 2.8 3 2.6 2.9 2.1 3 1.3 3 .5 2.9 .2 3 .2 2.9 .7 3 1.2 3 2 2.9 2.3 3 1.5 2.9 .1 3-1.2 2.9-1.2 3-.6 3 .1 2.9 .3 3 .1 2.9-.5 3-1.3 3-1.9 2.9-2.3 3-2 2.9-1.6 3-.7 3-.1 2.9 .1 3-.2 2.9-.9 3-.8 2.9 .2 3 1.5 3 2.6 2.9 3 3 2.6 2.9 1.5 3 .1 3-1.6 2.9-3 3-3.9 2.9-4.2 3-3.3 2.9-2 3-.4 3 .8 2.9 1.3 3 .8 2.9-.3 3-1.6 3-2.6 2.9-3 3-2.4 2.9-.7 3 1.2 3 2.8 2.9 3.1 3 2.1 2.9 .7 3 0 2.9 .5 3 .9 3 .7 2.9-.3 3-.9 2.9-1 3-1 3-1.3 2.9-1.8 3-1.5 2.9 0 3 1 3 .7 2.9-.8 3-1.8 2.9-1.2 3 .6 2.9 1.7 3 .9 3-1.3 2.9-3.5 3-4.7 2.9-4.1 3-2.1" stroke="#2800ff" stroke-width="6.8"/>
<path d="M195.3 1030.6l3 .9 2.9 1.1 3 .7 2.9-.3 3-1.4 3-1.5 2.9-.9 3-.4 2.9-.6 3-1.1 2.9-1.5 3-1.4 3-.6 2.9 0 3 .1 2.9-.1 3-.4 3-.6 2.9-.4 3-.2 2.9 .7 3 1.3 3 1.3 2.9 .9 3 .9 2.9 1.5 3 1.9 2.9 1.5 3 .7 3 .1 2.9-.1 3 .2 2.9 .2 3 .1 3-.2 2.9 0 3 .6 2.9 1.2 3 1.1 2.9 .3 3-.8 3-1.7 2.9-2 3-1.4 2.9-.3 3 .9 3 1.7 2.9 1.7 3 1.2 2.9 .3 3-.2 3-.3 2.9 0 3 .4 2.9 .9 3 1 2.9 .8 3 .6 3 .8 2.9 1.2 3 1.4 2.9 .6 3-.8 3-2.1 2.9-2.1 3-.7 2.9 1 3 2 3 1.5 2.9 .4 3-.3 2.9-.3 3 .3 2.9 .9 3 1.5 3 2.1 2.9 2.3 3 2.3 2.9 1.7 3 1.4 3 1.3 2.9 1.7 3 2.6 2.9 3.3 3 3.7 3 3.3 2.9 2.5 3 2 2.9 2.5 3 3.2 2.9 3.6 3 3.5 3 4 2.9 4.9 3 6.1 2.9 6.1 3 5.3 3 5 2.9 4.8 3 5 2.9 5.2 3 4.9 3 3.7 2.9 1.5 3-2.2 2.9-5.4 3-7.3 2.9-8 3-11.4 3-15.2 2.9-17.8 3-18.8 2.9-18 3-17.5 3-17.7 2.9-17.9 3-18.3 2.9-19 3-19.4 2.9-19.5 3-20.4 3-21.2 2.9-21.4 3-20.6 2.9-18.8 3-17 3-16.6 2.9-15.2 3-12.7 2.9-9.3 3-7.2 3-6.7 2.9-5.5 3-3.8 2.9-1.5 3 .9 2.9 3.1 3 5 3 6.3 2.9 6.3 3 5.5 2.9 4.8 3 4.1 3 3.5 2.9 3.4 3 3.4 2.9 3.8 3 4.2 3 4.8 2.9 5.2 3 5.4 2.9 6 3 6.3 2.9 5.9 3 4.9 3 3.3 2.9 2.2 3 2.2 2.9 2.8 3 3.2 3 3.2 2.9 2.9 3 2.2 2.9 1.3 3 .1 3-1 2.9-1.8 3-1.7 2.9-1 3-.7 2.9-.9 3-1.1 3-.6 2.9 .6 3 1.1 2.9 .8 3-.6 3-1.9 2.9-2.2 3-1.6 2.9-.1 3 1.7 3 2.9 2.9 2.9 3 1.8 2.9 .7 3 .3 2.9-.1 3-1.2 3-2.3 2.9-2.4 3-1.2 2.9 .6 3 1.8 3 1.5 2.9 .3 3-1.1 2.9-2.1 3-2.3 2.9-1.6 3-.5 3 .2 2.9 .2 3 .1 2.9 .3 3 .4 3 .2 2.9-.2 3-.7 2.9-1 3-1.6 3-1.8 2.9-2 3-1.8 2.9-1.9 3-1.5 2.9-.6 3 .6 3 1.5 2.9 1.7 3 1.2 2.9 .2 3-.6 3-1.4 2.9-2.1 3-2.4 2.9-1.9 3-.8 3 .8 2.9 2.1 3 2.6 2.9 1.9 3 .5 2.9-.8 3-1.2 3-.5 2.9 .9 3 2 2.9 2 3 1" stroke="#8000dd" stroke-width="6.8"/>
<path d="M195.3 1027.2l3-.1 2.9-.1 3 1.3 2.9 3.2 3 4 3 3.4 2.9 1.8 3 .2 2.9-.8 3-1.3 2.9-1.9 3-2.8 3-3.5 2.9-3.3 3-1.6 2.9 1.2 3 3.8 3 5 2.9 4.2 3 1.7 2.9-1.3 3-3.2 3-3.4 2.9-2.2 3-.9 2.9-.2 3 0 2.9-.1 3-.5 3-1 2.9-1.1 3-.5 2.9 .5 3 1.3 3 2.1 2.9 2.7 3 2.6 2.9 2 3 1.2 2.9 .7 3 0 3-.9 2.9-1.9 3-2.7 2.9-2.9 3-2.4 3-1.4 2.9-.4 3 0 2.9-.4 3-.7 3-.4 2.9 .6 3 1.3 2.9 .8 3-.3 2.9-1 3-.7 3 .2 2.9 .6 3 .2 2.9-.1 3 .6 3 2.2 2.9 3 3 2.6 2.9 1.2 3-.1 3-1.2 2.9-1.8 3-2 2.9-1.5 3-.3 2.9 .9 3 2.3 3 3.1 2.9 3.3 3 2.9 2.9 2.8 3 3.1 3 3.6 2.9 4 3 4 2.9 3.6 3 3.1 3 3.2 2.9 3.7 3 4.4 2.9 4.8 3 4.4 2.9 3.7 3 3.4 3 3.3 2.9 3.6 3 3.7 2.9 3.7 3 4.1 3 5.6 2.9 6.8 3 7.3 2.9 6.6 3 5 3 2.7 2.9 .3 3-3.1 2.9-6.1 3-7.9 2.9-8.8 3-12 3-15.4 2.9-17.6 3-18.4 2.9-17.9 3-17.7 3-17.9 2.9-18.1 3-18.4 2.9-18.8 3-19 2.9-19.2 3-20.5 3-21.9 2.9-22.3 3-21.5 2.9-19.3 3-17.4 3-17.1 2.9-15.6 3-13.1 2.9-9.4 3-6.9 3-6.2 2.9-5.3 3-3.8 2.9-1.8 3 .9 2.9 3.4 3 4.6 3 4.9 2.9 4.4 3 4 2.9 4.4 3 4.4 3 4.7 2.9 4.8 3 4.4 2.9 3.4 3 3 3 4.3 2.9 6.8 3 9 2.9 9.3 3 7.2 2.9 4.3 3 2.7 3 2.9 2.9 4.2 3 5 2.9 4.2 3 2.3 3 .5 2.9-.4 3-.8 2.9-.9 3-.5 3 0 2.9 .4 3 .4 2.9 .4 3 .1 2.9-.2 3-.1 3 0 2.9 .1 3 .1 2.9 0 3 .3 3 .1 2.9-.3 3-.7 2.9-1 3-1.2 3-1.3 2.9-1.2 3-.2 2.9 1.6 3 2.9 2.9 2.7 3 1.3 3-.3 2.9-1.1 3-1.1 2.9-.9 3-.7 3-.9 2.9-1.3 3-1.9 2.9-1.8 3-1.2 2.9 0 3 1 3 1 2.9 .2 3-.9 2.9-1.9 3-2.4 3-2.6 2.9-2.1 3-.4 2.9 1.6 3 2.6 3 1.6 2.9-.4 3-2 2.9-1.9 3-1 2.9-.1 3 .3 3 .7 2.9 .8 3-.1 2.9-1.4 3-2.5 3-2.1 2.9-.5 3 1.2 2.9 2.3 3 2.5 3 2.1 2.9 1.2 3 .1 2.9-1.1 3-2 2.9-2.2 3-1.3 3 .4 2.9 2.1 3 3.1 2.9 2.9 3 1.4" stroke="#660066" stroke-width="6.8"/>
</g>
<g clip-path="url(#cpD)" fill="none" stroke-linejoin="round" stroke-linecap="round">
<path d="M941.2 -6.4l3 5 2.9 4.4 3 2.7 2.9 2.5 3 4.3 3 6.8 2.9 9.4 3 10.8 2.9 9.4 3 5.1 2.9 1.9 3 2 3 3.6 2.9 4 3 2.9 2.9 1.4 3 .3 2.9 1.1 3 3 3 4.2 2.9 3.7 3 2.5 2.9 1.7 3 2.2 3 3.5 2.9 4.3 3 3.8 2.9 4 3 6.1 3 7.9 2.9 7.4 3 5.1 2.9 4.3 3 5.1 2.9 4.6 3 2.1 3 .4 2.9 1.4 3 3.6 2.9 5.1 3 5.7 2.9 4.4 3 1.9 3 .2 2.9 1.4 3 4.7 2.9 8.4 3 10 3 7.5 2.9 1.9 3-1.9 2.9-1.3 3 1.2 3 3 2.9 4.2 3 5 2.9 4.3 3 3 2.9 3.3 3 5.7 3 7.3 2.9 5.4 3 1.6 2.9-1.5 3-2.5 2.9-1.9 3 0 3 2.7 2.9 4.9 3 5.2 2.9 4 3 1.8 3 .2 2.9 1.3 3 3.7 2.9 4.7 3 3.5 3 1.5 2.9 .2 3 .8 2.9 2.3 3 3.1 2.9 1.8 3 .5 3 .9 2.9 1.6 3 1 2.9 0 3-.2 2.9 .1 3-.2 3-.4 2.9 .3 3 1.1 2.9 .8 3-.3 3-.3 2.9 .5 3 1.1 2.9 1.1 3 1.2 3 2.2 2.9 3.5 3 3.3 2.9 2.5 3 1.6 2.9 1 3 .8 3 1 2.9 .7 3 .1 2.9-.1 3 .2 2.9-.1 3-1 3-1.5 2.9-.7 3 .5 2.9 1 3 .4 3 .2 2.9 1.1 3 2.3 2.9 2.1 3-.3 3-2.5 2.9-3.3 3-2.8 2.9-2.2 3-1.4 2.9-.8 3-.3 3-.5 2.9-1.3 3-2.1 2.9-2.3 3-1.2 2.9 0 3 0 3-1.5 2.9-3.1 3-3.5 2.9-2.6 3-1.9 3-2.4 2.9-3.2 3-2.3 2.9-1.2 3-1.1 3-1.6 2.9-1.4 3-.9 2.9-.3 3 .1 2.9 .1 3-.1 3-.3 2.9-1.6 3-4.3 2.9-5.9 3-4.7 2.9-2.7 3-2.5 3-2.3 2.9-.9 3-.1 2.9-3 3-7.3 3-8.9 2.9-5.8 3-1 2.9 1.1 3 .2 3-1 2.9-1.6 3-3.1 2.9-4.7 3-5.6 2.9-5.7 3-3.7 3 .4 2.9 2.8 3 .9 2.9-3 3-5.5 2.9-6.6 3-6 3-2.9 2.9-.5 3-2.2 2.9-6.2 3-7.8 3-5 2.9-.4 3 1.5 2.9-.7 3-4 3-5.2 2.9-4.8 3-4.8 2.9-4.6 3-4 2.9-4.2 3-6 3-7 2.9-6.4 3-5 2.9-3.8 3-1.7 2.9-.4 3-1.7 3-3.3 2.9-3.2 3-2 2.9-1.8 3-2.8 3-4.3 2.9-5.8 3-6.8 2.9-7.5 3-7.9 3-6.9 2.9-5.1 3-4.1 2.9-3.8 3-3.5 2.9-2.9 3-1.8 3-.5 2.9-.5 3-1.4 2.9-2.1 3-2.4 2.9-3.6 3-4.8 3-4.8 2.9-4.6 3-6.2 2.9-8.2 3-7.6" stroke="#640000" stroke-width="7.5"/>
<path d="M941.2 -21.5l3 5.8 2.9 8.5 3 12.2 2.9 13.1 3 9.7 3 5.4 2.9 3.2 3 3.5 2.9 5.2 3 6 2.9 4.6 3 2.4 3 1.6 2.9 1.9 3 1.1 2.9 0 3 1.2 2.9 5.6 3 11.3 3 16 2.9 16.3 3 10 2.9 1.2 3-5 3-5.6 2.9-2.2 3 1.3 2.9 2.2 3 1.1 3 .7 2.9 4.2 3 9 2.9 10 3 9.8 2.9 12.3 3 13.6 3 9.2 2.9 3.3 3 2.1 2.9 4.8 3 6.6 2.9 4.2 3-.2 3-2.8 2.9-2.1 3 .7 2.9 2.4 3 .9 3 .3 2.9 4.3 3 8.7 2.9 9.5 3 9.4 3 9.7 2.9 7.2 3 .8 2.9-3.7 3-.7 2.9 5.2 3 5.7 3-.9 2.9-7.4 3-7.5 2.9-1.3 3 6.9 2.9 12.7 3 12.7 3 8 2.9 5.8 3 8.5 2.9 10.1 3 7.4 3 2.4 2.9-2 3-5.4 2.9-6.1 3-3.8 3-1.2 2.9-.6 3-.4 2.9 2.5 3 6.8 2.9 9.6 3 7.2 3 .7 2.9-4.3 3-4.2 2.9-.3 3 4.3 2.9 6.5 3 5.3 3 2.6 2.9 1 3 1 2.9 1.1 3 1.3 3 2.5 2.9 3 3 2.5 2.9 2 3 1.5 3 .2 2.9-1 3-.6 2.9 .1 3 .6 2.9 1 3 1.4 3 1.9 2.9 1.9 3 1 2.9-.5 3-1.7 2.9-1.8 3-1 3 .8 2.9 2.6 3 3.8 2.9 3.4 3 1.7 3-.5 2.9-1.4 3-.4 2.9 .7 3 .8 3-.5 2.9-1.7 3-2.2 2.9-1.1 3 .6 2.9 .6 3-1.2 3-2.8 2.9-2.5 3-1.1 2.9 0 3 .2 2.9-1.8 3-4 3-3.7 2.9-1.5 3-.2 2.9-1.1 3-2.6 3-3.6 2.9-4.5 3-4.9 2.9-5.3 3-4.4 3-.1 2.9 5 3 6.3 2.9 4 3 1.2 2.9-2.1 3-5 3-7.1 2.9-8.9 3-9.7 2.9-7.8 3-5.8 2.9-7 3-7.1 3-3 2.9 3.2 3 7.8 2.9 7.7 3 1.4 3-8.6 2.9-14.5 3-9.1 2.9 1.9 3 7.3 3 3.9 2.9-3.5 3-8.2 2.9-7.8 3-4.8 2.9-3.8 3-4.4 3-3.1 2.9-.6 3-1.3 2.9-5.4 3-8.8 2.9-9.1 3-6.2 3-1.7 2.9 2 3 3 2.9 2.8 3 3.4 3 1.8 2.9-5 3-12.4 2.9-12.1 3-7 3-5.4 2.9-8.1 3-9.8 2.9-7.9 3-5.4 2.9-4.2 3-5.3 3-8.6 2.9-11.1 3-9.7 2.9-3.6 3 4.2 2.9 8.5 3 6.5 3 1 2.9-5.4 3-13.5 2.9-16.6 3-7.9 3 4 2.9 2.9 3-9.3 2.9-16.2 3-11.8 3-4.6 2.9-3 3-4.8 2.9-4.2 3-2.8 2.9-3.8 3-5.5 3-5.1 2.9-3.2 3-1.6 2.9-.6 3-.1 2.9-.2 3 .2 3 0 2.9-3.8 3-9.5 2.9-11.9 3-9.4" stroke="#960000" stroke-width="7.5"/>
<path d="M941.2 20l3 5.3 2.9 1.3 3-5.6 2.9-8.2 3-3.1 3 6.2 2.9 12.2 3 10 2.9 1.8 3-4.6 2.9-3.9 3 2.2 3 8.3 2.9 9.4 3 6.6 2.9 3.6 3 3.1 2.9 5.9 3 9.1 3 8.6 2.9 5.4 3 3.7 2.9 4.3 3 5.3 3 5.7 2.9 5.6 3 7.4 2.9 8.7 3 6.9 3 4.6 2.9 5.6 3 7.8 2.9 6.9 3 2.2 2.9-2.5 3-3 3 1.2 2.9 6.7 3 10 2.9 10.1 3 8.3 2.9 4.3 3 .8 3 .7 2.9 1.8 3 1.7 2.9 2.1 3 3.2 3 3.5 2.9 3.2 3 3.5 2.9 6.1 3 10.1 3 12.9 2.9 11.8 3 6.8 2.9 .2 3-4.4 2.9-4.5 3-.7 3 4.5 2.9 7.7 3 6.1 2.9 1.5 3-.5 2.9 1.8 3 4.7 3 6.3 2.9 6.5 3 4.5 2.9 .3 3-1.6 3 1.6 2.9 5.4 3 5.3 2.9 4.3 3 6.5 3 8.9 2.9 7.4 3 3 2.9 1.4 3 3.7 2.9 5.7 3 5.2 3 2.9 2.9-.6 3-4.9 2.9-5.3 3-.1 2.9 5.2 3 5.2 3 1.7 2.9-.5 3 .4 2.9 2.1 3 2.4 3 1.3 2.9 .5 3 .9 2.9 1 3 .1 3-.3 2.9 .9 3 2.1 2.9 1.9 3 1.4 2.9 .5 3 .1 3 .5 2.9 1.7 3 2.1 2.9 1.5 3 1.4 2.9 1.8 3 1.3 3-.5 2.9-2.1 3-2.3 2.9-1.1 3-.3 3-.7 2.9-1.1 3 .4 2.9 2.1 3 1.7 3-.6 2.9-2.5 3-2.1 2.9-.6 3 0 2.9-.5 3-.9 3-.2 2.9 .2 3-.6 2.9-1.5 3-2.3 2.9-3 3-3.8 3-3.7 2.9-2 3 .4 2.9 1.3 3 .5 3-.4 2.9-.9 3-2 2.9-3.2 3-3 3-1.2 2.9 .6 3 2 2.9 3.9 3 4.2 2.9-.3 3-5.9 3-6.9 2.9-4.5 3-4 2.9-6.9 3-9.2 2.9-8.8 3-7.6 3-6.3 2.9-4.5 3-3.2 2.9-4.3 3-6 3-4.1 2.9 .4 3 3.5 2.9 3.9 3 3.1 3 .4 2.9-4.2 3-7.9 2.9-8.1 3-5.1 2.9-.8 3 3 3 4.5 2.9 .1 3-9.1 2.9-14.2 3-10.4 2.9-3.5 3-.3 3-1.8 2.9-3.2 3-.7 2.9 4.4 3 6.3 3 .3 2.9-9.8 3-14.6 2.9-10.3 3-2.3 3 2.2 2.9 .1 3-5 2.9-8.8 3-9.7 2.9-8.2 3-7.6 3-9.8 2.9-11.2 3-8 2.9-3.3 3-2.5 2.9-6.2 3-8.7 3-6.8 2.9-2.6 3 .3 2.9 1.6 3 .9 3-2.1 2.9-4.8 3-6.3 2.9-7.1 3-6.5 3-5.5 2.9-7.2 3-11.6 2.9-14.1 3-12.2 2.9-7.8 3-4.6 3-4.1 2.9-3.9 3-2.5 2.9-2.2 3-4.7 2.9-8 3-10.5 3-10.7 2.9-7.4 3-2.7 2.9-1.2 3-3.6" stroke="#c80000" stroke-width="7.5"/>
<path d="M941.2 -14.4l3-4.7 2.9-9.3 3-1.6 2.9 13.3 3 23.6 3 22.4 2.9 12.8 3 4.5 2.9 2.6 3 4 2.9 2 3-3.6 3-3.9 2.9 5.5 3 14.7 2.9 13 3 4.7 2.9 1.5 3 3.9 3 4.8 2.9 4.2 3 6.5 2.9 9 3 8.4 3 7.2 2.9 7.4 3 7.5 2.9 6.2 3 3.2 3-1.9 2.9-6.8 3-6.3 2.9-.8 3 5.4 2.9 9.8 3 12.9 3 14.6 2.9 13.6 3 10.5 2.9 8.3 3 8 2.9 6.8 3 1.7 3-4.7 2.9-5.7 3 .4 2.9 7.4 3 8 3 3.4 2.9-.2 3 0 2.9 2.1 3 4.2 3 5 2.9 5.8 3 8.3 2.9 8.7 3 3.5 2.9-2 3-1.1 3 3.6 2.9 5.6 3 4.3 2.9 4.3 3 5.6 2.9 4.6 3 1.7 3 1.5 2.9 5.7 3 10 2.9 9 3 2.4 3-2.5 2.9-1.7 3 3.1 2.9 6.6 3 5.9 3 2.5 2.9 .3 3 .7 2.9 1.7 3 2.8 2.9 4.3 3 4.9 3 2.7 2.9 .8 3 2.4 2.9 5.5 3 6.2 2.9 4.7 3 3.7 3 4.3 2.9 5.9 3 6.3 2.9 3.5 3-.4 3-2.5 2.9-2.4 3-.7 2.9 1.7 3 3.5 3 2.7 2.9 .4 3-.4 2.9 .6 3 1.5 2.9 1.7 3 1 3-.3 2.9-1.4 3-1 2.9 0 3 .8 2.9 .9 3 .6 3 .5 2.9 .2 3-.3 2.9-.5 3-.7 3-1.1 2.9-1.4 3-1.2 2.9-.6 3 .3 3 1.4 2.9 2.3 3 1.9 2.9 .4 3-1.3 2.9-2.1 3-1.8 3-1.8 2.9-2 3-1.5 2.9-.6 3-.9 2.9-1.9 3-2.3 3-.7 2.9 1.5 3 2 2.9 .2 3-2.6 3-5.2 2.9-5.9 3-3.9 2.9-.9 3 .6 3-.3 2.9-1.2 3 .1 2.9 1.1 3-1.1 2.9-5 3-6.1 3-5.1 2.9-5.7 3-7.7 2.9-7.2 3-3.6 2.9 1.4 3 4.6 3 2.2 2.9-4.5 3-9.1 2.9-8.9 3-6.1 3-2.6 2.9 .9 3 3.3 2.9 2.3 3-2.4 3-7.7 2.9-8.4 3-4.4 2.9-1.7 3-4.5 2.9-9.2 3-9.7 3-6.1 2.9-.6 3 4.4 2.9 5.8 3 .4 2.9-8.9 3-16.5 3-17.9 2.9-12.6 3-3.9 2.9 3.4 3 4.8 3-.6 2.9-7.5 3-10.2 2.9-7.5 3-3.6 3-.8 2.9 .2 3 .3 2.9-.7 3-2.5 2.9-4.2 3-2.8 3 1.3 2.9 3.2 3-1.1 2.9-8 3-11.5 2.9-11.6 3-13.1 3-16.3 2.9-15.4 3-8.3 2.9-1.5 3 .2 3-1.6 2.9-2.5 3-1.9 2.9-1.9 3-4.2 3-7.2 2.9-8.8 3-8.1 2.9-6 3-4.6 2.9-5.7 3-6.2 3-1.9 2.9 4.6 3 5 2.9-2.3 3-11.9 2.9-17.6 3-16.9 3-10.7 2.9-4.3 3-3 2.9-6.3 3-7.9" stroke="#f00000" stroke-width="7.5"/>
<path d="M941.2 4.4l3 7.8 2.9 8.5 3 6.3 2.9 3 3 1.1 3 1.7 2.9 4.5 3 6.8 2.9 6 3 3.4 2.9 2.4 3 2.6 3 1.4 2.9 .8 3 4.5 2.9 9.3 3 9.2 2.9 4.1 3-1.3 3-1.4 2.9 4.5 3 11.8 2.9 15.5 3 15 3 11.5 2.9 5.7 3 0 2.9-2 3-.2 3 2.1 2.9 2.8 3 2.6 2.9 2.6 3 3.5 2.9 4.9 3 6.5 3 6.9 2.9 4 3-.9 2.9-2.8 3 2.3 2.9 12.1 3 18.6 3 16.9 2.9 11 3 6.1 2.9 2 3-1.4 3-2.8 2.9-2.2 3 .2 2.9 4.6 3 10 3 13.3 2.9 10.9 3 3.2 2.9-3.5 3-2.4 2.9 4.2 3 6.9 3 2.4 2.9-1.3 3 2.4 2.9 7.1 3 5.3 2.9-.5 3-2.8 3 .5 2.9 5.2 3 9 2.9 9.7 3 7.2 3 4.6 2.9 5.6 3 7.6 2.9 7.2 3 4.9 3 2.4 2.9 .8 3 1.8 2.9 4.4 3 4.3 2.9 1.1 3-1.1 3-.3 2.9 1.6 3 3.2 2.9 4.8 3 6 2.9 5.8 3 3.4 3 1.8 2.9 2.7 3 3.7 2.9 3.2 3 3.2 3 3.9 2.9 2.6 3-.5 2.9-2.3 3-1.6 3-.5 2.9 .1 3 .6 2.9 .8 3 1.4 2.9 2 3 2.4 3 2.4 2.9 1.9 3 1.3 2.9 .9 3 .8 2.9 .5 3 0 3-1 2.9-2.1 3-2.5 2.9-1.7 3-.6 3 .2 2.9 .5 3 .5 2.9 .3 3-.3 3-.6 2.9-.5 3 .5 2.9 1.2 3 .7 2.9-.6 3-1.7 3-1.5 2.9-.8 3-.7 2.9-1.4 3-2.7 2.9-2.9 3-2.3 3-1.4 2.9-.9 3-1.1 2.9-.7 3 .3 3 .8 2.9 .1 3-1.6 2.9-2.4 3-1.1 3 .4 2.9 .1 3-1.2 2.9-1.8 3-2.4 2.9-3.8 3-4.7 3-4.2 2.9-3.1 3-3.4 2.9-5.1 3-8 2.9-9.6 3-7.3 3-.4 2.9 7 3 9.6 2.9 4.9 3-4.6 3-12.8 2.9-14.8 3-11.1 2.9-5.7 3-1.5 3-1.6 2.9-6.4 3-10.4 2.9-9 3-3.3 2.9 2.7 3 5.6 3 3.8 2.9-2.8 3-10.3 2.9-13.2 3-9.4 2.9-3.2 3-.3 3-1.5 2.9-2.4 3-1.6 2.9-.8 3-1.6 3-3.1 2.9-4.5 3-5.7 2.9-8.2 3-11.4 3-13.4 2.9-12.7 3-10.8 2.9-10.1 3-9.6 2.9-8.2 3-7 3-6 2.9-4.2 3-2.1 2.9-1.6 3-1 2.9 1 3 2.9 3 1.6 2.9-1.6 3-4.7 2.9-6.8 3-7.3 3-5.5 2.9-2.8 3-2.8 2.9-6 3-9.9 3-12.1 2.9-10.8 3-8.2 2.9-6.6 3-5.8 2.9-4.1 3-2.2 3-1.3 2.9-.1 3 .1 2.9-3.9 3-10.5 2.9-14 3-11.9 3-7.1 2.9-3 3-.7 2.9-1.1 3-3.7" stroke="#ff0000" stroke-width="7.5"/>
<path d="M941.2 8.6l3 4.8 2.9 .8 3-5.1 2.9-2.7 3 9.9 3 20.5 2.9 16.7 3 1.7 2.9-10.4 3-12.4 2.9-7.4 3-1 3 4.1 2.9 7.3 3 8.6 2.9 10.8 3 15.1 2.9 16 3 10.9 3 3.4 2.9-2.3 3-3.9 2.9-.2 3 6.4 3 10.5 2.9 9.4 3 6.3 2.9 4.9 3 6.5 3 10.5 2.9 13.7 3 11.3 2.9 4.9 3-.5 2.9-4.2 3-5.9 3-3.4 2.9 4.3 3 12.4 2.9 15.4 3 12.4 2.9 7.1 3 2.2 3-2.1 2.9-3.5 3 2.2 2.9 11.9 3 15.4 3 10.1 2.9 3 3 1 2.9 2.9 3 4.2 3 3.8 2.9 4.7 3 7.6 2.9 9.4 3 6.9 2.9 .9 3-3.6 3-2.3 2.9 2.1 3 3.7 2.9 2 3 .7 2.9 2.7 3 7 3 9.1 2.9 7.8 3 5.4 2.9 4 3 3.6 3 4.3 2.9 4.6 3 3.7 2.9 3.6 3 4.6 3 6 2.9 5.7 3 1.7 2.9-4.1 3-5 2.9 .8 3 7.9 3 9.9 2.9 7.9 3 5.9 2.9 6.1 3 7.5 2.9 6.6 3 2 3-2.1 2.9-2.2 3-1.7 2.9-2.8 3-1.2 3 3.9 2.9 8.1 3 7.5 2.9 4.5 3 1.6 3 0 2.9-.5 3 .2 2.9 1.2 3 2.1 2.9 1.8 3 1.5 3 2 2.9 1.9 3 .3 2.9-2.1 3-3.2 2.9-1.6 3 .8 3 1.6 2.9 .8 3 .2 2.9 .4 3 .3 3-.1 2.9 0 3 1 2.9 1.9 3 2.1 3 1.8 2.9 .7 3-1.3 2.9-3.3 3-3.6 2.9-2.2 3-1.4 3-1.6 2.9-2.5 3-2.7 2.9-1.8 3 .2 2.9 3.5 3 3.9 3 .9 2.9-2.5 3-3.6 2.9-2.2 3-.8 3-1.2 2.9-4.8 3-9.6 2.9-10.4 3-6.5 3-1.8 2.9 .4 3 .4 2.9-.5 3-.5 2.9 1.7 3 3.9 3 3.5 2.9-.1 3-4 2.9-5.7 3-6 2.9-6.7 3-7.6 3-5.6 2.9-.7 3 3.4 2.9 2 3-5.5 3-12.3 2.9-12 3-6.7 2.9-1.6 3 1.4 3 .5 2.9-4.5 3-9.5 2.9-7.7 3 2.1 2.9 10.3 3 7.2 3-3.9 2.9-10 3-8.5 2.9-8 3-11.6 2.9-13.8 3-11 3-5.3 2.9-1.9 3-4.7 2.9-9.5 3-8.7 3-3 2.9 .5 3-2.4 2.9-8.7 3-11.1 3-7.9 2.9-4.7 3-4.9 2.9-6.1 3-5.8 2.9-4.2 3-1.6 3-.6 2.9-4.4 3-10.5 2.9-11.8 3-6.1 2.9 1 3 3.4 3 1.7 2.9-1.9 3-6.5 2.9-9.5 3-9.7 3-8.3 2.9-6.9 3-6 2.9-6.1 3-4.9 3-1 2.9 1.3 3-2.5 2.9-8.8 3-10.1 2.9-6.5 3-3.8 3-4.4 2.9-6.5 3-8 2.9-8 3-6.4 2.9-5.2 3-6 3-7.4 2.9-5.8 3-2.2 2.9-.5 3-2.9" stroke="#ff0a00" stroke-width="7.5"/>
<path d="M941.2 -5l3 6.6 2.9 6.4 3 3.8 2.9 0 3-.4 3 2.8 2.9 6.6 3 9.4 2.9 11.2 3 11.8 2.9 9.5 3 4.8 3 2.4 2.9 5.6 3 9.6 2.9 8.7 3 4.5 2.9 1.3 3 .4 3 1.4 2.9 4.6 3 7.7 2.9 7.5 3 5.5 3 5.8 2.9 8.6 3 10.2 2.9 9.2 3 6 3 3.4 2.9 3.5 3 6.2 2.9 8.3 3 6.7 2.9 1.8 3-2.8 3-2.7 2.9 2 3 6.5 2.9 7.5 3 4.9 2.9 1.8 3 1.2 3 4.6 2.9 10.6 3 13.5 2.9 7.8 3-2.1 3-5.9 2.9-.2 3 6.9 2.9 8.2 3 5.7 3 4.3 2.9 5.1 3 6.8 2.9 6.4 3 1.2 2.9-4.2 3-1.1 3 10.8 2.9 20.3 3 18.4 2.9 8.7 3 1.6 2.9 1.7 3 4.6 3 5.1 2.9 3.6 3 2.3 2.9 1.5 3 .2 3-.3 2.9 2 3 7 2.9 10.1 3 8.8 3 5.9 2.9 6.2 3 8.3 2.9 6.6 3 2.9 2.9 1 3 .9 3-1 2.9-3.6 3-3.3 2.9 .3 3 4 2.9 4.9 3 3.7 3 2.3 2.9 1 3 .9 2.9 2.4 3 4 3 3.8 2.9 3.3 3 3.3 2.9 4 3 3.9 3 2.9 2.9 1.9 3 1.7 2.9 1.6 3 1 2.9 .2 3 .3 3 1.6 2.9 3.3 3 3.8 2.9 3 3 1.3 2.9 .2 3 .3 3 .9 2.9 1.2 3 1.1 2.9 .3 3-1.4 3-2.8 2.9-2.9 3-1.9 2.9-1.2 3-.8 3-.5 2.9 .4 3 1.4 2.9 1.1 3-.1 2.9-.8 3-1.2 3-1.3 2.9-1.6 3-1.8 2.9-1.9 3-1.8 2.9-1.4 3-1.7 3-3.3 2.9-4.8 3-4.5 2.9-2.8 3-1.3 3-1.8 2.9-3.5 3-4.2 2.9-3 3-1.8 3-.2 2.9 1.7 3 1.7 2.9-2.1 3-7 2.9-8.7 3-4.7 3 2.2 2.9 4.9 3 0 2.9-8.4 3-13.8 2.9-11.5 3-3.5 3 3.9 2.9 4.3 3-2.1 2.9-9.4 3-11.7 3-8.5 2.9-2.6 3 2.2 2.9 4.7 3 4.1 3-2 2.9-12.6 3-18.2 2.9-12.5 3-2.8 2.9 .5 3-2.9 3-6.4 2.9-6.9 3-6.4 2.9-5.1 3-1.5 2.9 3 3 4.5 3 1.4 2.9-2.8 3-7 2.9-10.1 3-11.7 3-11.8 2.9-10.2 3-6.3 2.9-2.1 3 0 3-1.7 2.9-5.9 3-10.4 2.9-11.5 3-9.1 2.9-7.1 3-7.6 3-9.9 2.9-10.7 3-7.4 2.9-3 3-1.7 2.9-2.3 3-.3 3 4 2.9 5.4 3-1 2.9-12.5 3-18.9 3-14.6 2.9-3.2 3 5.8 2.9 5.7 3-1.4 3-9.1 2.9-13.9 3-15.4 2.9-12.6 3-6.2 2.9-2.4 3-5 3-9.9 2.9-9.1 3-2 2.9 4.6 3 5.7 2.9 1.6 3-4 3-8.1 2.9-11.4 3-15.2 2.9-17.5 3-13.5" stroke="#ff5000" stroke-width="7.5"/>
<path d="M941.2 -2.9l3 11.5 2.9 17.5 3 17 2.9 9.8 3 1 3-3.1 2.9-1.1 3 3.2 2.9 5.7 3 4.9 2.9 1.7 3-1.4 3-2.6 2.9-.6 3 5.8 2.9 12.4 3 13.2 2.9 8.6 3 3.9 3 2.2 2.9 3.3 3 5.5 2.9 5.7 3 4 3 3.2 2.9 4.3 3 5.9 2.9 6.3 3 6.2 3 6.4 2.9 7.4 3 7 2.9 5.2 3 3.4 2.9 3 3 3.6 3 4.7 2.9 5.3 3 5.5 2.9 4.8 3 3.6 2.9 3.2 3 4.3 3 6.4 2.9 8.5 3 9.9 2.9 9.9 3 8.5 3 6.3 2.9 4.5 3 3.6 2.9 2.5 3 1.2 3 1.1 2.9 3.5 3 6.7 2.9 8.3 3 7.4 2.9 5.5 3 4.7 3 4.6 2.9 3.7 3 2.5 2.9 2.5 3 4 2.9 6.4 3 8.5 3 8.8 2.9 6.5 3 3.4 2.9 2.4 3 3.4 3 3.6 2.9 2.6 3 2.1 2.9 3.4 3 5.5 3 6.3 2.9 5.2 3 3.8 2.9 3.8 3 5.3 2.9 6.9 3 7.4 3 6.5 2.9 5.3 3 4.3 2.9 3.5 3 2.6 2.9 2.2 3 2.6 3 3.9 2.9 5.4 3 6.1 2.9 5.3 3 3.7 3 2.8 2.9 3.3 3 4.1 2.9 3.3 3 1.6 3 .2 2.9 0 3 1 2.9 1.9 3 2.8 2.9 2.7 3 2.1 3 1.9 2.9 1.5 3 .9 2.9 .6 3 .5 2.9 .5 3 .3 3 .4 2.9 .4 3 .8 2.9 .9 3 1.1 3 1 2.9 .7 3-.1 2.9-1.3 3-2.2 3-2.1 2.9-.8 3 .4 2.9 .7 3 .1 2.9-1.2 3-2.4 3-2.9 2.9-2.9 3-2.4 2.9-2.3 3-2.6 2.9-3 3-3 3-2.6 2.9-1.9 3-1.7 2.9-1.8 3-2.7 3-3.9 2.9-4.2 3-3.1 2.9-2.1 3-2.2 3-3 2.9-4.1 3-5.2 2.9-5.4 3-4.3 2.9-2.6 3-1.9 3-2.9 2.9-4.8 3-5.9 2.9-5.4 3-4.2 2.9-3.3 3-3.5 3-4 2.9-5.2 3-6.6 2.9-6.7 3-5.4 3-4.5 2.9-4.9 3-5.3 2.9-4.4 3-2.6 3-.9 2.9-1 3-3.1 2.9-5.5 3-6.1 2.9-5.3 3-4.5 3-4.6 2.9-5.7 3-6.4 2.9-5.2 3-2.8 2.9-1.2 3-1.9 3-4.1 2.9-6.1 3-6.7 2.9-6.8 3-7.2 3-7.2 2.9-6.6 3-5 2.9-4 3-4.2 3-5.3 2.9-6.7 3-7.3 2.9-6.9 3-6 2.9-5.1 3-4.5 3-4 2.9-3.6 3-4.2 2.9-5.6 3-7.2 2.9-7.8 3-7.6 3-7 2.9-6.7 3-6.1 2.9-4.9 3-3.8 3-4.7 2.9-6.6 3-7.8 2.9-7.4 3-5.4 3-3.3 2.9-3.2 3-6.1 2.9-9 3-9.2 2.9-6.9 3-4.7 3-3.8 2.9-4.7 3-5.7 2.9-6.1 3-5.9 2.9-5.6 3-6.2 3-7.4 2.9-8.5 3-8.3 2.9-7.4 3-6.8" stroke="#ffa500" stroke-width="7.5"/>
<path d="M941.2 28.2l3 .1 2.9-2.3 3-2.3 2.9-1.4 3 1.3 3 5.8 2.9 10 3 13 2.9 14.9 3 13.6 2.9 9.3 3 6 3 4.4 2.9 2.1 3-1.1 2.9-2.8 3-2.3 2.9 .3 3 3.1 3 4 2.9 3.4 3 3.4 2.9 5 3 6.7 3 5.8 2.9 2.6 3 .2 2.9 1.3 3 4.4 3 6 2.9 5.6 3 5.6 2.9 6.5 3 7.1 2.9 6.5 3 5.3 3 4.7 2.9 4.9 3 5.2 2.9 4.9 3 4.5 2.9 4.4 3 4.5 3 5 2.9 5.3 3 5.2 2.9 4.9 3 5.3 3 6.4 2.9 6.5 3 5.4 2.9 4.3 3 4.2 3 5.2 2.9 6.3 3 6.9 2.9 7.3 3 7 2.9 4.5 3 .6 3-.5 2.9 2.9 3 7 2.9 8 3 6.3 2.9 4.9 3 4.8 3 5.5 2.9 6.3 3 6.9 2.9 6.4 3 5.1 3 4.3 2.9 5.2 3 5.9 2.9 5.5 3 3.9 3 2.8 2.9 3.7 3 5.8 2.9 6.9 3 5.4 2.9 3.4 3 3 3 3.7 2.9 3.8 3 3.1 2.9 3.2 3 4.7 2.9 6.5 3 7.7 3 7.5 2.9 6.4 3 5.7 2.9 5.7 3 5.3 3 4.3 2.9 3 3 2.3 2.9 2.1 3 2.8 3 3.8 2.9 4.8 3 5.3 2.9 5 3 4.3 2.9 3.9 3 3.5 3 3 2.9 2.1 3 1.3 2.9 1 3 1.2 2.9 1.2 3 1.2 3 1 2.9 .7 3 .6 2.9 .6 3 .3 3-.5 2.9-1.2 3-1 2.9-.1 3 .6 3 .3 2.9-.6 3-1.4 2.9-2.1 3-2.6 2.9-3 3-3 3-2.8 2.9-3.3 3-3.9 2.9-4.5 3-4.7 2.9-4.8 3-4 3-2.9 2.9-2.7 3-3.4 2.9-4.2 3-3.8 3-3.3 2.9-3.9 3-5.3 2.9-6.4 3-6.1 3-5.7 2.9-5.7 3-5.3 2.9-3.9 3-2.8 2.9-3.3 3-4.7 3-5 2.9-4.5 3-3.2 2.9-2.6 3-3.5 2.9-5.1 3-5.3 3-4.9 2.9-5 3-5.1 2.9-4.5 3-3.4 3-2.9 2.9-3.1 3-3.4 2.9-4.2 3-5.2 3-5.3 2.9-4.4 3-3.8 2.9-4.5 3-5.6 2.9-6.9 3-7.2 3-6.3 2.9-4.1 3-1.8 2.9-.7 3-1.5 2.9-3.7 3-6.2 3-7.8 2.9-7.6 3-6.2 2.9-4 3-2.4 3-2.5 2.9-3.6 3-5.2 2.9-6.3 3-6.6 3-5.9 2.9-5.5 3-5.9 2.9-5.8 3-4.5 2.9-3.7 3-4.6 3-5.9 2.9-6.2 3-5.6 2.9-5 3-4.7 2.9-5.4 3-7.1 3-8.9 2.9-8.8 3-6.9 2.9-5.4 3-4.8 3-4.5 2.9-3.7 3-3.7 2.9-5.4 3-7.4 3-7.4 2.9-5.5 3-4.3 2.9-5.3 3-6.9 2.9-7.1 3-6.3 3-6.1 2.9-6.7 3-6.2 2.9-4.6 3-3.4 2.9-3.8 3-5.6 3-8 2.9-9.8 3-10.1 2.9-8.8 3-7.3" stroke="#ffff00" stroke-width="7.5"/>
<path d="M941.2 59.9l3-6.5 2.9-12.9 3-9.8 2.9-1.8 3 3.8 3 4.3 2.9 1.7 3-1.5 2.9-2.4 3 .7 2.9 5.3 3 7.6 3 6.4 2.9 4.5 3 4.5 2.9 7.1 3 10.3 2.9 10.9 3 8.8 3 6.3 2.9 4.8 3 4.1 2.9 3.1 3 1.9 3 .9 2.9 1.6 3 4.2 2.9 6.9 3 7.4 3 6.1 2.9 5.4 3 5.5 2.9 6.9 3 7.9 2.9 8.3 3 8.5 3 8.3 2.9 6.5 3 4 2.9 3.5 3 4.4 2.9 5.4 3 5.3 3 5.1 2.9 5.4 3 6 2.9 6.2 3 5.3 3 4 2.9 3.9 3 5.5 2.9 6.9 3 6.5 3 5.4 2.9 4.8 3 4.9 2.9 5 3 4.5 2.9 4.1 3 4.9 3 6.1 2.9 6.5 3 7 2.9 7.5 3 6.8 2.9 4.8 3 2.4 3 1.6 2.9 2.8 3 5 2.9 7 3 8.5 3 8.1 2.9 5.7 3 2.9 2.9 1.6 3 2.1 3 3 2.9 3.6 3 4 2.9 4.1 3 4.2 2.9 5 3 5.5 3 5.4 2.9 4.9 3 4.4 2.9 3.7 3 3 2.9 3.8 3 5.9 3 7.1 2.9 6.1 3 4.1 2.9 2.8 3 3 3 3.5 2.9 3.9 3 4.2 2.9 4.7 3 5.1 3 4.9 2.9 4.4 3 3.9 2.9 4.1 3 4.6 2.9 4.8 3 4.3 3 3.9 2.9 3.6 3 3.1 2.9 2.5 3 2.2 2.9 2.1 3 1.8 3 1.5 2.9 1.4 3 1 2.9 .1 3-.5 3-.7 2.9-.7 3-.9 2.9-1.4 3-1.6 3-1.5 2.9-1 3-.8 2.9-1.2 3-2.4 2.9-3.4 3-3.9 3-4.1 2.9-4.6 3-5.1 2.9-5.1 3-4.4 2.9-3.4 3-3.6 3-4.7 2.9-5.5 3-5.1 2.9-3.9 3-2.6 3-2.4 2.9-2.7 3-3.4 2.9-4.7 3-5.9 3-5.5 2.9-4.1 3-3.6 2.9-4.1 3-4.5 2.9-4.4 3-4.7 3-5.4 2.9-5.7 3-5.5 2.9-5.7 3-5.7 2.9-4.8 3-3.3 3-2.8 2.9-3.6 3-4.6 2.9-4.3 3-3.5 3-3 2.9-3 3-3.5 2.9-4.9 3-6 3-5.6 2.9-3.9 3-3 2.9-4 3-5.7 2.9-6 3-5 3-3.3 2.9-2.7 3-3 2.9-4.9 3-7.1 2.9-7.9 3-6.3 3-4.7 2.9-4.7 3-4.8 2.9-3.7 3-2.1 3-2.3 2.9-4.3 3-6.4 2.9-7 3-6.1 3-5.1 2.9-4.6 3-4.3 2.9-4.7 3-6 2.9-8 3-9.4 3-8.7 2.9-5.9 3-3.1 2.9-1.8 3-2.4 2.9-3.5 3-4.1 3-4.3 2.9-4.8 3-5.5 2.9-5.8 3-5.7 3-6.1 2.9-7.1 3-8.2 2.9-8.2 3-7 3-5.1 2.9-3.6 3-2.9 2.9-2.9 3-3.9 2.9-6 3-8.1 3-8.9 2.9-7.6 3-6 2.9-5.5 3-6.1 2.9-7 3-7.4 3-7.7 2.9-8.5 3-9.2 2.9-9.3 3-8.3" stroke="#66ff00" stroke-width="7.5"/>
<path d="M941.2 -17.3l3 9.7 2.9 11 3 6.6 2.9 .7 3-.5 3 3.7 2.9 9.8 3 13.8 2.9 13.6 3 10.3 2.9 7.8 3 6.5 3 5.8 2.9 6.1 3 7 2.9 6.3 3 4.8 2.9 4.5 3 3.9 3 1.4 2.9-.5 3-.2 2.9 2.6 3 6.2 3 8 2.9 6.6 3 5.2 2.9 6.2 3 7.6 3 6.3 2.9 4.2 3 4 2.9 5.8 3 7.6 2.9 8.2 3 7.5 3 6.1 2.9 3.6 3 1.9 2.9 2.5 3 4.7 2.9 6.2 3 5.6 3 3.5 2.9 2.6 3 4.1 2.9 7 3 9.1 3 9.4 2.9 7.5 3 4 2.9 1.6 3 1.6 3 3.6 2.9 5.6 3 5.9 2.9 5.4 3 5.2 2.9 6.1 3 6.9 3 6.3 2.9 5.3 3 5.4 2.9 6.3 3 6 2.9 4.6 3 3.3 3 3.7 2.9 5.3 3 6 2.9 5 3 3.5 3 2.7 2.9 2.6 3 2.4 2.9 3.2 3 5 3 7.1 2.9 7.8 3 6 2.9 3.1 3 1.7 2.9 2.7 3 4.6 3 6 2.9 6.1 3 5.6 2.9 6 3 6.5 2.9 5.8 3 4 3 2.5 2.9 2 3 2.9 2.9 4.2 3 5 3 4.8 2.9 4.4 3 4.4 2.9 4.9 3 5.2 3 5.3 2.9 5.4 3 4.8 2.9 3.9 3 3.1 2.9 2.8 3 3.3 3 3.7 2.9 3.6 3 3.4 2.9 3.3 3 3 2.9 2.3 3 1.4 3 .8 2.9 .9 3 1.1 2.9 .9 3 .7 3 .1 2.9-.1 3-.5 2.9-1.4 3-2.2 3-2.7 2.9-3 3-3 2.9-2.9 3-3 2.9-3.2 3-3.4 3-3.6 2.9-4 3-4 2.9-3.9 3-3.6 2.9-3.3 3-3.5 3-3.8 2.9-4.2 3-4.6 2.9-5.2 3-5.7 3-5.6 2.9-4.8 3-3.9 2.9-3.6 3-4 3-4.4 2.9-4.5 3-3.2 2.9-1.8 3-1.9 2.9-3.9 3-5.8 3-5.7 2.9-3.9 3-2.2 2.9-2.7 3-5 2.9-5.9 3-5 3-4.7 2.9-5.7 3-6.1 2.9-5.2 3-4.7 3-4.9 2.9-5.1 3-5.3 2.9-6 3-6.6 3-5.4 2.9-2.6 3-.5 2.9-1 3-2.9 2.9-4.5 3-5.2 3-5.1 2.9-4.8 3-5.2 2.9-6.1 3-6.7 2.9-5.6 3-2.9 3 0 2.9 1 3-1.2 2.9-6 3-10.4 3-11.4 2.9-8.7 3-5 2.9-2.8 3-2.7 3-3.8 2.9-5.1 3-4.4 2.9-2.2 3-1.3 2.9-3.1 3-5.5 3-6.4 2.9-5.8 3-4.9 2.9-5.1 3-5.8 2.9-6.3 3-6.1 3-5.9 2.9-5.8 3-5.7 2.9-5.5 3-5.2 3-4.7 2.9-4.2 3-4.2 2.9-5.7 3-7.8 3-8.2 2.9-6.8 3-5.2 2.9-4.9 3-5.5 2.9-6.7 3-7.8 3-7.4 2.9-5.9 3-4.7 2.9-5.2 3-7.3 2.9-9.8 3-11.2 3-10.8 2.9-8.6 3-6.4 2.9-5.6 3-6.3" stroke="#00ff22" stroke-width="7.5"/>
<path d="M941.2 -17.1l3 13.6 2.9 19.2 3 16.3 2.9 8 3 1.1 3 0 2.9 3.9 3 8.4 2.9 9.3 3 4.4 2.9-3.1 3-6.4 3-1.7 2.9 6.7 3 12.9 2.9 13.8 3 10.7 2.9 6.2 3 3.3 3 2.5 2.9 2.8 3 4 2.9 4.6 3 3.6 3 3 2.9 5.5 3 9.8 2.9 10.4 3 6.1 3 2.3 2.9 2 3 3.1 2.9 4.8 3 5.9 2.9 5.8 3 5.6 3 6.2 2.9 7.2 3 8 2.9 8.5 3 6.9 2.9 4.4 3 3.2 3 3.6 2.9 4.1 3 3.8 2.9 3.9 3 4.4 3 5 2.9 5.8 3 6.9 2.9 7.9 3 7.9 3 6.9 2.9 5.6 3 4.8 2.9 4.9 3 5.3 2.9 5 3 4.2 3 3.1 2.9 3.6 3 5.5 2.9 7.5 3 8.1 2.9 6.8 3 4.3 3 2.3 2.9 1.6 3 2.7 2.9 5 3 6.6 3 7.1 2.9 6.6 3 5.4 2.9 3.6 3 2.6 3 2.7 2.9 3.8 3 4.8 2.9 4.9 3 4 2.9 4 3 5.1 3 6 2.9 5.6 3 3.9 2.9 3.3 3 4.6 2.9 6.8 3 7.1 3 4.9 2.9 2.2 3 1.2 2.9 2.7 3 4.7 3 5.1 2.9 3.8 3 2.7 2.9 3.4 3 4.8 3 5.5 2.9 5.4 3 5.3 2.9 4.7 3 3.9 2.9 3.6 3 4 3 4.6 2.9 4.5 3 3.8 2.9 3.1 3 2.9 2.9 3.1 3 2.9 3 2.2 2.9 1.2 3 1 2.9 1.3 3 1.1 3 .3 2.9-.2 3-.2 2.9-.7 3-1.9 3-3.2 2.9-4.2 3-4.6 2.9-4.5 3-3.9 2.9-3.7 3-3.7 3-4.2 2.9-4.4 3-4.1 2.9-3.2 3-2.3 2.9-2.2 3-3.7 3-5.4 2.9-6 3-5.4 2.9-4.8 3-5.1 3-4.9 2.9-4 3-2.7 2.9-2.1 3-2.2 3-3 2.9-4 3-5 2.9-5.1 3-4.5 2.9-4.5 3-5.7 3-6.3 2.9-5.5 3-3.9 2.9-2.9 3-3.5 2.9-4.9 3-5.8 3-6.5 2.9-6.5 3-5.7 2.9-4.2 3-2.4 3-1.6 2.9-2.3 3-3.3 2.9-3.4 3-4 3-5.4 2.9-5.6 3-3.8 2.9-3.2 3-4.5 2.9-5.4 3-4.7 3-3.8 2.9-3.8 3-4.3 2.9-4.5 3-4.6 2.9-5.1 3-6 3-6.5 2.9-6 3-4.8 2.9-3.5 3-2.4 3-2.1 2.9-3.2 3-5.1 2.9-6.6 3-7.2 3-6.5 2.9-4.3 3-3.1 2.9-4.4 3-6.9 2.9-7.8 3-6.2 3-4.2 2.9-4 3-4.7 2.9-5.1 3-5.1 2.9-5.4 3-6 3-6.5 2.9-7.2 3-8 2.9-7.3 3-5.1 3-3.3 2.9-3.8 3-4.5 2.9-4 3-3.2 3-3.1 2.9-5.2 3-8.3 2.9-10.2 3-9.2 2.9-7.6 3-7 3-6.6 2.9-5.8 3-4.1 2.9-2.8 3-3.6 2.9-6 3-8.2 3-9.2 2.9-10.1 3-10.6 2.9-10 3-8.6" stroke="#00e5ff" stroke-width="7.5"/>
<path d="M941.2 64.6l3-.4 2.9-1.5 3-2.3 2.9-6.5 3-9.8 3-5.9 2.9 1.3 3 4.9 2.9 7.8 3 13.5 2.9 17.1 3 12.3 3 2.5 2.9-2.3 3 .4 2.9 4.1 3 4.5 2.9 3 3 2.6 3 3 2.9 4.2 3 6.9 2.9 9.5 3 9 3 6.3 2.9 4.2 3 3.8 2.9 3.5 3 2.7 3 2.9 2.9 4.5 3 5.4 2.9 5.6 3 4.5 2.9 3.4 3 3.6 3 5.4 2.9 7.2 3 7.9 2.9 7.5 3 6.1 2.9 4.6 3 3.8 3 4 2.9 4.4 3 4.8 2.9 5.5 3 6.2 3 6.7 2.9 6.9 3 7.2 2.9 7.4 3 6.5 3 4.7 2.9 2.7 3 2.5 2.9 4 3 6 2.9 7.2 3 7.1 3 5.8 2.9 4.2 3 3.9 2.9 4.7 3 5.1 2.9 4.1 3 2.8 3 2.4 2.9 3.8 3 5.8 2.9 6.8 3 6.8 3 6.3 2.9 5.3 3 4.1 2.9 3.1 3 3 3 3.7 2.9 4.6 3 5.2 2.9 5.2 3 5.1 2.9 5.3 3 5.5 3 5.3 2.9 4.3 3 3.4 2.9 3.6 3 5.1 2.9 6.3 3 5.9 3 4.2 2.9 2.8 3 2.5 2.9 3.9 3 5.9 3 6.9 2.9 6.2 3 4.7 2.9 3.8 3 3.4 3 3.1 2.9 2.7 3 3 2.9 3.7 3 4.3 2.9 4.4 3 4.2 3 3.9 2.9 3.5 3 3 2.9 2.7 3 2.7 2.9 2.6 3 2.3 3 2 2.9 2 3 2 2.9 1.2 3 .3 3-.5 2.9-1 3-1.6 2.9-1.8 3-1.9 3-1.7 2.9-1.6 3-1.6 2.9-2.2 3-3.2 2.9-3.8 3-3.9 3-3.9 2.9-3.7 3-3.8 2.9-4.4 3-5.2 2.9-6.2 3-6.4 3-5.7 2.9-4.9 3-4.8 2.9-5.4 3-4.9 3-3.5 2.9-2.9 3-3.2 2.9-3.8 3-4.1 3-4 2.9-3.1 3-1.9 2.9-1.3 3-2 2.9-3.9 3-5.2 3-5.6 2.9-5.4 3-5.2 2.9-4.7 3-3.9 2.9-3.3 3-3.4 3-4.3 2.9-5.6 3-6.2 2.9-5.1 3-3 3-2.3 2.9-3.7 3-5.5 2.9-6 3-4.9 3-3 2.9-1.7 3-2.1 2.9-4.2 3-6.1 2.9-6.1 3-5.4 3-5.9 2.9-6.1 3-5.7 2.9-6 3-7.1 2.9-5.5 3-1.6 3 0 2.9-1.8 3-3.9 2.9-4 3-3 3-2.6 2.9-3.9 3-5.9 2.9-7.1 3-7.1 3-6.9 2.9-5.9 3-4.3 2.9-3.8 3-5.2 2.9-6.8 3-7.7 3-7.7 2.9-7.6 3-7.6 2.9-6.7 3-5.1 2.9-3.5 3-2.4 3-2 2.9-3.2 3-5.4 2.9-8 3-8.4 3-6.6 2.9-4.7 3-4.8 2.9-6.6 3-7.6 3-6.1 2.9-2.5 3 .1 2.9-.9 3-4.7 2.9-8.1 3-9.4 3-8.9 2.9-8.3 3-8.1 2.9-7.5 3-6.8 2.9-6.3 3-6 3-6.2 2.9-6.9 3-8.2 2.9-8.8 3-8.3" stroke="#0070ff" stroke-width="7.5"/>
<path d="M941.2 23.1l3-3 2.9-6.7 3-7.2 2.9-2.9 3 13.1 3 29.5 2.9 29.7 3 17 2.9 6.7 3 4.5 2.9 6.1 3 6 3 2.8 2.9-2.3 3-5.9 2.9-5 3-1.8 2.9 .3 3 2 3 3.3 2.9 4 3 5.5 2.9 8.2 3 8.8 3 6.4 2.9 3.5 3 2.9 2.9 4.3 3 6.2 3 7.5 2.9 7.1 3 6.7 2.9 6.1 3 5.7 2.9 6 3 6.4 3 6.2 2.9 5.1 3 4.4 2.9 5.6 3 6.6 2.9 6 3 3.9 3 2.5 2.9 2.4 3 3 2.9 3.4 3 3.8 3 4.7 2.9 6.2 3 6.9 2.9 6.3 3 5.8 3 5.8 2.9 6.1 3 6.8 2.9 7.5 3 7.3 2.9 5.6 3 4.5 3 5.1 2.9 6.4 3 6.9 2.9 6 3 5.2 2.9 5.7 3 7 3 6.9 2.9 5.4 3 4.3 2.9 4 3 3.2 3 1.5 2.9 .6 3 1.6 2.9 4 3 6.4 3 6.9 2.9 5.6 3 4.1 2.9 4 3 4.2 2.9 3.5 3 3.3 3 3.8 2.9 4.3 3 5.2 2.9 6.7 3 7.2 2.9 5.5 3 3.3 3 2.1 2.9 2.3 3 2.9 2.9 3.8 3 5.4 3 6.1 2.9 6 3 5.3 2.9 4.3 3 3.7 3 3.5 2.9 3.7 3 3.9 2.9 4 3 4 2.9 3.6 3 3.1 3 3 2.9 3.3 3 3.9 2.9 4.4 3 3.8 2.9 2.6 3 1.5 3 1.2 2.9 1.3 3 1 2.9 .7 3 .6 3 .9 2.9 1 3 .7 2.9-.6 3-2.1 3-3.4 2.9-3.7 3-3.4 2.9-3.3 3-3.7 2.9-4.1 3-4.3 3-3.8 2.9-3.2 3-2.7 2.9-2.9 3-3.7 2.9-4.5 3-5.1 3-5.2 2.9-5.4 3-5.7 2.9-5.7 3-5.7 3-5.6 2.9-5 3-3.5 2.9-1.6 3-.4 3-1.3 2.9-3.7 3-5.5 2.9-5.3 3-4.5 2.9-4 3-4.4 3-5 2.9-5.4 3-5.5 2.9-4.9 3-3.2 2.9-1.6 3-1.1 3-1.5 2.9-2.8 3-4.3 2.9-6.3 3-7.7 3-7.3 2.9-5.3 3-3.9 2.9-4 3-4.4 3-4 2.9-3.8 3-3.9 2.9-4.1 3-4 2.9-4.3 3-4.9 3-5.1 2.9-4.7 3-4.4 2.9-4.1 3-4.1 2.9-4.7 3-5.5 3-5.4 2.9-4.4 3-3.8 2.9-4.8 3-6.5 3-7.3 2.9-6.6 3-5.2 2.9-3.1 3-1.7 3-2 2.9-4.3 3-5.9 2.9-5.6 3-5.3 2.9-5.6 3-5.5 3-4 2.9-3.3 3-4.9 2.9-7.7 3-9 2.9-7.1 3-3.9 3-2 2.9-2.2 3-4.1 2.9-6.5 3-7.3 3-6.5 2.9-5.8 3-6.5 2.9-7.1 3-6.7 3-5.6 2.9-4.9 3-5.2 2.9-6.1 3-6.4 2.9-6.1 3-5.7 3-6 2.9-6.5 3-6.7 2.9-7.6 3-9.2 2.9-10.1 3-8.8 3-6.3 2.9-4.9 3-5.1 2.9-6.5 3-7.4" stroke="#2800ff" stroke-width="7.5"/>
<path d="M941.2 56.8l3-.5 2.9 4.5 3 13.4 2.9 12.7 3 2.6 3-7.2 2.9-10.9 3-8.7 2.9-5.1 3-.6 2.9 5.9 3 11.1 3 9.7 2.9 4.7 3 2.3 2.9 3.1 3 5.2 2.9 8.2 3 9.7 3 7 2.9 2.9 3 2.6 2.9 6.3 3 9 3 8.3 2.9 6.4 3 6.1 2.9 5.6 3 4.1 3 3.7 2.9 5.5 3 6.7 2.9 5.8 3 3.5 2.9 2.4 3 3 3 3.9 2.9 4.3 3 4.3 2.9 4.5 3 4.6 2.9 4.2 3 3.9 3 4.5 2.9 5.4 3 6.7 2.9 7.4 3 6.9 3 5.1 2.9 3.6 3 4 2.9 4.7 3 4.9 3 5.1 2.9 5.7 3 6.3 2.9 6.6 3 7 2.9 6.4 3 5.3 3 4.7 2.9 5.5 3 7.1 2.9 7.9 3 7.4 2.9 5.3 3 3.4 3 2.9 2.9 3.3 3 3.7 2.9 3.7 3 4.2 3 4.8 2.9 4.4 3 3.2 2.9 2.4 3 2.6 3 3.8 2.9 5.3 3 6.6 2.9 6.2 3 4.6 2.9 4 3 4.8 3 6.2 2.9 6.6 3 5.7 2.9 3.3 3 1.4 2.9 1.6 3 3.2 3 5.3 2.9 6.3 3 6 2.9 5.3 3 5.2 3 5.8 2.9 5.4 3 3.7 2.9 2.1 3 2 3 2.8 2.9 4.1 3 4.9 2.9 5.2 3 5 2.9 4.3 3 4.3 3 4.7 2.9 4.8 3 3.8 2.9 2.4 3 1.8 2.9 2.1 3 3.2 3 3.6 2.9 2.8 3 1.9 2.9 1.5 3 .8 3-.7 2.9-2.5 3-3.2 2.9-2.6 3-1.6 3-1 2.9-1.3 3-2.1 2.9-3.1 3-3.7 2.9-3.7 3-3.3 3-3.3 2.9-4.3 3-5.1 2.9-5.1 3-4.5 2.9-4 3-3.9 3-3.9 2.9-4.3 3-4.9 2.9-5.4 3-5.6 3-4.8 2.9-3.8 3-2.9 2.9-2.7 3-3.5 3-4.9 2.9-5.9 3-6.2 2.9-4.9 3-2.6 2.9-1.5 3-3 3-5.7 2.9-6.3 3-4.1 2.9-2.3 3-2.8 2.9-4.4 3-5.7 3-6 2.9-4.9 3-3.6 2.9-3.1 3-3.8 3-3.9 2.9-3 3-2.2 2.9-2.6 3-4.3 3-6.6 2.9-7.8 3-6.7 2.9-4.2 3-2.3 2.9-2.7 3-4.2 3-4.7 2.9-4.2 3-4.5 2.9-5.6 3-5.8 2.9-5.4 3-5.2 3-5.8 2.9-6.9 3-7.7 2.9-6 3-2.3 3 .4 2.9-.5 3-3.5 2.9-5.5 3-6.1 3-6.7 2.9-7.2 3-6.1 2.9-4.3 3-2.8 2.9-2.8 3-3.3 3-4 2.9-4.9 3-6.5 2.9-8.4 3-9 2.9-7.8 3-6.2 3-4.5 2.9-3.3 3-3 2.9-2.9 3-2.7 3-3.1 2.9-4 3-5.4 2.9-6.7 3-7.9 3-7.7 2.9-6.5 3-5.5 2.9-5.4 3-5.9 2.9-6 3-5.6 3-5.6 2.9-6.4 3-7.2 2.9-7.5 3-7.4 2.9-7.7 3-8.2 3-9.1 2.9-10 3-10.8 2.9-11 3-9.5" stroke="#8000dd" stroke-width="7.5"/>
<path d="M941.2 77.3l3-11 2.9-21.9 3-19.9 2.9-8.2 3 2.3 3 7.7 2.9 10.6 3 13.3 2.9 15.8 3 17.1 2.9 15.6 3 10.8 3 5.7 2.9 4.1 3 6.4 2.9 8.8 3 6.3 2.9 .1 3-3.6 3-2.3 2.9 .6 3 2.7 2.9 4.5 3 4.9 3 3.8 2.9 2.7 3 3.6 2.9 6.2 3 8.5 3 8.6 2.9 6.6 3 4.9 2.9 3.2 3 2 2.9 2 3 3.8 3 6.5 2.9 8.5 3 8.5 2.9 7.1 3 5.6 2.9 4.7 3 3.6 3 2.4 2.9 2.1 3 3.9 2.9 6.3 3 7.5 3 6.7 2.9 5.4 3 4.9 2.9 5.7 3 6 3 5.3 2.9 3.8 3 3.7 2.9 4.9 3 6.8 2.9 8.3 3 8.5 3 7.2 2.9 4.5 3 1.7 2.9 1.5 3 4.1 2.9 6.7 3 6.3 3 4.1 2.9 3.3 3 4.5 2.9 4.7 3 3.6 3 3.2 2.9 5.1 3 7.5 2.9 7.7 3 6 3 5 2.9 5.1 3 4.6 2.9 3.6 3 3 2.9 2.8 3 3.1 3 4.3 2.9 6.1 3 6.2 2.9 4.5 3 2.5 2.9 1.7 3 2.5 3 4.4 2.9 6.4 3 7.3 2.9 6.1 3 3.9 3 2.8 2.9 3 3 4 2.9 4.5 3 4.6 3 4.6 2.9 4.4 3 3.8 2.9 3.4 3 3.3 2.9 3.4 3 3.5 3 3.8 2.9 3.6 3 3 2.9 2.3 3 2.4 2.9 2.7 3 2.6 3 2.3 2.9 2 3 1.9 2.9 1.7 3 1.2 3 .6 2.9-.1 3-.7 2.9-1.1 3-1.5 3-1.9 2.9-2.4 3-3.1 2.9-3.8 3-4 2.9-4.2 3-4.2 3-3.9 2.9-3.2 3-2.7 2.9-3.4 3-4.4 2.9-4.8 3-4.1 3-3.5 2.9-4.2 3-5.6 2.9-6.3 3-5.3 3-3.6 2.9-2.6 3-3.1 2.9-5.1 3-7.5 3-8.3 2.9-7 3-4.8 2.9-2.9 3-1.5 2.9-1.1 3-2.2 3-3.9 2.9-4.8 3-4.4 2.9-4.1 3-4.4 2.9-4.7 3-4.4 3-4.4 2.9-4.4 3-3.5 2.9-2 3-1.8 3-3.5 2.9-5.7 3-6.4 2.9-5.2 3-3.8 3-3.4 2.9-3.7 3-3.5 2.9-3.4 3-4.2 2.9-5.6 3-6.7 3-6 2.9-3.8 3-2.6 2.9-3.7 3-4.9 2.9-4.7 3-4.6 3-5.2 2.9-5.2 3-4.3 2.9-3.5 3-3.8 3-5.5 2.9-7.2 3-7.5 2.9-5.7 3-3.2 3-1.7 2.9-2.5 3-5 2.9-6.8 3-7 2.9-6.3 3-5.6 3-3.8 2.9-2.2 3-2.1 2.9-4.1 3-6.7 2.9-7.6 3-6.9 3-5.7 2.9-4.7 3-3.8 2.9-4.2 3-5.6 3-6.7 2.9-6.8 3-6.4 2.9-6 3-5.3 3-5.3 2.9-6.7 3-8.6 2.9-10.1 3-9.7 2.9-7.7 3-5.2 3-3.4 2.9-3.7 3-6 2.9-8 3-8.3 2.9-7.4 3-6.5 3-6.6 2.9-6.9 3-6.7 2.9-6.8 3-7.1" stroke="#660066" stroke-width="7.5"/>
</g>
<g clip-path="url(#cpE)" fill="none" stroke-linejoin="round" stroke-linecap="round">
<path d="M941.2 1057l3-18.1 2.9-27.1 3-14.9 2.9 4.1 3 11.8 3 8.2 2.9 6.1 3 7.3 2.9 1.7 3-11.2 2.9-17.3 3-8.4 3 6.1 2.9 11.9 3 8 2.9 2.3 3-1.9 2.9-6.4 3-10.2 3-11.1 2.9-7.6 3 1.3 2.9 12.1 3 17.3 3 14.3 2.9 7 3 1.1 2.9-.2 3 1.4 3 1.6 2.9-4.2 3-8.6 2.9-10.4 3-9.8 2.9-8 3-5.1 3-1.7 2.9 .4 3 1.4 2.9 2.3 3 2.5 2.9 .5 3-2.9 3-4.3 2.9-2.7 3 .1 2.9 1.6 3 2.5 3 4.2 2.9 3.6 3-1.6 2.9-8.8 3-11.4 3-6.7 2.9 1.5 3 7.3 2.9 8 3 4 2.9-1.4 3-5 3-4.7 2.9-2.3 3-1.4 2.9-3.4 3-7 2.9-10.2 3-10.6 3-7.4 2.9-1.5 3 4.5 2.9 8 3 7.9 3 5.2 2.9 1.1 3-3.5 2.9-6.7 3-6.5 3-3.4 2.9-.2 3 1.7 2.9 2.7 3 3.4 2.9 3.9 3 4.1 3 2.6 2.9-1.7 3-7.7 2.9-12.1 3-13.5 2.9-12.2 3-7.2 3 .7 2.9 7.4 3 8.6 2.9 4.1 3-1.2 3-2.8 2.9-.3 3 3.3 2.9 4.9 3 3.5 3 .4 2.9-1.5 3-.9 2.9 .3 3 .4 2.9-1 3-2.2 3-2.3 2.9-1.8 3-2.1 2.9-3.7 3-5.7 2.9-6.7 3-5.6 3-2.8 2.9 .3 3 2.6 2.9 2.8 3 1.3 3-1.4 2.9-3.9 3-4.6 2.9-4.1 3-3 3-1.5 2.9 0 3-.1 2.9-2.4 3-5.1 2.9-6.2 3-6.5 3-7.3 2.9-7.5 3-4.7 2.9 .5 3 4 2.9 3.2 3-.4 3-2.6 2.9-1.3 3 3.2 2.9 6.8 3 5.5 3 .5 2.9-3.3 3-3.2 2.9-1.3 3-.1 3-.4 2.9-2.3 3-4.8 2.9-7.1 3-7.4 2.9-5.6 3-3.3 3-1.6 2.9-1.1 3-2.1 2.9-3.7 3-2.6 2.9 1.9 3 5.5 3 2.9 2.9-3.9 3-7.7 2.9-4.9 3 1.1 3 4.7 2.9 4.5 3 2.4 2.9 .2 3-1.3 3-.9 2.9 .9 3 2.2 2.9 .6 3-3.4 2.9-6.8 3-7.1 3-5.5 2.9-4.2 3-4 2.9-2.7 3 1.2 2.9 5.1 3 5.9 3 5.2 2.9 6.3 3 9 2.9 10.1 3 7.7 3 1.6 2.9-6 3-11 2.9-10.9 3-6.8 3-1.8 2.9 1.8 3 3.1 2.9 1.3 3-2.1 2.9-4 3-2.9 3-.5 2.9 .1 3-2.8 2.9-7.5 3-10.2 2.9-8.9 3-4.3 3 .5 2.9 1.7 3-2.1 2.9-6.5 3-5.9 3 1.2 2.9 10.6 3 15.1 2.9 10.2 3-.8 3-9.4 2.9-9.7 3-2.8 2.9 4.6 3 7.1 2.9 7.7 3 8.8 3 9.1 2.9 7.6 3 4.3 2.9 1.8 3 1.1 2.9-1.7 3-7.1 3-8.6 2.9-7.5 3-4.8 2.9-3.8 3-3.9" stroke="#640000" stroke-width="7.5"/>
<path d="M941.2 1022.4l3-10.7 2.9-12.8 3-3.5 2.9 4.1 3 5.6 3 3.1 2.9-1.2 3-2.7 2.9 1.2 3 7 2.9 10.4 3 11.7 3 13.1 2.9 11.9 3 5.4 2.9-3.9 3-9.8 2.9-10.4 3-10.6 3-13.2 2.9-14.4 3-11 2.9-3.5 3 4.1 3 7.4 2.9 6.5 3 4.6 2.9 5.2 3 7.1 3 6.9 2.9 4.4 3 .4 2.9-1.8 3-3 2.9-6.1 3-10.2 3-11.5 2.9-8.1 3-3 2.9 .4 3 1.9 2.9 3.3 3 5.1 3 7.1 2.9 9 3 9.5 2.9 6 3-.7 3-5.3 2.9-3.9 3-.4 2.9 .6 3-1.9 3-4.9 2.9-6 3-5.4 2.9-3.8 3-2 2.9-1.2 3-2.9 3-5.3 2.9-4.8 3-.1 2.9 5 3 5.7 2.9 1.7 3-3.9 3-8.5 2.9-10.6 3-9.1 2.9-4.6 3 .2 3 3 2.9 3.7 3 3.9 2.9 3.7 3 1.6 3-1.4 2.9-3.6 3-4.3 2.9-3.8 3-2.7 2.9-1.3 3 0 3-.4 2.9-3.8 3-8.5 2.9-10.4 3-8.2 2.9-4 3 0 3 3.3 2.9 6.1 3 7.1 2.9 4.4 3-2.2 3-9.3 2.9-12.4 3-8.5 2.9 .5 3 7.4 3 7.3 2.9 2.6 3-.2 2.9 .2 3 .3 2.9-2 3-4.6 3-4.9 2.9-2.5 3 .4 2.9 1.4 3 .4 2.9-.8 3-1.2 3-1.2 2.9-.9 3-.8 2.9-1.3 3-2.4 3-3.3 2.9-3.9 3-3.2 2.9-1.4 3 .1 3-.7 2.9-3.4 3-5.6 2.9-5.5 3-3.5 2.9-1 3 .3 3-.7 2.9-4.2 3-7.2 2.9-6.3 3-1.8 2.9 2.1 3 2.1 3-.2 2.9-1.3 3-.8 2.9-.8 3-1.6 3-.9 2.9 1 3 .2 2.9-4.1 3-8 3-7.3 2.9-3.7 3-.6 2.9 1.4 3 2.8 2.9 1.6 3-3.4 3-9 2.9-10 3-6.5 2.9-2.7 3-1.9 2.9-2.7 3-2.2 3 .7 2.9 5.5 3 9.9 2.9 11.1 3 7.7 3 2.2 2.9-1.9 3-2.8 2.9-1.9 3-2 3-2 2.9 .2 3 3.1 2.9 2.9 3-.3 2.9-3.5 3-5 3-6.7 2.9-8.5 3-7.4 2.9-2.4 3 4.1 2.9 7.6 3 5.6 3-.2 2.9-5.4 3-6.6 2.9-4.2 3-.6 3 1 2.9 .1 3-1.4 2.9-.5 3 2.3 3 5 2.9 3.7 3-1.6 2.9-5.9 3-5.7 2.9-2.5 3 1.8 3 4.7 2.9 4.5 3 .4 2.9-3.5 3-4.4 2.9-3.2 3-3 3-3.5 2.9-3.3 3-2.2 2.9-1.7 3-1.7 3-1.9 2.9-1.3 3 .9 2.9 4.2 3 6.7 3 5.6 2.9 1.1 3-4.1 2.9-7.6 3-7.8 2.9-3.6 3 2.9 3 7.5 2.9 8.8 3 6.9 2.9 4.5 3 2.4 2.9-2.3 3-10.4 3-15.4 2.9-13.8 3-6 2.9 .3 3 .2" stroke="#960000" stroke-width="7.5"/>
<path d="M941.2 1050.2l3-19.7 2.9-30.5 3-17.7 2.9 4.4 3 15.6 3 12.9 2.9 5.9 3 1 2.9 .7 3 6.4 2.9 13.5 3 14.3 3 8.5 2.9 1.1 3-6 2.9-12.2 3-13.7 2.9-10.8 3-6 3 0 2.9 6.8 3 10.2 2.9 6.4 3-3.2 3-12.4 2.9-15 3-9.5 2.9-1.3 3 3.7 3 3.8 2.9 .8 3-1.8 2.9-2.2 3-1.7 2.9-1.6 3-1.3 3-.2 2.9 .9 3 1.5 2.9 2.7 3 5.5 2.9 7.9 3 5.8 3-1.2 2.9-7.8 3-9.3 2.9-5.9 3-.9 3 2.6 2.9 2.5 3-.5 2.9-3.3 3-2.9 3 .3 2.9 3.8 3 5.1 2.9 3.3 3-.2 2.9-2.6 3-2.6 3-1 2.9 .6 3 1.7 2.9 1.9 3 1.6 2.9 1.5 3 .8 3-1.7 2.9-4.2 3-3.6 2.9-.1 3 1.3 3-1.2 2.9-5.3 3-7.1 2.9-5.8 3-3.6 3-3.4 2.9-4.3 3-4.4 2.9-3.5 3-3.5 2.9-3.6 3-2.5 3 .1 2.9 2.7 3 3.7 2.9 2.6 3-.3 2.9-3.6 3-5.4 3-5.3 2.9-4.2 3-3.3 2.9-1.8 3 .3 3 1.4 2.9 1.4 3 2 2.9 3.2 3 2.8 3 .2 2.9-2.7 3-4 2.9-4.1 3-4.2 2.9-4.8 3-5.4 3-5.7 2.9-5.1 3-3.6 2.9-1.7 3-.5 2.9-.3 3-1 3-1.6 2.9-1.7 3-1.2 2.9 .1 3 1.1 3 1 2.9-.1 3-1.1 2.9-1.1 3-.9 3-.9 2.9-1.4 3-2 2.9-3.5 3-5.6 2.9-6.8 3-6 3-4 2.9-1.4 3 2 2.9 4.6 3 4.7 2.9 2.7 3 1 3 .3 2.9-.8 3-3.3 2.9-5.6 3-6.5 3-6.8 2.9-7.3 3-7 2.9-3.8 3 .5 3 2.8 2.9 2.2 3 1.5 2.9 2.1 3 3.8 2.9 5 3 3.6 3-1.1 2.9-8.1 3-13.7 2.9-13.9 3-8 2.9 1 3 8.6 3 11.8 2.9 10 3 4.2 2.9-2.8 3-7.6 3-9.8 2.9-11.3 3-12.4 2.9-11.8 3-7.5 3-.7 2.9 5.7 3 8.9 2.9 7.6 3 1.5 2.9-7.4 3-13.7 3-12.3 2.9-4 3 5.2 2.9 10.1 3 7.9 2.9 1 3-4.5 3-4.6 2.9-.4 3 3.5 2.9 3.7 3-.4 3-5.2 2.9-6.7 3-4.3 2.9-1.6 3-1 3-1 2.9 .1 3 .6 2.9-.4 3-2.5 2.9-4.7 3-6.4 3-5.6 2.9-1.5 3 4.3 2.9 7.7 3 7 2.9 5 3 4.2 3 3.3 2.9 .6 3-2.6 2.9-3.5 3-2.9 3-3 2.9-3.3 3-1.3 2.9 2.4 3 4.4 3 3.1 2.9 .3 3-2.7 2.9-5.7 3-8.1 2.9-6.9 3-2.4 3 2.5 2.9 4.9 3 3.6 2.9-.3 3-3.2 2.9-5 3-6.6 3-7.4 2.9-7.2 3-5.1 2.9-2.5 3-1.7" stroke="#c80000" stroke-width="7.5"/>
<path d="M941.2 1035.1l3 7.5 2.9 9.3 3 .2 2.9-10.7 3-9.8 3 4.9 2.9 17.3 3 13.3 2.9-1.2 3-11.5 2.9-12.4 3-8.6 3-4.2 2.9 1 3 6 2.9 7.4 3 3.4 2.9-2.2 3-3.5 3-.6 2.9 2.8 3 3.2 2.9 .3 3-1.7 3-.8 2.9 .9 3-.3 2.9-5.2 3-10.5 3-11.3 2.9-7.5 3-.9 2.9 2.6 3 2.7 2.9 2 3 1.6 3 2.1 2.9 3.2 3 3.5 2.9 1.8 3-1 2.9-2.4 3-1.4 3 .5 2.9 0 3-2.3 2.9-3.6 3-2.5 3-.2 2.9 .5 3-1.1 2.9-4.2 3-5.3 3-3.4 2.9 .3 3 3.4 2.9 5.3 3 5 2.9 1.7 3-3.1 3-6.6 2.9-6.3 3-2.5 2.9 1.3 3 2.6 2.9 2.7 3 2.9 3 1.2 2.9-3 3-6.7 2.9-6.5 3-3.7 3-1 2.9-.4 3-1.7 2.9-4.5 3-6.1 3-3.9 2.9 2.9 3 9.7 2.9 11.7 3 7.9 2.9 .9 3-5.2 3-7.4 2.9-6.1 3-3.2 2.9-2.4 3-5.6 2.9-10.6 3-13.6 3-12.5 2.9-6.7 3 1.6 2.9 8 3 9.2 3 6 2.9 1.5 3-1.5 2.9-2.2 3-1.9 3-2.6 2.9-4.4 3-5.3 2.9-3.9 3-1.6 2.9-.4 3-1.1 3-2.1 2.9-3.1 3-4.2 2.9-5.5 3-5.5 2.9-3.2 3 1.1 3 4.1 2.9 3.6 3 .2 2.9-3.3 3-5.2 3-4.9 2.9-3.6 3-2.6 2.9-2.1 3-1.2 3 .1 2.9 .4 3-1 2.9-2.9 3-2.2 2.9 1.4 3 5.5 3 6.9 2.9 4.3 3 .3 2.9-1.9 3-2.2 2.9-4.2 3-8.7 3-13.2 2.9-14.1 3-10.2 2.9-3.4 3 1.9 3 1.9 2.9-2 3-4.1 2.9-1.8 3 .5 3-1.7 2.9-6.5 3-6.8 2.9 .1 3 8.9 2.9 11.2 3 4.8 3-4.6 2.9-10.7 3-11.2 2.9-7.7 3-3.3 2.9-.9 3-.3 3 1 2.9 3.4 3 5.5 2.9 5.4 3 3.9 3 3.2 2.9 3.8 3 2.5 2.9-3.9 3-13.8 3-21 2.9-19.5 3-10.2 2.9 .7 3 7.8 2.9 9.1 3 6.2 3 1.2 2.9-2.8 3-3.9 2.9-3.1 3-2.8 2.9-3.2 3-3 3-1.3 2.9 1.8 3 3.9 2.9 3.6 3 2.9 3 3.2 2.9 1.8 3-2.3 2.9-5.8 3-6.2 3-4.2 2.9-2.9 3-3.3 2.9-4.7 3-5 2.9-2 3 3.7 3 8.8 2.9 9.3 3 4.5 2.9-2.3 3-6.3 2.9-4.4 3 .9 3 2.6 2.9-1.4 3-6.3 2.9-6 3-.5 3 4.9 2.9 5.5 3 2.4 2.9-.3 3-.8 3 0 2.9 .1 3-1.1 2.9-2.1 3-2.8 2.9-3.4 3-2.2 3 2.2 2.9 8.1 3 10.7 2.9 8.7 3 3.7 2.9-2.7 3-8.3 3-10.9 2.9-10.4 3-8.3 2.9-6.6 3-4.2" stroke="#f00000" stroke-width="7.5"/>
<path d="M941.2 950.6l3-13.2 2.9-7.6 3 17.8 2.9 31.2 3 26.5 3 20.5 2.9 20.4 3 17.8 2.9 9.5 3 .9 2.9-5.7 3-10.6 3-10.8 2.9-4.9 3 3.9 2.9 8.5 3 4.7 2.9-3.2 3-7.3 3-6.4 2.9-3.3 3 .5 2.9 3.5 3 4.1 3 1.8 2.9-3.3 3-9.4 2.9-11.9 3-9 3-3.6 2.9-2.4 3-.1 2.9 2.5 3 5.8 2.9 6.9 3 2.6 3-3.9 2.9-6.1 3-1.4 2.9 5.9 3 9.4 2.9 7.8 3 3.2 3-2.8 2.9-9.2 3-12.9 2.9-10.8 3-4.9 3-.6 2.9 .3 3 1.5 2.9 4.8 3 8.3 3 9.6 2.9 6.9 3 1.3 2.9-4.6 3-9 2.9-11 3-10.2 3-5.1 2.9 3.4 3 11 2.9 13 3 9.5 2.9 4.5 3 .9 3-.5 2.9-.1 3 .4 2.9-2.2 3-8.3 3-13.1 2.9-12.5 3-7.6 2.9-3.6 3-2.8 3-1.8 2.9 1.8 3 5.4 2.9 4.1 3-1.7 2.9-6.7 3-8 3-6.2 2.9-2.8 3 .5 2.9 2.1 3 1.7 2.9-.5 3-3.7 3-6.4 2.9-6.2 3-2.8 2.9 1.9 3 5.4 3 6.1 2.9 3.8 3 .3 2.9-3.2 3-6 3-7.5 2.9-6.1 3-2 2.9 1.9 3 1.7 2.9-3.4 3-8.9 3-9.9 2.9-6.4 3-2.1 2.9 .5 3 .9 2.9-.1 3-1.9 3-3.5 2.9-4.6 3-4.7 2.9-3.7 3-2 3-.6 2.9 .9 3 2.5 2.9 3.4 3 2.2 3-.7 2.9-2.9 3-2.6 2.9-.8 3 .6 2.9 1 3-.1 3-2.9 2.9-5.6 3-6.6 2.9-4.9 3-1.5 2.9 2.6 3 5.3 3 5.3 2.9 2.4 3-1.6 2.9-6.5 3-12 3-15 2.9-12.5 3-5.6 2.9-.4 3-.3 3-2.3 2.9-2.5 3-.8 2.9 .4 3 .8 2.9 1 3 .2 3-2.1 2.9-6 3-9 2.9-8.7 3-4.9 2.9 .2 3 4.3 3 5.5 2.9 3.2 3-.8 2.9-4.2 3-5.1 3-3.6 2.9-1.1 3 .9 2.9 2.2 3 3.5 3 2.5 2.9-2.4 3-7.9 2.9-8.1 3-2.6 2.9 1.8 3 1 3-.6 2.9 2 3 6.3 2.9 6.6 3 1.5 2.9-4.1 3-5.6 3-3.4 2.9-1.2 3-1.7 2.9-4.8 3-7.5 3-7.3 2.9-4.1 3-.5 2.9 2.1 3 3.7 3 4.5 2.9 3.4 3 .3 2.9-3.3 3-5.3 2.9-4.7 3-1.9 3 1.1 2.9 2.7 3 2.9 2.9 1.3 3-2.1 2.9-5.8 3-7.6 3-6.5 2.9-3.9 3-1 2.9 .6 3 1 3 .8 2.9 .8 3 1.4 2.9 3 3 3.8 3 2.2 2.9-1.3 3-4.2 2.9-4.6 3-2.8 2.9-2.1 3-2.8 3-2 2.9 1.3 3 4.9 2.9 5.8 3 4.3 2.9 2.4 3 .7 3-1.5 2.9-4.7 3-7.4 2.9-7.3 3-4.3" stroke="#ff0000" stroke-width="7.5"/>
<path d="M941.2 962.8l3 30.9 2.9 45.1 3 27 2.9-3 3-18.3 3-13.4 2.9-5.2 3-6.5 2.9-12 3-13.2 2.9-8.2 3 2.3 3 14.4 2.9 20.8 3 19.8 2.9 16.1 3 10.5 2.9 2.5 3-3.9 3-6.4 2.9-8.3 3-10.3 2.9-8.5 3-3.1 3 .7 2.9-.7 3-4.6 2.9-7.3 3-6.2 3-2 2.9 2.2 3 1.3 2.9 .4 3 4.3 2.9 10.9 3 13.5 3 7.5 2.9-2.2 3-8.7 2.9-8.9 3-5.1 2.9-.1 3 4.1 3 6.6 2.9 5.8 3 2.7 2.9-.9 3-3.7 3-5.9 2.9-7.2 3-8.1 2.9-8.8 3-6.5 3 .1 2.9 6.6 3 6.9 2.9 1.1 3-4.3 2.9-5.4 3-3.5 3-.8 2.9 1.2 3 1.9 2.9 1.2 3 1.3 2.9 2.7 3 2.7 3 .5 2.9-.6 3 1.6 2.9 5.1 3 5.3 3 .7 2.9-5.2 3-7.7 2.9-6.3 3-4.3 3-5.4 2.9-8.1 3-8.8 2.9-6.8 3-3.5 2.9 .2 3 4.7 3 7 2.9 4.5 3-1.6 2.9-6.7 3-8.1 2.9-6.1 3-2.2 3 .7 2.9-.1 3-4.1 2.9-7.1 3-5.7 3 .3 2.9 7.7 3 11.4 2.9 7.7 3-1.6 3-9.3 2.9-10.5 3-7.2 2.9-4.4 3-4.1 2.9-5.1 3-5.4 3-4.1 2.9-3.2 3-3.7 2.9-3.8 3-2.6 2.9-.4 3 1.2 3 1.2 2.9 .2 3-.7 2.9-.2 3 1 3 1.5 2.9 1.3 3 .9 2.9 .3 3-1 3-2.3 2.9-2.5 3-2.1 2.9-1.9 3-2.1 2.9-2.4 3-3.2 3-5 2.9-6.6 3-6.3 2.9-3.7 3-1.1 2.9-.3 3-1.4 3-3.3 2.9-6.1 3-8.6 2.9-8.8 3-5.9 3-1.1 2.9 2.3 3 1.2 2.9-4.6 3-11 3-12.1 2.9-5.8 3 3.2 2.9 7.7 3 5.6 2.9-.1 3-4.4 3-5.1 2.9-3.2 3-1.1 2.9 .3 3 .5 2.9-1.3 3-4.5 3-6.6 2.9-5.9 3-3.3 2.9-1.1 3 .4 3 2.3 2.9 3.8 3 3.1 2.9 .4 3-1.6 3-1.6 2.9 .6 3 5 2.9 8.9 3 7.2 2.9-.9 3-9.8 3-12.7 2.9-8.2 3-.5 2.9 4.8 3 4.8 2.9-.4 3-6.9 3-9.3 2.9-5.2 3 1.2 2.9 3.4 3 .7 3-2.9 2.9-4.7 3-5.2 2.9-6.1 3-7.3 3-6.8 2.9-3.1 3 2.8 2.9 7.5 3 7.2 2.9 2.1 3-2.8 3-3.1 2.9 .6 3 4.2 2.9 5.3 3 3.2 2.9-.1 3-2.3 3-1.6 2.9 .8 3 2.7 2.9 2.7 3 1.6 3 1.4 2.9 2 3-.4 2.9-7.5 3-13.8 3-12.4 2.9-3.2 3 6.6 2.9 10.1 3 6 2.9-.5 3-3.4 3-1.5 2.9 1.7 3 2 2.9-.2 3-1.9 2.9-2.3 3-4.6 3-8.9 2.9-9 3-1.7 2.9 5.7 3 4.8" stroke="#ff0a00" stroke-width="7.5"/>
<path d="M941.2 1114l3 3.4 2.9 7.6 3-1.4 2.9-22 3-33.8 3-28.2 2.9-16.3 3-6 2.9 2.1 3 6.3 2.9 4 3-3 3-7.6 2.9-2.3 3 9.5 2.9 16.8 3 14.6 2.9 6.8 3 .1 3-2.5 2.9-3.3 3-4.7 2.9-7.1 3-8.7 3-6.2 2.9-1.2 3 1 2.9-1.4 3-4.4 3-3.5 2.9-.3 3 .5 2.9 0 3 0 2.9 .8 3 1.2 3 1.2 2.9 1.9 3 3.9 2.9 6.4 3 7.9 2.9 7 3 3.2 3-2.2 2.9-5.8 3-4.6 2.9 0 3 2.1 3-1.6 2.9-8.2 3-12.1 2.9-10.2 3-4.4 3 2 2.9 5.3 3 5 2.9 3 3 2.2 2.9 2.3 3 .3 3-4.9 2.9-9.1 3-7.1 2.9 .3 3 6.7 2.9 7.6 3 3.8 3 0 2.9-1.5 3-1.5 2.9-1.4 3-1.8 3-2.7 2.9-4.5 3-5.8 2.9-5 3-1.9 3 1.8 2.9 2.5 3-1.1 2.9-5.3 3-5.6 2.9-2.2 3 .6 3 .9 2.9 .5 3 1.1 2.9 1.7 3 .1 2.9-3.7 3-7.3 3-8.2 2.9-5.3 3-.5 2.9 2.8 3 2.6 3-.1 2.9-2.3 3-3.1 2.9-3.8 3-5.7 3-7.7 2.9-7.4 3-4.4 2.9-.4 3 1.1 2.9-.7 3-3.4 3-3.6 2.9-1.4 3 0 2.9-1.2 3-3.7 2.9-5 3-4.6 3-3.2 2.9-2.3 3-2 2.9-2.4 3-2.3 3-1.9 2.9-1.4 3-1.2 2.9-1.3 3-.9 3-.9 2.9-1.3 3-2.6 2.9-5.3 3-8.6 2.9-10.6 3-9.4 3-5.2 2.9 .3 3 3.9 2.9 4.3 3 1.6 2.9-2.5 3-6.2 3-8.6 2.9-9.2 3-8.8 2.9-7.7 3-5.5 3-1.7 2.9 3.2 3 6.6 2.9 5.6 3 .7 3-4.2 2.9-5.5 3-3 2.9-.4 3 .2 2.9-.2 3-.1 3-.6 2.9-3.6 3-7.6 2.9-9.6 3-6.5 2.9-.2 3 4.2 3 3.3 2.9-1.5 3-5.5 2.9-5.7 3-2 3 3.5 2.9 6.5 3 4.5 2.9-1.2 3-6.2 3-6.1 2.9-1.8 3 2 2.9 1.9 3-.7 2.9-1.3 3 1.2 3 2.5 2.9-1.7 3-8.4 2.9-10.1 3-4.7 2.9 2.8 3 6.6 3 6.5 2.9 5.2 3 3.5 2.9 0 3-2.7 3-.9 2.9 5.1 3 9.6 2.9 8.1 3 3.3 3-.9 2.9-4.5 3-8.6 2.9-11.4 3-10 2.9-5 3-.2 3 1 2.9-.6 3-1.4 2.9-.4 3 1.2 2.9 2.1 3 1.5 3-.8 2.9-4.6 3-6.6 2.9-4.2 3 1 3 4.5 2.9 5 3 4 2.9 1.3 3-4 3-10.7 2.9-13.4 3-10.5 2.9-4.8 3 0 2.9 2.8 3 3.6 3 2 2.9-.3 3-.6 2.9 1.3 3 2.6 2.9 1.9 3 .8 3 .9 2.9 2 3 3.3 2.9 3.5 3 1.4" stroke="#ff5000" stroke-width="7.5"/>
<path d="M941.2 1079.8l3 2.6 2.9 1.9 3-.5 2.9 1.4 3 3.9 3-3.3 2.9-23.4 3-41 2.9-38.2 3-16.2 2.9 10 3 24.4 3 18.1 2.9 1.7 3-5.1 2.9 3.7 3 17.6 2.9 25.1 3 24.4 3 18.8 2.9 9.2 3-5.1 2.9-17.5 3-18.7 3-10 2.9-1 3 3.8 2.9 4.7 3 2 3-3.1 2.9-3.7 3-1 2.9 .8 3-.8 2.9-4.1 3-7.9 3-10.3 2.9-8.2 3 .1 2.9 9.9 3 13.5 2.9 8.5 3 0 3-5.4 2.9-5.5 3-2 2.9 2.1 3 4.9 3 5 2.9 3.2 3 1 2.9-2 3-4.5 3-4.2 2.9-.7 3 2.5 2.9 3.2 3 2.4 2.9 1 3-.9 3-3.4 2.9-4.8 3-2.8 2.9 2.2 3 7.8 2.9 10 3 6.8 3-.5 2.9-7.8 3-10.4 2.9-7.6 3-2 3 1.9 2.9 1.5 3-.5 2.9-.8 3 .5 3-1 2.9-6.6 3-12.8 2.9-13.7 3-7 2.9 3.1 3 9.1 3 8.5 2.9 5.4 3 2.2 2.9-1.5 3-5.2 2.9-7.5 3-8.3 3-8 2.9-5.7 3-1.8 2.9 2.1 3 2.9 3-.3 2.9-5.2 3-8.2 2.9-8.2 3-6.8 3-6.3 2.9-6.6 3-5.8 2.9-3.3 3-.4 2.9 1.1 3 .9 3 .1 2.9-.6 3-2.3 2.9-4.9 3-6.6 2.9-6.3 3-5.5 3-5.8 2.9-6.4 3-5.5 2.9-2.8 3-.6 3-.6 2.9-2.5 3-4 2.9-4.9 3-5.6 3-6.2 2.9-6.3 3-6.7 2.9-7.3 3-7.7 2.9-6.8 3-4.4 3-1.4 2.9-.3 3-2.4 2.9-5.7 3-6.5 2.9-4.9 3-3.7 3-4.7 2.9-6.8 3-7.6 2.9-6 3-1.8 3 1.9 2.9 2.4 3 .4 2.9-2.5 3-5.2 3-5.6 2.9-1.7 3 5.4 2.9 9.9 3 8.5 2.9 2.5 3-4.8 3-10.5 2.9-12.9 3-10.8 2.9-4.4 3 3.7 2.9 9.8 3 10 3 3.3 2.9-5.7 3-10.6 2.9-8 3-.4 3 6.8 2.9 10.3 3 9.2 2.9 4.8 3-.8 3-6.2 2.9-9.5 3-10.1 2.9-7.5 3-1.9 2.9 3.7 3 6.1 3 5.2 2.9 2.8 3-.2 2.9-3.2 3-4.7 2.9-3.4 3-1.9 3-3.2 2.9-6.4 3-7.4 2.9-3.5 3 3.5 3 9.5 2.9 10.4 3 6.6 2.9 1.3 3-4.1 3-9.5 2.9-11.9 3-7.9 2.9 .8 3 7.9 2.9 9.3 3 4.9 3-2.6 2.9-9.6 3-11.3 2.9-5.8 3 2.7 2.9 7.8 3 6.3 3-.6 2.9-9.2 3-14.4 2.9-12.9 3-5.9 3 2.1 2.9 6.5 3 5.9 2.9 1.8 3-4.1 3-8.2 2.9-7.2 3-.6 2.9 5.7 3 6 2.9 .5 3-5.3 3-5.5 2.9-1.5 3 1.3 2.9-.1 3-2.5 2.9-1.6 3 3 3 7 2.9 5.9 3 1.2 2.9-2.3 3-2.4" stroke="#ffa500" stroke-width="7.5"/>
<path d="M941.2 1083.2l3-11.3 2.9-19.2 3-18.6 2.9-8.7 3 7.8 3 12.2 2.9-7 3-28.3 2.9-26.5 3-6.8 2.9 11.9 3 22.1 3 19.6 2.9 4.6 3-9.9 2.9-10.9 3-3.2 2.9 2.1 3 2.7 3 2.2 2.9 2.2 3 4.4 2.9 9.2 3 13 3 11.7 2.9 6.3 3 .1 2.9-4.2 3-4.1 3 .9 2.9 6.4 3 7.9 2.9 6.1 3 2.8 2.9-1.2 3-4.6 3-5.9 2.9-5.1 3-2.8 2.9-.3 3 2.9 2.9 6.4 3 7.8 3 4.2 2.9-3 3-8.4 2.9-8.3 3-5 3-1.7 2.9 1.3 3 4 2.9 4.5 3 2.3 3 .2 2.9 .8 3 3.7 2.9 6.5 3 6.7 2.9 2.9 3-3.2 3-8.4 2.9-9.9 3-6.9 2.9-1.6 3 4 2.9 8.4 3 9.7 3 7.7 2.9 3.4 3-1.1 2.9-4.1 3-4.4 3-2.4 2.9-1 3-.5 2.9 1.2 3 4.2 3 4.2 2.9-.6 3-7.7 2.9-11.9 3-9.9 2.9-3.1 3 4.5 3 9.2 2.9 8.8 3 3.2 2.9-3.9 3-7.8 2.9-6.5 3-2.2 3 1.3 2.9 2 3 .6 2.9-.4 3-.6 3-1.2 2.9-2.3 3-4.6 2.9-8.1 3-10.9 3-10.3 2.9-6.6 3-1.8 2.9 1.9 3 2.9 2.9 .1 3-4.9 3-9.4 2.9-11.8 3-11.2 2.9-7.8 3-4.5 2.9-3.7 3-5.8 3-8.2 2.9-8.7 3-8.1 2.9-7.7 3-8.7 3-10.7 2.9-12.7 3-13.1 2.9-11.5 3-8.6 3-6.2 2.9-6.2 3-8.1 2.9-10.4 3-11.2 2.9-10.1 3-6.6 3-2.5 2.9-1.3 3-3.8 2.9-7.1 3-7.3 2.9-4.8 3-1.7 3 .8 2.9 1.9 3 1 2.9-1.2 3-3.7 3-4.9 2.9-4.1 3-2.4 2.9-1.7 3-2.8 3-2 2.9 3.2 3 9.6 2.9 10.1 3 4.4 2.9-1.2 3-2.8 3-2.9 2.9-5.1 3-6.5 2.9-3 3 4.1 2.9 8.4 3 6 3-1.2 2.9-8.2 3-9.8 2.9-5.4 3 .4 3 3.4 2.9 3.8 3 3.4 2.9 2.6 3 1.2 3 .4 2.9 .8 3 1.7 2.9 2.1 3 2.2 2.9 1.9 3-.1 3-3.9 2.9-8.2 3-9.9 2.9-7.7 3-4.3 2.9-3.5 3-5.5 3-5.6 2.9-.7 3 7.5 2.9 13.8 3 14.6 3 10.8 2.9 4.6 3-1.8 2.9-6.6 3-8.6 3-7.6 2.9-6.4 3-6.5 2.9-7.4 3-7.6 2.9-6.9 3-4.5 3 .6 2.9 6.3 3 8.9 2.9 7.4 3 3.6 2.9 .1 3-1.3 3-.5 2.9 .3 3-2 2.9-7.4 3-11.7 3-10.6 2.9-5.7 3-1.6 2.9-.1 3 1.1 3 2.8 2.9 3.6 3 3.7 2.9 3 3 1.9 2.9 1.2 3 .1 3-1.9 2.9-3 3-1.5 2.9-.3 3-2 2.9-4.6 3-3.6 3-.1 2.9 1.3 3-1.6 2.9-5.1 3-4.4" stroke="#ffff00" stroke-width="7.5"/>
<path d="M941.2 877.8l3 40.7 2.9 58.2 3 44.7 2.9 23.1 3 16 3 23.7 2.9 32.3 3 27.7 2.9 5.7 3-18.2 2.9-23.1 3-7.4 3 11.9 2.9 19 3 9.1 2.9-10.2 3-21.7 2.9-17 3-4.8 3 .4 2.9-2.7 3-4.9 2.9-3.8 3-3.2 3-2.7 2.9 1.8 3 6.9 2.9 5.6 3-.6 3-4.8 2.9-2.1 3 0 2.9 1.9 3 .2 2.9-4.1 3-6.4 3-3.8 2.9 .9 3 3.7 2.9 3 3 1 2.9-.2 3 .3 3 1.8 2.9 4.1 3 7 2.9 7.7 3 5 3 .2 2.9-2.8 3-2.7 2.9-.8 3 .5 3 .3 2.9-.1 3-.3 2.9-1.1 3-3.3 2.9-4.1 3-1.3 3 2.9 2.9 4.5 3 3 2.9 .2 3-2.3 2.9-3 3-2.4 3-2.8 2.9-5.5 3-7.8 2.9-6.8 3-3.3 3-1 2.9-1 3 .2 2.9 4.3 3 8.7 3 7.5 2.9 .5 3-6.3 2.9-8 3-5.2 2.9-2.2 3-1.9 3-3.4 2.9-3.5 3-2 2.9-1.9 3-2.7 2.9-1.1 3 2.6 3 3.7 2.9 .4 3-3.1 2.9-3.4 3-1.9 3-1.5 2.9-1.2 3 1.4 2.9 5.4 3 7.1 3 4.3 2.9-.6 3-3.8 2.9-4.1 3-2.7 2.9-.6 3 1.5 3 1.2 2.9-2.7 3-7.9 2.9-11.7 3-13.2 2.9-13.4 3-13.8 3-14 2.9-14.5 3-14.7 2.9-14 3-12.6 3-11.7 2.9-11.6 3-11.8 2.9-11.9 3-11.6 3-10.2 2.9-9 3-8.9 2.9-9.8 3-9.2 2.9-7.6 3-7 3-7.4 2.9-7 3-6 2.9-6 3-4.4 2.9-.2 3 4.4 3 6.6 2.9 4 3-1.9 2.9-6.6 3-7.3 3-5.7 2.9-4.1 3-1.8 2.9 2.7 3 9 3 14.3 2.9 13.6 3 4.8 2.9-6.5 3-12.7 2.9-11.3 3-6.2 3-1.2 2.9 1.4 3 1.1 2.9-1 3-2.9 2.9-2.6 3-.2 3 2.7 2.9 4 3 5 2.9 6.9 3 8.8 3 9.4 2.9 8.4 3 5.9 2.9 1.5 3-3.4 3-6.1 2.9-7.1 3-7.6 2.9-6.9 3-3.7 2.9 .8 3 3.3 3 2.2 2.9-1.7 3-5.6 2.9-5.4 3-.1 2.9 4.5 3 2.1 3-6.3 2.9-13.9 3-15.2 2.9-10.7 3-3.8 3 3.2 2.9 8.9 3 11.5 2.9 8.9 3 1.6 3-6.1 2.9-9.5 3-7.5 2.9-3.6 3-1.2 2.9 0 3-.1 3-1.5 2.9-2.7 3-1.5 2.9 .2 3-.4 2.9-1 3 1 3 3.3 2.9 1 3-5.8 2.9-11.2 3-10.7 3-5.8 2.9-.4 3 3.5 2.9 5.2 3 4.6 3 2.9 2.9 1.6 3 1 2.9 .9 3 .9 2.9 1.4 3 1 3-1.9 2.9-5.8 3-6.9 2.9-4.8 3-2.5 2.9-1.8 3-2.1 3-2.5 2.9-2.7 3-2.3 2.9-1 3-.6" stroke="#66ff00" stroke-width="7.5"/>
<path d="M941.2 1030.2l3-8.4 2.9-19.9 3-7.6 2.9 29.1 3 61.7 3 64.3 2.9 40.1 3 6.6 2.9-20.2 3-26.6 2.9-9.9 3 6.8 3 .6 2.9-20.8 3-30.9 2.9-19 3-.4 2.9 3.3 3-6.9 3-11.2 2.9-3.4 3 3.3 2.9 .9 3-4.9 3-5.1 2.9 1.9 3 9.3 2.9 10.1 3 6.6 3 3.7 2.9 1.1 3 .5 2.9-1.6 3-2.2 2.9-.8 3-.4 3-2.5 2.9-4.9 3-5.1 2.9-2.8 3 .3 2.9 3.5 3 5.9 3 7.1 2.9 7 3 5.2 2.9 2 3-1.5 3-3.3 2.9-2 3 1.2 2.9 3.5 3 3.1 3 1.1 2.9-.3 3-1.1 2.9-1.5 3-1.4 2.9 .2 3 2.4 3 2.9 2.9 0 3-4.1 2.9-6.8 3-6.8 2.9-4.2 3-1.4 3-1.5 2.9-4.2 3-5.3 2.9-2.2 3 2.2 3 3.7 2.9 2.2 3 .5 2.9 .2 3 1 3 1.2 2.9-.4 3-3.3 2.9-5.4 3-6 2.9-5.3 3-4.8 3-3.9 2.9-1.4 3 2.4 2.9 4.4 3 2.9 2.9-.5 3-1.7 3 1.3 2.9 6.6 3 10 2.9 8.8 3 4.5 3-.4 2.9-2.8 3-2.9 2.9-3.1 3-4.9 3-7 2.9-6.8 3-4.3 2.9-.8 3 1.4 2.9 1.6 3 .5 3-2.1 2.9-6.8 3-12.2 2.9-15 3-14.6 2.9-12.5 3-10.9 3-9.5 2.9-9.6 3-12.2 2.9-15 3-15.7 3-14.5 2.9-13.3 3-13.1 2.9-14.4 3-15.9 3-15.7 2.9-13 3-9.2 2.9-7.2 3-6.2 2.9-4.9 3-3.7 3-3.4 2.9-4.1 3-4.3 2.9-5.2 3-5.8 2.9-5.5 3-3.2 3 .1 2.9 2.2 3 1.7 2.9 1.3 3 3.4 3 6.2 2.9 6 3 1.4 2.9-4.3 3-6.9 3-5.9 2.9-3.5 3-1.9 2.9-.2 3 3.2 2.9 6.7 3 7.7 3 5.6 2.9 2.3 3-.3 2.9-2 3-2.8 2.9-3.3 3-3.5 3-3.4 2.9-2.8 3-.7 2.9 2.8 3 5.8 3 6.6 2.9 5.5 3 4.4 2.9 3.8 3 2.4 3-1.6 2.9-7.1 3-10.6 2.9-9.5 3-4.6 2.9 .8 3 4.4 3 5.3 2.9 2.5 3-2.8 2.9-6.2 3-3.9 2.9 2.1 3 7.2 3 8.2 2.9 5.5 3 .5 2.9-4.6 3-7.8 3-8.1 2.9-6.9 3-5.5 2.9-4.3 3-2.1 3 .7 2.9 2.6 3 2.8 2.9 2.5 3 3.2 2.9 4.1 3 3.7 3 1.2 2.9-3.7 3-10.2 2.9-15.2 3-14.5 2.9-7.8 3 .5 3 5.1 2.9 4.4 3 .1 2.9-5.6 3-10.2 3-10.5 2.9-6.7 3-1.7 2.9 1.8 3 4.1 3 5.2 2.9 2.9 3-1.5 2.9-4.5 3-3.7 2.9-.7 3 1.8 3 2.2 2.9-.6 3-5.2 2.9-8.1 3-8 2.9-6.3 3-4.3 3-2 2.9 1.5 3 4.4 2.9 4.7 3 1.9" stroke="#00ff22" stroke-width="7.5"/>
<path d="M941.2 1145.4l3-28.7 2.9-53.2 3-45.3 2.9-10 3 28.4 3 44.5 2.9 31.4 3 3.4 2.9-14.4 3-5.8 2.9 16.1 3 23 3 9.9 2.9-.1 3-.4 2.9-7.2 3-17.8 2.9-13.8 3 .9 3 4.2 2.9-5.4 3-9.7 2.9-1.4 3 7.3 3 5.6 2.9-1.6 3-5.6 2.9-5.1 3-3.5 3-3.2 2.9 .1 3 2.4 2.9 4.5 3 3.7 2.9-.1 3-4.2 3-6.3 2.9-6.3 3-5.6 2.9-4.2 3-1.4 2.9 1.4 3 2.3 3 1.5 2.9 2.2 3 5.2 2.9 7.2 3 5.1 3 .5 2.9-3.2 3-3.5 2.9-1.9 3 .2 3 1.1 2.9 1.1 3 1.1 2.9 1.1 3-.8 2.9-4.3 3-6.4 3-4.5 2.9-.1 3 3.8 2.9 6.7 3 7.7 2.9 6.4 3 2.8 3-2.1 2.9-6.7 3-10.1 2.9-11.5 3-11 3-9 2.9-6 3-2.1 2.9 2.4 3 5.5 3 5.1 2.9 2.4 3 .5 2.9-.6 3-3.5 2.9-7.4 3-7.5 3-3.3 2.9 .8 3 1.2 2.9-.5 3-.2 2.9 2.9 3 6.8 3 8.9 2.9 7 3 2.1 2.9-3 3-4.8 3-2.9 2.9 0 3 1.8 2.9 2.6 3 2.5 3 2.1 2.9 2.6 3 3.4 2.9 2.4 3-2.3 2.9-7.9 3-10 3-7.8 2.9-5.6 3-5.7 2.9-6.7 3-7.3 2.9-8.4 3-11.7 3-15.8 2.9-19.3 3-20.2 2.9-17.9 3-14.6 3-13.2 2.9-13.7 3-13.3 2.9-11.9 3-10.1 3-9.6 2.9-9.9 3-10.4 2.9-11.3 3-11.4 2.9-10.6 3-8.5 3-5.6 2.9-3.4 3-2.5 2.9-3.1 3-.9 2.9 3.8 3 7.9 3 7.8 2.9 2.8 3-4.2 2.9-8.8 3-10.6 3-10 2.9-6.9 3-2.4 2.9 1.3 3 3.1 3 4.4 2.9 5 3 5.3 2.9 6.3 3 7 2.9 4.9 3-1 3-7.7 2.9-11.8 3-10.8 2.9-5.5 3 1 2.9 6.3 3 10.1 3 10.5 2.9 6 3 0 2.9-2.8 3-1.5 3 .1 2.9 .1 3-.5 2.9-.4 3-.8 3-2.9 2.9-5.4 3-5.7 2.9-3.3 3-.7 2.9-.3 3-2.1 3-4.5 2.9-6.2 3-6 2.9-3.7 3 .5 2.9 4.9 3 7.1 3 5.3 2.9 .8 3-2.6 2.9-1.2 3 4.5 3 8.4 2.9 6.3 3 .3 2.9-4.5 3-6.1 3-5 2.9-2.4 3 .9 2.9 3 3 2.2 2.9-1.9 3-6.4 3-7.6 2.9-4.3 3-.4 2.9-.2 3-1.3 2.9 .7 3 5.5 3 8.1 2.9 5.9 3 1.2 2.9-3.5 3-7.1 3-9.9 2.9-11.1 3-11.1 2.9-9 3-4.9 3 .1 2.9 3.8 3 4.6 2.9 2.9 3 .6 2.9-1.2 3-2.3 3-2.5 2.9-1.6 3-1.5 2.9-3.7 3-6.7 2.9-8.4 3-7.3 3-4.9 2.9-2.6 3-1.8 2.9-2.1 3-1.9" stroke="#00e5ff" stroke-width="7.5"/>
<path d="M941.2 917.5l3 51.3 2.9 69.2 3 43.3 2.9 11.3 3 .8 3-1.4 2.9-13.6 3-22.1 2.9-12.4 3-.4 2.9-2.7 3-7.2 3 .7 2.9 12.2 3 14.9 2.9 11.9 3 12.3 2.9 13.7 3 11 3 6.1 2.9 2.2 3-5.1 2.9-16 3-21.4 3-15.4 2.9-3.3 3 7 2.9 10 3 7.4 3 4.9 2.9 4.2 3 .9 2.9-4.3 3-8.3 2.9-8.4 3-5.9 3-3.5 2.9-1.6 3 1.7 2.9 6.3 3 8.6 2.9 6.2 3 1.3 3-1.8 2.9-.2 3 3.5 2.9 4.6 3 1.9 3-1.1 2.9-2 3-1 2.9-.2 3 .2 3-.3 2.9-2 3-2.5 2.9 .7 3 6 2.9 7.9 3 3.4 3-4.6 2.9-9.7 3-7.7 2.9-.5 3 6.1 2.9 7.4 3 3.2 3-2.6 2.9-7.1 3-10.1 2.9-11.1 3-7.3 3 .4 2.9 6.4 3 5.1 2.9-2.4 3-9.2 3-9.4 2.9-4.7 3 1.1 2.9 5.2 3 7.2 2.9 7.8 3 8.2 3 8.1 2.9 6.4 3 1 2.9-7.2 3-13.3 2.9-12.5 3-5.1 3 3.1 2.9 7.1 3 5.4 2.9 0 3-6.9 3-12.3 2.9-11.4 3-3.5 2.9 4.8 3 7.9 3 6.5 2.9 4.1 3 2.1 2.9-1 3-4.2 2.9-5.7 3-5.4 3-4.2 2.9-3.9 3-4.4 2.9-5.1 3-6.6 2.9-9.6 3-13.3 3-15.2 2.9-15.4 3-15.1 2.9-15.5 3-15.3 3-14.7 2.9-13.9 3-12.9 2.9-12.3 3-12.3 3-12.1 2.9-11.5 3-10.8 2.9-10.3 3-9 2.9-7.4 3-6.1 3-4.5 2.9-2.9 3-2.1 2.9-4 3-5.5 2.9-5.7 3-5.1 3-4.5 2.9-3.3 3-.2 2.9 3.9 3 6.1 3 5.1 2.9 2.3 3-.3 2.9-1.1 3-.2 3 1.2 2.9 2 3 1.3 2.9-1.9 3-6.3 2.9-8.3 3-4.8 3 2.3 2.9 8.4 3 10.2 2.9 7.2 3 1.5 2.9-2.7 3-2.1 3 1.8 2.9 5.2 3 5.8 2.9 4.4 3 1.7 3-2.2 2.9-5.5 3-6.6 2.9-6.9 3-8.5 3-9.6 2.9-7.5 3-2.3 2.9 4.1 3 9.7 2.9 12.3 3 10.5 3 6.1 2.9 .8 3-4.7 2.9-9.9 3-11.8 2.9-6.8 3 2.7 3 9.5 2.9 9 3 3.5 2.9-2 3-6.4 3-10.7 2.9-12.5 3-8.7 2.9-.9 3 4.3 3 3.2 2.9-.5 3-1 2.9 1.1 3 1.2 2.9-1.7 3-3.2 3-.2 2.9 5.5 3 9.4 2.9 8.6 3 3.6 2.9-1.6 3-4.5 3-5.3 2.9-5.3 3-5.8 2.9-6.8 3-6.8 3-4.4 2.9-1.4 3-2.2 2.9-6.9 3-9.8 3-7.3 2.9-2.7 3-1 2.9-2.9 3-5.3 2.9-6.5 3-6.3 3-6.3 2.9-5.1 3-1.4 2.9 3.5 3 6 2.9 4.8 3 1.7 3-1.4 2.9-4.2 3-7.1 2.9-8.7 3-5.8" stroke="#0070ff" stroke-width="7.5"/>
<path d="M941.2 1033.4l3 15.6 2.9 18.2 3 4.8 2.9-12.9 3-14.2 3-1.8 2.9 7.3 3 11.8 2.9 19.7 3 26.5 2.9 18.1 3-3.6 3-19.2 2.9-16.2 3-2.1 2.9 7.2 3 5.2 2.9-3.4 3-12.4 3-16.2 2.9-11.1 3-1.1 2.9 4.4 3 2.9 3 .8 2.9 4.2 3 10.4 2.9 12.4 3 9.2 3 5.5 2.9 .5 3-3.1 2.9-4.4 3-4.3 2.9-4.1 3-4.1 3-2.9 2.9-.3 3 3.6 2.9 7.8 3 8.3 2.9 3.2 3-4.5 3-8.9 2.9-7.4 3-3.3 2.9 .3 3 3.7 3 7 2.9 6.4 3 .8 2.9-6.1 3-8.1 3-3.7 2.9 3.5 3 8.4 2.9 8.3 3 4.6 2.9 .6 3-2.3 3-4.2 2.9-6.4 3-7.9 2.9-5.8 3-.5 2.9 4.3 3 4.8 3 .4 2.9-5.8 3-9.5 2.9-8.4 3-4 3 1.3 2.9 4.9 3 4 2.9-1.3 3-6.7 3-7.4 2.9-2.8 3 3 2.9 5.4 3 3.9 2.9 2.3 3 3.1 3 4.1 2.9 2.5 3-2 2.9-7.3 3-10.9 2.9-10.6 3-5.9 3 .2 2.9 4 3 5 2.9 4.6 3 3.4 3 1.6 2.9 0 3-.8 2.9-2 3-4.1 3-4.9 2.9-3.3 3 0 2.9 2.4 3 3.1 2.9 2.9 3 1.2 3-2.6 2.9-8.4 3-13.3 2.9-14.9 3-13.2 2.9-10.7 3-10.2 3-10.7 2.9-12.6 3-14.7 2.9-15.8 3-15.1 3-13.8 2.9-12.6 3-11.8 2.9-12.2 3-12.9 3-11.4 2.9-8.1 3-6.2 2.9-8.2 3-10.8 2.9-11 3-7.8 3-3.3 2.9-.8 3-1.2 2.9-5 3-7.8 2.9-7.9 3-3.1 3 4.3 2.9 9.5 3 8.9 2.9 4.4 3-.7 3-4.5 2.9-6.9 3-7.5 2.9-5.6 3-2.6 3-1.6 2.9-2.9 3-3.1 2.9 .5 3 6 2.9 9 3 7.4 3 2.1 2.9-4.2 3-9.4 2.9-12.2 3-10.7 2.9-5 3 2.6 3 7.2 2.9 6.5 3 3.5 2.9 1.7 3 .9 3 0 2.9-.8 3-.7 2.9-1 3-2.9 3-4.6 2.9-3.4 3-.2 2.9 2.9 3 5.6 2.9 7.5 3 7.4 3 4.9 2.9 .5 3-4.5 2.9-8 3-7 2.9-1.4 3 4.1 3 5.1 2.9 1.5 3-1.4 2.9 0 3 4.2 3 6.5 2.9 4.5 3-.4 2.9-4.5 3-5.2 3-3 2.9-.2 3 .2 2.9-1.9 3-4.5 2.9-4.9 3-3.4 3-2.6 2.9-2.5 3-1.7 2.9 1.3 3 4.1 2.9 3.8 3 .3 3-2.9 2.9-3.9 3-4.9 2.9-7 3-8.7 3-6.8 2.9-.8 3 6.6 2.9 11.9 3 11.8 3 5.2 2.9-5.2 3-13.3 2.9-14.4 3-10.1 2.9-5 3-2.9 3-4.1 2.9-5.3 3-5.6 2.9-6.2 3-7.8 2.9-8.4 3-6.1 3-.1 2.9 7 3 11 2.9 9.9 3 4.4" stroke="#2800ff" stroke-width="7.5"/>
<path d="M941.2 857.8l3 48.6 2.9 73.6 3 74.9 2.9 62 3 34 3 5.4 2.9-5.5 3-4.3 2.9-5.6 3-10 2.9-8.4 3-3.8 3-8 2.9-14.5 3-9.2 2.9 2.9 3 8.3 2.9 6.8 3 8.2 3 11.3 2.9 6.6 3-7 2.9-18 3-20.2 3-14.7 2.9-4.9 3 5.1 2.9 9.7 3 7.3 3 2 2.9-2.3 3-5.4 2.9-4.7 3-.8 2.9 2.6 3 2.6 3 0 2.9-2.8 3-3.1 2.9 .6 3 5.5 2.9 7.4 3 4.6 3 .1 2.9-2.7 3-1.3 2.9 3.6 3 8.9 3 10.1 2.9 4.8 3-4.5 2.9-11.6 3-12.3 3-7.1 2.9-.1 3 4.9 2.9 6.8 3 5.6 2.9 3.3 3 .8 3-1.6 2.9-3.6 3-4.6 2.9-3.9 3-2.7 2.9-1.6 3-1.9 3-3.3 2.9-4 3-3 2.9-2 3-2.8 3-5.7 2.9-8.2 3-8.5 2.9-7 3-3.8 3 1.2 2.9 7.1 3 11.5 2.9 11.5 3 8.1 2.9 4.6 3 2.6 3 1.9 2.9 .6 3-2.5 2.9-6.5 3-8.3 2.9-6.5 3-2.7 3 .1 2.9 .1 3-1.6 2.9-3.6 3-4.4 3-2.7 2.9 1.8 3 6.4 2.9 7.2 3 3.5 3-1.3 2.9-4.7 3-6.4 2.9-7 3-7.1 2.9-5.8 3-3.4 3-1.7 2.9-3.8 3-8.6 2.9-11.6 3-10.8 2.9-8.7 3-8.8 3-9.2 2.9-9.9 3-10.8 2.9-11.8 3-12.5 3-13.7 2.9-15.3 3-15.9 2.9-14.7 3-12.1 3-9.7 2.9-8 3-7.5 2.9-9.2 3-10.8 2.9-11.8 3-11.9 3-10.9 2.9-8.4 3-5.5 2.9-5.4 3-5.3 2.9-2 3 4.6 3 9.7 2.9 8.1 3 1.7 2.9-3.2 3-3.4 3-1.2 2.9 .8 3 3 2.9 5.7 3 6.1 3 2.2 2.9-2.8 3-5.1 2.9-3.6 3 .4 2.9 4 3 4.1 3 .2 2.9-4.8 3-6.7 2.9-3.5 3 2.9 2.9 8.5 3 10.1 3 8.1 2.9 3.7 3-2.8 2.9-9.5 3-12 3-8.4 2.9-2.3 3 1.8 2.9 3.3 3 2.9 3 2.3 2.9 3.3 3 6.1 2.9 7.2 3 4.1 2.9-1.2 3-4.6 3-5.1 2.9-4.8 3-5.2 2.9-7.2 3-9.4 2.9-9 3-4.6 3 2.5 2.9 7.7 3 7.3 2.9 1 3-6 3-7.6 2.9-1.4 3 6.6 2.9 9 3 5 3 .6 2.9-1.3 3-2.5 2.9-4.2 3-4.7 2.9-3.3 3-1.4 3-1.4 2.9-3.2 3-5.1 2.9-5.4 3-4.9 2.9-5.2 3-5.4 3-4.1 2.9-2.2 3-.2 2.9 2.7 3 6.5 3 8.9 2.9 7.4 3 3 2.9-1.1 3-2.5 3-1.7 2.9-.4 3 .7 2.9 .9 3 0 2.9-3 3-7 3-9.5 2.9-9 3-6.9 2.9-5.7 3-6.4 2.9-8.8 3-10.2 3-7.7 2.9-3 3 .1 2.9 .6 3-.4" stroke="#8000dd" stroke-width="7.5"/>
<path d="M941.2 919l3-5 2.9-7.9 3 20.4 2.9 61 3 76.6 3 58.9 2.9 28.9 3-.8 2.9-28.4 3-47.9 2.9-51.8 3-35.8 3-2.1 2.9 32.7 3 44.8 2.9 29 3 5.2 2.9-3.9 3 2 3 7.4 2.9 7.2 3 7.4 2.9 6.9 3 1.3 3-6.4 2.9-11.7 3-13.1 2.9-10.9 3-6.5 3-1.2 2.9 3.2 3 3.5 2.9 2 3 .1 2.9-.9 3-2.2 3-3.8 2.9-4.1 3-2.1 2.9 .6 3 1 2.9-.3 3-.5 3 2.4 2.9 5.8 3 5.9 2.9 3 3 .4 3-.3 2.9 .7 3 1.2 2.9-.3 3-3.4 3-5 2.9-2.4 3 2.5 2.9 5.9 3 6.7 2.9 6.1 3 4.1 3-.1 2.9-5.1 3-8.5 2.9-8.3 3-5.8 2.9-3.8 3-3.5 3-2.8 2.9-.7 3 .6 2.9-.4 3-2.2 3-2.8 2.9-1.5 3-.4 2.9-1.6 3-4.3 3-6.4 2.9-5.9 3-2.6 2.9 2.7 3 6.8 2.9 5.9 3 0 3-6.3 2.9-7.9 3-5.4 2.9-2.1 3 .5 2.9 3 3 4 3 3.3 2.9 2.3 3 2.1 2.9 3 3 3.4 3 2.4 2.9-.6 3-4.8 2.9-7.1 3-6.4 3-3.4 2.9 .3 3 2 2.9 .4 3-2.6 2.9-4.1 3-2.8 3 .1 2.9 1.1 3-.7 2.9-3.6 3-6.8 2.9-11.3 3-16.1 3-18 2.9-17.7 3-16.4 2.9-15.1 3-13.2 3-12 2.9-12.1 3-12.7 2.9-12.7 3-11.1 3-8.7 2.9-6.6 3-5.9 2.9-7.3 3-8.6 2.9-10.1 3-11.6 3-11.8 2.9-9.9 3-6.2 2.9-2.4 3 2.8 2.9 6.5 3 5.8 3 2.1 2.9-.3 3 .4 2.9 1.6 3 1.3 3-.3 2.9-2.2 3-2.9 2.9-2.3 3-1.3 3-1.5 2.9-2 3-.9 2.9 1.4 3 3.1 2.9 4.3 3 6.1 3 8 2.9 7.4 3 4 2.9-.5 3-3.9 2.9-7.2 3-9.6 3-9.2 2.9-5.6 3-1.4 2.9 1.2 3 2.1 3 2.6 2.9 2.5 3 1.7 2.9 1.3 3 1.9 3 2.2 2.9 1.4 3 .1 2.9-.5 3-1.2 2.9-1.7 3-1.8 3-2.2 2.9-2.9 3-2.1 2.9 .4 3 2 2.9 1.1 3-.4 3-.3 2.9 .9 3 1.8 2.9 2.2 3 2.1 3 1.4 2.9-.4 3-3.8 2.9-7.1 3-8.4 3-6.4 2.9-3.9 3-2.9 2.9-2.5 3-1 2.9 1.4 3 2.9 3 3.2 2.9 2.7 3 1.7 2.9 1.4 3 1.2 2.9-.9 3-4.5 3-7.6 2.9-8.3 3-6.4 2.9-3.4 3-1.7 3-2.5 2.9-3.9 3-3.2 2.9-1.5 3-1.3 3-2.2 2.9-2.8 3-3.6 2.9-3.9 3-2.3 2.9 .4 3 1.8 3 .1 2.9-3.2 3-6.8 2.9-8.6 3-7.6 2.9-5.6 3-4.1 3-3.7 2.9-3.6 3-4 2.9-4.3 3-3.1" stroke="#660066" stroke-width="7.5"/>
</g>
<clipPath id="cpdash"><rect x="0" y="614.6" width="1880" height="1976"/></clipPath>
<g clip-path="url(#cpdash)">
<path d="M402.4 598.4V1840" stroke="#000" stroke-width="7" stroke-linecap="round" fill="none" stroke-dasharray="23 37.75"/>
<path d="M698.3 654.6V1840" stroke="#000" stroke-width="7" stroke-linecap="round" fill="none" stroke-dasharray="23 37.75"/>
</g>
<path d="M204.3 1470H898" stroke="#000" stroke-width="7" stroke-linecap="round" fill="none" stroke-dasharray="23 37.75"/>
<path d="M1178.7 645.4V1840" stroke="#000" stroke-width="7" stroke-linecap="round" fill="none" stroke-dasharray="23 37.75"/>
<path d="M1415.1 648.8V1840" stroke="#000" stroke-width="7" stroke-linecap="round" fill="none" stroke-dasharray="23 37.75"/>
<path d="M946 1562H1645" stroke="#000" stroke-width="7" stroke-linecap="round" fill="none" stroke-dasharray="23 37.75"/>
<rect x="522.5" y="1237.8" width="53.8" height="596.5" fill="#fff" stroke="#000" stroke-width="1.6"/>
<rect x="1269.6" y="1237.8" width="52.1" height="596.5" fill="#fff" stroke="#000" stroke-width="1.6"/>
<linearGradient id="cbg" x1="0" y1="0" x2="0" y2="1"><stop offset="0.0000" stop-color="#5a2800"/><stop offset="0.0877" stop-color="#8a4400"/><stop offset="0.1669" stop-color="#c06000"/><stop offset="0.2007" stop-color="#e07000"/><stop offset="0.2513" stop-color="#ff8000"/><stop offset="0.3035" stop-color="#ff9c20"/><stop offset="0.3541" stop-color="#ffb038"/><stop offset="0.4064" stop-color="#ffcc50"/><stop offset="0.4401" stop-color="#ffdd60"/><stop offset="0.4570" stop-color="#ffe868"/><stop offset="0.4907" stop-color="#fafc78"/><stop offset="0.5261" stop-color="#eef078"/><stop offset="0.5548" stop-color="#e2ec70"/><stop offset="0.5902" stop-color="#d0e268"/><stop offset="0.6239" stop-color="#c0d862"/><stop offset="0.6577" stop-color="#b0cd5c"/><stop offset="0.6914" stop-color="#9ec152"/><stop offset="0.7268" stop-color="#8cb648"/><stop offset="0.7605" stop-color="#78aa3c"/><stop offset="0.7943" stop-color="#68a034"/><stop offset="0.8297" stop-color="#52922a"/><stop offset="0.8583" stop-color="#468a26"/><stop offset="0.8769" stop-color="#3a8420"/><stop offset="0.9123" stop-color="#2a7818"/><stop offset="0.9460" stop-color="#1a6e10"/><stop offset="0.9764" stop-color="#0a6408"/><stop offset="1.0000" stop-color="#005e00"/></linearGradient>
<rect x="1769" y="1235" width="70.4" height="6" fill="#5f4038"/>
<rect x="1769" y="1241" width="70.4" height="593" fill="url(#cbg)"/>
<rect x="1769" y="1834" width="70.4" height="6.1" fill="#007d00"/>
<rect x="195.3" y="18.8" width="710.1" height="594.8" fill="none" stroke="#000" stroke-width="2.2"/>
<rect x="195.3" y="613.6" width="710.1" height="594.8" fill="none" stroke="#000" stroke-width="2.2"/>
<rect x="195.3" y="1239" width="710.1" height="595.3" fill="none" stroke="#000" stroke-width="2.2"/>
<rect x="941.2" y="18.8" width="710" height="594.8" fill="none" stroke="#000" stroke-width="2.2"/>
<rect x="941.2" y="613.6" width="710" height="594.8" fill="none" stroke="#000" stroke-width="2.2"/>
<rect x="941.2" y="1239" width="710" height="595.3" fill="none" stroke="#000" stroke-width="2.2"/>
<path d="M254.5 18.8V31.3M402.4 18.8V31.3M550.3 18.8V31.3M698.3 18.8V31.3M846.2 18.8V31.3M328.4 18.8V25.8M476.4 18.8V25.8M624.3 18.8V25.8M772.3 18.8V25.8" stroke="#000" stroke-width="2" fill="none"/>
<path d="M254.5 601.1V626.1M402.4 601.1V626.1M550.3 601.1V626.1M698.3 601.1V626.1M846.2 601.1V626.1M328.4 606.6V620.6M476.4 606.6V620.6M624.3 606.6V620.6M772.3 606.6V620.6" stroke="#000" stroke-width="2" fill="none"/>
<path d="M254.5 1195.9V1220.9M402.4 1195.9V1220.9M550.3 1195.9V1220.9M698.3 1195.9V1220.9M846.2 1195.9V1220.9M328.4 1201.4V1215.4M476.4 1201.4V1215.4M624.3 1201.4V1215.4M772.3 1201.4V1215.4" stroke="#000" stroke-width="2" fill="none"/>
<path d="M254.5 1239V1251.5M402.4 1239V1251.5M550.3 1239V1251.5M698.3 1239V1251.5M846.2 1239V1251.5M328.4 1239V1246M476.4 1239V1246M624.3 1239V1246M772.3 1239V1246" stroke="#000" stroke-width="2" fill="none"/>
<path d="M254.5 1834.3V1846.8M402.4 1834.3V1846.8M550.3 1834.3V1846.8M698.3 1834.3V1846.8M846.2 1834.3V1846.8M328.4 1834.3V1841.3M476.4 1834.3V1841.3M624.3 1834.3V1841.3M772.3 1834.3V1841.3" stroke="#000" stroke-width="2" fill="none"/>
<path d="M1000.4 18.8V31.3M1148.3 18.8V31.3M1296.2 18.8V31.3M1444.1 18.8V31.3M1592 18.8V31.3M1074.3 18.8V25.8M1222.2 18.8V25.8M1370.2 18.8V25.8M1518.1 18.8V25.8" stroke="#000" stroke-width="2" fill="none"/>
<path d="M1000.4 601.1V626.1M1148.3 601.1V626.1M1296.2 601.1V626.1M1444.1 601.1V626.1M1592 601.1V626.1M1074.3 606.6V620.6M1222.2 606.6V620.6M1370.2 606.6V620.6M1518.1 606.6V620.6" stroke="#000" stroke-width="2" fill="none"/>
<path d="M1000.4 1195.9V1220.9M1148.3 1195.9V1220.9M1296.2 1195.9V1220.9M1444.1 1195.9V1220.9M1592 1195.9V1220.9M1074.3 1201.4V1215.4M1222.2 1201.4V1215.4M1370.2 1201.4V1215.4M1518.1 1201.4V1215.4" stroke="#000" stroke-width="2" fill="none"/>
<path d="M1000.4 1239V1251.5M1148.3 1239V1251.5M1296.2 1239V1251.5M1444.1 1239V1251.5M1592 1239V1251.5M1074.3 1239V1246M1222.2 1239V1246M1370.2 1239V1246M1518.1 1239V1246" stroke="#000" stroke-width="2" fill="none"/>
<path d="M1000.4 1834.3V1846.8M1148.3 1834.3V1846.8M1296.2 1834.3V1846.8M1444.1 1834.3V1846.8M1592 1834.3V1846.8M1074.3 1834.3V1841.3M1222.2 1834.3V1841.3M1370.2 1834.3V1841.3M1518.1 1834.3V1841.3" stroke="#000" stroke-width="2" fill="none"/>
<path d="M182.8 613.6H195.3M182.8 494.6H195.3M182.8 375.7H195.3M182.8 256.7H195.3M182.8 137.8H195.3M182.8 18.8H195.3M188.3 554.1H195.3M188.3 435.2H195.3M188.3 316.2H195.3M188.3 197.2H195.3M188.3 78.3H195.3" stroke="#000" stroke-width="2" fill="none"/>
<path d="M892.9 613.6H905.4M892.9 494.6H905.4M892.9 375.7H905.4M892.9 256.7H905.4M892.9 137.8H905.4M892.9 18.8H905.4M898.4 554.1H905.4M898.4 435.2H905.4M898.4 316.2H905.4M898.4 197.2H905.4M898.4 78.3H905.4" stroke="#000" stroke-width="2" fill="none"/>
<path d="M941.2 613.6H953.7M941.2 494.6H953.7M941.2 375.7H953.7M941.2 256.7H953.7M941.2 137.8H953.7M941.2 18.8H953.7M941.2 554.1H948.2M941.2 435.2H948.2M941.2 316.2H948.2M941.2 197.2H948.2M941.2 78.3H948.2" stroke="#000" stroke-width="2" fill="none"/>
<path d="M1638.7 613.6H1651.2M1638.7 494.6H1651.2M1638.7 375.7H1651.2M1638.7 256.7H1651.2M1638.7 137.8H1651.2M1638.7 18.8H1651.2M1644.2 554.1H1651.2M1644.2 435.2H1651.2M1644.2 316.2H1651.2M1644.2 197.2H1651.2M1644.2 78.3H1651.2" stroke="#000" stroke-width="2" fill="none"/>
<path d="M182.8 1208.4H195.3M182.8 1109.3H195.3M182.8 1010.1H195.3M182.8 911H195.3M182.8 811.9H195.3M182.8 712.7H195.3M182.8 613.6H195.3M188.3 1158.8H195.3M188.3 1059.7H195.3M188.3 960.6H195.3M188.3 861.4H195.3M188.3 762.3H195.3M188.3 663.2H195.3" stroke="#000" stroke-width="2" fill="none"/>
<path d="M892.9 1208.4H905.4M892.9 1109.3H905.4M892.9 1010.1H905.4M892.9 911H905.4M892.9 811.9H905.4M892.9 712.7H905.4M892.9 613.6H905.4M898.4 1158.8H905.4M898.4 1059.7H905.4M898.4 960.6H905.4M898.4 861.4H905.4M898.4 762.3H905.4M898.4 663.2H905.4" stroke="#000" stroke-width="2" fill="none"/>
<path d="M941.2 1208.4H953.7M941.2 1109.3H953.7M941.2 1010.1H953.7M941.2 911H953.7M941.2 811.9H953.7M941.2 712.7H953.7M941.2 613.6H953.7M941.2 1158.8H948.2M941.2 1059.7H948.2M941.2 960.6H948.2M941.2 861.4H948.2M941.2 762.3H948.2M941.2 663.2H948.2" stroke="#000" stroke-width="2" fill="none"/>
<path d="M1638.7 1208.4H1651.2M1638.7 1109.3H1651.2M1638.7 1010.1H1651.2M1638.7 911H1651.2M1638.7 811.9H1651.2M1638.7 712.7H1651.2M1638.7 613.6H1651.2M1644.2 1158.8H1651.2M1644.2 1059.7H1651.2M1644.2 960.6H1651.2M1644.2 861.4H1651.2M1644.2 762.3H1651.2M1644.2 663.2H1651.2" stroke="#000" stroke-width="2" fill="none"/>
<path d="M182.8 1239H195.3M182.8 1326H195.3M182.8 1413H195.3M182.8 1500H195.3M182.8 1587H195.3M182.8 1674H195.3M182.8 1761H195.3M188.3 1282.5H195.3M188.3 1369.5H195.3M188.3 1456.5H195.3M188.3 1543.5H195.3M188.3 1630.5H195.3M188.3 1717.5H195.3M188.3 1804.5H195.3" stroke="#000" stroke-width="2" fill="none"/>
<path d="M892.9 1239H905.4M892.9 1326H905.4M892.9 1413H905.4M892.9 1500H905.4M892.9 1587H905.4M892.9 1674H905.4M892.9 1761H905.4M898.4 1282.5H905.4M898.4 1369.5H905.4M898.4 1456.5H905.4M898.4 1543.5H905.4M898.4 1630.5H905.4M898.4 1717.5H905.4M898.4 1804.5H905.4" stroke="#000" stroke-width="2" fill="none"/>
<path d="M941.2 1239H953.7M941.2 1326H953.7M941.2 1413H953.7M941.2 1500H953.7M941.2 1587H953.7M941.2 1674H953.7M941.2 1761H953.7M941.2 1282.5H948.2M941.2 1369.5H948.2M941.2 1456.5H948.2M941.2 1543.5H948.2M941.2 1630.5H948.2M941.2 1717.5H948.2M941.2 1804.5H948.2" stroke="#000" stroke-width="2" fill="none"/>
<path d="M1638.7 1239H1651.2M1638.7 1326H1651.2M1638.7 1413H1651.2M1638.7 1500H1651.2M1638.7 1587H1651.2M1638.7 1674H1651.2M1638.7 1761H1651.2M1644.2 1282.5H1651.2M1644.2 1369.5H1651.2M1644.2 1456.5H1651.2M1644.2 1543.5H1651.2M1644.2 1630.5H1651.2M1644.2 1717.5H1651.2M1644.2 1804.5H1651.2" stroke="#000" stroke-width="2" fill="none"/>
<text x="165.5" y="34.8" font-size="48" text-anchor="end" fill="#000">1.0</text>
<text x="165.5" y="153.8" font-size="48" text-anchor="end" fill="#000">0.8</text>
<text x="165.5" y="272.7" font-size="48" text-anchor="end" fill="#000">0.6</text>
<text x="165.5" y="391.7" font-size="48" text-anchor="end" fill="#000">0.4</text>
<text x="165.5" y="510.6" font-size="48" text-anchor="end" fill="#000">0.2</text>
<text x="165.5" y="629.6" font-size="48" text-anchor="end" fill="#000">30</text>
<text x="165.5" y="728.7" font-size="48" text-anchor="end" fill="#000">20</text>
<text x="165.5" y="827.9" font-size="48" text-anchor="end" fill="#000">10</text>
<text x="165.5" y="927" font-size="48" text-anchor="end" fill="#000">0</text>
<text x="165.5" y="1026.1" font-size="48" text-anchor="end" fill="#000">−10</text>
<text x="165.5" y="1125.3" font-size="48" text-anchor="end" fill="#000">−20</text>
<text x="165.5" y="1255" font-size="48" text-anchor="end" fill="#000">140</text>
<text x="165.5" y="1342" font-size="48" text-anchor="end" fill="#000">120</text>
<text x="165.5" y="1429" font-size="48" text-anchor="end" fill="#000">100</text>
<text x="165.5" y="1516" font-size="48" text-anchor="end" fill="#000">80</text>
<text x="165.5" y="1603" font-size="48" text-anchor="end" fill="#000">60</text>
<text x="165.5" y="1690" font-size="48" text-anchor="end" fill="#000">40</text>
<text x="165.5" y="1777" font-size="48" text-anchor="end" fill="#000">20</text>
<text x="254.5" y="1899.3" font-size="48" text-anchor="middle" fill="#000">−50</text>
<text x="402.4" y="1899.3" font-size="48" text-anchor="middle" fill="#000">−25</text>
<text x="698.3" y="1899.3" font-size="48" text-anchor="middle" fill="#000">25</text>
<text x="846.2" y="1899.3" font-size="48" text-anchor="middle" fill="#000">50</text>
<text x="551.8" y="1963.5" font-size="48" text-anchor="middle"><tspan font-style="italic">V</tspan><tspan font-size="35" dy="11.5">BIAS</tspan><tspan dy="-11.5"> (mV)</tspan></text>
<text x="1000.4" y="1899.3" font-size="48" text-anchor="middle" fill="#000">−50</text>
<text x="1148.3" y="1899.3" font-size="48" text-anchor="middle" fill="#000">−25</text>
<text x="1444.1" y="1899.3" font-size="48" text-anchor="middle" fill="#000">25</text>
<text x="1592" y="1899.3" font-size="48" text-anchor="middle" fill="#000">50</text>
<text x="1297.7" y="1963.5" font-size="48" text-anchor="middle"><tspan font-style="italic">V</tspan><tspan font-size="35" dy="11.5">BIAS</tspan><tspan dy="-11.5"> (mV)</tspan></text>
<text transform="translate(43.8 315.6) rotate(-90)" font-size="48" text-anchor="middle"><tspan font-style="italic">g</tspan> = <tspan font-style="italic">G</tspan>/<tspan font-style="italic">G</tspan><tspan font-size="35" dy="11">60 mV</tspan></text>
<text transform="translate(43.5 914) rotate(-90)" font-size="48" text-anchor="middle">d(<tspan font-style="italic">g</tspan>)/d<tspan font-style="italic">V</tspan> (V<tspan font-size="33" dy="-17">−1</tspan><tspan dy="17">)</tspan></text>
<text transform="translate(52.8 1535) rotate(-90)" font-size="48" text-anchor="middle"><tspan font-style="italic">T</tspan> (K)</text>
<text transform="translate(1732 1537) rotate(-90)" font-size="48.7" text-anchor="middle">[d(<tspan font-style="italic">g</tspan>)/d<tspan font-style="italic">V</tspan>]<tspan font-size="35" dy="-18">140 K</tspan><tspan dy="18">/d(</tspan><tspan font-style="italic">g</tspan>)/d<tspan font-style="italic">V</tspan></text>
<text transform="translate(212.45 85.70) scale(0.9250 1.0839)" font-size="60" font-weight="bold" fill="#000">a</text>
<text transform="translate(212.87 687.80) scale(1.0333 1.0116)" font-size="60" font-weight="bold" fill="#000">b</text>
<text transform="translate(211.01 1312.70) scale(0.9966 1.0677)" font-size="60" font-weight="bold" fill="#fff">c</text>
<text transform="translate(953.63 86.40) scale(0.9871 1.0093)" font-size="60" font-weight="bold" fill="#fff">d</text>
<text transform="translate(957.12 685.20) scale(1.0414 1.0516)" font-size="60" font-weight="bold" fill="#000">e</text>
<text transform="translate(963.93 1310.00) scale(0.9737 1.0163)" font-size="60" font-weight="bold" fill="#fff">f</text>
<text transform="translate(514.32 74.50) scale(0.9924 1.0667)" font-size="48" fill="#808080">ON</text>
<text transform="translate(1249.31 74.60) scale(0.9935 1.0667)" font-size="48" fill="#808080">OFF</text>
<text transform="translate(528.08 174.80) scale(0.9810 1.0545)" font-size="48" fill="#800000">140 K</text>
<text transform="translate(352.21 354.60) scale(0.9927 1.0455)" font-size="48" fill="#800080">3.2 K</text>
<text transform="translate(1238.88 269.80) scale(0.9810 1.0545)" font-size="48" fill="#800000">140 K</text>
<text transform="translate(1044.01 462.40) scale(0.9963 1.0758)" font-size="48" fill="#800080">3.2 K</text>
<text transform="translate(1855.00 1253.80) scale(1.0000 1.0333)" font-size="48" fill="#000">0</text>
<text transform="translate(1855.00 1851.50) scale(1.0000 1.0121)" font-size="48" fill="#000">1</text>
</svg></body></html>
